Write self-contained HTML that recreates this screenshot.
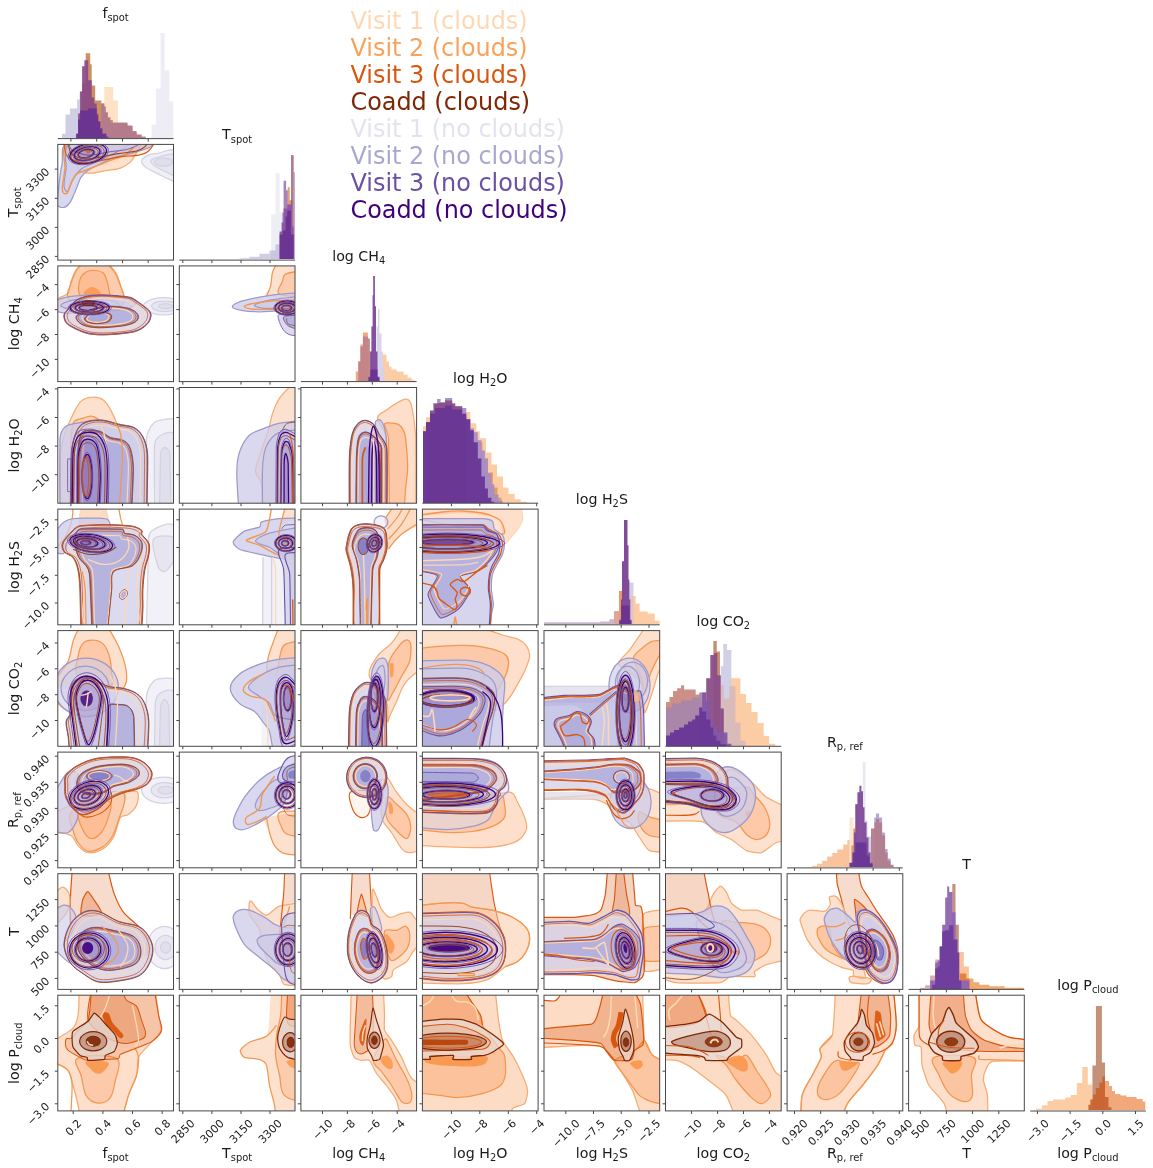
<!DOCTYPE html>
<html lang="en"><head><meta charset="utf-8"><title>Corner plot</title>
<style>
html,body{margin:0;padding:0;background:#fff}
svg{display:block}
text{font-family:"DejaVu Sans","Liberation Sans",sans-serif}
.ax{fill:none;stroke:#484848;stroke-width:1}
.tk{fill:none;stroke:#484848;stroke-width:1}
.tl{font-size:11px;fill:#1a1a1a}
</style></head>
<body>
<svg width="1153" height="1168" viewBox="0 0 1153 1168">
<rect width="1153" height="1168" fill="#fff"/>
<clipPath id="c10"><rect x="57.8" y="144.4" width="115.7" height="115.7"/></clipPath><g clip-path="url(#c10)"><path d="M141.5 161.1C142 159.1 145.7 156.4 148.5 155.1C151.4 153.7 154.5 153.6 158.6 153.1C162.7 152.5 172.4 147 175.2 151.5C178 156.1 175.8 177.6 175.2 180.2C174.6 182.8 171.1 180.1 168.7 179.2C166.2 178.4 163.3 176.5 160.6 175.2C157.9 173.8 155.1 172.5 152.6 171.2C150.1 169.8 147.4 168.8 145.5 167.1C143.7 165.5 141 163.1 141.5 161.1Z" fill="#dcdbe9" fill-opacity="0.45" stroke="#d3d2e4" stroke-width="1.25"/>
<path d="M150.6 161.1C150.9 159.4 155.1 157.9 158.6 157.1C162.1 156.2 172.4 152.2 175.2 155.1C178 157.9 176.6 171.3 175.2 174.2C173.8 177 169.8 173.3 166.7 172.2C163.6 171 159.3 169 156.6 167.1C153.9 165.3 150.2 162.8 150.6 161.1Z" fill="#dcdbe9" fill-opacity="0.45" stroke="#d3d2e4" stroke-width="1.25"/>
<path d="M172.7 162.1C172.7 162.8 172.2 163.5 171.5 164.1C170.7 164.7 169.5 165.3 168.2 165.6C166.9 165.9 165.1 166.1 163.6 166.1C162.1 166.1 160.4 165.9 159.1 165.6C157.8 165.3 156.5 164.7 155.8 164.1C155.1 163.5 154.6 162.8 154.6 162.1C154.6 161.4 155.1 160.7 155.8 160.1C156.5 159.5 157.8 159 159.1 158.6C160.4 158.3 162.1 158.1 163.6 158.1C165.1 158.1 166.9 158.3 168.2 158.6C169.5 159 170.7 159.5 171.5 160.1C172.2 160.7 172.7 161.4 172.7 162.1Z" fill="#dcdbe9" fill-opacity="0.68" stroke="#d3d2e4" stroke-width="1.25"/>
<path d="M78.1 142.8C70.1 145.6 76.9 161.1 77.1 164.1C77.3 167.2 77.8 169.7 80.1 171.2C82.5 172.7 87 173.3 91.2 173.2C95.4 173.1 100.4 171.5 105.3 170.7C110.1 169.8 116.2 169.6 120.4 168.1C124.6 166.7 128.2 164 130.4 162.1C132.6 160.2 133.3 158.8 134.5 156.1C135.6 153.4 143.9 144.1 138.5 142.8C133.1 141.5 86.2 140 78.1 142.8Z" fill="#fbc4a0" fill-opacity="0.5" stroke="#f6ab72" stroke-width="1.25"/>
<path d="M88.2 142.8C82.5 145.5 86.5 155.5 88.2 159.1C89.9 162.6 94.6 163.5 98.2 164.1C101.9 164.8 106.6 164.3 110.3 163.1C114 161.9 118.4 160.5 120.4 157.1C122.4 153.7 127.7 145.1 122.4 142.8C117.1 140.5 93.9 140.1 88.2 142.8Z" fill="none" stroke="#fdd8b3" stroke-width="1.25"/>
<path d="M68.1 142.8C59.4 144.8 63.5 157.2 62 164.1C60.5 171 59.8 177.5 59 184.2C58.3 190.9 56.9 201.5 57.5 204.4C58.1 207.2 61.9 207.7 64 207.4C66.1 207 68.3 205 70.1 202.4C71.8 199.7 74.3 193.5 76.1 189.3C78 185.1 79.1 180.4 81.1 177.2C83.2 174 85.3 172.2 88.2 170.2C91 168.1 94.6 167 98.2 165.1C101.9 163.3 105.3 160.9 110.3 159.1C115.3 157.2 122.1 155.9 128.4 154.1C134.8 152.2 146.2 149.1 148.5 148C150.9 146.9 155.2 143 152.6 142.8C149.9 142.6 76.7 140.8 68.1 142.8Z" fill="#cdcbe8" fill-opacity="0.75" stroke="#9d9aca" stroke-width="1.25"/>
<path d="M71.1 142.8C61.2 147 67.2 162.4 66 169.2C64.9 176 63.9 183.8 64 186.3C64.2 188.7 66 192.5 67.6 191.3C69.1 190.1 70.8 182.9 73.1 179.2C75.4 175.5 77.8 171.8 81.1 169.2C84.5 166.5 88.7 165.3 93.2 163.1C97.7 160.9 103.8 158.3 108.3 156.1C112.8 153.9 117 152.2 120.4 150C123.7 147.8 132.7 143.4 128.4 142.8C124.1 142.2 81 138.6 71.1 142.8Z" fill="#cdcbe8" fill-opacity="0.62" stroke="#9d9aca" stroke-width="1.25"/>
<path d="M69.1 142.8C59.1 146.6 66.1 162.3 65 169.2C64 176 62.7 183.8 62.5 186.3C62.3 188.7 62.3 191.1 63 192.3C63.8 193.5 66 194.5 67.1 193.3C68.2 192.1 69.6 186.4 71.1 183.2C72.6 180.1 74.1 176.2 76.1 174.2C78.1 172.2 80.3 172.3 83.2 171.2C86 170 93 167.1 98.2 165.1C103.4 163.1 109.6 160.9 114.3 159.1C119 157.2 123.2 156.8 126.4 154.1C129.6 151.3 138.7 143.8 133.5 142.8C128.2 141.8 79 139 69.1 142.8Z" fill="none" stroke="#f3974f" stroke-width="1.5"/>
<path d="M65 150C65.4 152.4 65.6 155.3 68.1 157.1C70.5 158.9 78.1 162.4 83.2 163.1C88.2 163.8 92.4 162.1 98.2 161.1C104.1 160.1 111.7 158.1 118.4 157.1C125.1 156.1 134.2 155.9 138.5 155.1C142.7 154.2 146.3 153.1 148.5 151C150.8 149 155.6 143.1 152.1 142.8C148.5 142.4 69 142.6 66 142.8C63.1 143 64.7 147.7 65 150Z" fill="#d9560f" fill-opacity="0.1" stroke="#d9560f" stroke-width="1.1"/>
<path d="M69.1 148C69.6 150.1 70.4 153.3 73.1 155.1C75.8 156.8 81.6 158.8 86.2 159.1C90.7 159.4 94.9 158 100.3 157.1C105.6 156.2 112.3 154.6 118.4 153.6C124.4 152.6 133 151.9 136.5 151C140 150.2 143.1 148.2 144.5 147C146 145.8 148.4 142.9 146.5 142.8C144.7 142.7 72.2 142.6 70.1 142.8C67.9 142.9 68.6 146 69.1 148Z" fill="none" stroke="#96482a" stroke-width="1.08"/>
<path d="M71.1 142.8C68.2 143.1 69.7 148.3 72.1 150C74.5 151.7 82.1 154.7 88.2 155.1C94.2 155.4 101.6 153.1 108.3 152C115 151 123.9 150.4 128.4 149C133 147.6 143.2 143.3 138.5 142.8C133.8 142.3 74 142.5 71.1 142.8Z" fill="#cfcdea" fill-opacity="0.75" stroke="#6a51a3" stroke-width="0.85"/>
<path d="M106.4 149.7C106.7 151.2 106.2 153.2 104.9 154.9C103.7 156.6 101.5 158.4 99 159.7C96.5 161.1 93.2 162.3 90.2 162.9C87.1 163.6 83.6 163.8 80.8 163.6C78 163.4 75.2 162.6 73.4 161.6C71.6 160.6 70.3 159 70 157.4C69.6 155.9 70.2 153.9 71.4 152.2C72.7 150.6 74.9 148.7 77.4 147.4C79.8 146.1 83.2 144.9 86.2 144.2C89.2 143.6 92.8 143.3 95.6 143.5C98.4 143.7 101.2 144.5 103 145.5C104.8 146.6 106.1 148.1 106.4 149.7Z" fill="#3f007d" fill-opacity="0.07" stroke="#3f007d" stroke-width="1.27"/>
<path d="M104 150.5C104.3 151.9 103.8 153.6 102.7 155.2C101.6 156.7 99.5 158.3 97.3 159.5C95.1 160.7 92.1 161.8 89.4 162.4C86.6 163 83.4 163.2 80.9 163C78.4 162.8 75.9 162.1 74.3 161.2C72.7 160.3 71.5 158.8 71.2 157.4C70.9 156 71.4 154.3 72.5 152.8C73.6 151.3 75.6 149.6 77.8 148.4C80.1 147.2 83.1 146.1 85.8 145.5C88.5 145 91.7 144.7 94.2 144.9C96.7 145.1 99.3 145.8 100.9 146.7C102.5 147.7 103.7 149.1 104 150.5Z" fill="none" stroke="#96482a" stroke-width="0.9"/>
<path d="M108.2 149.3C108.6 151 108 153.2 106.6 155C105.3 156.9 102.8 158.9 100.1 160.3C97.4 161.8 93.7 163.1 90.4 163.8C87 164.6 83.1 164.8 80.1 164.6C77 164.3 73.9 163.5 71.9 162.4C69.9 161.3 68.5 159.5 68.2 157.8C67.8 156.1 68.4 153.9 69.7 152.1C71.1 150.3 73.6 148.3 76.3 146.8C79 145.3 82.7 144 86 143.3C89.3 142.6 93.2 142.3 96.3 142.5C99.4 142.8 102.4 143.6 104.4 144.7C106.4 145.9 107.8 147.6 108.2 149.3Z" fill="none" stroke="#6a51a3" stroke-width="0.9"/>
<path d="M100 150.8C100.2 151.9 99.8 153.3 98.9 154.4C98.1 155.6 96.5 156.8 94.8 157.7C93 158.7 90.7 159.5 88.5 160C86.4 160.4 83.9 160.6 82 160.5C80 160.3 78 159.8 76.8 159.1C75.5 158.4 74.6 157.3 74.4 156.3C74.2 155.2 74.5 153.9 75.4 152.7C76.3 151.6 77.9 150.3 79.6 149.4C81.3 148.5 83.7 147.6 85.8 147.2C87.9 146.7 90.4 146.5 92.4 146.7C94.4 146.8 96.3 147.3 97.6 148C98.8 148.7 99.7 149.8 100 150.8Z" fill="#3f007d" fill-opacity="0.07" stroke="#3f007d" stroke-width="1.27"/>
<path d="M98.1 151.5C98.3 152.5 97.9 153.7 97.2 154.7C96.4 155.8 94.9 156.9 93.4 157.7C91.8 158.6 89.7 159.3 87.8 159.7C85.9 160.1 83.6 160.3 81.9 160.2C80.1 160 78.3 159.6 77.2 159C76.1 158.3 75.3 157.4 75.1 156.4C74.9 155.4 75.2 154.2 76 153.2C76.8 152.2 78.2 151 79.8 150.2C81.3 149.4 83.4 148.6 85.3 148.2C87.3 147.8 89.5 147.6 91.3 147.8C93 147.9 94.8 148.3 95.9 149C97.1 149.6 97.9 150.6 98.1 151.5Z" fill="none" stroke="#96482a" stroke-width="0.9"/>
<path d="M101.2 150.6C101.5 151.7 101.1 153.2 100.1 154.5C99.2 155.8 97.4 157.1 95.5 158.2C93.6 159.2 91 160.1 88.7 160.6C86.3 161.1 83.6 161.3 81.4 161.1C79.3 161 77.1 160.4 75.7 159.7C74.3 158.9 73.4 157.7 73.1 156.5C72.9 155.4 73.3 153.9 74.2 152.6C75.2 151.4 76.9 150 78.8 149C80.8 147.9 83.3 147 85.7 146.5C88 146 90.8 145.8 92.9 146C95.1 146.1 97.2 146.7 98.6 147.4C100 148.2 101 149.4 101.2 150.6Z" fill="none" stroke="#6a51a3" stroke-width="0.9"/>
<path d="M94 151.9C94.2 152.5 93.9 153.4 93.4 154.1C92.9 154.8 91.9 155.6 90.8 156.1C89.8 156.7 88.3 157.2 87 157.5C85.7 157.8 84.2 157.9 83 157.8C81.8 157.7 80.5 157.4 79.8 157C79 156.5 78.4 155.9 78.3 155.2C78.2 154.6 78.4 153.7 78.9 153C79.5 152.3 80.4 151.6 81.5 151C82.6 150.4 84 149.9 85.3 149.6C86.6 149.3 88.2 149.2 89.4 149.3C90.6 149.4 91.8 149.7 92.6 150.1C93.3 150.6 93.9 151.2 94 151.9Z" fill="#3f007d" fill-opacity="0.1" stroke="#3f007d" stroke-width="1.27"/>
<path d="M92.7 152.5C92.8 153 92.6 153.8 92.1 154.4C91.6 155.1 90.7 155.8 89.8 156.3C88.8 156.8 87.5 157.3 86.3 157.5C85.1 157.8 83.8 157.9 82.7 157.8C81.6 157.7 80.5 157.4 79.8 157C79.1 156.6 78.6 156.1 78.5 155.5C78.4 154.9 78.6 154.1 79.1 153.5C79.5 152.9 80.4 152.2 81.4 151.6C82.3 151.1 83.6 150.7 84.8 150.4C86 150.2 87.4 150.1 88.5 150.1C89.5 150.2 90.6 150.5 91.3 150.9C92 151.3 92.5 151.9 92.7 152.5Z" fill="none" stroke="#96482a" stroke-width="0.9"/>
<path d="M94.8 151.7C95 152.4 94.7 153.4 94.1 154.1C93.5 154.9 92.5 155.8 91.3 156.4C90.1 157 88.5 157.6 87.1 157.9C85.6 158.2 84 158.3 82.6 158.2C81.3 158.1 80 157.8 79.1 157.3C78.3 156.8 77.7 156.1 77.5 155.4C77.4 154.7 77.6 153.8 78.2 153C78.8 152.2 79.9 151.4 81 150.7C82.2 150.1 83.8 149.5 85.2 149.2C86.7 148.9 88.4 148.8 89.7 148.9C91 149 92.4 149.3 93.2 149.8C94.1 150.3 94.7 151 94.8 151.7Z" fill="none" stroke="#6a51a3" stroke-width="0.9"/>
<path d="M90.7 151.5C90.7 151.8 90.6 152.2 90.4 152.5C90.2 152.7 89.8 153 89.4 153.1C89.1 153.3 88.6 153.4 88.2 153.4C87.8 153.4 87.3 153.3 86.9 153.1C86.6 153 86.2 152.7 86 152.5C85.8 152.2 85.7 151.8 85.7 151.5C85.7 151.2 85.8 150.9 86 150.6C86.2 150.4 86.6 150.1 86.9 150C87.3 149.8 87.8 149.7 88.2 149.7C88.6 149.7 89.1 149.8 89.4 150C89.8 150.1 90.2 150.4 90.4 150.6C90.6 150.9 90.7 151.2 90.7 151.5Z" fill="#d9560f" fill-opacity="0.7"/></g>
<clipPath id="c20"><rect x="57.8" y="265.9" width="115.7" height="115.7"/></clipPath><g clip-path="url(#c20)"><path d="M57 299.2C58.8 297 65.7 296.2 68.1 293.2C70.4 290.1 69.7 284.9 71.1 281.1C72.4 277.2 74.1 272.9 76.1 270C78.1 267.2 83.2 264 83.2 264L106.3 264C106.3 264 112 268.3 114.3 272C116.7 275.7 118.7 281.6 120.4 286.1C122.1 290.6 124.7 295.5 124.4 299.2C124.1 302.9 122.6 307.1 118.4 308.3C114.2 309.4 98.4 309.6 88.2 309.3C78 308.9 59.7 307.1 57 306.2C54.3 305.4 55.2 301.4 57 299.2Z" fill="#fbc4a0" fill-opacity="0.5" stroke="#f6ab72" stroke-width="1.25"/>
<path d="M67.6 296.2C66.4 292.7 69.7 287.3 71.1 283.1C72.5 278.9 74.5 274.1 76.1 271C77.7 268 81.1 264 81.1 264L108.3 264C108.3 264 114.2 270 116.4 274C118.5 278.1 120.3 284.9 121.4 288.1C122.5 291.3 123.7 293.5 123.9 296.2C124.1 298.9 125 302.6 122.4 304.2C119.8 305.9 114 306.2 108.3 306.2C102.6 306.2 83.3 305.5 78.1 304.2C73 303 68.7 299.7 67.6 296.2Z" fill="#fb9d62" fill-opacity="0.3" stroke="#f3974f" stroke-width="1.25"/>
<path d="M79.1 293.2C77.8 289 79 282.6 80.1 279.1C81.3 275.6 83.8 273.5 86.2 272C88.5 270.6 91.4 270.4 94.2 270.5C97.1 270.7 101.1 271.1 103.3 273C105.5 275 106.3 278.9 107.3 282.1C108.3 285.3 108.8 288.6 109.3 292.2C109.8 295.7 113.8 301.2 110.3 303.2C106.8 305.2 93.4 305.9 88.2 304.2C83 302.6 80.5 297.4 79.1 293.2Z" fill="#fb9d62" fill-opacity="0.3" stroke="#f3974f" stroke-width="1.25"/>
<path d="M83.7 293.7C82.8 292.5 85.8 290.2 87.2 289.1C88.6 288 90.5 287.1 92.2 287.1C93.9 287.1 95.8 288 97.2 289.1C98.7 290.2 101.6 292.5 100.8 293.7C99.9 294.8 95.1 296.2 92.2 296.2C89.4 296.2 84.5 294.8 83.7 293.7Z" fill="#f9964a" fill-opacity="0.8"/>
<path d="M183.8 306.2L181.1 310.5C181.1 310.5 176.6 312.9 173.7 313.6C170.8 314.4 167 314.8 163.6 314.8C160.3 314.8 156.5 314.4 153.6 313.6C150.7 312.9 147.8 311.7 146.2 310.5C144.6 309.3 143.5 307.7 143.5 306.2C143.5 304.8 144.6 303.2 146.2 302C147.8 300.8 150.7 299.5 153.6 298.8C156.5 298.1 160.3 297.7 163.6 297.7C167 297.7 170.8 298.1 173.7 298.8C176.6 299.5 181.1 302 181.1 302L183.8 306.2Z" fill="#dcdbe9" fill-opacity="0.45" stroke="#d3d2e4" stroke-width="1.25"/>
<path d="M177.7 306.2L176 308.9C176 308.9 173.1 310.3 171.2 310.8C169.3 311.2 166.8 311.5 164.6 311.5C162.5 311.5 160 311.2 158.1 310.8C156.2 310.3 154.4 309.6 153.3 308.9C152.3 308.1 151.6 307.1 151.6 306.2C151.6 305.4 152.3 304.3 153.3 303.6C154.4 302.9 156.2 302.1 158.1 301.7C160 301.3 162.5 301 164.6 301C166.8 301 169.3 301.3 171.2 301.7C173.1 302.1 176 303.6 176 303.6L177.7 306.2Z" fill="#dcdbe9" fill-opacity="0.45" stroke="#d3d2e4" stroke-width="1.25"/>
<path d="M172.7 306.2C172.7 306.7 172.3 307.2 171.7 307.5C171.2 307.8 170.2 308.2 169.2 308.4C168.2 308.6 166.8 308.8 165.6 308.8C164.5 308.8 163.1 308.6 162.1 308.4C161.1 308.2 160.1 307.8 159.6 307.5C159 307.2 158.6 306.7 158.6 306.2C158.6 305.8 159 305.3 159.6 305C160.1 304.7 161.1 304.3 162.1 304.1C163.1 303.9 164.5 303.7 165.6 303.7C166.8 303.7 168.2 303.9 169.2 304.1C170.2 304.3 171.2 304.7 171.7 305C172.3 305.3 172.7 305.8 172.7 306.2Z" fill="#dcdbe9" fill-opacity="0.68" stroke="#d3d2e4" stroke-width="1.25"/>
<path d="M56 300.2C56 300.2 66.1 297 73.1 296.2C80.1 295.4 89.9 295 98.2 295.2C106.6 295.3 118 296.3 123.4 297.2C128.8 298 135.6 299.4 136.5 301.2C137.3 303.1 132.5 307.1 128.4 308.3C124.3 309.4 108.3 311.4 98.2 312.3C88.2 313.1 73 313.4 68.1 313.3C63.2 313.2 56 311.3 56 311.3L56 300.2Z" fill="#cdcbe8" fill-opacity="0.75" stroke="#9d9aca" stroke-width="1.25"/>
<path d="M61 305.2C61 303.6 67.9 301.2 73.1 300.2C78.2 299.2 86.5 299 93.2 299.2C99.9 299.4 110.6 300.4 113.3 301.2C116.1 302 120.9 304.9 118.4 306.2C115.9 307.6 105.8 308.6 98.2 309.3C90.7 309.9 78.3 310.8 73.1 310.3C67.9 309.7 61 306.9 61 305.2Z" fill="#cdcbe8" fill-opacity="0.75" stroke="#9d9aca" stroke-width="1.25"/>
<path d="M64 315.3C64.2 313.3 65.5 312 67.1 310.3C68.6 308.5 72.9 301.7 78.1 299.2C83.3 296.7 90 295.5 98.2 295.2C106.4 294.8 124.9 296.6 128.4 297.2C132 297.7 133.5 299.3 136.5 301.2C139.5 303.2 146.8 308.4 148.5 310.3C150.3 312.1 150.9 314 150.6 316.3C150.2 318.7 149.2 321.9 146.5 324.4C143.9 326.8 139.9 330 134.5 331.4C129.1 332.8 116 334.1 108.3 334.4C100.6 334.7 94.1 334.6 88.2 333.4C82.3 332.2 76.2 328.9 73.1 327.4C70 325.8 67.6 324.4 66 322.3C64.5 320.3 63.9 317.3 64 315.3Z" fill="#cfcdea" fill-opacity="0.75"/>
<path d="M64.3 315.6C64.5 313.6 65.8 312.3 67.4 310.6C68.9 308.8 73.2 302 78.4 299.5C83.6 297 90.3 295.8 98.5 295.5C106.7 295.1 125.2 296.9 128.7 297.5C132.3 298.1 133.8 299.6 136.8 301.5C139.8 303.5 147.1 308.7 148.8 310.6C150.6 312.4 151.2 314.3 150.9 316.6C150.5 319 149.5 322.2 146.8 324.7C144.2 327.1 140.2 330.3 134.8 331.7C129.4 333.1 116.3 334.4 108.6 334.7C100.9 335.1 94.4 334.9 88.5 333.7C82.6 332.5 76.5 329.2 73.4 327.7C70.3 326.1 67.9 324.7 66.4 322.6C64.8 320.6 64.2 317.6 64.3 315.6Z" fill="none" stroke="#96482a" stroke-width="0.94"/>
<path d="M63.8 315.5C64 313.5 65.3 312.2 66.9 310.5C68.4 308.7 72.7 301.9 77.9 299.4C83.1 296.9 89.8 295.7 98 295.4C106.2 295 124.7 296.8 128.2 297.4C131.8 298 133.3 299.5 136.3 301.4C139.3 303.4 146.6 308.6 148.3 310.5C150.1 312.3 150.7 314.2 150.4 316.5C150 318.9 149 322.1 146.3 324.6C143.7 327 139.7 330.2 134.3 331.6C128.9 333 115.8 334.3 108.1 334.6C100.4 334.9 93.8 334.8 88 333.6C82.1 332.4 76 329.1 72.9 327.6C69.8 326 67.4 324.6 65.8 322.5C64.3 320.5 63.7 317.5 63.8 315.5Z" fill="none" stroke="#d9560f" stroke-width="0.85"/>
<path d="M64.2 315C64.4 313 65.7 311.7 67.3 310C68.8 308.2 73.1 301.4 78.3 298.9C83.5 296.4 90.2 295.2 98.4 294.9C106.6 294.5 125.1 296.3 128.6 296.9C132.2 297.4 133.7 298.9 136.7 300.9C139.7 302.9 147 308.1 148.7 310C150.5 311.8 151.1 313.7 150.8 316C150.4 318.3 149.4 321.6 146.7 324.1C144.1 326.5 140.1 329.7 134.7 331.1C129.3 332.5 116.2 333.8 108.5 334.1C100.8 334.4 94.3 334.3 88.4 333.1C82.5 331.9 76.4 328.6 73.3 327.1C70.2 325.5 67.8 324.1 66.2 322C64.7 320 64.1 317 64.2 315Z" fill="none" stroke="#6a51a3" stroke-width="0.94"/>
<path d="M67.2 315C67.4 313.1 68.6 312 70 310.3C71.4 308.7 75.5 302.4 80.3 300C85.1 297.7 91.4 296.6 99 296.3C106.6 296 123.8 297.7 127.1 298.2C130.4 298.7 131.8 300.1 134.6 301.9C137.4 303.7 144.2 308.6 145.8 310.3C147.4 312.1 148 313.8 147.7 316C147.3 318.1 146.4 321.1 143.9 323.4C141.5 325.7 137.7 328.7 132.7 330C127.7 331.3 115.5 332.5 108.4 332.8C101.2 333.1 95.1 332.9 89.7 331.9C84.2 330.8 78.5 327.7 75.6 326.2C72.7 324.8 70.5 323.4 69.1 321.6C67.7 319.7 67 316.9 67.2 315Z" fill="none" stroke="#d9560f" stroke-width="0.8"/>
<path d="M71.8 315C72 313.4 73.1 312.4 74.3 310.9C75.6 309.5 79.1 303.9 83.4 301.8C87.7 299.8 93.2 298.8 99.9 298.5C106.6 298.3 121.7 299.7 124.6 300.2C127.6 300.7 128.8 301.9 131.2 303.5C133.7 305.1 139.7 309.4 141.1 310.9C142.6 312.4 143.1 313.9 142.8 315.9C142.5 317.8 141.6 320.5 139.5 322.5C137.3 324.5 134 327.1 129.6 328.2C125.2 329.4 114.5 330.4 108.1 330.7C101.8 331 96.5 330.9 91.6 329.9C86.8 328.9 81.8 326.2 79.3 324.9C76.7 323.7 74.7 322.5 73.5 320.8C72.3 319.2 71.7 316.7 71.8 315Z" fill="none" stroke="#fdd8b3" stroke-width="1.1"/>
<path d="M76.1 316.3C77.1 314 83 311.9 88.2 310.3C93.3 308.7 101.6 306.6 108.3 306.2C115 305.9 124.2 307.1 128.4 308.3C132.6 309.4 136.3 312.1 137.5 314.3C138.7 316.5 137.8 319.5 135.5 321.3C133.2 323.1 128.4 324.5 123.4 325.4C118.4 326.2 104.8 327.5 98.2 327.4C91.7 327.2 85.7 326.2 82.1 324.4C78.5 322.6 75.1 318.7 76.1 316.3Z" fill="#aaa6d9" fill-opacity="0.75" stroke="#6a51a3" stroke-width="0.85"/>
<path d="M78.4 316.4C79.3 314.2 84.8 312.2 89.6 310.7C94.4 309.2 102.1 307.3 108.3 307C114.6 306.7 123.1 307.8 127 308.9C130.9 309.9 134.4 312.5 135.5 314.5C136.6 316.5 135.7 319.4 133.6 321C131.4 322.7 127 324 122.4 324.8C117.7 325.5 105.1 326.8 99 326.7C92.9 326.5 87.3 325.5 84 323.8C80.7 322.2 77.5 318.5 78.4 316.4Z" fill="none" stroke="#d9560f" stroke-width="0.8"/>
<path d="M82 316.4C82.8 314.5 87.6 312.8 91.9 311.5C96.1 310.2 102.9 308.5 108.4 308.2C113.9 307.9 121.4 308.9 124.9 309.8C128.3 310.8 131.3 313 132.3 314.8C133.3 316.6 132.5 319.1 130.6 320.6C128.7 322.1 124.9 323.2 120.7 323.9C116.6 324.5 105.5 325.7 100.1 325.5C94.7 325.4 89.9 324.5 86.9 323C84 321.6 81.1 318.4 82 316.4Z" fill="none" stroke="#fdd8b3" stroke-width="1.1"/>
<path d="M76.5 316.7C77.5 314.4 83.4 312.3 88.6 310.7C93.7 309.1 102 307 108.7 306.6C115.4 306.3 124.6 307.5 128.8 308.7C133 309.8 136.7 312.5 137.9 314.7C139.1 316.9 138.2 319.9 135.9 321.7C133.6 323.5 128.8 324.9 123.8 325.8C118.8 326.6 105.2 327.9 98.6 327.8C92.1 327.6 86.1 326.6 82.5 324.8C78.9 323 75.5 319.1 76.5 316.7Z" fill="none" stroke="#96482a" stroke-width="0.94"/>
<path d="M84.7 318.3C85.3 316.9 88 314.3 91.2 313.3C94.4 312.3 101.2 312 104.3 312.3C107.3 312.6 110.7 313.8 111.3 315.3C112 316.8 110.7 320.1 108.3 321.3C105.9 322.6 99.8 323.3 96.2 323.3C92.7 323.4 88.8 322.5 87.2 321.8C85.6 321.1 84 319.7 84.7 318.3Z" fill="#aaa6d9" fill-opacity="0.75" stroke="#6a51a3" stroke-width="0.85"/>
<path d="M85.6 318.3C86.2 317 88.7 314.5 91.6 313.6C94.6 312.7 101 312.4 103.8 312.7C106.6 313 109.7 314.1 110.4 315.5C111 316.9 109.8 319.9 107.6 321.1C105.3 322.3 99.6 322.9 96.3 323C93.1 323 89.4 322.2 87.9 321.6C86.4 320.9 84.9 319.6 85.6 318.3Z" fill="none" stroke="#d9560f" stroke-width="0.8"/>
<path d="M87 318.3C87.5 317.1 89.8 314.9 92.4 314.1C94.9 313.3 100.6 313.1 103.1 313.3C105.6 313.6 108.3 314.5 108.9 315.8C109.4 317 108.3 319.7 106.4 320.7C104.4 321.8 99.4 322.3 96.5 322.4C93.6 322.4 90.4 321.7 89.1 321.1C87.8 320.6 86.4 319.4 87 318.3Z" fill="none" stroke="#fdd8b3" stroke-width="1.1"/>
<path d="M85 318.6C85.6 317.2 88.3 314.6 91.5 313.6C94.7 312.6 101.5 312.3 104.6 312.6C107.6 312.9 111 314.1 111.6 315.6C112.3 317.1 111 320.4 108.6 321.6C106.2 322.9 100.1 323.6 96.5 323.6C93 323.7 89.1 322.8 87.5 322.1C85.9 321.4 84.3 320 85 318.6Z" fill="none" stroke="#96482a" stroke-width="0.94"/>
<path d="M109.3 307.8C109.3 308.8 108.1 310.2 106.7 311C105.2 311.9 102.3 312.9 99.5 313.4C96.7 314 93 314.3 89.7 314.3C86.4 314.3 82.7 314 79.9 313.4C77.1 312.9 74.2 311.9 72.7 311C71.2 310.2 70.1 308.8 70.1 307.8C70.1 306.7 71.2 305.3 72.7 304.5C74.2 303.6 77.1 302.6 79.9 302.1C82.7 301.5 86.4 301.2 89.7 301.2C93 301.2 96.7 301.5 99.5 302.1C102.3 302.6 105.2 303.6 106.7 304.5C108.1 305.3 109.3 306.7 109.3 307.8Z" fill="#3f007d" fill-opacity="0.07" stroke="#3f007d" stroke-width="1.27"/>
<path d="M106.7 308.2C106.7 309.1 105.7 310.3 104.4 311.1C103.1 311.9 100.5 312.8 97.9 313.3C95.4 313.7 92 314 89.1 314C86.1 314 82.8 313.7 80.3 313.3C77.7 312.8 75.1 311.9 73.8 311.1C72.5 310.3 71.4 309.1 71.4 308.2C71.4 307.2 72.5 306 73.8 305.2C75.1 304.5 77.7 303.5 80.3 303.1C82.8 302.6 86.1 302.3 89.1 302.3C92 302.3 95.4 302.6 97.9 303.1C100.5 303.5 103.1 304.5 104.4 305.2C105.7 306 106.7 307.2 106.7 308.2Z" fill="none" stroke="#96482a" stroke-width="0.9"/>
<path d="M111.3 307.8C111.3 309 110 310.4 108.4 311.3C106.8 312.3 103.6 313.4 100.5 314C97.4 314.6 93.3 314.9 89.7 314.9C86.1 314.9 82 314.6 78.9 314C75.8 313.4 72.6 312.3 71 311.3C69.4 310.4 68.1 309 68.1 307.8C68.1 306.6 69.4 305.1 71 304.2C72.6 303.2 75.8 302.1 78.9 301.5C82 300.9 86.1 300.6 89.7 300.6C93.3 300.6 97.4 300.9 100.5 301.5C103.6 302.1 106.8 303.2 108.4 304.2C110 305.1 111.3 306.6 111.3 307.8Z" fill="none" stroke="#6a51a3" stroke-width="0.9"/>
<path d="M103.3 307.8C103.3 308.5 102.4 309.4 101.4 310C100.4 310.6 98.3 311.3 96.2 311.7C94.2 312.1 91.5 312.3 89.2 312.3C86.8 312.3 84.2 312.1 82.1 311.7C80.1 311.3 78 310.6 77 310C76 309.4 75.1 308.5 75.1 307.8C75.1 307 76 306.1 77 305.5C78 304.9 80.1 304.2 82.1 303.8C84.2 303.5 86.8 303.2 89.2 303.2C91.5 303.2 94.2 303.5 96.2 303.8C98.3 304.2 100.4 304.9 101.4 305.5C102.4 306.1 103.3 307 103.3 307.8Z" fill="#3f007d" fill-opacity="0.07" stroke="#3f007d" stroke-width="1.27"/>
<path d="M101.3 308.2C101.3 308.8 100.5 309.7 99.6 310.2C98.6 310.7 96.8 311.3 94.9 311.7C93.1 312 90.7 312.2 88.6 312.2C86.5 312.2 84.1 312 82.2 311.7C80.4 311.3 78.5 310.7 77.6 310.2C76.7 309.7 75.9 308.8 75.9 308.2C75.9 307.5 76.7 306.6 77.6 306.1C78.5 305.6 80.4 305 82.2 304.6C84.1 304.3 86.5 304.1 88.6 304.1C90.7 304.1 93.1 304.3 94.9 304.6C96.8 305 98.6 305.6 99.6 306.1C100.5 306.6 101.3 307.5 101.3 308.2Z" fill="none" stroke="#96482a" stroke-width="0.9"/>
<path d="M104.7 307.8C104.7 308.6 103.7 309.6 102.6 310.2C101.5 310.9 99.2 311.6 96.9 312.1C94.7 312.5 91.8 312.7 89.2 312.7C86.6 312.7 83.7 312.5 81.4 312.1C79.2 311.6 76.9 310.9 75.8 310.2C74.6 309.6 73.7 308.6 73.7 307.8C73.7 306.9 74.6 305.9 75.8 305.3C76.9 304.6 79.2 303.9 81.4 303.4C83.7 303 86.6 302.8 89.2 302.8C91.8 302.8 94.7 303 96.9 303.4C99.2 303.9 101.5 304.6 102.6 305.3C103.7 305.9 104.7 306.9 104.7 307.8Z" fill="none" stroke="#6a51a3" stroke-width="0.9"/>
<path d="M97.2 307.8C97.2 308.2 96.7 308.8 96 309.2C95.4 309.5 94 310 92.7 310.2C91.4 310.4 89.7 310.6 88.2 310.6C86.7 310.6 85 310.4 83.7 310.2C82.3 310 81 309.5 80.3 309.2C79.7 308.8 79.1 308.2 79.1 307.8C79.1 307.3 79.7 306.7 80.3 306.3C81 306 82.3 305.5 83.7 305.3C85 305.1 86.7 304.9 88.2 304.9C89.7 304.9 91.4 305.1 92.7 305.3C94 305.5 95.4 306 96 306.3C96.7 306.7 97.2 307.3 97.2 307.8Z" fill="#3f007d" fill-opacity="0.1" stroke="#3f007d" stroke-width="1.27"/>
<path d="M95.7 308.2C95.7 308.6 95.2 309.1 94.6 309.4C94 309.7 92.8 310.1 91.7 310.4C90.5 310.6 88.9 310.7 87.6 310.7C86.2 310.7 84.7 310.6 83.5 310.4C82.3 310.1 81.1 309.7 80.5 309.4C79.9 309.1 79.4 308.6 79.4 308.2C79.4 307.7 79.9 307.2 80.5 306.9C81.1 306.6 82.3 306.2 83.5 306C84.7 305.7 86.2 305.6 87.6 305.6C88.9 305.6 90.5 305.7 91.7 306C92.8 306.2 94 306.6 94.6 306.9C95.2 307.2 95.7 307.7 95.7 308.2Z" fill="none" stroke="#96482a" stroke-width="0.9"/>
<path d="M98.1 307.8C98.1 308.3 97.5 308.9 96.8 309.3C96.1 309.7 94.6 310.2 93.2 310.4C91.7 310.7 89.8 310.9 88.2 310.9C86.5 310.9 84.6 310.7 83.2 310.4C81.8 310.2 80.3 309.7 79.6 309.3C78.8 308.9 78.2 308.3 78.2 307.8C78.2 307.2 78.8 306.6 79.6 306.2C80.3 305.8 81.8 305.3 83.2 305.1C84.6 304.8 86.5 304.7 88.2 304.7C89.8 304.7 91.7 304.8 93.2 305.1C94.6 305.3 96.1 305.8 96.8 306.2C97.5 306.6 98.1 307.2 98.1 307.8Z" fill="none" stroke="#6a51a3" stroke-width="0.9"/>
<path d="M94.2 303.2C94.2 303.6 93.9 304.1 93.4 304.5C92.9 304.8 92.1 305.2 91.2 305.4C90.3 305.6 89.2 305.7 88.2 305.7C87.2 305.7 86 305.6 85.2 305.4C84.3 305.2 83.4 304.8 83 304.5C82.5 304.1 82.1 303.6 82.1 303.2C82.1 302.8 82.5 302.3 83 302C83.4 301.6 84.3 301.3 85.2 301C86 300.8 87.2 300.7 88.2 300.7C89.2 300.7 90.3 300.8 91.2 301C92.1 301.3 92.9 301.6 93.4 302C93.9 302.3 94.2 302.8 94.2 303.2Z" fill="#7f2704" fill-opacity="0.3" stroke="#7f2704" stroke-width="1.02"/></g>
<clipPath id="c21"><rect x="179.3" y="265.9" width="115.7" height="115.7"/></clipPath><g clip-path="url(#c21)"><path d="M309.8 263L277.6 263C277.6 263 273.7 268.2 272.6 272C271.4 275.9 271.6 282.1 270.6 286.1C269.5 290.1 262.4 294.9 266.5 296.2C270.7 297.5 309.8 298.2 309.8 298.2L309.8 263Z" fill="#fbc4a0" fill-opacity="0.5"/>
<path d="M277.6 263C277.6 263 273.7 268.2 272.6 272C271.4 275.9 271.6 282.1 270.6 286.1C269.5 290.1 266.5 296.2 266.5 296.2" fill="none" stroke="#f3974f" stroke-width="1.25"/>
<path d="M309.8 269C309.8 269 288.4 272.8 285.6 274C282.8 275.3 283.5 278.2 282.6 281.1C281.7 284 275.1 291.7 279.6 294.2C284.1 296.7 309.8 296.2 309.8 296.2L309.8 269Z" fill="#fb9d62" fill-opacity="0.3" stroke="#f3974f" stroke-width="1.25"/>
<path d="M232.3 306.7C232.3 305.2 237.4 302.6 241.4 301.2C245.4 299.8 253.1 298.4 259.5 297.2C265.9 296 271.5 295 279.6 294.2C287.7 293.4 309.8 292.2 309.8 292.2L309.8 311.3C309.8 311.3 287.7 310.7 279.6 310.8C271.5 310.9 265.9 311.9 259.5 311.8C253.1 311.7 245.2 311 241.4 310.3C237.6 309.6 232.3 308.3 232.3 306.7Z" fill="#cdcbe8" fill-opacity="0.75" stroke="#9d9aca" stroke-width="1.25"/>
<path d="M254.5 305.2C255.3 303.9 263.3 301.3 269.5 300.2C275.8 299.1 309.8 295.2 309.8 295.2L309.8 309.3C309.8 309.3 285.6 308.4 279.6 308.3C273.6 308.1 268.7 308.8 264.5 308.3C260.3 307.8 253.6 306.6 254.5 305.2Z" fill="#cdcbe8" fill-opacity="0.75" stroke="#9d9aca" stroke-width="1.25"/>
<path d="M309.8 299.2C309.8 299.2 276.8 300.6 269.5 301.2C262.3 301.8 254.4 303.1 251.4 303.7C248.4 304.4 243.9 305.8 244.4 306.7C244.9 307.7 250.3 308.9 254.5 309.3C258.6 309.6 266.5 309.1 274.6 309.3C282.6 309.4 309.8 310.3 309.8 310.3" fill="none" stroke="#f3974f" stroke-width="1.4"/>
<path d="M279.6 314.3C276.5 315.2 278.8 319.5 279.6 322.3C280.4 325.2 282.5 329.2 284.6 331.4C286.8 333.6 289.1 334.9 292.7 335.4C296.2 336 309.8 335.4 309.8 335.4L309.8 313.3C309.8 313.3 282.7 313.4 279.6 314.3Z" fill="#cfcdea" fill-opacity="0.75" stroke="#6a51a3" stroke-width="0.85"/>
<path d="M284.6 316.3C281.5 317.5 284.9 322.3 286.6 324.4C288.4 326.4 291.3 327.7 295 328.4C298.7 329 309.8 328.4 309.8 328.4L309.8 315.3C309.8 315.3 287.7 315.1 284.6 316.3Z" fill="#aaa6d9" fill-opacity="0.75" stroke="#6a51a3" stroke-width="0.85"/>
<path d="M286.6 318.3C286.6 318.3 286.3 323.4 288.7 324.4C291 325.3 309.8 327.4 309.8 327.4" fill="none" stroke="#96482a" stroke-width="0.72"/>
<path d="M299.2 307.8L297.6 311.2C297.6 311.2 294.9 313.1 293.2 313.7C291.4 314.2 289.2 314.6 287.2 314.6C285.1 314.6 282.9 314.2 281.1 313.7C279.4 313.1 277.7 312.2 276.7 311.2C275.7 310.2 275.1 308.9 275.1 307.8C275.1 306.6 275.7 305.3 276.7 304.3C277.7 303.3 279.4 302.4 281.1 301.8C282.9 301.3 285.1 300.9 287.2 300.9C289.2 300.9 291.4 301.3 293.2 301.8C294.9 302.4 297.6 304.3 297.6 304.3L299.2 307.8Z" fill="#3f007d" fill-opacity="0.07" stroke="#3f007d" stroke-width="1.27"/>
<path d="M297.4 308.2C297.4 308.2 296.9 310.3 296 311.2C295.1 312.1 293.6 313 292 313.5C290.4 314 288.4 314.3 286.5 314.3C284.7 314.3 282.7 314 281.1 313.5C279.5 313 278 312.1 277.1 311.2C276.2 310.3 275.7 309.2 275.7 308.2C275.7 307.1 276.2 306 277.1 305.1C278 304.2 279.5 303.3 281.1 302.8C282.7 302.3 284.7 302 286.5 302C288.4 302 290.4 302.3 292 302.8C293.6 303.3 295.1 304.2 296 305.1C296.9 306 297.4 308.2 297.4 308.2Z" fill="none" stroke="#96482a" stroke-width="0.9"/>
<path d="M300.4 307.8L298.7 311.5C298.7 311.5 295.7 313.6 293.8 314.3C291.9 314.9 289.4 315.3 287.2 315.3C284.9 315.3 282.4 314.9 280.5 314.3C278.6 313.6 276.8 312.6 275.7 311.5C274.5 310.4 273.9 309 273.9 307.8C273.9 306.5 274.5 305.1 275.7 304C276.8 302.9 278.6 301.9 280.5 301.2C282.4 300.6 284.9 300.2 287.2 300.2C289.4 300.2 291.9 300.6 293.8 301.2C295.7 301.9 298.7 304 298.7 304L300.4 307.8Z" fill="none" stroke="#6a51a3" stroke-width="0.9"/>
<path d="M295.7 307.8C295.7 308.5 295.3 309.4 294.6 310.1C293.8 310.8 292.7 311.5 291.4 311.8C290.2 312.2 288.6 312.5 287.2 312.5C285.7 312.5 284.1 312.2 282.9 311.8C281.6 311.5 280.5 310.8 279.7 310.1C279 309.4 278.6 308.5 278.6 307.8C278.6 307 279 306.1 279.7 305.4C280.5 304.7 281.6 304.1 282.9 303.7C284.1 303.3 285.7 303 287.2 303C288.6 303 290.2 303.3 291.4 303.7C292.7 304.1 293.8 304.7 294.6 305.4C295.3 306.1 295.7 307 295.7 307.8Z" fill="#3f007d" fill-opacity="0.07" stroke="#3f007d" stroke-width="1.27"/>
<path d="M294.2 308.2C294.2 308.9 293.9 309.7 293.2 310.3C292.6 310.9 291.5 311.5 290.4 311.8C289.3 312.2 287.8 312.4 286.5 312.4C285.3 312.4 283.8 312.2 282.7 311.8C281.6 311.5 280.5 310.9 279.9 310.3C279.2 309.7 278.9 308.9 278.9 308.2C278.9 307.4 279.2 306.6 279.9 306C280.5 305.4 281.6 304.8 282.7 304.5C283.8 304.1 285.3 303.9 286.5 303.9C287.8 303.9 289.3 304.1 290.4 304.5C291.5 304.8 292.6 305.4 293.2 306C293.9 306.6 294.2 307.4 294.2 308.2Z" fill="none" stroke="#96482a" stroke-width="0.9"/>
<path d="M296.6 307.8C296.6 307.8 296.1 309.6 295.3 310.4C294.5 311.1 293.2 311.8 291.9 312.3C290.5 312.7 288.7 313 287.2 313C285.6 313 283.8 312.7 282.4 312.3C281.1 311.8 279.8 311.1 279 310.4C278.2 309.6 277.7 308.6 277.7 307.8C277.7 306.9 278.2 305.9 279 305.2C279.8 304.4 281.1 303.7 282.4 303.2C283.8 302.8 285.6 302.6 287.2 302.6C288.7 302.6 290.5 302.8 291.9 303.2C293.2 303.7 294.5 304.4 295.3 305.2C296.1 305.9 296.6 307.8 296.6 307.8Z" fill="none" stroke="#6a51a3" stroke-width="0.9"/>
<path d="M291.7 308.1C291.7 308.5 291.4 309 291 309.4C290.6 309.8 289.9 310.2 289.2 310.4C288.4 310.6 287.5 310.8 286.6 310.8C285.8 310.8 284.9 310.6 284.1 310.4C283.4 310.2 282.7 309.8 282.3 309.4C281.9 309 281.6 308.5 281.6 308.1C281.6 307.6 281.9 307.1 282.3 306.7C282.7 306.3 283.4 305.9 284.1 305.7C284.9 305.5 285.8 305.3 286.6 305.3C287.5 305.3 288.4 305.5 289.2 305.7C289.9 305.9 290.6 306.3 291 306.7C291.4 307.1 291.7 307.6 291.7 308.1Z" fill="#3f007d" fill-opacity="0.1" stroke="#3f007d" stroke-width="1.27"/>
<path d="M290.6 308.5C290.6 308.9 290.3 309.3 290 309.7C289.6 310 289 310.4 288.3 310.6C287.7 310.8 286.8 310.9 286 310.9C285.3 310.9 284.4 310.8 283.8 310.6C283.1 310.4 282.5 310 282.1 309.7C281.7 309.3 281.5 308.9 281.5 308.5C281.5 308 281.7 307.6 282.1 307.2C282.5 306.9 283.1 306.5 283.8 306.3C284.4 306.1 285.3 306 286 306C286.8 306 287.7 306.1 288.3 306.3C289 306.5 289.6 306.9 290 307.2C290.3 307.6 290.6 308 290.6 308.5Z" fill="none" stroke="#96482a" stroke-width="0.9"/>
<path d="M292.2 308.1C292.2 308.6 291.9 309.1 291.4 309.5C291 310 290.2 310.4 289.4 310.6C288.6 310.9 287.6 311 286.6 311C285.7 311 284.7 310.9 283.9 310.6C283.1 310.4 282.3 310 281.9 309.5C281.4 309.1 281.1 308.6 281.1 308.1C281.1 307.6 281.4 307 281.9 306.6C282.3 306.1 283.1 305.7 283.9 305.5C284.7 305.2 285.7 305.1 286.6 305.1C287.6 305.1 288.6 305.2 289.4 305.5C290.2 305.7 291 306.1 291.4 306.6C291.9 307 292.2 307.6 292.2 308.1Z" fill="none" stroke="#6a51a3" stroke-width="0.9"/></g>
<clipPath id="c30"><rect x="57.8" y="387.5" width="115.7" height="115.7"/></clipPath><g clip-path="url(#c30)"><path d="M146.5 518.8C146.5 518.8 146.5 510.3 146.5 504.7C146.5 499.1 146 444.9 146.5 438.3C147.1 431.7 150.7 426.3 153.6 423.2C156.4 420.1 160 420 163.6 419.7C167.2 419.4 174.7 416.6 175.2 421.2C175.7 425.8 175.2 518.8 175.2 518.8L146.5 518.8Z" fill="#dcdbe9" fill-opacity="0.38" stroke="#d3d2e4" stroke-width="1.25"/>
<path d="M154.6 518.8C154.6 518.8 154.6 510.3 154.6 504.7C154.6 499.1 154 449.5 154.6 444.3C155.2 439.2 159.2 435.8 162.6 434.3C166.1 432.8 174.5 430.3 175.2 435.3C176 440.3 175.2 518.8 175.2 518.8L154.6 518.8Z" fill="#dcdbe9" fill-opacity="0.45" stroke="#d3d2e4" stroke-width="1.25"/>
<path d="M159.6 518.8C159.6 518.8 159.5 510.3 159.6 504.7C159.7 499.1 160.4 456.3 160.6 453.4C160.9 450.5 163.1 447.4 164.6 447.4C166.2 447.4 169.3 450.3 169.7 453.4C170 456.5 170.6 499.1 170.7 504.7C170.8 510.3 170.7 518.8 170.7 518.8L159.6 518.8Z" fill="#dcdbe9" fill-opacity="0.68" stroke="#d3d2e4" stroke-width="1.25"/>
<path d="M60 518.8C60 518.8 59.6 467.4 60 458.4C60.5 449.4 62 443.3 64 436.3C66 429.2 69.2 422 72.1 416.2C74.9 410.3 77.6 404.3 81.1 401.1C84.7 397.9 89.5 397.2 93.2 397.1C96.9 396.9 100.3 397.7 103.3 400.1C106.3 402.4 108.8 406.4 111.3 411.1C113.8 415.8 116.5 422 118.4 428.2C120.2 434.4 121.8 440.2 122.4 448.4C122.9 456.6 124.4 518.8 124.4 518.8L60 518.8Z" fill="#fbc4a0" fill-opacity="0.5" stroke="#f6ab72" stroke-width="1.25"/>
<path d="M70.1 518.8C70.1 518.8 70.3 458.5 70.6 448.4C70.9 438.3 71.4 427.4 73.1 423.2C74.8 419.1 80 419.4 83.2 418.2C86.3 417 89.2 415.3 92.2 416.2C95.2 417 98.9 419.5 101.3 423.2C103.6 426.9 105.8 432 106.3 438.3C106.8 444.6 108.3 518.8 108.3 518.8L70.1 518.8Z" fill="#fb9d62" fill-opacity="0.3" stroke="#f3974f" stroke-width="1.25"/>
<path d="M60 518.8C60 518.8 59.7 443.7 60 438.3C60.4 432.9 62.2 428.9 66 426.2C69.9 423.5 77.5 423.2 83.2 422.2C88.9 421.2 94.4 419.9 100.3 420.2C106.1 420.5 112.7 422.9 118.4 424.2C124.1 425.6 130.3 425.9 134.5 428.2C138.7 430.6 141.3 434.1 143.5 438.3C145.7 442.5 146.9 447.2 147.5 453.4C148.2 459.6 147.8 468.5 147.5 478.5C147.2 488.6 145.5 518.8 145.5 518.8L60 518.8Z" fill="#cdcbe8" fill-opacity="0.8" stroke="#9d9aca" stroke-width="1.25"/>
<path d="M71.1 518.8C71.1 518.8 71.4 456.7 72.1 448.4C72.7 440 75.6 432.5 78.1 428.2C80.6 424 84 422.5 88.2 421.2C92.4 419.9 98.2 419.7 103.3 420.2C108.3 420.7 113.3 423 118.4 424.2C123.4 425.4 129.4 425.2 133.5 427.2C137.5 429.2 140.2 431.9 142.5 436.3C144.8 440.7 146.7 446.3 147 453.4C147.4 460.5 146.5 518.8 146.5 518.8L71.1 518.8Z" fill="#cfcdea" fill-opacity="0.75" stroke="#6a51a3" stroke-width="0.85"/>
<path d="M73.8 514C73.8 514 74.1 456.2 74.7 448.5C75.3 440.7 78 433.7 80.4 429.7C82.7 425.8 85.8 424.4 89.7 423.2C93.6 421.9 99.1 421.8 103.7 422.3C108.4 422.7 113.1 424.9 117.8 426C122.5 427.1 128.1 426.9 131.8 428.8C135.6 430.7 138.1 433.2 140.2 437.2C142.3 441.3 144.1 446.6 144.4 453.1C144.8 459.7 144 514 144 514L73.8 514Z" fill="none" stroke="#d9560f" stroke-width="0.8"/>
<path d="M78.1 506.3C78.1 506.3 78.4 455.5 78.9 448.6C79.5 441.7 81.8 435.6 83.9 432.1C85.9 428.6 88.7 427.4 92.1 426.3C95.6 425.2 100.4 425.1 104.5 425.5C108.6 425.9 112.7 427.8 116.9 428.8C121 429.8 125.9 429.6 129.2 431.3C132.5 432.9 134.8 435.1 136.7 438.7C138.5 442.3 140.1 446.9 140.4 452.7C140.7 458.5 140 506.3 140 506.3L78.1 506.3Z" fill="none" stroke="#fdd8b3" stroke-width="1.1"/>
<path d="M71.4 518.8C71.4 518.8 71.7 456.6 72.4 448.4C73 440.1 76 432.6 78.4 428.5C80.9 424.4 84 423 88.2 421.7C92.3 420.4 98.2 420.2 103.3 420.7C108.3 421.2 113.3 423.5 118.4 424.7C123.4 425.9 129.4 425.7 133.5 427.7C137.5 429.8 140.5 432.5 142.8 436.8C145.1 441.1 147 446.5 147.3 453.4C147.7 460.3 146.9 518.8 146.9 518.8L71.4 518.8Z" fill="none" stroke="#96482a" stroke-width="0.94"/>
<path d="M77.1 518.8C77.1 518.8 77.8 454.5 78.1 448.4C78.4 442.2 79.7 436 81.1 433.3C82.6 430.6 85.1 430.6 88.2 430.3C91.2 429.9 96.6 430.1 100.3 431.3C103.9 432.4 106.5 435.8 110.3 437.3C114.2 438.8 120 438.5 123.4 440.3C126.7 442.2 129 444.3 130.4 448.4C131.9 452.4 133.3 460.3 133.5 468.5C133.6 476.6 131.4 518.8 131.4 518.8L77.1 518.8Z" fill="#aaa6d9" fill-opacity="0.75" stroke="#6a51a3" stroke-width="0.85"/>
<path d="M79.1 514.5C79.1 514.5 79.8 454.7 80 449C80.3 443.3 81.5 437.5 82.8 435C84.2 432.5 86.6 432.5 89.4 432.2C92.2 431.9 97.2 432 100.6 433.1C104 434.2 106.4 437.3 110 438.7C113.6 440.1 119 439.8 122.1 441.5C125.3 443.2 127.3 445.3 128.7 449C130 452.8 131.4 460.1 131.5 467.7C131.6 475.3 129.6 514.5 129.6 514.5L79.1 514.5Z" fill="none" stroke="#d9560f" stroke-width="0.8"/>
<path d="M82.2 507.8C82.2 507.8 82.8 455.1 83 450C83.3 445 84.3 439.8 85.5 437.6C86.7 435.4 88.8 435.4 91.3 435.2C93.8 434.9 98.2 435 101.2 436C104.2 437 106.3 439.7 109.4 440.9C112.6 442.2 117.4 441.9 120.2 443.4C122.9 444.9 124.7 446.7 125.9 450C127.1 453.3 128.3 459.8 128.4 466.5C128.5 473.2 126.8 507.8 126.8 507.8L82.2 507.8Z" fill="none" stroke="#fdd8b3" stroke-width="1.1"/>
<path d="M77.6 518.8C77.6 518.8 78.3 454.3 78.6 448.4C78.9 442.4 80.3 436.3 81.6 433.8C83 431.3 85.3 431.2 88.2 430.9C91 430.6 96.6 430.7 100.3 431.9C103.9 433 106.5 436.4 110.3 437.9C114.2 439.4 120.1 439.2 123.4 440.9C126.7 442.7 128.6 444.6 129.9 448.4C131.2 452.1 132.8 460.3 133 468.5C133.1 476.6 130.9 518.8 130.9 518.8L77.6 518.8Z" fill="none" stroke="#96482a" stroke-width="0.94"/>
<path d="M118.4 518.8C118.4 518.8 122.2 468.5 122.4 458.4C122.6 448.3 121.5 438.2 120.4 433.3C119.3 428.4 114.3 422.2 114.3 422.2" fill="none" stroke="#f3974f" stroke-width="1.25"/>
<path d="M106.3 518.8C106.3 518.8 107.4 466.5 107.3 458.4C107.2 450.3 106.2 443.3 105.3 438.3C104.3 433.3 101.3 426.2 101.3 426.2" fill="none" stroke="#fdd8b3" stroke-width="1.25"/>
<path d="M72.1 518.8C72.1 518.8 72.6 460.5 73.1 453.4C73.6 446.3 75.6 439.8 78.1 436.3C80.6 432.8 84.8 432.4 88.2 432.3C91.5 432.1 95.4 432.6 98.2 435.3C101.1 438 103.8 442.8 105.3 448.4C106.8 453.9 107.2 460.4 107.3 468.5C107.4 476.6 106.3 518.8 106.3 518.8L72.1 518.8Z" fill="#3f007d" fill-opacity="0.07" stroke="#3f007d" stroke-width="1.27"/>
<path d="M73.4 513.7C73.4 513.7 73.8 461.3 74.3 454.9C74.8 448.5 76.5 442.6 78.8 439.5C81.1 436.3 84.8 436 87.9 435.8C90.9 435.7 94.4 436.1 96.9 438.6C99.5 441 101.9 445.3 103.3 450.3C104.6 455.3 105 461.2 105.1 468.4C105.2 475.7 104.2 513.7 104.2 513.7L73.4 513.7Z" fill="none" stroke="#96482a" stroke-width="0.9"/>
<path d="M70.2 524.3C70.2 524.3 70.7 460.2 71.3 452.3C71.9 444.5 74.1 437.4 76.8 433.5C79.6 429.7 84.2 429.3 87.9 429.1C91.6 428.9 95.8 429.5 99 432.4C102.1 435.4 105 440.7 106.7 446.8C108.4 452.9 108.8 460 108.9 468.9C109 477.8 107.8 524.3 107.8 524.3L70.2 524.3Z" fill="none" stroke="#6a51a3" stroke-width="0.9"/>
<path d="M78.1 518.8C78.1 518.8 77.8 465.1 78.1 458.4C78.5 451.8 80.6 445 82.1 442.3C83.7 439.7 86.8 439 89.2 439.3C91.5 439.6 94.6 441.3 96.2 444.3C97.8 447.4 98.6 452.7 99.2 458.4C99.9 464.1 100.4 470.5 100.3 478.5C100.1 486.6 98.2 518.8 98.2 518.8L78.1 518.8Z" fill="#3f007d" fill-opacity="0.1" stroke="#3f007d" stroke-width="1.27"/>
<path d="M78.7 514.3C78.7 514.3 78.4 465.9 78.7 460C79 454 81 447.9 82.3 445.5C83.7 443.1 86.6 442.5 88.7 442.8C90.8 443.1 93.6 444.5 95 447.3C96.5 450.1 97.1 454.8 97.7 460C98.3 465.1 98.8 470.8 98.6 478.1C98.5 485.3 96.8 514.3 96.8 514.3L78.7 514.3Z" fill="none" stroke="#96482a" stroke-width="0.9"/>
<path d="M76.9 523.7C76.9 523.7 76.5 464.6 76.9 457.3C77.3 450 79.7 442.5 81.3 439.6C83 436.7 86.5 435.9 89.1 436.3C91.7 436.6 95.1 438.4 96.8 441.8C98.6 445.2 99.4 451 100.2 457.3C100.9 463.6 101.4 470.6 101.3 479.4C101.1 488.3 99 523.7 99 523.7L76.9 523.7Z" fill="none" stroke="#6a51a3" stroke-width="0.9"/>
<path d="M92.2 476.5C92.2 480.2 92 484.4 91.5 487.6C91.1 490.8 90.3 494.3 89.7 495.7C89.1 497.1 88 498.7 87.2 498.7C86.3 498.7 85.2 497.1 84.7 495.7C84.1 494.3 83.2 490.8 82.8 487.6C82.4 484.4 82.1 480.2 82.1 476.5C82.1 472.8 82.4 468.7 82.8 465.5C83.2 462.3 84.1 458.8 84.7 457.4C85.2 455.9 86.3 454.4 87.2 454.4C88 454.4 89.1 455.9 89.7 457.4C90.3 458.8 91.1 462.3 91.5 465.5C92 468.7 92.2 472.8 92.2 476.5Z" fill="#3f007d" fill-opacity="0.15" stroke="#3f007d" stroke-width="1.27"/>
<path d="M91.1 476.9C91.1 480.3 90.9 484 90.5 486.9C90.1 489.8 89.3 492.9 88.8 494.2C88.3 495.5 87.3 496.9 86.6 496.9C85.8 496.9 84.8 495.5 84.3 494.2C83.8 492.9 83 489.8 82.7 486.9C82.3 484 82 480.3 82 476.9C82 473.6 82.3 469.9 82.7 467C83 464.1 83.8 461 84.3 459.7C84.8 458.4 85.8 457 86.6 457C87.3 457 88.3 458.4 88.8 459.7C89.3 461 90.1 464.1 90.5 467C90.9 469.9 91.1 473.6 91.1 476.9Z" fill="none" stroke="#96482a" stroke-width="0.9"/>
<path d="M92.7 476.5C92.7 480.6 92.4 485.2 92 488.7C91.5 492.2 90.6 496 89.9 497.6C89.3 499.2 88.1 500.9 87.2 500.9C86.3 500.9 85 499.2 84.4 497.6C83.8 496 82.8 492.2 82.4 488.7C81.9 485.2 81.6 480.6 81.6 476.5C81.6 472.5 81.9 467.9 82.4 464.4C82.8 460.8 83.8 457 84.4 455.4C85 453.9 86.3 452.2 87.2 452.2C88.1 452.2 89.3 453.9 89.9 455.4C90.6 457 91.5 460.8 92 464.4C92.4 467.9 92.7 472.5 92.7 476.5Z" fill="none" stroke="#6a51a3" stroke-width="0.9"/>
<path d="M88.7 476.5C88.7 479.7 88.5 483.3 88.3 486.1C88 488.9 87.5 491.9 87.2 493.1C86.9 494.2 86.2 495.6 85.7 495.6C85.2 495.6 84.5 494.2 84.2 493.1C83.8 491.9 83.3 488.9 83.1 486.1C82.8 483.3 82.6 479.7 82.6 476.5C82.6 473.3 82.8 469.7 83.1 467C83.3 464.2 83.8 461.1 84.2 460C84.5 458.8 85.2 457.4 85.7 457.4C86.2 457.4 86.9 458.8 87.2 460C87.5 461.1 88 464.2 88.3 467C88.5 469.7 88.7 473.3 88.7 476.5Z" fill="none" stroke="#d9560f" stroke-width="1.02"/>
<path d="M67.6 458.9C67.6 458.9 71.1 458.9 71.1 458.9C71.1 458.9 71.1 491.6 71.1 491.6C71.1 491.6 67.6 491.6 67.6 491.6C67.6 491.6 67.6 458.9 67.6 458.9Z" fill="none" stroke="#6a51a3" stroke-width="0.85"/></g>
<clipPath id="c31"><rect x="179.3" y="387.5" width="115.7" height="115.7"/></clipPath><g clip-path="url(#c31)"><path d="M291.7 385C291.7 385 282.8 393.4 279.6 398.1C276.4 402.8 274.2 408.5 272.6 413.2C270.9 417.8 270.7 422 269.5 426.2C268.4 430.4 267 433.8 265.5 438.3C264 442.8 262.2 447.9 260.5 453.4C258.8 458.9 255.3 466.5 255.5 471.5C255.6 476.5 260.5 478.3 261.5 483.6C262.5 488.9 264.5 518.8 264.5 518.8L309.8 518.8L309.8 385L291.7 385Z" fill="#fbc4a0" fill-opacity="0.5" stroke="#f6ab72" stroke-width="1.25"/>
<path d="M239.4 518.8C239.4 518.8 236.8 482 236.8 473.5C236.8 465 237.3 458.8 239.4 452.4C241.5 446 245.2 439.3 249.4 435.3C253.6 431.3 259.5 430.3 264.5 428.2C269.5 426.2 273.4 424.5 279.6 423.2C285.8 422 309.8 419.2 309.8 419.2L309.8 518.8L239.4 518.8Z" fill="#cdcbe8" fill-opacity="0.75" stroke="#9d9aca" stroke-width="1.25"/>
<path d="M262.5 518.8C262.5 518.8 262.2 476.6 262.5 468.5C262.9 460.4 263.5 453.9 265.5 448.4C267.5 442.8 271.4 438.1 274.6 435.3C277.8 432.4 280.4 432 284.6 431.3C288.9 430.5 309.8 429.2 309.8 429.2L309.8 518.8L262.5 518.8Z" fill="#cdcbe8" fill-opacity="0.75" stroke="#9d9aca" stroke-width="1.25"/>
<path d="M282.6 430.3C282.6 430.3 284.4 424.4 287.7 423.2C290.9 422.1 309.8 420.7 309.8 420.7" fill="none" stroke="#96482a" stroke-width="0.94"/>
<path d="M277.1 518.8C277.1 518.8 277.4 453.7 277.6 448.4C277.8 443 279.6 437.4 280.6 435.3C281.7 433.2 284 432.4 285.6 432.3C287.3 432.1 288.7 433.3 290.7 434.3C292.6 435.2 309.8 444.3 309.8 444.3L309.8 518.8L277.1 518.8Z" fill="#3f007d" fill-opacity="0.07" stroke="#3f007d" stroke-width="1.27"/>
<path d="M277.8 513.5C277.8 513.5 278 454.9 278.2 450.1C278.5 445.3 280 440.2 281 438.3C281.9 436.4 284 435.8 285.5 435.6C287 435.5 288.3 436.6 290 437.4C291.8 438.3 307.2 446.5 307.2 446.5L307.2 513.5L277.8 513.5Z" fill="none" stroke="#96482a" stroke-width="0.9"/>
<path d="M275.8 524.5C275.8 524.5 276.1 452.9 276.3 447C276.6 441.1 278.5 434.9 279.7 432.6C280.8 430.3 283.3 429.5 285.2 429.3C287 429.1 288.6 430.5 290.7 431.5C292.9 432.6 311.8 442.6 311.8 442.6L311.8 524.5L275.8 524.5Z" fill="none" stroke="#6a51a3" stroke-width="0.9"/>
<path d="M280.6 518.8C280.6 518.8 281.4 458 281.6 453.4C281.9 448.8 283.7 443.7 284.6 442.3C285.5 441 287.9 441.4 288.7 442.8C289.4 444.3 292.3 452 292.7 458.4C293.1 464.9 293.7 518.8 293.7 518.8L280.6 518.8Z" fill="#3f007d" fill-opacity="0.1" stroke="#3f007d" stroke-width="1.27"/>
<path d="M280.6 514.6C280.6 514.6 281.3 459.8 281.6 455.7C281.8 451.6 283.5 447 284.3 445.7C285.1 444.5 287.2 444.9 287.9 446.2C288.5 447.5 291.1 454.4 291.5 460.2C291.9 466 292.4 514.6 292.4 514.6L280.6 514.6Z" fill="none" stroke="#96482a" stroke-width="0.9"/>
<path d="M280 523.4C280 523.4 280.8 456.5 281.1 451.5C281.3 446.5 283.4 440.8 284.4 439.3C285.4 437.8 288 438.3 288.8 439.9C289.6 441.5 292.8 450 293.3 457C293.7 464.1 294.4 523.4 294.4 523.4L280 523.4Z" fill="none" stroke="#6a51a3" stroke-width="0.9"/>
<path d="M284.1 518.8C284.1 518.8 284 467.5 284.1 463.5C284.2 459.4 285 453.4 285.6 453.4C286.3 453.4 288 459.3 288.2 463.5C288.3 467.6 288.7 518.8 288.7 518.8L284.1 518.8Z" fill="#3f007d" fill-opacity="0.12" stroke="#3f007d" stroke-width="1.27"/>
<path d="M289.7 433.3C289.7 433.3 292.1 442.2 292.7 448.4C293.2 454.5 293.7 466.8 293.7 478.5C293.7 490.3 292.7 518.8 292.7 518.8" fill="none" stroke="#d9560f" stroke-width="1.02"/></g>
<clipPath id="c32"><rect x="300.9" y="387.5" width="115.7" height="115.7"/></clipPath><g clip-path="url(#c32)"><path d="M377.5 418.2C377.5 413.5 383.3 412.6 386.5 410.1C389.7 407.6 393.4 404.9 396.6 403.1C399.8 401.2 403.3 399.1 405.6 399.1C408 399.1 409.7 400.7 410.7 403.1C411.7 405.5 412.8 412.3 413.7 418.2C414.5 424.1 415.5 430.2 415.7 438.3C415.9 446.4 415.7 518.8 415.7 518.8L386.5 518.8C386.5 518.8 387.3 447.1 386.5 438.3C385.7 429.5 377.5 422.9 377.5 418.2Z" fill="#fbc4a0" fill-opacity="0.55" stroke="#f6ab72" stroke-width="1.25"/>
<path d="M384.5 424.2C385 421.7 389 423 391.5 423.2C394.1 423.4 397.4 423.5 399.6 425.2C401.8 426.9 403.5 429.6 404.6 433.3C405.7 436.9 406.1 442.5 406.6 448.4C407.1 454.2 407.8 461.8 407.6 468.5C407.5 475.2 406.3 480.5 405.6 488.6C405 496.7 403.6 518.8 403.6 518.8L389.5 518.8C389.5 518.8 388.8 444.2 388.5 438.3C388.2 432.5 384 426.7 384.5 424.2Z" fill="#fb9d62" fill-opacity="0.35" stroke="#f3974f" stroke-width="1.25"/>
<path d="M375.4 422.2C375.6 420 379 419.2 380.5 420.2C382 421.2 383.6 424.8 384.5 428.2C385.4 431.7 386.4 437.9 386.5 444.3C386.7 450.8 386.5 518.8 386.5 518.8L375.4 518.8C375.4 518.8 375.3 424.4 375.4 422.2Z" fill="#cdcbe8" fill-opacity="0.75" stroke="#9d9aca" stroke-width="1.25"/>
<path d="M349.3 518.8C349.3 518.8 348.9 468.6 349.3 458.4C349.6 448.3 351.1 437.8 352.3 433.3C353.5 428.7 356.2 425.4 358.3 423.2C360.5 421 362.9 420 365.4 420.2C367.9 420.4 371.3 422 373.4 424.2C375.6 426.4 376.5 429.6 378.5 433.3C380.4 436.9 385.9 441.6 386.5 448.4C387.2 455.2 386.5 518.8 386.5 518.8L349.3 518.8Z" fill="#cfcdea" fill-opacity="0.75" stroke="#6a51a3" stroke-width="1.02"/>
<path d="M350.5 514.2C350.5 514.2 350.2 467.5 350.5 458.1C350.8 448.6 352.2 438.9 353.3 434.7C354.4 430.4 356.9 427.3 358.9 425.3C360.9 423.3 363.1 422.3 365.5 422.5C367.8 422.7 370.9 424.2 373 426.2C375 428.3 375.8 431.3 377.6 434.7C379.5 438.1 384.5 442.4 385.1 448.7C385.7 455 385.1 514.2 385.1 514.2L350.5 514.2Z" fill="none" stroke="#d9560f" stroke-width="0.8"/>
<path d="M352.4 507C352.4 507 352.1 465.8 352.4 457.5C352.7 449.2 353.9 440.6 354.9 436.9C355.8 433.1 358.1 430.4 359.8 428.6C361.6 426.8 363.5 426 365.6 426.1C367.7 426.3 370.4 427.6 372.2 429.4C374 431.2 374.7 433.9 376.3 436.9C378 439.8 382.4 443.6 382.9 449.2C383.5 454.8 382.9 507 382.9 507L352.4 507Z" fill="none" stroke="#fdd8b3" stroke-width="1.1"/>
<path d="M349.7 519.2C349.7 519.2 349.3 469 349.7 458.8C350.1 448.7 351.5 438.2 352.7 433.7C353.9 429.1 356.6 425.8 358.7 423.6C360.9 421.4 363.3 420.4 365.8 420.6C368.3 420.8 371.7 422.4 373.8 424.6C376 426.8 376.9 430 378.9 433.7C380.8 437.3 386.3 442 386.9 448.8C387.6 455.6 386.9 519.2 386.9 519.2L349.7 519.2Z" fill="none" stroke="#96482a" stroke-width="0.87"/>
<path d="M355.8 518.8C355.8 518.8 356.1 466.5 356.3 458.4C356.6 450.3 357.5 441.3 358.3 438.3C359.2 435.3 361.5 433.1 363.4 432.3C365.2 431.4 367.3 432.1 369.4 433.3C371.5 434.5 375.4 437.8 377.5 440.3C379.5 442.8 381.3 444.8 381.5 448.4C381.7 452 381.5 518.8 381.5 518.8L355.8 518.8Z" fill="#aaa6d9" fill-opacity="0.75" stroke="#6a51a3" stroke-width="1.02"/>
<path d="M356.7 514.7C356.7 514.7 356.9 466.1 357.1 458.6C357.4 451.1 358.3 442.7 359 439.9C359.8 437.1 362 435.1 363.7 434.3C365.4 433.5 367.3 434.1 369.3 435.2C371.3 436.3 374.9 439.4 376.8 441.8C378.7 444.1 380.4 445.9 380.5 449.3C380.7 452.6 380.5 514.7 380.5 514.7L356.7 514.7Z" fill="none" stroke="#d9560f" stroke-width="0.8"/>
<path d="M358 508.4C358 508.4 358.2 465.5 358.4 458.9C358.6 452.3 359.4 444.9 360.1 442.4C360.7 439.9 362.7 438.1 364.2 437.5C365.7 436.8 367.4 437.3 369.2 438.3C370.9 439.3 374.1 442 375.8 444.1C377.4 446.1 378.9 447.7 379.1 450.7C379.2 453.6 379.1 508.4 379.1 508.4L358 508.4Z" fill="none" stroke="#fdd8b3" stroke-width="1.1"/>
<path d="M356.2 519.2C356.2 519.2 356.5 466.9 356.7 458.8C357 450.7 357.9 441.7 358.7 438.7C359.6 435.7 361.9 433.5 363.8 432.7C365.6 431.8 367.7 432.5 369.8 433.7C371.9 434.9 375.9 438.2 377.9 440.7C379.9 443.2 381.7 445.2 381.9 448.8C382.1 452.4 381.9 519.2 381.9 519.2L356.2 519.2Z" fill="none" stroke="#96482a" stroke-width="0.87"/>
<path d="M361.4 518.8C361.4 518.8 362.2 456.5 362.4 453.4C362.5 450.3 363.9 447.2 365.4 446.4C366.9 445.5 369.6 446.6 371.4 448.4C373.3 450.1 377.9 453.5 378.5 458.4C379 463.3 379.5 518.8 379.5 518.8L361.4 518.8Z" fill="#aaa6d9" fill-opacity="0.75"/>
<path d="M362.4 518.8C362.4 518.8 362.2 463 362.4 458.4C362.6 453.8 365.4 447.4 365.4 447.4" fill="none" stroke="#d9560f" stroke-width="1.7"/>
<path d="M380.5 518.8C380.5 518.8 380.2 475.8 380 468.5C379.8 461.2 378.5 450.4 378.5 450.4" fill="none" stroke="#96482a" stroke-width="1.81"/>
<path d="M368.4 518.8C368.4 518.8 368.9 457.3 369.4 448.4C369.9 439.4 371.9 426.2 373.4 426.2C374.9 426.2 377.9 439.3 378.5 448.4C379.1 457.4 379.5 518.8 379.5 518.8L368.4 518.8Z" fill="#3f007d" fill-opacity="0.07" stroke="#3f007d" stroke-width="1.36"/>
<path d="M371.4 518.8C371.4 518.8 371.7 465.3 371.9 458.4C372.2 451.5 373.2 441.3 373.9 441.3C374.7 441.3 376.2 451.5 376.5 458.4C376.7 465.3 377 518.8 377 518.8L371.4 518.8Z" fill="#3f007d" fill-opacity="0.1" stroke="#3f007d" stroke-width="1.36"/>
<path d="M373.9 518.8C373.9 518.8 374 466.5 373.9 458.4C373.9 450.4 373.4 438.3 373.4 438.3" fill="none" stroke="#fdd8b3" stroke-width="1.5"/></g>
<clipPath id="c40"><rect x="57.8" y="509.1" width="115.7" height="115.7"/></clipPath><g clip-path="url(#c40)"><path d="M146.5 639.8C146.5 639.8 146.4 631.3 146.5 625.7C146.7 620.1 148.2 556.6 148.5 549.2C148.9 541.9 147.1 534.7 151.6 531.1C156 527.6 173.2 518.8 175.2 528.1C177.2 537.4 175.2 639.8 175.2 639.8L146.5 639.8Z" fill="#dcdbe9" fill-opacity="0.38" stroke="#d3d2e4" stroke-width="1.25"/>
<path d="M153.6 539.2C156.5 534.7 171.6 535.2 175.2 538.2C178.8 541.2 176.5 552.1 175.2 557.3C173.9 562.5 169.1 567.7 167.7 569.4C166.2 571 164.3 572 162.6 571.4C161 570.7 158.5 568.4 157.6 565.3C156.8 562.3 150.6 543.7 153.6 539.2Z" fill="#dcdbe9" fill-opacity="0.52" stroke="#d3d2e4" stroke-width="1.25"/>
<path d="M81.1 506C81.1 506 77.1 520.7 79.1 524.1C81.1 527.4 88.3 526.4 93.2 526.1C98.1 525.8 106.3 525.4 108.3 522.1C110.3 518.7 105.3 506 105.3 506L81.1 506Z" fill="#fbc4a0" fill-opacity="0.6"/>
<path d="M73.1 506C73.1 506 72.8 515.2 72.1 519.1C71.4 522.9 70.4 525.8 69.1 529.1C67.7 532.5 66 536.2 64 539.2C62 542.2 57 547.2 57 547.2" fill="none" stroke="#f3974f" stroke-width="1.25"/>
<path d="M118.4 506C118.4 506 119.7 513.9 120.4 517C121 520.2 122.4 525.1 122.4 525.1" fill="none" stroke="#f3974f" stroke-width="1.25"/>
<path d="M81.1 506C81.1 506 80.1 515.2 79.6 519.1C79.1 522.9 78.1 529.1 78.1 529.1" fill="none" stroke="#fdd8b3" stroke-width="1.25"/>
<path d="M105.3 506C105.3 506 106.5 513.2 107.3 517C108.1 520.9 110.3 529.1 110.3 529.1" fill="none" stroke="#fdd8b3" stroke-width="1.25"/>
<path d="M56 531.1C56 531.1 61.2 524.2 64 522.1C66.9 520 69.2 519 73.1 518.6C77 518.1 94.1 517.9 98.2 518.1C102.3 518.2 106.6 518.2 108.3 520.1C110 521.9 111.7 527.9 108.3 529.1C104.9 530.4 83.8 529.3 78.1 531.1C72.4 533 70.4 538.5 68.1 542.2C65.7 545.9 66 551.6 64 553.3C62 554.9 56 552.3 56 552.3L56 531.1Z" fill="#cdcbe8" fill-opacity="0.75" stroke="#9d9aca" stroke-width="1.25"/>
<path d="M63 542.2C64.5 538.9 71.8 531.2 74.1 529.1C76.4 527 78 526 81.1 525.6C84.3 525.2 99.8 524.5 108.3 524.6C116.9 524.7 128.5 525.5 132.4 526.1C136.4 526.8 140.3 529.1 141.5 530.1C142.7 531.2 140.7 532.7 141.5 534.2C142.3 535.6 147.4 539.9 148.5 543.2C149.7 546.6 149.2 549.9 148.5 554.3C147.9 558.6 145.5 563.5 144.5 569.4C143.5 575.2 142.8 582.8 142.5 589.5C142.2 596.2 142.8 601.6 142.5 609.6C142.2 617.6 140.5 639.8 140.5 639.8L81.1 639.8C81.1 639.8 80.5 597.6 80.1 589.5C79.8 581.4 79.2 574.5 78.1 569.4C77 564.3 75.4 560.3 73.1 557.3C70.7 554.3 65.7 553.8 64 551.3C62.4 548.7 61.5 545.5 63 542.2Z" fill="#cfcdea" fill-opacity="0.75" stroke="#6a51a3" stroke-width="0.85"/>
<path d="M66.3 543.6C67.7 540.5 74.5 533.4 76.6 531.5C78.8 529.5 80.3 528.6 83.2 528.2C86.1 527.8 100.5 527.2 108.4 527.2C116.4 527.3 127.3 528 130.9 528.7C134.5 529.3 138.2 531.4 139.3 532.4C140.4 533.4 138.6 534.8 139.3 536.1C140 537.5 144.8 541.4 145.9 544.6C147 547.7 146.5 550.8 145.9 554.8C145.2 558.9 143.1 563.4 142.1 568.9C141.2 574.3 140.6 581.4 140.3 587.6C139.9 593.8 140.6 598.8 140.3 606.3C140 613.8 138.4 634.4 138.4 634.4L83.2 634.4C83.2 634.4 82.6 595.1 82.2 587.6C81.9 580.1 81.4 573.6 80.4 568.9C79.3 564.1 77.9 560.5 75.7 557.7C73.5 554.8 68.8 554.4 67.3 552C65.7 549.7 64.9 546.7 66.3 543.6Z" fill="none" stroke="#d9560f" stroke-width="0.8"/>
<path d="M71.5 545.9C72.8 543.1 78.7 536.9 80.6 535.1C82.5 533.4 83.8 532.6 86.4 532.2C89 531.9 101.7 531.3 108.7 531.4C115.7 531.5 125.3 532.1 128.5 532.7C131.7 533.2 134.9 535.1 135.9 536C136.9 536.8 135.3 538.1 135.9 539.3C136.5 540.4 140.7 543.9 141.7 546.7C142.6 549.4 142.2 552.2 141.7 555.8C141.1 559.3 139.2 563.3 138.4 568.1C137.5 572.9 137 579.1 136.7 584.6C136.4 590.1 137 594.5 136.7 601.1C136.5 607.7 143.5 621.8 135.1 625.9C126.7 630 94.6 632.8 86.4 625.9C78.1 619 85.9 591.3 85.6 584.6C85.3 578 84.8 572.3 83.9 568.1C83 563.9 81.7 560.7 79.8 558.2C77.9 555.8 73.7 555.3 72.4 553.3C71 551.2 70.3 548.6 71.5 545.9Z" fill="none" stroke="#fdd8b3" stroke-width="1.1"/>
<path d="M63.4 542.6C64.9 539.3 72.2 531.7 74.5 529.5C76.8 527.4 78.4 526.4 81.5 526C84.7 525.6 100.2 524.9 108.7 525C117.3 525.1 128.9 525.9 132.9 526.5C136.8 527.2 140.7 529.5 141.9 530.5C143.1 531.6 141.1 533.1 141.9 534.6C142.7 536 147.8 540.3 148.9 543.6C150.1 547 149.6 550.3 148.9 554.7C148.3 559 145.9 563.9 144.9 569.8C143.9 575.6 143.2 583.2 142.9 589.9C142.6 596.6 143.2 602 142.9 610C142.6 618.1 140.9 640.2 140.9 640.2L81.5 640.2C81.5 640.2 80.9 598 80.5 589.9C80.2 581.8 79.6 574.9 78.5 569.8C77.4 564.7 75.8 560.7 73.5 557.7C71.1 554.7 66.1 554.2 64.4 551.7C62.8 549.1 61.9 545.9 63.4 542.6Z" fill="none" stroke="#96482a" stroke-width="0.94"/>
<path d="M62.7 542.5C64.2 539.2 71.5 531.6 73.8 529.4C76.1 527.3 77.7 526.3 80.8 525.9C84 525.5 99.5 524.8 108 524.9C116.6 525 128.2 525.8 132.1 526.4C136.1 527.1 140 529.4 141.2 530.4C142.4 531.5 140.4 533 141.2 534.5C142 535.9 147.1 540.2 148.2 543.5C149.4 546.9 148.9 550.2 148.2 554.6C147.6 558.9 145.2 563.8 144.2 569.7C143.2 575.5 142.5 583.1 142.2 589.8C141.9 596.5 142.5 601.9 142.2 609.9C141.9 618 140.2 640.1 140.2 640.1L80.8 640.1C80.8 640.1 80.2 597.9 79.8 589.8C79.5 581.7 78.9 574.8 77.8 569.7C76.7 564.6 75.1 560.6 72.8 557.6C70.4 554.6 65.4 554.1 63.7 551.6C62.1 549 61.2 545.8 62.7 542.5Z" fill="none" stroke="#d9560f" stroke-width="0.85"/>
<path d="M75.1 539.2C75.4 534.7 75.7 530.1 80.1 529.1C84.5 528.2 120.6 529 122.4 529.1C124.2 529.3 122.8 532.3 124.4 533.1C126 534 131.6 533.6 134.5 535.2C137.3 536.7 140.5 539.2 141.5 542.2C142.5 545.2 142 549.4 140.5 553.3C139 557.1 137 562.3 132.4 565.3C127.9 568.4 116.9 567.4 113.3 571.4C109.8 575.4 112.1 582.2 111.3 589.5C110.6 596.7 106.3 639.8 106.3 639.8L92.2 639.8C92.2 639.8 90.7 597.6 90.2 589.5C89.7 581.4 90.2 574.9 88.2 569.4C86.2 563.8 80.3 561.3 78.1 556.3C75.9 551.3 74.8 543.7 75.1 539.2Z" fill="#aaa6d9" fill-opacity="0.75" stroke="#6a51a3" stroke-width="0.85"/>
<path d="M77.5 541C77.8 536.8 78 532.5 82.1 531.7C86.2 530.8 119.8 531.5 121.4 531.7C123.1 531.8 121.8 534.7 123.3 535.4C124.8 536.2 130 535.9 132.7 537.3C135.3 538.7 138.3 541 139.2 543.8C140.1 546.6 139.7 550.5 138.3 554.1C136.9 557.7 135 562.5 130.8 565.3C126.6 568.2 116.3 567.2 113 571C109.7 574.7 111.8 581.1 111.1 587.8C110.4 594.5 106.5 634.6 106.5 634.6L93.4 634.6C93.4 634.6 91.9 595.3 91.5 587.8C91.1 580.3 91.5 574.2 89.6 569.1C87.7 563.9 82.3 561.6 80.3 556.9C78.2 552.3 77.1 545.2 77.5 541Z" fill="none" stroke="#d9560f" stroke-width="0.8"/>
<path d="M81.2 543.9C81.4 540.2 81.7 536.4 85.3 535.7C88.9 534.9 118.5 535.5 119.9 535.7C121.4 535.8 120.3 538.3 121.6 539C122.9 539.6 127.5 539.4 129.8 540.6C132.2 541.9 134.8 543.9 135.6 546.4C136.4 548.9 136 552.3 134.8 555.5C133.5 558.6 131.9 562.9 128.2 565.4C124.5 567.8 115.4 567 112.5 570.3C109.6 573.6 111.5 579.2 110.9 585.2C110.2 591.1 108.4 622.1 106.7 626.4C105.1 630.7 96.6 630.8 95.2 626.4C93.8 622 93.9 591.8 93.5 585.2C93.1 578.5 93.5 573.2 91.9 568.7C90.2 564.1 85.4 562.1 83.6 557.9C81.8 553.8 80.9 547.6 81.2 543.9Z" fill="none" stroke="#fdd8b3" stroke-width="1.1"/>
<path d="M75.5 539.5C75.8 535 76.1 530.4 80.5 529.4C84.9 528.5 121 529.3 122.8 529.4C124.6 529.6 123.2 532.6 124.8 533.4C126.4 534.3 132 534 134.9 535.5C137.7 537 140.9 539.5 141.9 542.5C142.9 545.5 142.4 549.7 140.9 553.6C139.4 557.4 137.4 562.6 132.9 565.6C128.3 568.7 117.3 567.7 113.7 571.7C110.2 575.7 112.5 582.5 111.7 589.8C111 597 106.7 640.1 106.7 640.1L92.6 640.1C92.6 640.1 91.1 597.9 90.6 589.8C90.1 581.7 90.6 575.2 88.6 569.7C86.6 564.1 80.7 561.6 78.5 556.6C76.3 551.6 75.2 544 75.5 539.5Z" fill="none" stroke="#96482a" stroke-width="0.94"/>
<path d="M88.2 559.3C88.2 559.3 98.2 564 103.3 564.3C108.3 564.7 114.2 563.8 118.4 561.3C122.6 558.8 126.9 553.3 128.4 549.2C129.9 545.2 127.4 537.2 127.4 537.2" fill="none" stroke="#fdd8b3" stroke-width="1.3"/>
<path d="M122.4 639.8C122.4 639.8 126.7 597.5 127.4 589.5C128.1 581.5 128.4 569.4 128.4 569.4" fill="none" stroke="#fdd8b3" stroke-width="1.25"/>
<path d="M86.2 639.8C86.2 639.8 85.6 596.8 85.2 589.5C84.7 582.2 82.1 571.4 82.1 571.4" fill="none" stroke="#f3974f" stroke-width="1.25"/>
<path d="M126.4 596.3C126 597 125.4 597.7 124.8 598.2C124.2 598.7 123.4 599.1 122.7 599.2C122.1 599.3 121.4 599.2 120.9 598.9C120.4 598.6 119.9 598 119.7 597.4C119.5 596.8 119.4 595.9 119.5 595.2C119.6 594.4 119.9 593.5 120.3 592.8C120.8 592 121.4 591.3 122 590.8C122.6 590.3 123.4 590 124 589.9C124.7 589.8 125.4 589.9 125.9 590.2C126.4 590.5 126.9 591 127.1 591.6C127.3 592.2 127.4 593.1 127.3 593.9C127.2 594.6 126.9 595.6 126.4 596.3Z" fill="#aaa6d9" fill-opacity="0.75" stroke="#6a51a3" stroke-width="0.85"/>
<path d="M126.2 596.2C125.8 596.8 125.3 597.5 124.7 598C124.1 598.4 123.4 598.7 122.8 598.8C122.2 598.9 121.5 598.8 121.1 598.6C120.6 598.3 120.2 597.8 120 597.2C119.7 596.6 119.7 595.8 119.8 595.1C119.9 594.4 120.2 593.6 120.6 592.9C120.9 592.2 121.5 591.5 122.1 591.1C122.7 590.6 123.4 590.3 124 590.2C124.6 590.1 125.3 590.2 125.7 590.5C126.2 590.7 126.6 591.3 126.8 591.8C127.1 592.4 127.1 593.2 127 593.9C126.9 594.6 126.6 595.5 126.2 596.2Z" fill="none" stroke="#d9560f" stroke-width="0.8"/>
<path d="M125.9 596C125.6 596.6 125 597.2 124.5 597.6C124 597.9 123.4 598.2 122.9 598.3C122.3 598.4 121.7 598.3 121.3 598.1C120.9 597.8 120.5 597.4 120.4 596.9C120.2 596.4 120.1 595.7 120.2 595.1C120.3 594.4 120.6 593.7 120.9 593.1C121.2 592.5 121.8 591.9 122.3 591.5C122.8 591.1 123.4 590.8 123.9 590.7C124.5 590.6 125 590.7 125.5 590.9C125.9 591.2 126.2 591.6 126.4 592.1C126.6 592.7 126.7 593.3 126.6 594C126.5 594.6 126.2 595.4 125.9 596Z" fill="none" stroke="#fdd8b3" stroke-width="1.1"/>
<path d="M112.6 546.2C112.4 547.6 111 549.1 109.2 550C107.3 551 104.1 551.8 100.9 552C97.7 552.3 93.6 552.2 90 551.7C86.4 551.2 82.5 550.2 79.5 549C76.5 547.9 73.6 546.2 72.1 544.8C70.5 543.4 69.6 541.6 69.8 540.2C70 538.8 71.4 537.3 73.2 536.4C75.1 535.4 78.3 534.6 81.5 534.4C84.7 534.1 88.8 534.2 92.4 534.7C96 535.2 99.9 536.2 102.9 537.4C105.9 538.5 108.8 540.2 110.3 541.6C111.9 543 112.8 544.8 112.6 546.2Z" fill="#3f007d" fill-opacity="0.07" stroke="#3f007d" stroke-width="1.27"/>
<path d="M109.9 546.3C109.7 547.6 108.4 548.9 106.8 549.8C105.1 550.6 102.2 551.3 99.3 551.6C96.4 551.8 92.7 551.7 89.5 551.2C86.3 550.8 82.7 549.9 80 548.9C77.3 547.8 74.7 546.3 73.4 545.1C72 543.8 71.1 542.2 71.3 540.9C71.5 539.6 72.8 538.3 74.4 537.5C76.1 536.6 79 535.9 81.9 535.7C84.8 535.4 88.5 535.5 91.7 536C94.9 536.4 98.5 537.3 101.2 538.4C103.9 539.4 106.5 540.9 107.8 542.1C109.2 543.4 110.1 545 109.9 546.3Z" fill="none" stroke="#96482a" stroke-width="0.9"/>
<path d="M114.8 546.5C114.5 548.1 113 549.7 111 550.7C108.9 551.7 105.4 552.6 101.8 552.9C98.3 553.2 93.8 553.1 89.9 552.5C86 552 81.6 550.9 78.3 549.6C75 548.4 71.8 546.5 70.1 545C68.5 543.5 67.4 541.4 67.6 539.9C67.9 538.3 69.4 536.7 71.4 535.7C73.5 534.7 77 533.8 80.6 533.5C84.1 533.2 88.6 533.3 92.5 533.9C96.4 534.4 100.8 535.5 104.1 536.8C107.4 538 110.6 539.9 112.3 541.4C113.9 542.9 115 545 114.8 546.5Z" fill="none" stroke="#6a51a3" stroke-width="0.9"/>
<path d="M105.1 544.9C105 546 103.9 547.1 102.6 547.7C101.2 548.4 98.8 549 96.4 549.2C94 549.4 91 549.3 88.3 548.9C85.7 548.5 82.7 547.8 80.5 546.9C78.2 546.1 76.1 544.9 74.9 543.9C73.8 542.8 73.1 541.5 73.2 540.5C73.4 539.4 74.5 538.3 75.8 537.7C77.2 537 79.6 536.4 82 536.2C84.3 536 87.4 536.2 90.1 536.5C92.7 536.9 95.7 537.6 97.9 538.5C100.1 539.3 102.3 540.5 103.4 541.6C104.6 542.6 105.3 543.9 105.1 544.9Z" fill="#3f007d" fill-opacity="0.07" stroke="#3f007d" stroke-width="1.27"/>
<path d="M102.9 545.1C102.8 546 101.8 547 100.6 547.6C99.4 548.2 97.2 548.8 95.1 548.9C92.9 549.1 90.2 549 87.8 548.7C85.4 548.3 82.7 547.7 80.7 546.9C78.7 546.2 76.8 545.1 75.8 544.1C74.8 543.2 74.1 542 74.2 541.1C74.4 540.2 75.3 539.2 76.6 538.6C77.8 538 80 537.5 82.1 537.3C84.2 537.1 87 537.2 89.4 537.5C91.8 537.9 94.4 538.5 96.4 539.3C98.4 540.1 100.4 541.2 101.4 542.1C102.4 543 103.1 544.2 102.9 545.1Z" fill="none" stroke="#96482a" stroke-width="0.9"/>
<path d="M106.7 545.2C106.6 546.3 105.4 547.5 103.9 548.2C102.4 549 99.7 549.6 97.1 549.8C94.5 550 91.2 549.9 88.2 549.5C85.3 549.1 82 548.3 79.6 547.4C77.1 546.4 74.8 545.1 73.5 544C72.3 542.9 71.5 541.4 71.7 540.2C71.8 539.1 73 537.9 74.5 537.2C76 536.4 78.6 535.8 81.2 535.6C83.9 535.4 87.2 535.5 90.1 535.9C93.1 536.3 96.3 537.1 98.8 538.1C101.2 539 103.6 540.3 104.9 541.4C106.1 542.6 106.9 544 106.7 545.2Z" fill="none" stroke="#6a51a3" stroke-width="0.9"/>
<path d="M97.7 543.6C97.6 544.3 97 545.1 96.1 545.6C95.2 546.1 93.7 546.6 92.1 546.8C90.6 547 88.6 547.1 86.8 546.9C85.1 546.8 83.1 546.4 81.6 545.9C80.1 545.4 78.7 544.7 77.9 544C77.1 543.4 76.6 542.5 76.7 541.8C76.7 541.1 77.4 540.3 78.2 539.8C79.1 539.3 80.7 538.8 82.2 538.6C83.8 538.4 85.8 538.3 87.5 538.5C89.3 538.6 91.3 539 92.8 539.5C94.2 540 95.7 540.7 96.5 541.4C97.3 542 97.8 542.9 97.7 543.6Z" fill="#3f007d" fill-opacity="0.1" stroke="#3f007d" stroke-width="1.27"/>
<path d="M96 543.9C96 544.6 95.4 545.3 94.6 545.7C93.8 546.2 92.4 546.6 91 546.8C89.6 547 87.8 547 86.2 546.9C84.7 546.8 82.9 546.4 81.5 546C80.2 545.5 78.9 544.9 78.2 544.3C77.5 543.7 77 542.9 77.1 542.3C77.2 541.6 77.7 540.9 78.5 540.5C79.3 540 80.7 539.6 82.1 539.4C83.5 539.2 85.3 539.2 86.9 539.3C88.5 539.5 90.3 539.8 91.6 540.2C92.9 540.7 94.2 541.3 94.9 541.9C95.6 542.5 96.1 543.3 96 543.9Z" fill="none" stroke="#96482a" stroke-width="0.9"/>
<path d="M98.8 543.7C98.7 544.5 98 545.3 97 545.9C96 546.5 94.3 547 92.6 547.2C90.9 547.5 88.7 547.5 86.8 547.3C84.8 547.2 82.7 546.7 81 546.2C79.4 545.7 77.8 544.9 76.9 544.1C76.1 543.4 75.5 542.5 75.6 541.7C75.7 540.9 76.4 540.1 77.4 539.5C78.3 539 80 538.4 81.7 538.2C83.4 537.9 85.7 537.9 87.6 538.1C89.5 538.2 91.7 538.7 93.3 539.2C95 539.7 96.5 540.6 97.4 541.3C98.3 542 98.8 542.9 98.8 543.7Z" fill="none" stroke="#6a51a3" stroke-width="0.9"/>
<path d="M90.7 542.7C90.7 543 90.4 543.4 90 543.7C89.6 544 88.9 544.3 88.2 544.4C87.5 544.6 86.5 544.7 85.7 544.7C84.8 544.7 83.9 544.6 83.2 544.4C82.4 544.3 81.7 544 81.3 543.7C80.9 543.4 80.6 543 80.6 542.7C80.6 542.4 80.9 542 81.3 541.7C81.7 541.4 82.4 541.1 83.2 541C83.9 540.8 84.8 540.7 85.7 540.7C86.5 540.7 87.5 540.8 88.2 541C88.9 541.1 89.6 541.4 90 541.7C90.4 542 90.7 542.4 90.7 542.7Z" fill="#3f007d" fill-opacity="0.15" stroke="#3f007d" stroke-width="1.27"/>
<path d="M89.6 543.1C89.6 543.4 89.3 543.8 89 544C88.6 544.3 88 544.5 87.3 544.7C86.7 544.8 85.8 544.9 85.1 544.9C84.3 544.9 83.5 544.8 82.8 544.7C82.1 544.5 81.5 544.3 81.1 544C80.8 543.8 80.5 543.4 80.5 543.1C80.5 542.8 80.8 542.4 81.1 542.2C81.5 542 82.1 541.7 82.8 541.5C83.5 541.4 84.3 541.3 85.1 541.3C85.8 541.3 86.7 541.4 87.3 541.5C88 541.7 88.6 542 89 542.2C89.3 542.4 89.6 542.8 89.6 543.1Z" fill="none" stroke="#96482a" stroke-width="0.9"/>
<path d="M91.2 542.7C91.2 543.1 90.9 543.5 90.5 543.8C90 544.1 89.2 544.4 88.4 544.6C87.6 544.8 86.6 544.9 85.7 544.9C84.7 544.9 83.7 544.8 82.9 544.6C82.1 544.4 81.3 544.1 80.9 543.8C80.4 543.5 80.1 543.1 80.1 542.7C80.1 542.3 80.4 541.9 80.9 541.6C81.3 541.3 82.1 541 82.9 540.8C83.7 540.6 84.7 540.5 85.7 540.5C86.6 540.5 87.6 540.6 88.4 540.8C89.2 541 90 541.3 90.5 541.6C90.9 541.9 91.2 542.3 91.2 542.7Z" fill="none" stroke="#6a51a3" stroke-width="0.9"/>
<path d="M73.1 549.2C73.1 549.2 83.2 553.6 88.2 554.3C93.2 554.9 98.6 554.4 103.3 553.3C108 552.1 116.4 547.2 116.4 547.2" fill="none" stroke="#96482a" stroke-width="1.08"/></g>
<clipPath id="c41"><rect x="179.3" y="509.1" width="115.7" height="115.7"/></clipPath><g clip-path="url(#c41)"><path d="M285.6 506C285.6 506 279.9 521.6 280.6 524.1C281.3 526.6 285.9 521.7 289.7 521.1C293.4 520.4 309.8 519.1 309.8 519.1L309.8 506L285.6 506Z" fill="#fbc4a0" fill-opacity="0.5"/>
<path d="M262.5 639.8C262.5 639.8 262.5 557.3 262.5 557.3C262.5 557.3 309.8 557.3 309.8 557.3L309.8 639.8L262.5 639.8Z" fill="#dcdbe9" fill-opacity="0.38"/>
<path d="M262.5 639.8L263 557.3" fill="none" stroke="#d3d2e4" stroke-width="1.25"/>
<path d="M271.6 639.8L271.6 557.3" fill="none" stroke="#d3d2e4" stroke-width="1.25"/>
<path d="M233.3 541.7C233.9 539.6 241.3 532.8 244.4 531.1C247.4 529.4 257.6 528.1 259.5 527.1C261.4 526.1 259.5 522.9 261.5 522.1C263.5 521.2 274 519 279.6 518.6C285.2 518.1 309.8 518.1 309.8 518.1L309.8 559.3C309.8 559.3 285.5 558.9 279.6 558.3C273.7 557.7 264.2 555.3 259.5 554.3C254.8 553.2 242.4 550.7 239.4 549.2C236.3 547.8 232.7 543.8 233.3 541.7Z" fill="#cdcbe8" fill-opacity="0.75" stroke="#9d9aca" stroke-width="1.25"/>
<path d="M255.5 541.2C255.5 538.8 263.3 535 269.5 533.1C275.8 531.3 309.8 525.1 309.8 525.1L309.8 555.3C309.8 555.3 284.2 554.2 279.6 553.3C275 552.3 273.6 549.2 269.5 547.2C265.5 545.2 255.5 543.5 255.5 541.2Z" fill="#cdcbe8" fill-opacity="0.75" stroke="#9d9aca" stroke-width="1.25"/>
<path d="M271.6 506C271.6 506 270.2 516.4 269.5 519.1C268.9 521.7 267.8 530 265.5 532.1C263.2 534.3 247 538.9 246.4 540.2C245.8 541.5 256.2 543.7 259.5 545.2C262.8 546.7 274.6 554.1 279.6 555.3C284.6 556.5 309.8 557.3 309.8 557.3" fill="none" stroke="#f3974f" stroke-width="1.4"/>
<path d="M285.6 506C285.6 506 281.7 519.7 280.6 524.1C279.6 528.5 278.6 535.2 278.6 535.2" fill="none" stroke="#f3974f" stroke-width="1.25"/>
<path d="M275.6 639.8C275.6 639.8 275.8 574.3 275.6 569.4C275.4 564.4 272.6 557.3 272.6 557.3" fill="none" stroke="#fdd8b3" stroke-width="1.25"/>
<path d="M281.6 529.1C281.6 529.1 283.4 525.5 285.6 525.1C287.9 524.7 309.8 524.1 309.8 524.1" fill="none" stroke="#6a51a3" stroke-width="0.85"/>
<path d="M279.6 549.2C275.2 552.6 282.8 561.2 283.6 569.4C284.4 577.5 284.3 587.8 284.6 599.5C285 611.3 285.6 639.8 285.6 639.8L309.8 639.8L309.8 549.2C309.8 549.2 284 545.9 279.6 549.2Z" fill="#cfcdea" fill-opacity="0.75" stroke="#6a51a3" stroke-width="1.1"/>
<path d="M285.6 554.3C282.3 557.6 289.2 566.2 289.7 574.4C290.1 582.6 290.7 639.8 290.7 639.8L309.8 639.8L309.8 554.3C309.8 554.3 289 550.9 285.6 554.3Z" fill="#cfcdea" fill-opacity="0.75" stroke="#6a51a3" stroke-width="1.1"/>
<path d="M292.7 599.5L293.2 639.8" fill="none" stroke="#d9560f" stroke-width="1.27"/>
<path d="M296.7 543.2C296.7 543.2 296.2 546 295.3 547.1C294.4 548.3 293 549.3 291.4 550C289.9 550.7 287.9 551.1 286.1 551.1C284.4 551.1 282.4 550.7 280.9 550C279.3 549.3 277.9 548.3 277 547.1C276.1 546 275.6 544.5 275.6 543.2C275.6 541.9 276.1 540.4 277 539.3C277.9 538.2 279.3 537.1 280.9 536.4C282.4 535.8 284.4 535.4 286.1 535.4C287.9 535.4 289.9 535.8 291.4 536.4C293 537.1 294.4 538.2 295.3 539.3C296.2 540.4 296.7 543.2 296.7 543.2Z" fill="#3f007d" fill-opacity="0.07" stroke="#3f007d" stroke-width="1.27"/>
<path d="M295.1 543.6C295.1 544.8 294.6 546.1 293.8 547.1C293 548.2 291.7 549.1 290.3 549.7C288.9 550.3 287.1 550.7 285.5 550.7C284 550.7 282.2 550.3 280.8 549.7C279.4 549.1 278.1 548.2 277.3 547.1C276.5 546.1 276 544.8 276 543.6C276 542.4 276.5 541.1 277.3 540.1C278.1 539.1 279.4 538.1 280.8 537.5C282.2 536.9 284 536.5 285.5 536.5C287.1 536.5 288.9 536.9 290.3 537.5C291.7 538.1 293 539.1 293.8 540.1C294.6 541.1 295.1 542.4 295.1 543.6Z" fill="none" stroke="#96482a" stroke-width="0.9"/>
<path d="M297.8 543.2C297.8 543.2 297.2 546.3 296.2 547.5C295.2 548.8 293.6 550 292 550.7C290.3 551.4 288.1 551.8 286.1 551.8C284.2 551.8 282 551.4 280.3 550.7C278.7 550 277.1 548.8 276.1 547.5C275.1 546.3 274.5 544.6 274.5 543.2C274.5 541.8 275.1 540.1 276.1 538.9C277.1 537.6 278.7 536.5 280.3 535.7C282 535 284.2 534.6 286.1 534.6C288.1 534.6 290.3 535 292 535.7C293.6 536.5 295.2 537.6 296.2 538.9C297.2 540.1 297.8 543.2 297.8 543.2Z" fill="none" stroke="#6a51a3" stroke-width="0.9"/>
<path d="M292.7 543.2C292.7 544.1 292.3 545.1 291.7 545.8C291.2 546.6 290.2 547.3 289.2 547.7C288.1 548.2 286.8 548.4 285.6 548.4C284.5 548.4 283.1 548.2 282.1 547.7C281.1 547.3 280.1 546.6 279.5 545.8C279 545.1 278.6 544.1 278.6 543.2C278.6 542.3 279 541.3 279.5 540.6C280.1 539.8 281.1 539.1 282.1 538.7C283.1 538.2 284.5 538 285.6 538C286.8 538 288.1 538.2 289.2 538.7C290.2 539.1 291.2 539.8 291.7 540.6C292.3 541.3 292.7 542.3 292.7 543.2Z" fill="#3f007d" fill-opacity="0.07" stroke="#3f007d" stroke-width="1.27"/>
<path d="M291.4 543.6C291.4 544.4 291.1 545.3 290.5 546C290 546.6 289.1 547.3 288.2 547.7C287.3 548.1 286.1 548.3 285 548.3C284 548.3 282.8 548.1 281.9 547.7C281 547.3 280.1 546.6 279.6 546C279 545.3 278.7 544.4 278.7 543.6C278.7 542.8 279 541.9 279.6 541.3C280.1 540.6 281 539.9 281.9 539.5C282.8 539.1 284 538.9 285 538.9C286.1 538.9 287.3 539.1 288.2 539.5C289.1 539.9 290 540.6 290.5 541.3C291.1 541.9 291.4 542.8 291.4 543.6Z" fill="none" stroke="#96482a" stroke-width="0.9"/>
<path d="M293.4 543.2C293.4 544.2 293 545.3 292.4 546.1C291.7 546.9 290.6 547.7 289.5 548.2C288.4 548.7 286.9 549 285.6 549C284.4 549 282.9 548.7 281.8 548.2C280.7 547.7 279.6 546.9 278.9 546.1C278.3 545.3 277.9 544.2 277.9 543.2C277.9 542.2 278.3 541.2 278.9 540.3C279.6 539.5 280.7 538.7 281.8 538.2C282.9 537.7 284.4 537.5 285.6 537.5C286.9 537.5 288.4 537.7 289.5 538.2C290.6 538.7 291.7 539.5 292.4 540.3C293 541.2 293.4 542.2 293.4 543.2Z" fill="none" stroke="#6a51a3" stroke-width="0.9"/>
<path d="M288.7 543.2C288.7 543.6 288.5 544.1 288.2 544.5C287.9 544.9 287.4 545.3 286.9 545.5C286.4 545.7 285.7 545.8 285.1 545.8C284.6 545.8 283.9 545.7 283.4 545.5C282.9 545.3 282.4 544.9 282.1 544.5C281.8 544.1 281.6 543.6 281.6 543.2C281.6 542.8 281.8 542.3 282.1 541.9C282.4 541.5 282.9 541.2 283.4 540.9C283.9 540.7 284.6 540.6 285.1 540.6C285.7 540.6 286.4 540.7 286.9 540.9C287.4 541.2 287.9 541.5 288.2 541.9C288.5 542.3 288.7 542.8 288.7 543.2Z" fill="#3f007d" fill-opacity="0.1" stroke="#3f007d" stroke-width="1.27"/>
<path d="M287.7 543.6C287.7 544 287.5 544.4 287.3 544.8C287 545.1 286.6 545.5 286.1 545.6C285.7 545.8 285.1 546 284.5 546C284 546 283.4 545.8 283 545.6C282.5 545.5 282.1 545.1 281.8 544.8C281.5 544.4 281.4 544 281.4 543.6C281.4 543.2 281.5 542.8 281.8 542.4C282.1 542.1 282.5 541.8 283 541.6C283.4 541.4 284 541.3 284.5 541.3C285.1 541.3 285.7 541.4 286.1 541.6C286.6 541.8 287 542.1 287.3 542.4C287.5 542.8 287.7 543.2 287.7 543.6Z" fill="none" stroke="#96482a" stroke-width="0.9"/>
<path d="M289 543.2C289 543.7 288.8 544.2 288.5 544.6C288.2 545.1 287.6 545.5 287.1 545.7C286.5 545.9 285.8 546.1 285.1 546.1C284.5 546.1 283.8 545.9 283.2 545.7C282.6 545.5 282.1 545.1 281.8 544.6C281.5 544.2 281.3 543.7 281.3 543.2C281.3 542.7 281.5 542.2 281.8 541.8C282.1 541.4 282.6 541 283.2 540.7C283.8 540.5 284.5 540.3 285.1 540.3C285.8 540.3 286.5 540.5 287.1 540.7C287.6 541 288.2 541.4 288.5 541.8C288.8 542.2 289 542.7 289 543.2Z" fill="none" stroke="#6a51a3" stroke-width="0.9"/></g>
<clipPath id="c42"><rect x="300.9" y="509.1" width="115.7" height="115.7"/></clipPath><g clip-path="url(#c42)"><path d="M384.5 519.1C385.2 516.7 393.6 506 393.6 506L431.8 506L431.8 519.1C431.8 519.1 406 531.1 401.6 534.2C397.2 537.2 389 549.7 387.5 549.2C386 548.7 386.8 532.1 386.5 529.1C386.2 526.1 383.8 521.4 384.5 519.1Z" fill="#fbc4a0" fill-opacity="0.6"/>
<path d="M385.5 518.1L393.6 506" fill="none" stroke="#f3974f" stroke-width="1.25"/>
<path d="M388.5 549.2C388.5 549.2 395.3 539.1 401.6 534.2C407.9 529.2 431.8 515 431.8 515" fill="none" stroke="#f3974f" stroke-width="1.25"/>
<path d="M388.5 539.2C388.5 539.2 397.8 529.6 401.6 524.1C405.5 518.6 411.7 506 411.7 506" fill="none" stroke="#f3974f" stroke-width="1.25"/>
<path d="M387.5 529.1C387.5 529.1 394.9 520.9 397.6 517C400.3 513.2 403.6 506 403.6 506" fill="none" stroke="#f3974f" stroke-width="1.25"/>
<path d="M387.8 522.1C387.8 523.1 387.5 524.3 386.9 525.2C386.3 526.1 385.4 527 384.4 527.5C383.4 528 382.1 528.3 381 528.3C379.8 528.3 378.5 528 377.6 527.5C376.6 527 375.6 526.1 375.1 525.2C374.5 524.3 374.1 523.1 374.1 522.1C374.1 521 374.5 519.9 375.1 519C375.6 518.1 376.6 517.2 377.6 516.7C378.5 516.2 379.8 515.8 381 515.8C382.1 515.8 383.4 516.2 384.4 516.7C385.4 517.2 386.3 518.1 386.9 519C387.5 519.9 387.8 521 387.8 522.1Z" fill="#cdcbe8" fill-opacity="0.25" stroke="#9d9aca" stroke-width="1.25"/>
<path d="M346.3 547.2C346.7 544.4 348.8 532.9 351.3 529.1C353.8 525.4 357.2 524.8 361.4 524.1C365.6 523.4 372.9 524.3 376.5 525.1C380 525.9 382.8 526.8 384.5 529.1C386.2 531.5 386.2 535.8 386.5 539.2C386.9 542.5 387 545.9 386.5 549.2C386 552.6 384.7 555.9 383.5 559.3C382.3 562.7 379.7 565 379.5 569.4C379.3 573.7 379.5 639.8 379.5 639.8L353.3 639.8C353.3 639.8 353.5 597.6 353.3 589.5C353.1 581.4 352.3 575.2 351.3 569.4C350.3 563.5 347.9 557 347.3 554.3C346.6 551.5 345.8 550 346.3 547.2Z" fill="#cfcdea" fill-opacity="0.75" stroke="#6a51a3" stroke-width="1.02"/>
<path d="M347.7 548.2C348.2 545.6 350.1 534.9 352.4 531.4C354.7 527.9 357.9 527.4 361.8 526.7C365.7 526.1 372.5 527 375.8 527.7C379.1 528.4 381.7 529.2 383.3 531.4C384.9 533.6 384.9 537.6 385.2 540.8C385.5 543.9 385.6 547 385.2 550.1C384.7 553.2 383.4 556.4 382.4 559.5C381.3 562.6 378.8 564.8 378.6 568.8C378.4 572.9 378.6 634.3 378.6 634.3L354.3 634.3C354.3 634.3 354.5 595.1 354.3 587.5C354.1 580 353.4 574.3 352.4 568.8C351.5 563.4 349.3 557.4 348.7 554.8C348.1 552.2 347.3 550.9 347.7 548.2Z" fill="none" stroke="#d9560f" stroke-width="0.8"/>
<path d="M350 549.8C350.4 547.5 352.1 538.1 354.2 535C356.2 531.9 359 531.4 362.4 530.9C365.8 530.3 371.9 531.1 374.8 531.7C377.7 532.3 380 533.1 381.4 535C382.8 536.9 382.8 540.5 383 543.2C383.3 546 383.4 548.7 383 551.5C382.6 554.2 381.5 557 380.6 559.7C379.6 562.5 377.4 564.4 377.3 568C377.1 571.5 380.2 617.7 377.3 625.7C374.3 633.8 359.4 632.6 355.8 625.7C352.2 618.9 356 591.1 355.8 584.5C355.6 577.9 355 572.8 354.2 568C353.3 563.2 351.4 557.9 350.9 555.6C350.3 553.3 349.7 552.1 350 549.8Z" fill="none" stroke="#fdd8b3" stroke-width="1.1"/>
<path d="M346.7 547.6C347.1 544.8 349.2 533.3 351.7 529.5C354.2 525.8 357.6 525.2 361.8 524.5C366 523.8 373.3 524.7 376.9 525.5C380.4 526.3 383.2 527.2 384.9 529.5C386.6 531.9 386.6 536.2 386.9 539.6C387.3 542.9 387.4 546.3 386.9 549.6C386.4 553 385.1 556.4 383.9 559.7C382.7 563.1 380.1 565.4 379.9 569.8C379.7 574.1 379.9 640.2 379.9 640.2L353.7 640.2C353.7 640.2 353.9 598 353.7 589.9C353.5 581.8 352.7 575.6 351.7 569.8C350.7 563.9 348.3 557.5 347.7 554.7C347.1 551.9 346.2 550.4 346.7 547.6Z" fill="none" stroke="#96482a" stroke-width="0.87"/>
<path d="M346 547.5C346.4 544.7 348.5 533.2 351 529.4C353.5 525.7 356.9 525.1 361.1 524.4C365.3 523.7 372.6 524.6 376.2 525.4C379.7 526.2 382.5 527.1 384.2 529.4C385.9 531.8 385.9 536.1 386.2 539.5C386.5 542.8 386.7 546.2 386.2 549.5C385.7 552.9 384.4 556.3 383.2 559.6C382 563 379.4 565.3 379.2 569.7C379 574 379.2 640.1 379.2 640.1L353 640.1C353 640.1 353.2 597.9 353 589.8C352.8 581.7 352 575.5 351 569.7C350 563.8 347.6 557.3 347 554.6C346.3 551.8 345.5 550.3 346 547.5Z" fill="none" stroke="#d9560f" stroke-width="0.85"/>
<path d="M353.3 539.2C354.5 536.2 356.3 531 359.4 529.1C362.4 527.3 368.4 527.3 371.4 528.1C374.4 529 376.7 530.8 377.5 534.2C378.2 537.5 378.3 548.4 377.5 554.3C376.6 560.1 373 563 372.4 569.4C371.9 575.7 370.4 639.8 370.4 639.8L360.4 639.8C360.4 639.8 359.8 587.6 359.4 579.4C358.9 571.3 357.4 564.3 356.3 559.3C355.2 554.3 352.8 550.4 352.3 547.2C351.8 544 352.1 542.2 353.3 539.2Z" fill="#aaa6d9" fill-opacity="0.75" stroke="#6a51a3" stroke-width="1.02"/>
<path d="M354.1 541C355.2 538.2 356.9 533.4 359.7 531.7C362.5 529.9 368.1 529.9 370.9 530.7C373.8 531.5 375.8 533.2 376.6 536.3C377.3 539.4 377.3 549.6 376.6 555.1C375.8 560.5 372.4 563.2 371.9 569.1C371.4 575 370 634.6 370 634.6L360.7 634.6C360.7 634.6 360.1 586 359.7 578.4C359.3 570.9 357.9 564.4 356.9 559.7C355.9 555.1 353.6 551.5 353.2 548.5C352.7 545.5 353 543.8 354.1 541Z" fill="none" stroke="#d9560f" stroke-width="0.8"/>
<path d="M355.3 543.9C356.3 541.4 357.8 537.2 360.3 535.7C362.8 534.1 367.7 534.1 370.2 534.8C372.7 535.5 374.5 537.1 375.1 539.8C375.8 542.5 375.8 551.5 375.1 556.3C374.5 561.1 371.4 563.5 371 568.7C370.6 573.9 369.9 623.2 369.4 626.4C368.8 629.7 361.7 629.7 361.1 626.4C360.5 623.2 360.6 583.6 360.3 576.9C360 570.2 358.7 564.5 357.8 560.4C356.9 556.3 354.9 553.1 354.5 550.5C354.1 547.9 354.4 546.4 355.3 543.9Z" fill="none" stroke="#fdd8b3" stroke-width="1.1"/>
<path d="M353.7 539.6C354.9 536.6 356.7 531.4 359.8 529.5C362.8 527.7 368.8 527.7 371.8 528.5C374.8 529.4 377.1 531.2 377.9 534.6C378.6 537.9 378.7 548.8 377.9 554.7C377 560.5 373.4 563.4 372.8 569.8C372.3 576.1 370.8 640.2 370.8 640.2L360.8 640.2C360.8 640.2 360.2 588 359.8 579.8C359.3 571.7 357.8 564.7 356.7 559.7C355.6 554.7 353.2 550.8 352.7 547.6C352.2 544.4 352.5 542.6 353.7 539.6Z" fill="none" stroke="#96482a" stroke-width="0.87"/>
<path d="M365.4 639.8C365.4 639.8 364.6 589.5 364.4 579.4C364.1 569.4 363.4 554.3 363.4 554.3" fill="none" stroke="#fdd8b3" stroke-width="1.4"/>
<path d="M366.4 639.8C366.4 639.8 367.4 603.6 367.4 599.5C367.4 595.5 366.4 609.6 366.4 609.6" fill="none" stroke="#f3974f" stroke-width="2.0"/>
<path d="M368.4 546.2C368.4 547.6 368.2 549.1 367.7 550.2C367.3 551.4 366.6 552.5 365.9 553.2C365.2 553.9 364.2 554.3 363.4 554.3C362.5 554.3 361.6 553.9 360.9 553.2C360.1 552.5 359.4 551.4 359 550.2C358.6 549.1 358.3 547.6 358.3 546.2C358.3 544.9 358.6 543.4 359 542.2C359.4 541 360.1 539.9 360.9 539.3C361.6 538.6 362.5 538.2 363.4 538.2C364.2 538.2 365.2 538.6 365.9 539.3C366.6 539.9 367.3 541 367.7 542.2C368.2 543.4 368.4 544.9 368.4 546.2Z" fill="#7f78c4" fill-opacity="0.85"/>
<path d="M368.6 546.2C368.6 547.6 368.3 549.2 367.9 550.3C367.5 551.5 366.7 552.7 366 553.4C365.2 554.1 364.2 554.5 363.4 554.5C362.5 554.5 361.5 554.1 360.8 553.4C360 552.7 359.3 551.5 358.8 550.3C358.4 549.2 358.1 547.6 358.1 546.2C358.1 544.8 358.4 543.3 358.8 542.1C359.3 540.9 360 539.8 360.8 539.1C361.5 538.4 362.5 538 363.4 538C364.2 538 365.2 538.4 366 539.1C366.7 539.8 367.5 540.9 367.9 542.1C368.3 543.3 368.6 544.8 368.6 546.2Z" fill="none" stroke="#96482a" stroke-width="1.01"/>
<path d="M381.3 545.7C380.7 547.1 379.8 548.5 378.8 549.5C377.8 550.5 376.5 551.3 375.2 551.7C374 552 372.5 551.9 371.4 551.5C370.3 551.1 369.1 550.2 368.4 549.2C367.7 548.1 367.2 546.6 367 545.2C366.9 543.8 367.1 542.1 367.6 540.7C368.1 539.3 369.1 537.9 370.1 536.9C371.1 535.9 372.4 535.1 373.7 534.8C374.9 534.4 376.3 534.5 377.5 534.9C378.6 535.3 379.7 536.2 380.5 537.2C381.2 538.3 381.7 539.8 381.9 541.2C382 542.6 381.8 544.3 381.3 545.7Z" fill="#3f007d" fill-opacity="0.07" stroke="#3f007d" stroke-width="1.27"/>
<path d="M380 545.8C379.5 547.1 378.7 548.4 377.8 549.3C376.9 550.2 375.7 550.9 374.5 551.2C373.4 551.5 372.1 551.5 371.1 551.1C370.1 550.7 369.1 549.9 368.4 549C367.8 548 367.3 546.7 367.2 545.4C367.1 544.2 367.3 542.6 367.7 541.4C368.2 540.1 369 538.8 369.9 537.9C370.8 537 372 536.3 373.1 536C374.2 535.7 375.5 535.7 376.6 536.1C377.6 536.5 378.6 537.3 379.3 538.2C379.9 539.2 380.4 540.5 380.5 541.8C380.6 543.1 380.4 544.6 380 545.8Z" fill="none" stroke="#96482a" stroke-width="0.9"/>
<path d="M381.9 545.9C381.4 547.5 380.4 549 379.3 550.1C378.2 551.2 376.7 552.1 375.3 552.5C373.9 552.9 372.4 552.8 371.1 552.4C369.9 551.9 368.6 550.9 367.8 549.8C367 548.6 366.4 547 366.3 545.4C366.2 543.9 366.4 542 367 540.5C367.5 539 368.5 537.4 369.6 536.3C370.7 535.2 372.2 534.3 373.6 533.9C374.9 533.5 376.5 533.6 377.8 534.1C379 534.5 380.3 535.5 381.1 536.6C381.9 537.8 382.4 539.4 382.6 541C382.7 542.5 382.5 544.4 381.9 545.9Z" fill="none" stroke="#6a51a3" stroke-width="0.9"/>
<path d="M379 544.9C378.6 545.8 378 546.8 377.3 547.5C376.7 548.2 375.8 548.7 374.9 548.9C374.1 549.2 373.1 549.2 372.4 548.9C371.6 548.6 370.9 548 370.4 547.3C369.9 546.6 369.6 545.6 369.5 544.6C369.4 543.7 369.6 542.5 369.9 541.6C370.2 540.6 370.9 539.6 371.5 538.9C372.2 538.3 373.1 537.7 374 537.5C374.8 537.2 375.8 537.3 376.5 537.5C377.3 537.8 378 538.4 378.5 539.1C379 539.8 379.3 540.8 379.4 541.8C379.5 542.8 379.3 543.9 379 544.9Z" fill="#3f007d" fill-opacity="0.07" stroke="#3f007d" stroke-width="1.27"/>
<path d="M377.9 545.1C377.6 545.9 377.1 546.8 376.4 547.4C375.8 548.1 375 548.6 374.3 548.8C373.5 549 372.7 549 372 548.7C371.3 548.5 370.6 547.9 370.2 547.3C369.8 546.6 369.4 545.7 369.4 544.9C369.3 544 369.4 543 369.8 542.1C370.1 541.3 370.6 540.4 371.2 539.8C371.8 539.2 372.7 538.7 373.4 538.4C374.2 538.2 375 538.3 375.7 538.5C376.4 538.8 377.1 539.3 377.5 539.9C377.9 540.6 378.2 541.5 378.3 542.3C378.4 543.2 378.2 544.2 377.9 545.1Z" fill="none" stroke="#96482a" stroke-width="0.9"/>
<path d="M379.4 545C379.1 546.1 378.4 547.2 377.6 547.9C376.9 548.6 375.9 549.3 375 549.5C374.1 549.8 373 549.7 372.2 549.4C371.3 549.1 370.5 548.5 370 547.7C369.4 546.9 369.1 545.8 369 544.8C368.9 543.7 369.1 542.4 369.5 541.4C369.8 540.3 370.5 539.3 371.3 538.5C372 537.8 373 537.2 373.9 536.9C374.8 536.6 375.9 536.7 376.7 537C377.5 537.3 378.4 537.9 378.9 538.7C379.4 539.5 379.8 540.6 379.9 541.7C380 542.7 379.8 544 379.4 545Z" fill="none" stroke="#6a51a3" stroke-width="0.9"/>
<path d="M376.5 544C376.3 544.5 376 545.1 375.7 545.4C375.3 545.8 374.8 546.1 374.4 546.2C374 546.4 373.5 546.4 373.1 546.2C372.8 546.1 372.4 545.8 372.2 545.4C371.9 545 371.8 544.5 371.7 544C371.7 543.5 371.8 542.9 372 542.4C372.2 541.9 372.5 541.3 372.8 541C373.2 540.6 373.6 540.3 374.1 540.2C374.5 540 375 540 375.3 540.2C375.7 540.3 376.1 540.6 376.3 541C376.6 541.4 376.7 541.9 376.8 542.4C376.8 542.9 376.7 543.5 376.5 544Z" fill="#3f007d" fill-opacity="0.1" stroke="#3f007d" stroke-width="1.27"/>
<path d="M375.7 544.4C375.5 544.8 375.2 545.3 374.9 545.6C374.6 545.9 374.2 546.2 373.8 546.3C373.4 546.5 373 546.5 372.6 546.3C372.3 546.2 372 545.9 371.8 545.6C371.5 545.3 371.4 544.8 371.4 544.3C371.3 543.9 371.4 543.3 371.6 542.9C371.8 542.4 372.1 541.9 372.4 541.6C372.7 541.3 373.1 541 373.5 540.9C373.9 540.8 374.3 540.8 374.6 540.9C375 541 375.3 541.3 375.5 541.6C375.7 542 375.9 542.4 375.9 542.9C375.9 543.3 375.8 543.9 375.7 544.4Z" fill="none" stroke="#96482a" stroke-width="0.9"/>
<path d="M376.7 544.1C376.5 544.7 376.2 545.3 375.8 545.7C375.4 546.1 374.9 546.4 374.4 546.5C374 546.7 373.4 546.7 373 546.5C372.6 546.4 372.2 546 371.9 545.6C371.7 545.2 371.5 544.6 371.5 544.1C371.4 543.5 371.5 542.9 371.7 542.3C371.9 541.7 372.3 541.2 372.7 540.8C373.1 540.4 373.6 540 374 539.9C374.5 539.7 375 539.7 375.5 539.9C375.9 540 376.3 540.4 376.5 540.8C376.8 541.2 377 541.8 377 542.3C377 542.9 376.9 543.6 376.7 544.1Z" fill="none" stroke="#6a51a3" stroke-width="0.9"/></g>
<clipPath id="c43"><rect x="422.4" y="509.1" width="115.7" height="115.7"/></clipPath><g clip-path="url(#c43)"><path d="M406.9 506L520.6 506C520.6 506 522.9 516.7 522.6 519.1C522.3 521.4 518.8 527.2 517.6 529.1C516.4 531 511.8 536.8 510.5 538.2C509.2 539.6 505.3 543.6 504.5 543.2C503.7 542.8 502.9 536.3 502.5 534.2C502.1 532 501.5 523.8 500.5 522.1C499.5 520.4 496.1 517.9 492.4 517C488.7 516.2 470.8 513 462.2 513C453.7 513 406.9 517 406.9 517L406.9 506Z" fill="#fbc4a0" fill-opacity="0.55"/>
<path d="M520.6 506C520.6 506 523.1 515.2 522.6 519.1C522.1 522.9 519.8 525.8 517.6 529.1C515.4 532.5 511.1 537.2 509.5 539.2C507.9 541.2 505.5 544.2 505.5 544.2" fill="none" stroke="#fdd8b3" stroke-width="1.25"/>
<path d="M406.9 517C406.9 517 434.1 512.9 442.1 512C450.1 511.1 455.5 510.8 462.2 511C468.9 511.2 477.4 512.1 482.4 513C487.4 514 491.3 515.6 494.4 517C497.6 518.5 500.1 519.2 501.5 522.1C502.8 524.9 507.3 534.4 502.5 534.2C497.6 533.9 406.9 517 406.9 517Z" fill="#fb9d62" fill-opacity="0.3" stroke="#f3974f" stroke-width="1.3"/>
<path d="M406.9 518.6C406.9 518.6 478.2 518.4 482.4 518.6C486.5 518.7 491.2 520 492.4 521.1C493.6 522.1 493.4 527.7 494.4 529.1C495.4 530.5 501.5 533.7 502.5 535.2C503.5 536.6 504.5 541.3 504.5 543.2C504.5 545.1 503.3 552.1 502.5 554.3C501.7 556.5 497.5 563.3 496.4 565.3C495.4 567.4 492.9 572 492.4 574.4C491.9 576.8 491.3 586.5 491.4 589.5C491.5 592.5 493.4 602.1 493.4 604.6C493.4 607.1 491.8 611.1 491.4 614.6C491 618.2 489.4 639.8 489.4 639.8L406.9 639.8L406.9 518.6Z" fill="#cdcbe8" fill-opacity="0.8" stroke="#9d9aca" stroke-width="1.25"/>
<path d="M406.9 524.6C406.9 524.6 479.4 524.4 482.4 524.6C485.4 524.8 486.8 528.2 488.4 529.1C490 530.1 497.1 532.7 498.5 534.2C499.9 535.6 502.3 541.2 502.5 543.2C502.7 545.2 501.3 552.1 500.5 554.3C499.7 556.5 495.4 563.3 494.4 565.3C493.4 567.4 490.9 572 490.4 574.4C489.9 576.8 489.3 586.5 489.4 589.5C489.5 592.5 491.4 599.5 491.4 604.6C491.4 609.6 489.4 639.8 489.4 639.8" fill="none" stroke="#d9560f" stroke-width="1.19"/>
<path d="M406.9 525.1C406.9 525.1 479.5 524.9 482.4 525.1C485.2 525.3 486 529.2 487.4 530.1C488.8 531 495.2 532.8 496.4 534.2C497.7 535.5 499.8 541.2 500 543.2C500.2 545.2 499.2 552.1 498.5 554.3C497.7 556.5 493.3 563.3 492.4 565.3C491.5 567.4 489.8 572 489.4 574.4C489 576.8 488.3 586.5 488.4 589.5C488.5 592.5 490.4 599.5 490.4 604.6C490.4 609.6 488.4 639.8 488.4 639.8" fill="none" stroke="#6a51a3" stroke-width="1.19"/>
<path d="M406.9 527.1C406.9 527.1 479.8 527 482.4 527.1C484.9 527.2 486 530.4 487.4 531.1C488.8 531.8 495.2 533 496.4 534.2C497.7 535.3 499.5 540.4 499.5 542.2C499.5 544 497.7 550.1 496.4 552.3C495.2 554.4 489.3 561.4 487.4 563.3C485.5 565.2 480.1 570.1 477.3 571.4C474.6 572.7 460.9 574.6 460.2 576.4C459.5 578.2 470.1 586.7 470.3 589.5C470.5 592.3 463.8 602.4 462.2 604.6C460.7 606.8 457.4 610.3 455.2 611.6C453 612.9 442.8 619.4 440.1 617.7C437.4 615.9 428.3 598.7 428 594.5C427.7 590.3 439.2 577.9 437.1 575.4C435 572.9 406.9 569.4 406.9 569.4L406.9 527.1Z" fill="#aaa6d9" fill-opacity="0.75" stroke="#6a51a3" stroke-width="1.02"/>
<path d="M410.8 530C410.8 530 478.6 529.9 480.9 530C483.3 530.1 484.3 533.1 485.6 533.7C486.9 534.4 492.9 535.5 494 536.5C495.2 537.5 496.9 542.3 496.9 544C496.9 545.7 495.2 551.4 494 553.4C492.9 555.3 487.4 561.9 485.6 563.7C483.8 565.4 478.8 569.9 476.3 571.1C473.7 572.4 461 574.1 460.4 575.8C459.7 577.5 469.5 585.4 469.7 588C469.9 590.6 463.6 600 462.2 602C460.8 604.1 457.7 607.3 455.7 608.6C453.6 609.8 444.2 615.8 441.6 614.2C439.1 612.6 430.7 596.6 430.4 592.7C430.1 588.7 440.8 577.2 438.8 574.9C436.9 572.5 410.8 569.3 410.8 569.3L410.8 530Z" fill="none" stroke="#d9560f" stroke-width="0.8"/>
<path d="M416.8 534.5C416.8 534.5 476.6 534.4 478.7 534.5C480.8 534.6 481.7 537.2 482.8 537.8C484 538.3 489.3 539.3 490.3 540.2C491.3 541.1 492.7 545.4 492.7 546.8C492.7 548.3 491.3 553.4 490.3 555.1C489.3 556.8 484.4 562.6 482.8 564.2C481.3 565.7 476.8 569.7 474.6 570.8C472.4 571.8 461.1 573.4 460.6 574.9C460 576.4 468.7 583.3 468.8 585.6C469 587.9 463.5 596.2 462.2 598C461 599.8 458.3 602.7 456.4 603.8C454.6 604.8 446.3 610.1 444.1 608.7C441.8 607.3 434.4 593.2 434.2 589.7C433.9 586.3 443.3 576.1 441.6 574.1C439.9 572 416.8 569.1 416.8 569.1L416.8 534.5Z" fill="none" stroke="#fdd8b3" stroke-width="1.1"/>
<path d="M406.9 561.3C406.9 561.3 454.1 559.8 462.2 559.3C470.4 558.8 476.7 558.3 482.4 556.3C488.1 554.3 496.4 547.2 496.4 547.2" fill="none" stroke="#fdd8b3" stroke-width="1.5"/>
<path d="M406.9 565.3C406.9 565.3 455.7 565.1 462.2 564.8C468.8 564.6 478.3 562.3 478.3 562.3" fill="none" stroke="#fdd8b3" stroke-width="1.5" stroke-opacity="0.8"/>
<path d="M406.9 579.4C406.9 579.4 429.1 584.3 432.1 585.5C435 586.6 436.4 590.2 437.1 591.5C437.8 592.8 437.4 596.7 439.1 598.5C440.8 600.4 452.4 608.9 454.2 609.6C456 610.3 457.1 606.6 457.2 605.6C457.3 604.6 455.2 600.9 455.2 599.5C455.2 598.2 457.7 594 457.2 592.5C456.7 591 450.2 585.8 450.2 584.5C450.2 583.1 455.8 579.7 457.2 579.4C458.6 579.1 462.2 582.2 464.3 581.4C466.3 580.6 475 573 477.3 571.4C479.6 569.8 487.4 565.3 487.4 565.3" fill="none" stroke="#d9560f" stroke-width="1.36"/>
<path d="M470.3 591.5C470.3 592.2 470 593 469.6 593.6C469.2 594.2 468.5 594.8 467.8 595.2C467.1 595.5 466.1 595.7 465.3 595.7C464.4 595.7 463.5 595.5 462.7 595.2C462 594.8 461.3 594.2 460.9 593.6C460.5 593 460.2 592.2 460.2 591.5C460.2 590.8 460.5 590 460.9 589.4C461.3 588.8 462 588.2 462.7 587.8C463.5 587.5 464.4 587.3 465.3 587.3C466.1 587.3 467.1 587.5 467.8 587.8C468.5 588.2 469.2 588.8 469.6 589.4C470 590 470.3 590.8 470.3 591.5Z" fill="none" stroke="#d9560f" stroke-width="1.36"/>
<path d="M451.2 639.8C451.2 639.8 455.2 616.6 455.2 616.6C455.2 616.6 459.2 639.8 459.2 639.8" fill="none" stroke="#f3974f" stroke-width="1.5"/>
<path d="M499.5 543.2C499.5 544.7 495.7 546.9 492.5 547.8C489.2 548.8 480.9 550.5 473.3 551.2C465.8 552 455.9 552.5 447.2 552.5C438.4 552.5 428.5 552 421 551.2C413.4 550.5 401.8 547.8 401.8 547.8L394.8 543.2L401.8 538.6C401.8 538.6 413.4 536 421 535.2C428.5 534.4 438.4 534 447.2 534C455.9 534 465.8 534.4 473.3 535.2C480.9 536 489.2 537.6 492.5 538.6C495.7 539.6 499.5 541.7 499.5 543.2Z" fill="#3f007d" fill-opacity="0.07" stroke="#3f007d" stroke-width="1.36"/>
<path d="M493.6 543.6C493.6 545 490.2 546.9 487.3 547.8C484.4 548.7 476.9 550.1 470.1 550.8C463.3 551.5 454.4 551.9 446.5 551.9C438.7 551.9 429.8 551.5 423 550.8C416.2 550.1 405.8 547.8 405.8 547.8L399.5 543.6L405.8 539.4C405.8 539.4 416.2 537.1 423 536.4C429.8 535.7 438.7 535.3 446.5 535.3C454.4 535.3 463.3 535.7 470.1 536.4C476.9 537.1 484.4 538.6 487.3 539.4C490.2 540.3 493.6 542.2 493.6 543.6Z" fill="none" stroke="#96482a" stroke-width="0.9"/>
<path d="M504.7 543.2C504.7 544.9 500.5 547.2 497 548.3C493.5 549.4 484.2 551.2 475.9 552C467.6 552.9 456.7 553.4 447.2 553.4C437.6 553.4 418.4 552 418.4 552L397.3 548.3L389.6 543.2L397.3 538.1L418.4 534.4C418.4 534.4 437.6 533 447.2 533C456.7 533 467.6 533.5 475.9 534.4C484.2 535.2 493.5 537 497 538.1C500.5 539.2 504.7 541.5 504.7 543.2Z" fill="none" stroke="#6a51a3" stroke-width="0.9"/>
<path d="M487.4 542.7C487.4 543.7 484.4 545.2 482 545.8C479.6 546.5 473.1 547.6 467.3 548.1C461.5 548.6 453.9 548.9 447.2 548.9C440.4 548.9 432.8 548.6 427 548.1C421.2 547.6 412.3 545.8 412.3 545.8L406.9 542.7L412.3 539.6C412.3 539.6 421.2 537.8 427 537.3C432.8 536.8 440.4 536.5 447.2 536.5C453.9 536.5 461.5 536.8 467.3 537.3C473.1 537.8 479.6 538.9 482 539.6C484.4 540.2 487.4 541.7 487.4 542.7Z" fill="#3f007d" fill-opacity="0.07" stroke="#3f007d" stroke-width="1.36"/>
<path d="M482.8 543.1C482.8 544 480.1 545.3 477.9 545.9C475.7 546.5 469.9 547.5 464.7 548C459.4 548.4 452.6 548.7 446.5 548.7C440.5 548.7 433.7 548.4 428.4 548C423.2 547.5 415.2 545.9 415.2 545.9L410.3 543.1L415.2 540.3C415.2 540.3 423.2 538.7 428.4 538.2C433.7 537.8 440.5 537.5 446.5 537.5C452.6 537.5 459.4 537.8 464.7 538.2C469.9 538.7 475.7 539.7 477.9 540.3C480.1 540.9 482.8 542.2 482.8 543.1Z" fill="none" stroke="#96482a" stroke-width="0.9"/>
<path d="M491.4 542.7C491.4 543.8 488.1 545.4 485.5 546.1C482.8 546.8 475.7 548.1 469.3 548.6C462.9 549.2 454.5 549.6 447.2 549.6C439.8 549.6 431.4 549.2 425 548.6C418.6 548.1 408.8 546.1 408.8 546.1L402.9 542.7L408.8 539.3C408.8 539.3 418.6 537.3 425 536.8C431.4 536.2 439.8 535.8 447.2 535.8C454.5 535.8 462.9 536.2 469.3 536.8C475.7 537.3 482.8 538.6 485.5 539.3C488.1 540 491.4 541.6 491.4 542.7Z" fill="none" stroke="#6a51a3" stroke-width="0.9"/>
<path d="M493.4 543.7C493.4 545 490 546.8 487.2 547.6C484.4 548.5 477 549.9 470.3 550.5C463.6 551.2 454.9 551.6 447.2 551.6C439.4 551.6 430.7 551.2 424 550.5C417.3 549.9 407.1 547.6 407.1 547.6L400.9 543.7L407.1 539.8C407.1 539.8 417.3 537.6 424 536.9C430.7 536.3 439.4 535.9 447.2 535.9C454.9 535.9 463.6 536.3 470.3 536.9C477 537.6 484.4 539 487.2 539.8C490 540.6 493.4 542.4 493.4 543.7Z" fill="none" stroke="#96482a" stroke-width="1.08"/>
<path d="M473.3 542.2C473.3 542.7 471.3 543.3 469.8 543.6C468.3 543.9 464 544.4 460.2 544.6C456.5 544.9 451.5 545 447.2 545C442.8 545 437.8 544.9 434.1 544.6C430.3 544.4 426 543.9 424.5 543.6C423 543.3 421 542.7 421 542.2C421 541.7 423 541.1 424.5 540.8C426 540.5 430.3 540 434.1 539.8C437.8 539.5 442.8 539.4 447.2 539.4C451.5 539.4 456.5 539.5 460.2 539.8C464 540 468.3 540.5 469.8 540.8C471.3 541.1 473.3 541.7 473.3 542.2Z" fill="#3f007d" fill-opacity="0.5" stroke="#3f007d" stroke-width="1.36"/>
<path d="M470.1 542.6C470.1 543 468.3 543.6 466.9 543.9C465.6 544.1 461.7 544.6 458.3 544.8C454.9 545 450.5 545.1 446.5 545.1C442.6 545.1 438.2 545 434.8 544.8C431.4 544.6 427.5 544.1 426.2 543.9C424.8 543.6 423 543 423 542.6C423 542.2 424.8 541.6 426.2 541.3C427.5 541.1 431.4 540.6 434.8 540.4C438.2 540.2 442.6 540.1 446.5 540.1C450.5 540.1 454.9 540.2 458.3 540.4C461.7 540.6 465.6 541.1 466.9 541.3C468.3 541.6 470.1 542.2 470.1 542.6Z" fill="none" stroke="#96482a" stroke-width="0.9"/>
<path d="M475.9 542.2C475.9 542.7 473.7 543.4 472.1 543.7C470.4 544.1 465.7 544.6 461.5 544.9C457.4 545.1 451.9 545.3 447.2 545.3C442.4 545.3 436.9 545.1 432.8 544.9C428.6 544.6 423.9 544.1 422.2 543.7C420.6 543.4 418.4 542.2 418.4 542.2C418.4 542.2 420.6 541 422.2 540.7C423.9 540.3 428.6 539.8 432.8 539.5C436.9 539.3 442.4 539.1 447.2 539.1C451.9 539.1 457.4 539.3 461.5 539.5C465.7 539.8 470.4 540.3 472.1 540.7C473.7 541 475.9 541.7 475.9 542.2Z" fill="none" stroke="#6a51a3" stroke-width="0.9"/>
<path d="M489.4 549.2C489.4 549.9 486.1 550.9 483.7 551.3C481.4 551.6 474.4 552.4 468.3 552.7C462.2 553.1 454.2 553.3 447.2 553.3C440.1 553.3 432.1 553.1 426 552.7C419.9 552.4 410.6 551.3 410.6 551.3L404.9 549.2L410.6 547.2C410.6 547.2 419.9 546.1 426 545.8C432.1 545.4 440.1 545.2 447.2 545.2C454.2 545.2 462.2 545.4 468.3 545.8C474.4 546.1 481.4 546.8 483.7 547.2C486.1 547.6 489.4 548.6 489.4 549.2Z" fill="none" stroke="#d9560f" stroke-width="1.19"/></g>
<clipPath id="c50"><rect x="57.8" y="630.6" width="115.7" height="115.7"/></clipPath><g clip-path="url(#c50)"><path d="M145.5 761.8C145.5 761.8 145.4 753.3 145.5 747.7C145.6 742.1 145.7 703 146.5 696.4C147.3 689.8 150.7 684.3 153.6 681.3C156.4 678.3 160 678.3 163.6 678.3C167.2 678.3 174.6 676.6 175.2 681.3C175.9 686 175.2 761.8 175.2 761.8L145.5 761.8Z" fill="#dcdbe9" fill-opacity="0.38" stroke="#d3d2e4" stroke-width="1.25"/>
<path d="M154.6 761.8C154.6 761.8 154.5 753.3 154.6 747.7C154.7 742.1 154.8 706.5 155.6 701.4C156.4 696.3 160.4 692.7 163.6 691.4C166.9 690 174.4 688.7 175.2 693.4C176 698 175.2 761.8 175.2 761.8L154.6 761.8Z" fill="#dcdbe9" fill-opacity="0.45" stroke="#d3d2e4" stroke-width="1.25"/>
<path d="M159.6 761.8C159.6 761.8 159.5 753.3 159.6 747.7C159.7 742.1 160.3 709.7 160.6 706.5C161 703.2 163.3 699.4 164.6 699.4C166 699.4 168.3 703.2 168.7 706.5C169 709.7 169.6 742.1 169.7 747.7C169.8 753.3 169.7 761.8 169.7 761.8L159.6 761.8Z" fill="#dcdbe9" fill-opacity="0.6" stroke="#d3d2e4" stroke-width="1.25"/>
<path d="M56 678.3C56 678.3 65.2 667.4 68.1 661.2C70.9 655 71.3 646.5 73.1 641.1C74.9 635.6 79.1 628 79.1 628L108.3 628C108.3 628 115.5 639.7 118.4 646.1C121.2 652.5 124.1 660.3 125.4 666.2C126.7 672.1 126.9 677.7 126.4 681.3C125.9 684.9 125.9 688.4 122.4 689.4C118.9 690.3 99.2 691.7 88.2 691.4C77.1 691 56 687.3 56 687.3L56 678.3Z" fill="#fbc4a0" fill-opacity="0.5"/>
<path d="M56 678.3C56 678.3 65.2 667.4 68.1 661.2C70.9 655 71.3 646.5 73.1 641.1C74.9 635.6 79.1 628 79.1 628L108.3 628C108.3 628 115.5 639.7 118.4 646.1C121.2 652.5 124.1 660.3 125.4 666.2C126.7 672.1 126.9 677.7 126.4 681.3C125.9 684.9 122.4 689.4 122.4 689.4" fill="none" stroke="#f3974f" stroke-width="1.25"/>
<path d="M78.1 676.3C72.8 671.4 77.3 661.7 78.1 656.2C79 650.6 80.6 645.8 83.2 643.1C85.7 640.4 89.9 639.9 93.2 640.1C96.6 640.2 100.6 641.4 103.3 644.1C106 646.8 108 651.6 109.3 656.2C110.7 660.7 111.2 666.4 111.3 671.2C111.5 676.1 115.8 684.5 110.3 685.3C104.8 686.2 83.5 681.1 78.1 676.3Z" fill="#fb9d62" fill-opacity="0.35" stroke="#f3974f" stroke-width="1.25"/>
<path d="M56 701.4C56 701.4 61.8 706.9 64 708.5C66.2 710 70.1 711.5 70.1 711.5" fill="none" stroke="#f3974f" stroke-width="1.25"/>
<path d="M118.4 687.3C118.4 692.2 116.7 697.7 114.1 701.9C111.4 706.1 106.9 710.2 102.3 712.6C97.6 715 91.5 716.5 86.2 716.5C80.8 716.5 74.7 715 70.1 712.6C65.4 710.2 61 706.1 58.3 701.9C55.6 697.7 54 687.3 54 687.3C54 687.3 55.6 677 58.3 672.8C61 668.5 65.4 664.5 70.1 662.1C74.7 659.6 80.8 658.2 86.2 658.2C91.5 658.2 97.6 659.6 102.3 662.1C106.9 664.5 111.4 668.5 114.1 672.8C116.7 677 118.4 682.5 118.4 687.3Z" fill="#cdcbe8" fill-opacity="0.55" stroke="#9d9aca" stroke-width="1.25"/>
<path d="M109.3 688.3C109.3 692 108.1 696.2 106.1 699.4C104.1 702.6 100.7 705.7 97.2 707.5C93.8 709.4 89.2 710.5 85.2 710.5C81.1 710.5 76.6 709.4 73.1 707.5C69.6 705.7 66.3 702.6 64.3 699.4C62.2 696.2 61 692 61 688.3C61 684.7 62.2 680.5 64.3 677.3C66.3 674.1 69.6 671 73.1 669.2C76.6 667.3 81.1 666.2 85.2 666.2C89.2 666.2 93.8 667.3 97.2 669.2C100.7 671 104.1 674.1 106.1 677.3C108.1 680.5 109.3 684.7 109.3 688.3Z" fill="#cdcbe8" fill-opacity="0.55" stroke="#9d9aca" stroke-width="1.25"/>
<path d="M71.1 711.5C71.7 707 70.2 690.5 71.1 686.3C72 682.1 75.3 680 78.1 678.3C81 676.6 84.8 675.8 88.2 676.3C91.5 676.8 94.9 679.6 98.2 681.3C101.6 683 104.1 685.2 108.3 686.3C112.5 687.5 118.7 687.2 123.4 688.3C128.1 689.5 133 690.9 136.5 693.4C140 695.9 142.5 698.7 144.5 703.4C146.5 708.1 148.3 714.1 148.5 721.5C148.8 729 146.5 761.8 146.5 761.8L70.1 761.8C70.1 761.8 68.7 742.7 68.1 736.6C67.5 730.6 65.5 725.7 66 721.5C66.6 717.4 70.4 715.9 71.1 711.5Z" fill="#cfcdea" fill-opacity="0.75" stroke="#6a51a3" stroke-width="0.85"/>
<path d="M73.2 711.2C73.8 707.1 72.4 691.7 73.2 687.8C74 683.9 77.1 681.9 79.7 680.3C82.4 678.8 86 678 89.1 678.5C92.2 678.9 95.3 681.6 98.5 683.2C101.6 684.7 103.9 686.7 107.8 687.8C111.7 688.9 117.5 688.6 121.9 689.7C126.2 690.8 130.7 692 134 694.4C137.3 696.7 139.6 699.4 141.5 703.7C143.4 708.1 145 713.7 145.2 720.6C145.5 727.5 143.4 758 143.4 758L72.3 758C72.3 758 71 740.3 70.4 734.6C69.8 729 68.1 724.5 68.5 720.6C69 716.7 72.6 715.4 73.2 711.2Z" fill="none" stroke="#d9560f" stroke-width="0.8"/>
<path d="M76.5 710.8C77 707.2 75.8 693.6 76.5 690.2C77.3 686.8 80 685 82.3 683.6C84.6 682.2 87.8 681.5 90.5 681.9C93.3 682.4 96 684.7 98.8 686.1C101.5 687.4 103.6 689.2 107 690.2C110.5 691.2 115.6 690.9 119.4 691.8C123.3 692.8 127.3 693.9 130.1 696C133 698 135.1 700.4 136.7 704.2C138.4 708.1 139.8 713 140 719.1C140.3 725.1 138.4 752.1 138.4 752.1L75.7 752.1C75.7 752.1 74.5 736.4 74 731.4C73.6 726.5 72 722.5 72.4 719.1C72.8 715.6 76 714.5 76.5 710.8Z" fill="none" stroke="#fdd8b3" stroke-width="1.1"/>
<path d="M71.5 711.9C72.1 707.4 70.6 690.9 71.5 686.7C72.4 682.6 75.7 680.4 78.5 678.7C81.4 677 85.2 676.2 88.6 676.7C91.9 677.2 95.3 680 98.6 681.7C102 683.4 104.5 685.6 108.7 686.7C112.9 687.9 119.1 687.6 123.8 688.7C128.5 689.9 133.4 691.3 136.9 693.8C140.4 696.3 142.9 699.1 144.9 703.8C146.9 708.5 148.7 714.5 148.9 721.9C149.2 729.4 146.9 762.2 146.9 762.2L70.5 762.2C70.5 762.2 69.1 743.1 68.5 737C67.9 731 65.9 726.1 66.5 721.9C67 717.8 70.8 716.3 71.5 711.9Z" fill="none" stroke="#96482a" stroke-width="0.94"/>
<path d="M106.3 761.8C106.3 761.8 107.5 710.5 108.3 706.5C109.1 702.4 115 704.4 118.4 704.4C121.7 704.4 125.9 704.4 128.4 706.5C130.9 708.5 133 712 133.5 716.5C133.9 721 134.5 761.8 134.5 761.8L106.3 761.8Z" fill="#aaa6d9" fill-opacity="0.75" stroke="#6a51a3" stroke-width="0.85"/>
<path d="M106.7 762.2C106.7 762.2 107.9 710.9 108.7 706.9C109.6 702.8 115.4 704.8 118.8 704.8C122.1 704.8 126.3 704.8 128.8 706.9C131.3 708.9 133.4 712.4 133.9 716.9C134.3 721.4 134.9 762.2 134.9 762.2L106.7 762.2Z" fill="none" stroke="#96482a" stroke-width="0.94"/>
<path d="M114.3 761.8C114.3 761.8 117.1 719.5 117.4 711.5C117.6 703.4 117.5 697.2 116.4 691.4C115.2 685.5 110.3 676.3 110.3 676.3" fill="none" stroke="#fdd8b3" stroke-width="1.25"/>
<path d="M70.1 696.4C70.7 690.5 73.1 684.7 76.1 681.3C79.1 677.9 84.2 675.9 88.2 676.3C92.2 676.6 97.1 679.5 100.3 683.3C103.4 687.2 106 693 107.3 699.4C108.6 705.8 108.6 712.7 108.3 721.5C108 730.4 105.3 761.8 105.3 761.8L78.1 761.8C78.1 761.8 73.1 724.5 72.1 716.5C71.1 708.5 69.4 702.3 70.1 696.4Z" fill="#3f007d" fill-opacity="0.07" stroke="#3f007d" stroke-width="1.36"/>
<path d="M71.4 698.3C72 693 74.1 687.7 76.8 684.7C79.6 681.7 84.1 679.8 87.7 680.1C91.3 680.4 95.7 683 98.6 686.5C101.4 690 103.7 695.2 104.9 701C106.1 706.7 106.1 712.9 105.8 720.9C105.6 728.9 103.1 757.1 103.1 757.1L78.7 757.1C78.7 757.1 74.1 723.6 73.2 716.4C72.3 709.1 70.8 703.5 71.4 698.3Z" fill="none" stroke="#96482a" stroke-width="0.9"/>
<path d="M68.1 694.9C68.9 688.5 71.4 682 74.8 678.3C78.1 674.7 83.6 672.4 88 672.8C92.5 673.2 97.8 676.3 101.3 680.6C104.8 684.8 107.6 691.3 109.1 698.3C110.6 705.3 110.5 712.9 110.2 722.6C109.9 732.4 106.9 766.9 106.9 766.9L77 766.9C77 766.9 71.4 725.9 70.3 717.1C69.3 708.2 67.4 701.4 68.1 694.9Z" fill="none" stroke="#6a51a3" stroke-width="0.9"/>
<path d="M76.1 695.4C76.6 690.7 79.2 685.7 81.1 683.3C83.1 680.9 85.7 680 88.2 680.3C90.7 680.6 94.1 682.6 96.2 685.3C98.4 688 100.9 691.5 101.3 696.4C101.6 701.2 99.6 709.8 98.2 716.5C96.9 723.2 94.5 733.1 93.2 736.6C91.9 740.2 89.9 745.5 88.2 744.7C86.5 743.8 84.8 737 83.2 731.6C81.5 726.2 79.3 717.5 78.1 711.5C76.9 705.4 75.6 700.1 76.1 695.4Z" fill="#3f007d" fill-opacity="0.1" stroke="#3f007d" stroke-width="1.36"/>
<path d="M76.7 697.1C77.2 692.8 79.5 688.4 81.3 686.2C83 684 85.3 683.2 87.6 683.5C89.9 683.8 92.9 685.6 94.8 688C96.8 690.4 99.1 693.6 99.4 698C99.7 702.3 97.9 710 96.7 716.1C95.4 722.1 93.3 731 92.1 734.2C91 737.4 89.1 742.2 87.6 741.4C86.1 740.7 84.5 734.5 83.1 729.7C81.6 724.8 79.6 717 78.5 711.6C77.5 706.1 76.3 701.3 76.7 697.1Z" fill="none" stroke="#96482a" stroke-width="0.9"/>
<path d="M74.9 694.1C75.4 688.9 78.3 683.5 80.4 680.8C82.5 678.2 85.4 677.1 88.2 677.5C90.9 677.9 94.6 680.1 97 683C99.4 686 102.2 689.9 102.5 695.2C102.9 700.6 100.7 710 99.2 717.4C97.8 724.7 95.1 735.6 93.7 739.5C92.3 743.4 90 749.3 88.2 748.3C86.3 747.4 84.4 739.9 82.6 734C80.8 728.1 78.4 718.5 77.1 711.8C75.8 705.2 74.3 699.3 74.9 694.1Z" fill="none" stroke="#6a51a3" stroke-width="0.9"/>
<path d="M74.1 697.4C74.9 691.7 77.7 685.4 80.1 682.3C82.6 679.2 86.2 677.8 89.2 678.3C92.2 678.8 95.9 681.8 98.2 685.3C100.6 688.8 102.8 693.5 103.3 699.4C103.8 705.4 102.3 712.7 101.3 721.5C100.3 730.4 96.2 761.8 96.2 761.8L82.1 761.8C82.1 761.8 76.1 724.1 75.1 716.5C74.2 708.9 73.3 703.1 74.1 697.4Z" fill="none" stroke="#96482a" stroke-width="0.94"/>
<path d="M92.9 698.4C92.9 699.7 92.6 701.3 92.1 702.4C91.6 703.6 90.7 704.7 89.8 705.4C88.9 706 87.7 706.5 86.7 706.5C85.6 706.5 84.5 706 83.6 705.4C82.7 704.7 81.8 703.6 81.3 702.4C80.8 701.3 80.4 699.7 80.4 698.4C80.4 697.1 80.8 695.5 81.3 694.4C81.8 693.2 82.7 692.1 83.6 691.4C84.5 690.8 85.6 690.4 86.7 690.4C87.7 690.4 88.9 690.8 89.8 691.4C90.7 692.1 91.6 693.2 92.1 694.4C92.6 695.5 92.9 697.1 92.9 698.4Z" fill="#3f007d" fill-opacity="0.8"/>
<path d="M81.1 695.4C81.1 695.4 85.5 694.6 87.2 693.9C88.9 693.2 91.2 691.4 91.2 691.4" fill="none" stroke="#fdd8b3" stroke-width="1.4"/>
<path d="M88.2 692.4C88.2 692.4 87.5 699 87.2 701.4C86.9 703.9 86.2 707.5 86.2 707.5" fill="none" stroke="#fdd8b3" stroke-width="1.4"/></g>
<clipPath id="c51"><rect x="179.3" y="630.6" width="115.7" height="115.7"/></clipPath><g clip-path="url(#c51)"><path d="M278.6 628C278.6 628 275.2 636.4 273.6 641.1C271.9 645.8 269.7 651.1 268.5 656.2C267.4 661.2 266.4 667.8 266.5 671.2C266.7 674.7 266.2 678.7 269.5 679.3C272.9 679.9 309.8 679.3 309.8 679.3L309.8 628L278.6 628Z" fill="#fbc4a0" fill-opacity="0.5"/>
<path d="M278.6 628C278.6 628 275.2 636.4 273.6 641.1C271.9 645.8 269.7 651.1 268.5 656.2C267.4 661.2 266.5 671.2 266.5 671.2" fill="none" stroke="#f3974f" stroke-width="1.25"/>
<path d="M309.8 639C309.8 639 289.4 642.3 285.6 644.1C281.9 645.9 281.8 649.2 280.6 653.1C279.4 657.1 278.2 667.2 277.6 671.2C277 675.2 272.7 680.1 276.6 681.3C280.4 682.5 309.8 681.3 309.8 681.3L309.8 639Z" fill="#fb9d62" fill-opacity="0.35" stroke="#f3974f" stroke-width="1.25"/>
<path d="M261.5 761.8C261.5 761.8 261.5 703.4 261.5 703.4C261.5 703.4 309.8 703.4 309.8 703.4L309.8 761.8L261.5 761.8Z" fill="#dcdbe9" fill-opacity="0.33"/>
<path d="M230.3 688.3C230.3 683.5 234.5 678.3 239.4 674.3C244.2 670.2 252.8 666.7 259.5 664.2C266.2 661.7 271.4 660.3 279.6 659.2C287.8 658 309.8 657.2 309.8 657.2L309.8 761.8L274.6 761.8C274.6 761.8 271 736.3 269.5 731.6C268.1 726.9 265 724.9 262.5 721.5C260 718.2 258.3 714.5 254.5 711.5C250.6 708.5 243.4 707.3 239.4 703.4C235.3 699.6 230.3 693.2 230.3 688.3Z" fill="#cdcbe8" fill-opacity="0.75" stroke="#9d9aca" stroke-width="1.25"/>
<path d="M248.4 687.3C248.4 684 254.3 679.6 259.5 676.3C264.7 672.9 271.2 669.2 279.6 667.2C288 665.2 309.8 664.2 309.8 664.2L309.8 721.5C309.8 721.5 282 719 276.6 716.5C271.2 714.1 272.4 706.8 269.5 703.4C266.7 700.1 263 699.1 259.5 696.4C256 693.7 248.4 690.7 248.4 687.3Z" fill="#cdcbe8" fill-opacity="0.75" stroke="#9d9aca" stroke-width="1.25"/>
<path d="M264.5 673.3C264.5 673.3 252.8 678.6 249.4 681.3C246 684 243.1 687.8 243.4 690.4C243.7 692.9 247.9 694.9 251.4 696.4C255 697.9 261.2 696.9 264.5 699.4C267.9 701.9 269.7 707.8 271.6 711.5C273.4 715.2 275.6 721.5 275.6 721.5" fill="none" stroke="#f3974f" stroke-width="1.4"/>
<path d="M268.5 761.8C268.5 761.8 267.9 729.6 267.5 721.5C267.1 713.5 265.5 701.4 265.5 701.4" fill="none" stroke="#fdd8b3" stroke-width="1.25"/>
<path d="M276.6 691.4C277.1 687.2 277.9 683.7 279.6 681.3C281.3 679 284.3 676.9 286.6 677.3C289 677.6 291.1 680.6 293.7 683.3C296.3 686 309.8 701.4 309.8 701.4L309.8 731.6C309.8 731.6 290.7 744.5 285.6 743.7C280.6 742.8 281.1 732.8 279.6 726.6C278.1 720.4 277.1 712.3 276.6 706.5C276.1 700.6 276.1 695.5 276.6 691.4Z" fill="#3f007d" fill-opacity="0.07" stroke="#3f007d" stroke-width="1.36"/>
<path d="M277.2 693.1C277.6 689.4 278.4 686.2 279.9 684.1C281.4 681.9 284.1 680.1 286.2 680.4C288.4 680.7 290.3 683.5 292.6 685.9C294.9 688.3 307.1 702.2 307.1 702.2L307.1 729.3C307.1 729.3 289.9 740.9 285.3 740.2C280.8 739.4 281.3 730.4 279.9 724.8C278.6 719.2 277.6 712 277.2 706.7C276.7 701.4 276.7 696.9 277.2 693.1Z" fill="none" stroke="#96482a" stroke-width="0.9"/>
<path d="M275.4 690C275.9 685.4 276.9 681.5 278.7 679C280.5 676.4 283.9 674.2 286.4 674.5C289 674.9 291.4 678.2 294.2 681.2C297 684.1 311.9 701.1 311.9 701.1L311.9 734.3C311.9 734.3 290.9 748.5 285.3 747.6C279.8 746.6 280.4 735.6 278.7 728.8C277 721.9 275.9 713.1 275.4 706.6C274.8 700.2 274.8 694.6 275.4 690Z" fill="none" stroke="#6a51a3" stroke-width="0.9"/>
<path d="M280.6 693.4C280.9 689.6 282.3 685.9 283.6 684.3C284.9 682.7 287.2 682.1 288.7 683.3C290.2 684.5 292.3 687.8 292.7 691.4C293.1 694.9 293.7 709 292.7 716.5C291.7 724.1 288.5 736.6 286.6 736.6C284.8 736.6 282.6 723.7 281.6 716.5C280.6 709.3 280.4 697.2 280.6 693.4Z" fill="#3f007d" fill-opacity="0.1" stroke="#3f007d" stroke-width="1.36"/>
<path d="M280.6 694.8C280.8 691.3 282.2 688 283.3 686.6C284.5 685.2 286.5 684.6 287.9 685.7C289.2 686.8 291.1 689.7 291.5 692.9C291.9 696.2 292.4 708.8 291.5 715.6C290.6 722.4 287.7 733.7 286 733.7C284.4 733.7 282.4 722.1 281.5 715.6C280.6 709.1 280.4 698.2 280.6 694.8Z" fill="none" stroke="#96482a" stroke-width="0.9"/>
<path d="M280 692.4C280.3 688.2 281.9 684.2 283.3 682.4C284.7 680.7 287.2 680 288.9 681.3C290.5 682.6 292.8 686.3 293.3 690.2C293.8 694.1 294.4 709.6 293.3 717.9C292.2 726.2 288.7 740 286.6 740C284.6 740 282.2 725.8 281.1 717.9C280 709.9 279.7 696.6 280 692.4Z" fill="none" stroke="#6a51a3" stroke-width="0.9"/>
<path d="M291.7 698.4C291.7 700.4 291.5 702.7 291.1 704.4C290.8 706.2 290.2 708 289.7 708.9C289.2 709.8 288.3 710.5 287.7 710.5C287 710.5 286.2 709.8 285.6 708.9C285.1 708 284.5 706.2 284.2 704.4C283.8 702.7 283.6 700.4 283.6 698.4C283.6 696.4 283.8 694.1 284.2 692.4C284.5 690.6 285.1 688.8 285.6 688C286.2 687.1 287 686.3 287.7 686.3C288.3 686.3 289.2 687.1 289.7 688C290.2 688.8 290.8 690.6 291.1 692.4C291.5 694.1 291.7 696.4 291.7 698.4Z" fill="#3f007d" fill-opacity="0.17" stroke="#3f007d" stroke-width="1.27"/>
<path d="M290.7 698.8C290.7 700.6 290.5 702.7 290.2 704.2C289.9 705.8 289.3 707.4 288.9 708.2C288.4 709 287.7 709.7 287.1 709.7C286.4 709.7 285.7 709 285.2 708.2C284.8 707.4 284.2 705.8 283.9 704.2C283.6 702.7 283.4 700.6 283.4 698.8C283.4 697 283.6 694.9 283.9 693.4C284.2 691.8 284.8 690.2 285.2 689.4C285.7 688.6 286.4 687.9 287.1 687.9C287.7 687.9 288.4 688.6 288.9 689.4C289.3 690.2 289.9 691.8 290.2 693.4C290.5 694.9 290.7 697 290.7 698.8Z" fill="none" stroke="#96482a" stroke-width="0.9"/>
<path d="M292.1 698.4C292.1 700.6 291.9 703.1 291.5 705C291.1 707 290.4 708.9 289.9 709.9C289.3 710.9 288.4 711.7 287.7 711.7C286.9 711.7 286 710.9 285.4 709.9C284.9 708.9 284.2 707 283.8 705C283.5 703.1 283.2 700.6 283.2 698.4C283.2 696.2 283.5 693.7 283.8 691.8C284.2 689.8 284.9 687.9 285.4 686.9C286 685.9 286.9 685.1 287.7 685.1C288.4 685.1 289.3 685.9 289.9 686.9C290.4 687.9 291.1 689.8 291.5 691.8C291.9 693.7 292.1 696.2 292.1 698.4Z" fill="none" stroke="#6a51a3" stroke-width="0.9"/>
<path d="M283.6 685.3C283.6 685.3 288.3 685.2 289.7 687.3C291 689.5 293.7 701.4 293.7 701.4" fill="none" stroke="#d9560f" stroke-width="1.1"/></g>
<clipPath id="c52"><rect x="300.9" y="630.6" width="115.7" height="115.7"/></clipPath><g clip-path="url(#c52)"><path d="M369.4 676.3C367.9 668.7 373.8 661.7 377.5 656.2C381.2 650.6 387.5 647.8 391.5 643.1C395.6 638.4 401.6 628 401.6 628L431.8 628L431.8 661.2C431.8 661.2 412.5 674.6 406.6 681.3C400.8 688 399.4 695.6 396.6 701.4C393.7 707.3 390.4 714.5 389.5 716.5C388.6 718.5 387.9 723.7 387.5 721.5C387.1 719.4 389.5 708.9 386.5 701.4C383.5 693.9 370.9 683.8 369.4 676.3Z" fill="#fbc4a0" fill-opacity="0.5" stroke="#f6ab72" stroke-width="1.25"/>
<path d="M388.5 664.2C389.7 657.5 393.7 653.1 396.6 649.1C399.4 645.1 403.3 640.9 405.6 640.1C408 639.2 410.2 641.5 410.7 644.1C411.1 646.6 411.2 655.8 409.7 661.2C408.1 666.5 404.3 671.2 401.6 676.3C398.9 681.3 395.7 687.9 393.6 691.4C391.5 694.8 388.3 703.4 387.5 699.4C386.8 695.5 387.3 670.9 388.5 664.2Z" fill="#fb9d62" fill-opacity="0.35" stroke="#f3974f" stroke-width="1.25"/>
<path d="M389.5 664.2C389.9 662.6 393.1 662.7 393.6 664.2C394 665.7 393.3 674 393.1 675.3C392.8 676.5 390.9 678.5 390.5 677.3C390.1 676.1 389.2 665.8 389.5 664.2Z" fill="#f9964a" fill-opacity="0.85"/>
<path d="M371.4 677.3C371.3 670.6 374.8 663.8 376.5 661.2C378.1 658.6 381.7 657.7 383.5 658.2C385.3 658.7 386.9 661.4 387.5 664.2C388.1 667 388.7 675.1 388.5 681.3C388.4 687.5 388.3 698.3 386.5 701.4C384.8 704.6 379.4 704.5 377.5 701.4C375.5 698.4 371.6 684 371.4 677.3Z" fill="#cdcbe8" fill-opacity="0.75" stroke="#9d9aca" stroke-width="1.25"/>
<path d="M375.4 678.3C375 674.1 377.3 670 378.5 668.2C379.7 666.4 382.5 664.3 383.5 666.2C384.5 668.2 385.3 676.3 385 681.3C384.7 686.3 383.1 696.9 381.5 696.4C379.9 695.9 375.9 682.5 375.4 678.3Z" fill="#cdcbe8" fill-opacity="0.62" stroke="#9d9aca" stroke-width="1.25"/>
<path d="M348.3 761.8C348.3 761.8 348.7 718.9 349.3 711.5C349.8 704.1 351.3 697.8 353.3 693.4C355.3 688.9 359 686.1 361.4 684.3C363.7 682.6 365.7 681.8 368.4 682.3C371.1 682.8 374.7 684.3 377.5 687.3C380.2 690.4 384.7 695 385.5 701.4C386.3 707.9 386.5 761.8 386.5 761.8L348.3 761.8Z" fill="#cfcdea" fill-opacity="0.75" stroke="#6a51a3" stroke-width="1.02"/>
<path d="M349.5 758.2C349.5 758.2 350 718.3 350.5 711.4C351 704.5 352.4 698.7 354.2 694.6C356.1 690.5 359.5 687.8 361.7 686.2C363.9 684.5 365.8 683.8 368.3 684.3C370.8 684.7 374.1 686.1 376.7 689C379.2 691.8 383.4 696.1 384.2 702.1C384.9 708 385.1 758.2 385.1 758.2L349.5 758.2Z" fill="none" stroke="#d9560f" stroke-width="0.8"/>
<path d="M351.5 752.6C351.5 752.6 351.9 717.4 352.3 711.3C352.8 705.2 354 700.1 355.6 696.5C357.3 692.8 360.3 690.5 362.2 689C364.2 687.6 365.8 687 368 687.4C370.2 687.8 373.2 689 375.4 691.5C377.7 694 381.4 697.8 382 703.1C382.7 708.3 382.9 752.6 382.9 752.6L351.5 752.6Z" fill="none" stroke="#fdd8b3" stroke-width="1.1"/>
<path d="M348.7 762.2C348.7 762.2 349.1 719.3 349.7 711.9C350.2 704.5 351.8 698.2 353.7 693.8C355.7 689.4 359.4 686.5 361.8 684.7C364.1 683 366.1 682.2 368.8 682.7C371.5 683.2 375.1 684.7 377.9 687.7C380.6 690.8 385.1 695.4 385.9 701.8C386.7 708.3 386.9 762.2 386.9 762.2L348.7 762.2Z" fill="none" stroke="#96482a" stroke-width="0.87"/>
<path d="M355.3 761.8C355.3 761.8 355.9 716.6 356.3 711.5C356.7 706.4 358.9 701.7 360.4 699.4C361.9 697.2 363.9 696.1 366.4 696.4C368.9 696.7 373 698.1 375.4 701.4C377.9 704.7 380.7 710.1 381.5 716.5C382.2 723 382.5 761.8 382.5 761.8L355.3 761.8Z" fill="#aaa6d9" fill-opacity="0.75" stroke="#6a51a3" stroke-width="1.02"/>
<path d="M356.2 759C356.2 759 356.8 716.9 357.2 712.2C357.5 707.5 359.5 703 360.9 700.9C362.3 698.9 364.2 697.8 366.5 698.1C368.9 698.4 372.6 699.7 374.9 702.8C377.3 705.9 379.9 710.8 380.6 716.8C381.3 722.9 381.5 759 381.5 759L356.2 759Z" fill="none" stroke="#d9560f" stroke-width="0.8"/>
<path d="M357.7 754.5C357.7 754.5 358.1 717.4 358.5 713.2C358.8 709.1 360.6 705.2 361.8 703.3C363 701.5 364.7 700.6 366.7 700.9C368.8 701.1 372.1 702.3 374.2 705C376.2 707.7 378.5 712.1 379.1 717.4C379.7 722.7 379.9 754.5 379.9 754.5L357.7 754.5Z" fill="none" stroke="#fdd8b3" stroke-width="1.1"/>
<path d="M355.7 762.2C355.7 762.2 356.3 717 356.7 711.9C357.1 706.8 359.3 702.1 360.8 699.8C362.3 697.6 364.3 696.5 366.8 696.8C369.3 697.1 373.4 698.5 375.9 701.8C378.3 705.1 381.1 710.5 381.9 716.9C382.6 723.4 382.9 762.2 382.9 762.2L355.7 762.2Z" fill="none" stroke="#96482a" stroke-width="0.87"/>
<path d="M361.4 761.8C361.4 761.8 362.1 719.6 362.4 716.5C362.6 713.5 364.4 709.5 365.4 709.5C366.4 709.5 368.2 713.5 368.4 716.5C368.6 719.6 369.4 761.8 369.4 761.8L361.4 761.8Z" fill="#7f78c4" fill-opacity="0.85" stroke="#6a51a3" stroke-width="0.85"/>
<path d="M383.3 711.8C383.1 717.6 382.5 724.3 381.6 729.3C380.8 734.4 379.3 739.8 378.3 742.1C377.3 744.4 375.5 746.7 374.2 746.7C372.9 746.6 371.3 744.1 370.5 741.8C369.7 739.5 368.5 733.9 368 728.8C367.6 723.7 367.4 717.1 367.6 711.2C367.8 705.3 368.4 698.7 369.3 693.7C370.1 688.6 371.6 683.1 372.6 680.9C373.6 678.6 375.4 676.2 376.7 676.3C378 676.3 379.6 678.8 380.4 681.1C381.2 683.5 382.4 689 382.9 694.1C383.3 699.2 383.5 705.9 383.3 711.8Z" fill="#3f007d" fill-opacity="0.07" stroke="#3f007d" stroke-width="1.36"/>
<path d="M381.9 712.1C381.7 717.4 381.2 723.4 380.4 727.9C379.7 732.5 378.3 737.4 377.4 739.4C376.6 741.5 374.9 743.6 373.7 743.6C372.6 743.5 371.1 741.3 370.4 739.2C369.6 737.1 368.6 732.1 368.2 727.5C367.8 722.9 367.6 716.9 367.8 711.6C368 706.4 368.5 700.4 369.3 695.8C370 691.3 371.4 686.4 372.3 684.3C373.1 682.3 374.8 680.2 376 680.2C377.1 680.3 378.6 682.5 379.3 684.6C380.1 686.7 381.1 691.7 381.5 696.3C381.9 700.9 382.1 706.9 381.9 712.1Z" fill="none" stroke="#96482a" stroke-width="0.9"/>
<path d="M384.1 711.8C383.9 718.2 383.2 725.5 382.2 731.1C381.3 736.7 379.7 742.7 378.6 745.2C377.5 747.6 374.1 750.2 374.1 750.2C374.1 750.2 370.8 747.4 370 744.9C369.1 742.3 367.8 736.2 367.3 730.6C366.8 725 366.6 717.6 366.8 711.2C367 704.7 367.7 697.4 368.7 691.9C369.6 686.3 371.2 680.3 372.3 677.8C373.4 675.3 375.4 672.7 376.8 672.8C378.2 672.8 380 675.6 380.9 678.1C381.8 680.7 383.1 686.8 383.6 692.4C384.1 698 384.3 705.3 384.1 711.8Z" fill="none" stroke="#6a51a3" stroke-width="0.9"/>
<path d="M380.5 703.6C380.3 707.7 379.9 712.2 379.3 715.7C378.7 719.1 377.7 722.9 377 724.4C376.3 726 375 727.6 374.1 727.6C373.2 727.5 372 725.8 371.5 724.2C370.9 722.6 370.1 718.8 369.7 715.3C369.4 711.8 369.3 707.3 369.4 703.2C369.6 699.2 370 694.7 370.6 691.2C371.2 687.7 372.2 684 372.9 682.4C373.6 680.9 374.9 679.3 375.8 679.3C376.7 679.3 377.9 681 378.4 682.6C379 684.2 379.8 688 380.2 691.5C380.5 695 380.6 699.6 380.5 703.6Z" fill="#3f007d" fill-opacity="0.07" stroke="#3f007d" stroke-width="1.36"/>
<path d="M379.3 704C379.2 707.6 378.8 711.7 378.3 714.8C377.7 718 376.8 721.3 376.2 722.7C375.6 724.1 374.4 725.6 373.6 725.6C372.8 725.5 371.7 724 371.2 722.6C370.7 721.1 370 717.7 369.7 714.5C369.3 711.4 369.2 707.3 369.4 703.7C369.5 700 369.9 696 370.4 692.8C370.9 689.7 371.9 686.3 372.5 684.9C373.1 683.5 374.3 682.1 375.1 682.1C375.9 682.2 377 683.7 377.5 685.1C378 686.6 378.7 690 379 693.1C379.3 696.3 379.4 700.4 379.3 704Z" fill="none" stroke="#96482a" stroke-width="0.9"/>
<path d="M381 703.6C380.9 708.1 380.4 713.1 379.8 716.9C379.1 720.7 377.9 724.8 377.2 726.5C376.4 728.2 375 730 374 730C373 729.9 371.7 728.1 371.1 726.3C370.5 724.6 369.6 720.4 369.2 716.5C368.8 712.7 368.7 707.6 368.9 703.2C369 698.8 369.5 693.8 370.1 690C370.8 686.2 372 682.1 372.7 680.3C373.5 678.6 374.9 676.9 375.9 676.9C376.9 676.9 378.2 678.8 378.8 680.6C379.4 682.3 380.3 686.5 380.7 690.3C381.1 694.2 381.2 699.2 381 703.6Z" fill="none" stroke="#6a51a3" stroke-width="0.9"/>
<path d="M378 697.4C378 699.7 377.8 702.4 377.5 704.4C377.2 706.5 376.6 708.7 376.2 709.6C375.8 710.5 375 711.5 374.4 711.5C373.9 711.5 373.1 710.5 372.7 709.6C372.3 708.7 371.7 706.5 371.4 704.4C371.1 702.4 370.9 699.7 370.9 697.4C370.9 695.1 371.1 692.4 371.4 690.4C371.7 688.3 372.3 686.2 372.7 685.2C373.1 684.3 373.9 683.3 374.4 683.3C375 683.3 375.8 684.3 376.2 685.2C376.6 686.2 377.2 688.3 377.5 690.4C377.8 692.4 378 695.1 378 697.4Z" fill="#3f007d" fill-opacity="0.1" stroke="#3f007d" stroke-width="1.36"/>
<path d="M377 697.8C377 699.9 376.8 702.3 376.6 704.1C376.3 706 375.8 707.9 375.4 708.8C375.1 709.6 374.4 710.5 373.8 710.5C373.3 710.5 372.6 709.6 372.3 708.8C371.9 707.9 371.4 706 371.1 704.1C370.8 702.3 370.7 699.9 370.7 697.8C370.7 695.7 370.8 693.3 371.1 691.5C371.4 689.6 371.9 687.7 372.3 686.8C372.6 686 373.3 685.1 373.8 685.1C374.4 685.1 375.1 686 375.4 686.8C375.8 687.7 376.3 689.6 376.6 691.5C376.8 693.3 377 695.7 377 697.8Z" fill="none" stroke="#96482a" stroke-width="0.9"/>
<path d="M378.3 697.4C378.3 700 378.1 702.9 377.8 705.1C377.5 707.4 376.8 709.8 376.4 710.8C375.9 711.9 375.1 712.9 374.4 712.9C373.8 712.9 373 711.9 372.5 710.8C372.1 709.8 371.4 707.4 371.1 705.1C370.8 702.9 370.6 700 370.6 697.4C370.6 694.8 370.8 691.9 371.1 689.7C371.4 687.4 372.1 685 372.5 684C373 682.9 373.8 681.9 374.4 681.9C375.1 681.9 375.9 682.9 376.4 684C376.8 685 377.5 687.4 377.8 689.7C378.1 691.9 378.3 694.8 378.3 697.4Z" fill="none" stroke="#6a51a3" stroke-width="0.9"/></g>
<clipPath id="c53"><rect x="422.4" y="630.6" width="115.7" height="115.7"/></clipPath><g clip-path="url(#c53)"><path d="M406.9 628L482.4 628C482.4 628 497.8 633.5 502.5 635C507.2 636.5 514.4 637.6 517.6 639C520.8 640.5 525 643.8 526.6 646.1C528.2 648.4 529.9 652.8 529.6 656.2C529.4 659.5 526.2 667.5 524.6 671.2C523 675 519.5 681 517.6 684.3C515.7 687.7 512.5 693.6 510.5 696.4C508.5 699.2 504.9 703.4 502.5 705.4C500.1 707.5 497.1 711.2 492.4 711.5C487.7 711.8 406.9 711.5 406.9 711.5L406.9 628Z" fill="#fbc4a0" fill-opacity="0.55" stroke="#f6ab72" stroke-width="1.25"/>
<path d="M406.9 650.1C406.9 650.1 431.2 646.8 442.1 646.1C453 645.3 464.1 645.1 472.3 645.6C480.5 646.1 487.4 647.8 492.4 649.1C497.5 650.5 501.9 652.2 504.5 654.1C507.1 656.1 508.2 658 508.5 661.2C508.9 664.4 507.7 669.6 506.5 673.3C505.3 676.9 503.5 680.3 501.5 683.3C499.5 686.3 498.7 691 494.4 691.4C490.2 691.7 406.9 691.4 406.9 691.4L406.9 650.1Z" fill="#fb9d62" fill-opacity="0.3" stroke="#f3974f" stroke-width="1.25"/>
<path d="M406.9 661.2C406.9 661.2 454.1 660 462.2 660.2C470.4 660.4 476.5 661.3 482.4 663.2C488.2 665 493.8 668.2 497.5 671.2C501.1 674.3 503.5 676.5 504.5 681.3C505.5 686.1 503.8 694.7 503.5 701.4C503.2 708.1 502.6 713.5 502.5 721.5C502.4 729.6 502.5 761.8 502.5 761.8L406.9 761.8L406.9 661.2Z" fill="#cdcbe8" fill-opacity="0.8" stroke="#9d9aca" stroke-width="1.25"/>
<path d="M406.9 671.2C406.9 671.2 432.1 666.2 442.1 665.2C452.1 664.2 460.8 664.2 467.3 665.2C473.7 666.2 479.9 669.1 482.4 671.2C484.8 673.4 483.4 679.3 483.4 679.3" fill="none" stroke="#f3974f" stroke-width="1.25"/>
<path d="M406.9 669.2C406.9 669.2 454 667.8 462.2 668.2C470.5 668.7 477 670.7 482.4 673.3C487.7 675.8 492.1 678.6 494.4 683.3C496.8 688 496.8 695.1 496.4 701.4C496.1 707.8 493.6 713.4 492.4 721.5C491.2 729.7 487.4 761.8 487.4 761.8L406.9 761.8L406.9 669.2Z" fill="#cdcbe8" fill-opacity="0.75" stroke="#9d9aca" stroke-width="1.25"/>
<path d="M406.9 679.3C406.9 679.3 444.1 678.2 452.2 678.3C460.3 678.4 466.4 678.8 472.3 680.3C478.2 681.8 483.7 684.7 487.4 687.3C491.1 690 493.6 692.4 494.4 696.4C495.3 700.4 493.6 706.5 492.4 711.5C491.3 716.5 489.1 720.4 487.4 726.6C485.7 732.7 478.3 761.8 478.3 761.8L406.9 761.8L406.9 679.3Z" fill="#aaa6d9" fill-opacity="0.75" stroke="#6a51a3" stroke-width="1.1"/>
<path d="M410.9 681.4C410.9 681.4 445.5 680.3 453 680.5C460.5 680.6 466.3 680.9 471.7 682.3C477.2 683.7 482.3 686.4 485.8 688.9C489.2 691.4 491.5 693.6 492.3 697.3C493.1 701 491.5 706.7 490.5 711.3C489.4 716 487.4 719.7 485.8 725.4C484.2 731.1 477.4 758.1 477.4 758.1L410.9 758.1L410.9 681.4Z" fill="none" stroke="#d9560f" stroke-width="0.8"/>
<path d="M417.2 684.7C417.2 684.7 447.7 683.8 454.4 683.9C461 684 466 684.3 470.9 685.5C475.7 686.7 480.2 689.1 483.2 691.3C486.3 693.5 488.3 695.4 489 698.7C489.7 702 488.3 707 487.4 711.1C486.4 715.2 484.6 718.4 483.2 723.5C481.8 728.5 475.8 752.3 475.8 752.3L417.2 752.3L417.2 684.7Z" fill="none" stroke="#fdd8b3" stroke-width="1.1"/>
<path d="M407.2 678.7C407.2 678.7 444.4 677.6 452.5 677.7C460.6 677.8 466.7 678.2 472.6 679.7C478.5 681.2 484 684.1 487.7 686.7C491.4 689.4 493.9 691.8 494.7 695.8C495.6 699.8 493.9 705.9 492.7 710.9C491.6 715.9 489.4 719.8 487.7 726C486 732.1 478.6 761.2 478.6 761.2L407.2 761.2L407.2 678.7Z" fill="none" stroke="#96482a" stroke-width="0.94"/>
<path d="M406.9 687.3C406.9 687.3 444.1 686.2 452.2 686.3C460.3 686.5 466.9 686.7 472.3 688.3C477.7 690 482.7 692.9 484.4 696.4C486.1 699.9 484.4 705.3 482.4 709.5C480.4 713.7 476.5 717.9 472.3 721.5C468.1 725.2 463.1 729.3 457.2 731.6C451.3 734 445.2 736.9 437.1 735.6C429 734.3 406.9 723.6 406.9 723.6L406.9 687.3Z" fill="#aaa6d9" fill-opacity="0.75" stroke="#6a51a3" stroke-width="1.1"/>
<path d="M410.1 688.9C410.1 688.9 444.7 687.8 452.2 687.9C459.7 688 465.9 688.2 470.9 689.8C475.9 691.3 480.6 694 482.1 697.3C483.7 700.5 482.1 705.5 480.3 709.4C478.4 713.3 474.8 717.2 470.9 720.7C467 724.1 462.3 727.8 456.9 730C451.4 732.2 445.7 735 438.2 733.8C430.6 732.6 410.1 722.5 410.1 722.5L410.1 688.9Z" fill="none" stroke="#d9560f" stroke-width="0.8"/>
<path d="M415.1 691.2C415.1 691.2 445.6 690.3 452.2 690.4C458.9 690.5 464.3 690.7 468.7 692C473.1 693.4 477.2 695.8 478.6 698.6C480 701.5 478.6 705.9 477 709.4C475.3 712.8 472.2 716.2 468.7 719.3C465.3 722.3 461.2 725.6 456.3 727.5C451.5 729.4 446.5 731.9 439.8 730.8C433.2 729.8 415.1 720.9 415.1 720.9L415.1 691.2Z" fill="none" stroke="#fdd8b3" stroke-width="1.1"/>
<path d="M406.9 719.5C406.9 719.5 431.1 728.5 437.1 729.6C443.1 730.7 447.2 729.3 452.2 727.6C457.2 725.9 463.2 720 467.3 719.5C471.3 719 475.5 722.6 476.3 724.6C477.2 726.6 472.3 731.6 472.3 731.6" fill="none" stroke="#d9560f" stroke-width="1.1"/>
<path d="M486.4 687.3C486.4 687.3 492.1 692.4 494.4 696.4C496.8 700.4 499.1 705.6 500.5 711.5C501.8 717.4 502.2 723.5 502.5 731.6C502.8 739.7 502.5 761.8 502.5 761.8" fill="none" stroke="#3f007d" stroke-width="1.27"/>
<path d="M482.4 691.4C482.4 691.4 489.6 696.4 490.4 701.4C491.3 706.5 489 713.6 487.4 721.5C485.8 729.5 478.3 761.8 478.3 761.8" fill="none" stroke="#3f007d" stroke-width="1.27"/>
<path d="M406.9 711.5C406.9 711.5 424.8 716.8 428 716.5C431.3 716.3 431.1 708.6 432.1 709.5C433.1 710.3 433.6 717.9 434.1 721.5C434.6 725.2 435.1 731.6 435.1 731.6" fill="none" stroke="#fdd8b3" stroke-width="1.6"/>
<path d="M469.3 717.5C469.3 717.5 473.7 710.4 474.3 709.5C475 708.5 476.3 707.5 476.3 707.5" fill="none" stroke="#fdd8b3" stroke-width="1.6"/>
<path d="M473.8 698.4C473.8 699.7 472.1 701.4 470.1 702.4C468.2 703.4 464 704.7 460 705.4C456 706 450.8 706.5 446.1 706.5C441.5 706.5 436.3 706 432.3 705.4C428.3 704.7 424.1 703.4 422.2 702.4C420.2 701.4 418.5 698.4 418.5 698.4C418.5 698.4 420.2 695.4 422.2 694.4C424.1 693.4 428.3 692.1 432.3 691.4C436.3 690.8 441.5 690.4 446.1 690.4C450.8 690.4 456 690.8 460 691.4C464 692.1 468.2 693.4 470.1 694.4C472.1 695.4 473.8 697.1 473.8 698.4Z" fill="#3f007d" fill-opacity="0.12" stroke="#3f007d" stroke-width="2.72"/>
<path d="M470.4 698.8C470.4 700 468.9 701.5 467.1 702.4C465.3 703.3 461.6 704.5 458 705.1C454.4 705.7 449.7 706.1 445.5 706.1C441.4 706.1 436.7 705.7 433.1 705.1C429.5 704.5 425.7 703.3 424 702.4C422.2 701.5 420.6 700 420.6 698.8C420.6 697.6 422.2 696.1 424 695.2C425.7 694.3 429.5 693.1 433.1 692.5C436.7 691.9 441.4 691.6 445.5 691.6C449.7 691.6 454.4 691.9 458 692.5C461.6 693.1 465.3 694.3 467.1 695.2C468.9 696.1 470.4 697.6 470.4 698.8Z" fill="none" stroke="#96482a" stroke-width="0.9"/>
<path d="M476.6 698.4C476.6 699.9 474.7 701.8 472.5 702.8C470.4 703.9 465.8 705.3 461.4 706.1C457 706.8 451.2 707.3 446.1 707.3C441.1 707.3 435.3 706.8 430.9 706.1C426.5 705.3 419.8 702.8 419.8 702.8L415.7 698.4L419.8 694C419.8 694 426.5 691.5 430.9 690.7C435.3 690 441.1 689.6 446.1 689.6C451.2 689.6 457 690 461.4 690.7C465.8 691.5 470.4 692.9 472.5 694C474.7 695.1 476.6 696.9 476.6 698.4Z" fill="none" stroke="#6a51a3" stroke-width="0.9"/>
<path d="M472.3 700.4C472.3 701.4 470.6 702.7 468.9 703.4C467.3 704.1 463.4 705.1 459.7 705.6C456.1 706.1 451.3 706.5 447.2 706.5C443 706.5 438.2 706.1 434.6 705.6C430.9 705.1 427 704.1 425.4 703.4C423.7 702.7 422 701.4 422 700.4C422 699.4 423.7 698.1 425.4 697.4C427 696.7 430.9 695.7 434.6 695.2C438.2 694.7 443 694.4 447.2 694.4C451.3 694.4 456.1 694.7 459.7 695.2C463.4 695.7 467.3 696.7 468.9 697.4C470.6 698.1 472.3 699.4 472.3 700.4Z" fill="none" stroke="#96482a" stroke-width="1.44"/>
<path d="M470.3 697.9C470.3 698.4 468.8 699.1 467.6 699.4C466.4 699.7 463.1 700.3 460.2 700.5C457.3 700.8 453.5 700.9 450.2 700.9C446.8 700.9 443 700.8 440.1 700.5C437.2 700.3 433.9 699.7 432.7 699.4C431.5 699.1 430 698.4 430 697.9C430 697.4 431.5 696.7 432.7 696.4C433.9 696.1 437.2 695.5 440.1 695.3C443 695 446.8 694.9 450.2 694.9C453.5 694.9 457.3 695 460.2 695.3C463.1 695.5 466.4 696.1 467.6 696.4C468.8 696.7 470.3 697.4 470.3 697.9Z" fill="none" stroke="#fdd8b3" stroke-width="1.6"/></g>
<clipPath id="c54"><rect x="544" y="630.6" width="115.7" height="115.7"/></clipPath><g clip-path="url(#c54)"><path d="M618.4 664.2C617.3 661.1 626.9 653.7 629.5 650.1C632.1 646.5 644.6 628 644.6 628L674.8 628L674.8 668.2C674.8 668.2 662.2 666.9 660 669.2C657.8 671.5 654.2 687 652.7 691.4C651.1 695.7 645.8 713.5 644.6 712.5C643.4 711.5 643.2 686.1 640.6 681.3C638 676.5 619.6 667.3 618.4 664.2Z" fill="#fbc4a0" fill-opacity="0.5" stroke="#f6ab72" stroke-width="1.25"/>
<path d="M633.5 657.2C633.9 654.1 642.7 647.7 644.6 646.1C646.5 644.5 649.6 641.7 652.7 641.1C655.7 640.4 674.8 639.6 674.8 639.6L674.8 654.1C674.8 654.1 662.4 653.2 660 655.1C657.6 657.1 652.2 669.6 650.6 673.3C649.1 676.9 645.6 691.1 644.6 691.4C643.6 691.7 641.7 679.7 640.6 676.3C639.5 672.9 633.1 660.2 633.5 657.2Z" fill="#fb9d62" fill-opacity="0.35" stroke="#f3974f" stroke-width="1.25"/>
<path d="M528.9 686.3C528.9 686.3 600.3 686.3 604.4 686.3C608.4 686.4 613.8 686.3 614.4 687.3C615.1 688.3 620 700.5 614.4 701.4C608.9 702.3 528.9 701.4 528.9 701.4L528.9 686.3Z" fill="#dcdbe9" fill-opacity="0.75" stroke="#d3d2e4" stroke-width="1.25"/>
<path d="M650.1 685.3C650.1 689.9 649.1 695 647.4 698.9C645.7 702.8 642.8 706.6 639.8 708.9C636.9 711.1 633 712.5 629.5 712.5C626.1 712.5 622.2 711.1 619.2 708.9C616.2 706.6 613.4 702.8 611.7 698.9C609.9 695 608.9 689.9 608.9 685.3C608.9 680.8 609.9 675.7 611.7 671.7C613.4 667.8 616.2 664.1 619.2 661.8C622.2 659.5 626.1 658.2 629.5 658.2C633 658.2 636.9 659.5 639.8 661.8C642.8 664.1 645.7 667.8 647.4 671.7C649.1 675.7 650.1 680.8 650.1 685.3Z" fill="#cdcbe8" fill-opacity="0.62" stroke="#9d9aca" stroke-width="1.25"/>
<path d="M647.6 681.3C647.6 684.5 646.9 688.1 645.6 690.9C644.3 693.6 642.3 696.3 640.1 697.9C637.9 699.5 635 700.4 632.5 700.4C630 700.4 627.2 699.5 625 697.9C622.8 696.3 620.7 693.6 619.5 690.9C618.2 688.1 617.4 684.5 617.4 681.3C617.4 678.1 618.2 674.5 619.5 671.7C620.7 669 622.8 666.3 625 664.7C627.2 663.2 630 662.2 632.5 662.2C635 662.2 637.9 663.2 640.1 664.7C642.3 666.3 644.3 669 645.6 671.7C646.9 674.5 647.6 678.1 647.6 681.3Z" fill="#cdcbe8" fill-opacity="0.38" stroke="#9d9aca" stroke-width="1.25"/>
<path d="M639.6 683.3C639.6 686.2 639 689.4 638 691.9C637 694.3 635.3 696.7 633.5 698.1C631.8 699.6 629.5 700.4 627.5 700.4C625.5 700.4 623.2 699.6 621.5 698.1C619.7 696.7 618.1 694.3 617 691.9C616 689.4 615.4 686.2 615.4 683.3C615.4 680.5 616 677.2 617 674.8C618.1 672.3 619.7 669.9 621.5 668.5C623.2 667.1 625.5 666.2 627.5 666.2C629.5 666.2 631.8 667.1 633.5 668.5C635.3 669.9 637 672.3 638 674.8C639 677.2 639.6 680.5 639.6 683.3Z" fill="#cdcbe8" fill-opacity="0.38" stroke="#9d9aca" stroke-width="1.25"/>
<path d="M528.9 699.4C528.9 699.4 558.6 695.8 564.1 695.4C569.7 695 580.7 695.5 584.2 695.4C587.8 695.3 596.8 695 599.3 694.4C601.8 693.8 607.5 690.3 609.4 689.4C611.3 688.4 615.9 685.1 618.4 685.3C621 685.5 632.3 690.8 634.5 691.4C636.8 692 639.7 689.4 640.6 691.4C641.5 693.4 643.2 704.4 643.6 711.5C644 718.5 644.6 761.8 644.6 761.8L528.9 761.8L528.9 699.4Z" fill="#aaa6d9" fill-opacity="0.75" stroke="#6a51a3" stroke-width="1.1"/>
<path d="M533.9 699.9C533.9 699.9 561.5 696.6 566.6 696.2C571.8 695.8 582.1 696.3 585.3 696.2C588.6 696.1 597 695.8 599.4 695.3C601.7 694.7 606.9 691.4 608.7 690.6C610.5 689.7 614.8 686.7 617.1 686.8C619.5 687 630 691.9 632.1 692.5C634.2 693 636.9 690.6 637.7 692.5C638.6 694.3 640.2 704.6 640.5 711.2C640.9 717.7 641.5 758 641.5 758L533.9 758L533.9 699.9Z" fill="none" stroke="#d9560f" stroke-width="0.8"/>
<path d="M541.7 700.8C541.7 700.8 566 697.8 570.5 697.5C575.1 697.1 584.1 697.6 587 697.5C589.9 697.4 597.3 697.1 599.4 696.7C601.5 696.2 606.1 693.3 607.6 692.5C609.2 691.8 613 689.1 615.1 689.2C617.1 689.4 626.5 693.7 628.3 694.2C630.1 694.7 632.5 692.5 633.2 694.2C634 695.8 635.4 704.9 635.7 710.7C636 716.5 636.5 751.9 636.5 751.9L541.7 751.9L541.7 700.8Z" fill="none" stroke="#fdd8b3" stroke-width="1.1"/>
<path d="M528.9 700.4C528.9 700.4 556.1 697.4 564.1 696.9C572.2 696.4 578.4 697.1 584.2 696.9C590.1 696.6 595.1 696.5 599.3 695.4C603.5 694.3 606.2 691.9 609.4 690.4C612.6 688.8 618.4 686.3 618.4 686.3" fill="none" stroke="#d9560f" stroke-width="1.1"/>
<path d="M528.9 707.5C528.9 707.5 568.1 704.7 574.2 705.4C580.2 706.2 586.3 714.9 589.3 714.5C592.3 714.1 601.6 703.7 604.4 701.4C607.1 699.1 615.2 685.3 616.4 691.4C617.6 697.4 616.4 761.8 616.4 761.8L528.9 761.8L528.9 707.5Z" fill="#cfcdea" fill-opacity="0.75"/>
<path d="M589.3 714.5C589.3 714.5 599.8 705.3 604.4 701.4C608.9 697.6 616.4 691.4 616.4 691.4" fill="none" stroke="#6a51a3" stroke-width="1.1"/>
<path d="M590.3 715.5C590.3 715.5 600.8 706.3 605.4 702.4C609.9 698.6 617.4 692.4 617.4 692.4" fill="none" stroke="#d9560f" stroke-width="1.1"/>
<path d="M554.1 724.6C554.1 722.4 554.8 719.9 557.1 718.5C559.4 717.1 565.8 716.7 569.2 715.5C572.5 714.3 574.3 711.7 577.2 711.5C580.1 711.3 583.9 712.8 586.3 714.5C588.6 716.2 590.9 718.7 591.3 721.5C591.6 724.4 587.8 728.6 588.3 731.6C588.8 734.6 593.3 735.8 594.3 739.7C595.3 743.5 596.3 761.8 596.3 761.8L569.2 761.8C569.2 761.8 563.8 745.8 562.1 741.7C560.4 737.5 558.4 734.4 557.1 731.6C555.8 728.8 554.1 726.7 554.1 724.6Z" fill="#aaa6d9" fill-opacity="0.75" stroke="#6a51a3" stroke-width="1.19"/>
<path d="M555.5 725C555.5 723 556.2 720.7 558.3 719.4C560.5 718.1 566.5 717.7 569.6 716.6C572.7 715.5 574.4 713 577.1 712.9C579.7 712.7 583.3 714.1 585.5 715.7C587.7 717.2 589.8 719.6 590.2 722.2C590.5 724.9 586.9 728.8 587.4 731.6C587.8 734.4 592 735.4 593 739.1C593.9 742.7 594.8 759.6 594.8 759.6L569.6 759.6C569.6 759.6 564.6 744.8 563 740.9C561.5 737 559.6 734.2 558.3 731.6C557.1 729 555.5 727.1 555.5 725Z" fill="none" stroke="#d9560f" stroke-width="0.8"/>
<path d="M557.9 725.8C557.9 724 558.4 721.9 560.3 720.8C562.2 719.7 567.5 719.3 570.2 718.3C573 717.4 574.5 715.2 576.8 715C579.2 714.9 582.3 716.1 584.3 717.5C586.2 718.9 588.1 720.9 588.4 723.3C588.7 725.6 585.5 729.1 585.9 731.5C586.3 734 590 734.9 590.9 738.1C591.7 741.3 592.5 756.3 592.5 756.3L570.2 756.3C570.2 756.3 565.8 743.2 564.5 739.8C563.1 736.4 561.4 733.8 560.3 731.5C559.3 729.3 557.9 727.5 557.9 725.8Z" fill="none" stroke="#fdd8b3" stroke-width="1.1"/>
<path d="M560.1 726.6C560.1 726.6 566.8 721.7 569.2 719.5C571.5 717.4 572.3 714.3 574.2 713.5C576 712.7 578.9 713.2 580.2 714.5C581.6 715.8 581.1 720 582.2 721.5C583.4 723.1 586.1 724.2 587.3 723.6C588.4 722.9 589.3 717.5 589.3 717.5" fill="none" stroke="#d9560f" stroke-width="1.36"/>
<path d="M560.6 727.1C560.6 727.1 562.4 734.4 565.1 735.6C567.9 736.9 574 734 577.2 734.6C580.4 735.3 583.3 736.3 584.2 739.7C585.2 743 585.2 761.8 585.2 761.8" fill="none" stroke="#d9560f" stroke-width="1.36"/>
<path d="M600.3 761.8C600.3 761.8 604.2 727.2 604.4 721.5C604.6 715.9 602.4 707.5 602.4 707.5" fill="none" stroke="#fdd8b3" stroke-width="1.5"/>
<path d="M608.4 761.8C608.4 761.8 608.6 721.8 608.4 716.5C608.2 711.2 606.4 703.4 606.4 703.4" fill="none" stroke="#fdd8b3" stroke-width="1.5"/>
<path d="M634.3 713.5C634.3 719.9 633.9 727.1 633.2 732.6C632.4 738.1 630.9 744.1 629.9 746.6C628.9 749.1 625.5 751.7 625.5 751.7C625.5 751.7 622.1 749.1 621.1 746.6C620.1 744.1 618.6 738.1 617.8 732.6C617.1 727.1 616.6 719.9 616.6 713.5C616.6 707.1 617.1 699.9 617.8 694.4C618.6 688.9 620.1 682.9 621.1 680.4C622.1 677.9 624 675.3 625.5 675.3C627 675.3 628.9 677.9 629.9 680.4C630.9 682.9 632.4 688.9 633.2 694.4C633.9 699.9 634.3 707.1 634.3 713.5Z" fill="#3f007d" fill-opacity="0.07" stroke="#3f007d" stroke-width="1.44"/>
<path d="M632.9 713.9C632.9 719.6 632.5 726.1 631.8 731.1C631.1 736.1 629.8 741.4 628.9 743.7C628 746 626.2 748.3 624.9 748.3C623.6 748.3 621.8 746 620.9 743.7C620 741.4 618.7 736.1 618 731.1C617.3 726.1 616.9 719.6 616.9 713.9C616.9 708.2 617.3 701.7 618 696.7C618.7 691.7 620 686.4 620.9 684.1C621.8 681.8 623.6 679.5 624.9 679.5C626.2 679.5 628 681.8 628.9 684.1C629.8 686.4 631.1 691.7 631.8 696.7C632.5 701.7 632.9 708.2 632.9 713.9Z" fill="none" stroke="#96482a" stroke-width="0.9"/>
<path d="M635.2 713.5C635.2 720.5 634.7 728.5 633.9 734.5C633.1 740.6 630.4 749.9 630.4 749.9L625.5 755.6L620.6 749.9C620.6 749.9 617.9 740.6 617.1 734.5C616.2 728.5 615.8 720.5 615.8 713.5C615.8 706.5 616.2 698.5 617.1 692.5C617.9 686.4 619.5 679.8 620.6 677.1C621.7 674.3 623.9 671.4 625.5 671.4C627.1 671.4 629.3 674.3 630.4 677.1C631.5 679.8 633.1 686.4 633.9 692.5C634.7 698.5 635.2 706.5 635.2 713.5Z" fill="none" stroke="#6a51a3" stroke-width="0.9"/>
<path d="M631.7 711.5C631.7 716.5 631.4 722.2 630.9 726.6C630.4 730.9 629.3 735.7 628.6 737.6C627.9 739.5 626.5 741.7 625.5 741.7C624.5 741.7 623.1 739.5 622.4 737.6C621.7 735.7 620.6 730.9 620.1 726.6C619.6 722.2 619.3 716.5 619.3 711.5C619.3 706.5 619.6 700.8 620.1 696.4C620.6 692 621.7 687.3 622.4 685.3C623.1 683.4 624.5 681.3 625.5 681.3C626.5 681.3 627.9 683.4 628.6 685.3C629.3 687.3 630.4 692 630.9 696.4C631.4 700.8 631.7 706.5 631.7 711.5Z" fill="#3f007d" fill-opacity="0.07" stroke="#3f007d" stroke-width="1.44"/>
<path d="M630.5 711.9C630.5 716.4 630.2 721.5 629.7 725.5C629.3 729.4 628.3 733.7 627.7 735.4C627.1 737.1 625.8 739.1 624.9 739.1C624 739.1 622.7 737.1 622.1 735.4C621.5 733.7 620.5 729.4 620 725.5C619.6 721.5 619.3 716.4 619.3 711.9C619.3 707.4 619.6 702.2 620 698.3C620.5 694.4 621.5 690.1 622.1 688.4C622.7 686.6 624 684.7 624.9 684.7C625.8 684.7 627.1 686.6 627.7 688.4C628.3 690.1 629.3 694.4 629.7 698.3C630.2 702.2 630.5 707.4 630.5 711.9Z" fill="none" stroke="#96482a" stroke-width="0.9"/>
<path d="M632.4 711.5C632.4 717 632 723.3 631.4 728.1C630.9 732.9 629.7 738.1 628.9 740.2C628.2 742.4 626.6 744.7 625.5 744.7C624.3 744.7 622.8 742.4 622.1 740.2C621.3 738.1 620.1 732.9 619.5 728.1C619 723.3 618.6 717 618.6 711.5C618.6 706 619 699.7 619.5 694.9C620.1 690.1 621.3 684.8 622.1 682.7C622.8 680.6 624.3 678.3 625.5 678.3C626.6 678.3 628.2 680.6 628.9 682.7C629.7 684.8 630.9 690.1 631.4 694.9C632 699.7 632.4 706 632.4 711.5Z" fill="none" stroke="#6a51a3" stroke-width="0.9"/>
<path d="M632 714.5C632 720.2 631.6 726.7 631 731.6C630.4 736.5 629.1 741.9 628.3 744.1C627.4 746.3 624.5 748.7 624.5 748.7C624.5 748.7 621.6 746.3 620.7 744.1C619.9 741.9 618.6 736.5 618 731.6C617.3 726.7 616.9 720.2 616.9 714.5C616.9 708.8 617.3 702.3 618 697.4C618.6 692.5 619.9 687.1 620.7 684.9C621.6 682.7 623.2 680.3 624.5 680.3C625.7 680.3 627.4 682.7 628.3 684.9C629.1 687.1 630.4 692.5 631 697.4C631.6 702.3 632 708.8 632 714.5Z" fill="none" stroke="#96482a" stroke-width="1.01"/>
<path d="M629 699.4C629 701.4 628.8 703.7 628.5 705.4C628.2 707.2 627.7 709 627.3 709.9C626.8 710.7 626.1 711.5 625.5 711.5C624.9 711.5 624.2 710.7 623.7 709.9C623.3 709 622.7 707.2 622.4 705.4C622.1 703.7 622 701.4 622 699.4C622 697.4 622.1 695.1 622.4 693.4C622.7 691.6 623.3 689.8 623.7 689C624.2 688.1 624.9 687.3 625.5 687.3C626.1 687.3 626.8 688.1 627.3 689C627.7 689.8 628.2 691.6 628.5 693.4C628.8 695.1 629 697.4 629 699.4Z" fill="#3f007d" fill-opacity="0.1" stroke="#3f007d" stroke-width="1.44"/>
<path d="M628.1 699.8C628.1 701.6 627.9 703.7 627.6 705.2C627.4 706.8 626.9 708.5 626.5 709.2C626.1 710 625.4 710.7 624.9 710.7C624.4 710.7 623.7 710 623.3 709.2C622.9 708.5 622.4 706.8 622.1 705.2C621.9 703.7 621.7 701.6 621.7 699.8C621.7 698 621.9 696 622.1 694.4C622.4 692.8 622.9 691.2 623.3 690.4C623.7 689.6 624.4 688.9 624.9 688.9C625.4 688.9 626.1 689.6 626.5 690.4C626.9 691.2 627.4 692.8 627.6 694.4C627.9 696 628.1 698 628.1 699.8Z" fill="none" stroke="#96482a" stroke-width="0.9"/>
<path d="M629.4 699.4C629.4 701.6 629.2 704.1 628.8 706.1C628.5 708 627.9 710 627.4 710.9C627 711.9 626.1 712.7 625.5 712.7C624.8 712.7 624 711.9 623.6 710.9C623.1 710 622.5 708 622.1 706.1C621.8 704.1 621.6 701.6 621.6 699.4C621.6 697.2 621.8 694.7 622.1 692.8C622.5 690.9 623.1 688.9 623.6 687.9C624 687 624.8 686.1 625.5 686.1C626.1 686.1 627 687 627.4 687.9C627.9 688.9 628.5 690.9 628.8 692.8C629.2 694.7 629.4 697.2 629.4 699.4Z" fill="none" stroke="#6a51a3" stroke-width="0.9"/>
<path d="M634.5 691.4C634.8 690.8 638.3 692.8 638.6 693.4C638.9 694 639.3 699.9 639.1 700.4C638.8 701 635.4 702 635 701.4C634.7 700.8 634.3 691.9 634.5 691.4Z" fill="#fbc4a0" fill-opacity="0.6" stroke="#f6ab72" stroke-width="1.25"/></g>
<clipPath id="c60"><rect x="57.8" y="752.1" width="115.7" height="115.7"/></clipPath><g clip-path="url(#c60)"><path d="M185.8 790.2L182.8 796.8C182.8 796.8 177.9 800.5 174.7 801.6C171.5 802.6 167.3 803.3 163.6 803.3C159.9 803.3 155.8 802.6 152.6 801.6C149.4 800.5 146.3 798.7 144.5 796.8C142.6 794.9 141.5 792.4 141.5 790.2C141.5 788.1 142.6 785.6 144.5 783.7C146.3 781.8 149.4 780 152.6 778.9C155.8 777.8 159.9 777.2 163.6 777.2C167.3 777.2 171.5 777.8 174.7 778.9C177.9 780 182.8 783.7 182.8 783.7L185.8 790.2Z" fill="#dcdbe9" fill-opacity="0.38" stroke="#d3d2e4" stroke-width="1.25"/>
<path d="M178.2 790.2L176.4 794C176.4 794 173.4 796.1 171.4 796.8C169.5 797.4 166.9 797.8 164.6 797.8C162.4 797.8 159.8 797.4 157.9 796.8C155.9 796.1 154 795.1 152.9 794C151.7 792.9 151.1 791.5 151.1 790.2C151.1 789 151.7 787.5 152.9 786.5C154 785.4 155.9 784.3 157.9 783.7C159.8 783.1 162.4 782.7 164.6 782.7C166.9 782.7 169.5 783.1 171.4 783.7C173.4 784.3 176.4 786.5 176.4 786.5L178.2 790.2Z" fill="#dcdbe9" fill-opacity="0.45" stroke="#d3d2e4" stroke-width="1.25"/>
<path d="M173.2 790.2C173.2 790.9 172.8 791.6 172.2 792.1C171.6 792.7 170.5 793.2 169.4 793.5C168.3 793.9 166.9 794.1 165.6 794.1C164.4 794.1 163 793.9 161.9 793.5C160.8 793.2 159.7 792.7 159.1 792.1C158.5 791.6 158.1 790.9 158.1 790.2C158.1 789.6 158.5 788.9 159.1 788.3C159.7 787.8 160.8 787.2 161.9 786.9C163 786.6 164.4 786.4 165.6 786.4C166.9 786.4 168.3 786.6 169.4 786.9C170.5 787.2 171.6 787.8 172.2 788.3C172.8 788.9 173.2 789.6 173.2 790.2Z" fill="#dcdbe9" fill-opacity="0.6" stroke="#d3d2e4" stroke-width="1.25"/>
<path d="M56 812.4L56 832.5C56 832.5 67.4 833.3 71.1 835.5C74.8 837.7 75.3 842.7 78.1 845.6C81 848.4 84 852.1 88.2 852.6C92.4 853.1 99.1 851.1 103.3 848.6C107.5 846.1 110.5 842.7 113.3 837.5C116.2 832.3 118.5 820.3 120.4 817.4C122.3 814.5 125.7 816.4 128.4 814.4C131.1 812.4 135 809 136.5 805.3C138 801.6 139.3 794.4 137.5 792.2C135.6 790.1 130.2 791.4 125.4 792.2C120.6 793.1 115.3 795.8 108.3 797.3C101.3 798.8 86.8 799.8 78.1 802.3C69.4 804.8 56 812.4 56 812.4Z" fill="#fbc4a0" fill-opacity="0.5" stroke="#f6ab72" stroke-width="1.25"/>
<path d="M71.1 812.4C66.9 818.4 71.9 825.4 73.1 830.5C74.3 835.5 75.6 839.1 78.1 842.5C80.6 846 84.2 850.3 88.2 851.1C92.2 851.9 98.2 849.5 102.3 847.1C106.3 844.6 109.5 841.5 112.3 836.5C115.2 831.6 117.4 823.1 119.4 817.4C121.4 811.7 123.9 806.4 124.4 802.3C124.9 798.2 126.3 793.4 122.4 792.2C118.5 791 106.8 790.9 98.2 794.3C89.7 797.6 75.2 806.4 71.1 812.4Z" fill="#fb9d62" fill-opacity="0.3" stroke="#f3974f" stroke-width="1.25"/>
<path d="M78.1 812.4C76.4 817.4 81.1 826.4 83.2 830.5C85.2 834.5 88.2 838.2 91.2 838.5C94.2 838.9 98.4 836 101.3 832.5C104.1 829 106.8 822.4 108.3 817.4C109.8 812.4 112.8 805.2 110.3 802.3C107.8 799.5 98.6 798.6 93.2 800.3C87.8 802 79.8 807.3 78.1 812.4Z" fill="#fb9d62" fill-opacity="0.3" stroke="#f3974f" stroke-width="1.25"/>
<path d="M56 790.2C56 790.2 64.6 774.5 68.1 772.1C71.5 769.8 77.1 771.1 78.1 775.1C79.1 779.2 78.3 808.3 78.1 812.4C77.9 816.5 77.8 819.1 76.1 822.4C74.4 825.8 71.4 831 68.1 832.5C64.7 834 56 831.5 56 831.5L56 790.2Z" fill="#cdcbe8" fill-opacity="0.75" stroke="#9d9aca" stroke-width="1.25"/>
<path d="M66 775.1C68.2 771.8 72.8 767.9 78.1 765.1C83.5 762.2 89.9 759.4 98.2 758C106.6 756.7 122.1 756.5 128.4 757C134.8 757.6 139.7 759.5 143.5 762.1C147.4 764.6 150.7 768.8 151.6 772.1C152.4 775.5 150.7 779.5 148.5 782.2C146.4 784.9 142.7 786.5 138.5 788.2C134.3 789.9 128.4 790.4 123.4 792.2C118.4 794.1 112.5 796.6 108.3 799.3C104.1 802 102.4 805.8 98.2 808.3C94.1 810.9 87.3 814.4 83.2 814.4C79 814.4 75.9 811.2 73.1 808.3C70.2 805.5 67.4 801.1 66 797.3C64.7 793.4 65 788.9 65 785.2C65 781.5 63.9 778.5 66 775.1Z" fill="#cfcdea" fill-opacity="0.75" stroke="#6a51a3" stroke-width="0.85"/>
<path d="M68.8 775.8C70.8 772.7 75 769.1 80 766.4C85 763.8 90.9 761.1 98.7 759.9C106.5 758.6 120.9 758.4 126.8 758.9C132.7 759.5 137.2 761.3 140.8 763.6C144.4 766 147.5 769.9 148.3 773C149.1 776.1 147.5 779.8 145.5 782.3C143.4 784.8 140 786.4 136.1 787.9C132.2 789.5 126.8 790 122.1 791.7C117.4 793.4 111.9 795.7 108.1 798.2C104.2 800.7 102.6 804.3 98.7 806.7C94.8 809 88.6 812.3 84.7 812.3C80.8 812.3 78 809.3 75.3 806.7C72.7 804 70 800 68.8 796.4C67.5 792.8 67.8 788.6 67.8 785.1C67.8 781.7 66.7 778.9 68.8 775.8Z" fill="none" stroke="#d9560f" stroke-width="0.8"/>
<path d="M73 776.8C74.8 774 78.5 770.9 82.9 768.5C87.3 766.2 92.5 763.9 99.4 762.8C106.3 761.7 119 761.5 124.2 761.9C129.3 762.4 133.4 764 136.5 766.1C139.7 768.1 142.4 771.6 143.1 774.3C143.8 777.1 142.4 780.4 140.7 782.6C138.9 784.8 135.8 786.1 132.4 787.5C129 788.9 124.2 789.3 120 790.8C115.9 792.3 111.1 794.4 107.7 796.6C104.2 798.8 102.8 802 99.4 804C96 806.1 90.5 809 87 809C83.6 809 81.1 806.4 78.8 804C76.4 801.7 74.1 798.1 73 794.9C71.9 791.8 72.2 788.1 72.2 785C72.2 782 71.2 779.5 73 776.8Z" fill="none" stroke="#fdd8b3" stroke-width="1.1"/>
<path d="M66.5 775.5C68.6 772.2 73.2 768.3 78.5 765.5C83.9 762.6 90.3 759.8 98.6 758.4C107 757.1 122.5 756.9 128.8 757.4C135.2 758 140.1 759.9 143.9 762.5C147.8 765 151.1 769.2 152 772.5C152.8 775.9 151.1 779.9 148.9 782.6C146.8 785.3 143.1 786.9 138.9 788.6C134.7 790.3 128.8 790.8 123.8 792.6C118.8 794.5 112.9 797 108.7 799.7C104.5 802.4 102.8 806.2 98.6 808.7C94.5 811.3 87.7 814.8 83.6 814.8C79.4 814.8 76.3 811.6 73.5 808.7C70.6 805.9 67.8 801.5 66.5 797.7C65.1 793.8 65.4 789.3 65.4 785.6C65.4 781.9 64.3 778.9 66.5 775.5Z" fill="none" stroke="#96482a" stroke-width="0.94"/>
<path d="M65.7 775.5C67.9 772.2 72.5 768.3 77.8 765.5C83.2 762.6 89.6 759.8 97.9 758.4C106.3 757.1 121.8 756.9 128.1 757.4C134.5 758 139.4 759.9 143.2 762.5C147.1 765 150.4 769.2 151.3 772.5C152.1 775.9 150.4 779.9 148.2 782.6C146.1 785.3 142.4 786.9 138.2 788.6C134 790.3 128.1 790.8 123.1 792.6C118.1 794.5 112.2 797 108 799.7C103.8 802.4 102.1 806.2 97.9 808.7C93.7 811.3 87 814.8 82.8 814.8C78.7 814.8 75.6 811.6 72.8 808.7C69.9 805.9 67.1 801.5 65.7 797.7C64.4 793.8 64.7 789.3 64.7 785.6C64.7 781.9 63.6 778.9 65.7 775.5Z" fill="none" stroke="#d9560f" stroke-width="0.85"/>
<path d="M77.1 780.2C78 777.3 79.8 774.4 83.2 772.1C86.5 769.9 91.9 767.4 98.2 766.1C104.6 764.8 117.9 763.8 123.4 764.1C128.9 764.4 134.1 766.4 136.5 768.1C138.8 769.8 139.8 772.8 138.5 775.1C137.1 777.5 132.6 780.3 128.4 782.2C124.2 784 117.5 784.5 113.3 786.2C109.1 787.9 107.5 790.9 103.3 792.2C99.1 793.6 92.4 794.8 88.2 794.3C84 793.8 80 791.6 78.1 789.2C76.3 786.9 76.3 783 77.1 780.2Z" fill="#aaa6d9" fill-opacity="0.75" stroke="#6a51a3" stroke-width="0.85"/>
<path d="M79.2 780.1C79.9 777.4 81.7 774.7 84.8 772.6C87.9 770.5 92.9 768.2 98.8 767C104.7 765.8 117.1 764.9 122.2 765.1C127.3 765.4 132.2 767.3 134.4 768.9C136.6 770.5 137.5 773.2 136.2 775.4C135 777.6 130.8 780.2 126.9 782C123 783.7 116.7 784.1 112.8 785.7C108.9 787.3 107.4 790.1 103.5 791.3C99.6 792.6 93.3 793.7 89.4 793.2C85.5 792.7 81.8 790.7 80.1 788.5C78.4 786.3 78.4 782.7 79.2 780.1Z" fill="none" stroke="#d9560f" stroke-width="0.8"/>
<path d="M82.4 780C83 777.6 84.6 775.2 87.3 773.4C90 771.5 94.4 769.5 99.7 768.4C104.9 767.4 115.8 766.5 120.3 766.8C124.8 767 129.1 768.7 131 770.1C133 771.5 133.8 773.9 132.7 775.8C131.6 777.8 127.9 780.1 124.4 781.6C121 783.1 115.5 783.5 112 784.9C108.6 786.3 107.2 788.8 103.8 789.9C100.4 791 94.9 791.9 91.4 791.5C88 791.1 84.7 789.3 83.2 787.4C81.7 785.5 81.7 782.3 82.4 780Z" fill="none" stroke="#fdd8b3" stroke-width="1.1"/>
<path d="M77.5 780.6C78.4 777.7 80.2 774.8 83.6 772.5C86.9 770.3 92.3 767.8 98.6 766.5C105 765.2 118.3 764.2 123.8 764.5C129.3 764.8 134.5 766.8 136.9 768.5C139.2 770.2 140.2 773.2 138.9 775.5C137.5 777.9 133 780.7 128.8 782.6C124.6 784.4 117.9 784.9 113.7 786.6C109.5 788.3 107.9 791.3 103.7 792.6C99.5 794 92.8 795.2 88.6 794.7C84.4 794.2 80.4 792 78.5 789.6C76.7 787.3 76.7 783.4 77.5 780.6Z" fill="none" stroke="#96482a" stroke-width="0.94"/>
<path d="M112.3 776.1C112.3 777.1 111.6 778.1 110.6 778.9C109.5 779.7 107.7 780.5 105.8 780.9C103.9 781.4 101.4 781.7 99.2 781.7C97.1 781.7 94.6 781.4 92.7 780.9C90.8 780.5 89 779.7 87.9 778.9C86.9 778.1 86.2 777.1 86.2 776.1C86.2 775.2 86.9 774.2 87.9 773.4C89 772.6 90.8 771.8 92.7 771.4C94.6 770.9 97.1 770.6 99.2 770.6C101.4 770.6 103.9 770.9 105.8 771.4C107.7 771.8 109.5 772.6 110.6 773.4C111.6 774.2 112.3 775.2 112.3 776.1Z" fill="#7f78c4" fill-opacity="0.85" stroke="#6a51a3" stroke-width="0.85"/>
<path d="M111.4 776.1C111.4 777 110.8 778 109.8 778.7C108.8 779.4 107.1 780.2 105.3 780.6C103.6 781 101.3 781.3 99.2 781.3C97.2 781.3 94.9 781 93.2 780.6C91.4 780.2 89.7 779.4 88.7 778.7C87.7 778 87.1 777 87.1 776.1C87.1 775.3 87.7 774.3 88.7 773.6C89.7 772.9 91.4 772.1 93.2 771.7C94.9 771.3 97.2 771 99.2 771C101.3 771 103.6 771.3 105.3 771.7C107.1 772.1 108.8 772.9 109.8 773.6C110.8 774.3 111.4 775.3 111.4 776.1Z" fill="none" stroke="#d9560f" stroke-width="0.8"/>
<path d="M110 776.1C110 776.9 109.4 777.8 108.5 778.4C107.7 779 106.2 779.7 104.6 780.1C103.1 780.5 101 780.7 99.2 780.7C97.5 780.7 95.4 780.5 93.9 780.1C92.3 779.7 90.8 779 90 778.4C89.1 777.8 88.5 776.9 88.5 776.1C88.5 775.4 89.1 774.5 90 773.9C90.8 773.2 92.3 772.6 93.9 772.2C95.4 771.8 97.5 771.6 99.2 771.6C101 771.6 103.1 771.8 104.6 772.2C106.2 772.6 107.7 773.2 108.5 773.9C109.4 774.5 110 775.4 110 776.1Z" fill="none" stroke="#fdd8b3" stroke-width="1.1"/>
<path d="M114.3 775.1C114.3 775.1 118.9 776.3 120.4 777.2C121.9 778 122.1 779.5 123.4 780.2C124.7 780.8 128.4 781.2 128.4 781.2" fill="none" stroke="#fdd8b3" stroke-width="1.3"/>
<path d="M108.1 788.4C108.8 790.4 108.7 793.1 107.8 795.4C106.9 797.8 104.9 800.4 102.5 802.5C100.2 804.5 96.8 806.4 93.7 807.6C90.5 808.7 86.7 809.4 83.6 809.3C80.5 809.3 77.3 808.6 75.1 807.4C72.8 806.2 71 804.2 70.3 802.1C69.5 800.1 69.6 797.4 70.6 795.1C71.5 792.7 73.5 790.1 75.9 788.1C78.2 786 81.6 784.1 84.7 783C87.9 781.8 91.7 781.1 94.8 781.2C97.9 781.2 101.1 782 103.3 783.2C105.5 784.4 107.4 786.3 108.1 788.4Z" fill="#3f007d" fill-opacity="0.06" stroke="#3f007d" stroke-width="1.27"/>
<path d="M105.6 789.5C106.3 791.3 106.2 793.7 105.3 795.8C104.5 797.9 102.7 800.3 100.6 802.1C98.5 804 95.4 805.7 92.6 806.7C89.8 807.8 86.4 808.4 83.6 808.3C80.8 808.3 77.9 807.6 75.9 806.6C73.9 805.5 72.2 803.7 71.6 801.9C70.9 800 71 797.6 71.8 795.5C72.7 793.4 74.5 791 76.6 789.2C78.7 787.4 81.7 785.6 84.6 784.6C87.4 783.6 90.8 783 93.6 783C96.4 783 99.3 783.7 101.3 784.8C103.3 785.8 104.9 787.6 105.6 789.5Z" fill="none" stroke="#96482a" stroke-width="0.9"/>
<path d="M110 787.7C110.8 789.9 110.7 792.9 109.7 795.5C108.6 798 106.4 801 103.8 803.2C101.3 805.4 97.6 807.5 94.1 808.8C90.6 810 86.5 810.8 83.1 810.8C79.6 810.7 76.1 809.9 73.6 808.6C71.2 807.3 69.2 805.1 68.4 802.8C67.6 800.6 67.7 797.6 68.7 795.1C69.7 792.5 71.9 789.6 74.5 787.3C77.1 785.1 80.8 783 84.3 781.7C87.7 780.5 91.9 779.7 95.3 779.8C98.7 779.8 102.3 780.6 104.7 781.9C107.2 783.3 109.2 785.4 110 787.7Z" fill="none" stroke="#6a51a3" stroke-width="0.9"/>
<path d="M100.9 790.4C101.4 791.9 101.3 793.7 100.7 795.3C100 797 98.6 798.8 97 800.2C95.3 801.6 93 803 90.8 803.8C88.6 804.6 85.9 805.1 83.7 805C81.6 805 79.3 804.5 77.8 803.7C76.2 802.9 75 801.5 74.4 800.1C73.9 798.7 74 796.8 74.7 795.2C75.3 793.5 76.7 791.7 78.4 790.3C80 788.9 82.4 787.6 84.6 786.8C86.8 785.9 89.4 785.5 91.6 785.5C93.8 785.5 96 786 97.6 786.8C99.1 787.7 100.4 789 100.9 790.4Z" fill="#3f007d" fill-opacity="0.06" stroke="#3f007d" stroke-width="1.27"/>
<path d="M99 791.3C99.5 792.6 99.4 794.3 98.8 795.7C98.2 797.2 96.9 798.9 95.4 800.1C94 801.4 91.8 802.6 89.9 803.3C87.9 804 85.5 804.5 83.5 804.5C81.6 804.5 79.5 804 78.2 803.2C76.8 802.5 75.6 801.3 75.2 800C74.7 798.7 74.8 797.1 75.4 795.6C76 794.1 77.2 792.5 78.7 791.2C80.2 789.9 82.3 788.7 84.3 788C86.3 787.3 88.7 786.9 90.6 786.9C92.6 786.9 94.6 787.3 96 788.1C97.4 788.8 98.5 790.1 99 791.3Z" fill="none" stroke="#96482a" stroke-width="0.9"/>
<path d="M102.2 790C102.8 791.5 102.7 793.6 102 795.4C101.3 797.1 99.7 799.2 97.9 800.7C96.1 802.3 93.5 803.7 91.1 804.6C88.7 805.5 85.7 806 83.3 806C81 806 78.5 805.4 76.8 804.5C75.1 803.6 73.7 802.1 73.1 800.6C72.6 799 72.6 797 73.4 795.2C74.1 793.4 75.6 791.3 77.4 789.8C79.3 788.3 81.8 786.8 84.3 785.9C86.7 785 89.6 784.5 92 784.5C94.4 784.5 96.9 785.1 98.6 786C100.3 786.9 101.7 788.4 102.2 790Z" fill="none" stroke="#6a51a3" stroke-width="0.9"/>
<path d="M95.2 792.2C95.5 793 95.4 794.2 95 795.2C94.6 796.2 93.6 797.3 92.6 798.2C91.5 799.1 90 799.9 88.6 800.5C87.1 801 85.4 801.3 84.1 801.3C82.7 801.3 81.2 801 80.3 800.5C79.3 800.1 78.5 799.2 78.2 798.4C77.8 797.5 77.9 796.4 78.4 795.3C78.8 794.3 79.7 793.2 80.8 792.3C81.9 791.4 83.4 790.6 84.8 790.1C86.2 789.5 87.9 789.2 89.3 789.2C90.7 789.2 92.1 789.5 93.1 790C94.1 790.5 94.9 791.3 95.2 792.2Z" fill="#3f007d" fill-opacity="0.07" stroke="#3f007d" stroke-width="1.27"/>
<path d="M93.7 792.9C94 793.7 93.9 794.7 93.6 795.6C93.2 796.5 92.3 797.5 91.4 798.3C90.4 799.1 89 799.9 87.8 800.3C86.5 800.8 85 801.1 83.7 801.1C82.5 801.1 81.2 800.9 80.3 800.4C79.4 800 78.7 799.2 78.4 798.5C78.1 797.7 78.2 796.6 78.6 795.7C79 794.8 79.8 793.8 80.8 793C81.7 792.2 83.1 791.4 84.4 791C85.6 790.5 87.2 790.2 88.4 790.2C89.7 790.2 91 790.5 91.8 790.9C92.7 791.4 93.4 792.1 93.7 792.9Z" fill="none" stroke="#96482a" stroke-width="0.9"/>
<path d="M96 791.9C96.4 792.8 96.3 794.1 95.8 795.2C95.3 796.3 94.3 797.5 93.2 798.5C92 799.5 90.3 800.4 88.8 801C87.2 801.5 85.3 801.9 83.8 801.9C82.3 801.9 80.7 801.6 79.6 801.1C78.5 800.5 77.7 799.6 77.3 798.7C77 797.7 77 796.5 77.5 795.4C78 794.2 79 793 80.2 792C81.4 791 83 790.1 84.6 789.5C86.2 789 88 788.6 89.5 788.6C91.1 788.6 92.7 788.9 93.7 789.5C94.8 790 95.7 790.9 96 791.9Z" fill="none" stroke="#6a51a3" stroke-width="0.9"/>
<path d="M90.4 793.9C90.6 794.3 90.5 794.8 90.3 795.3C90.1 795.8 89.6 796.3 89 796.7C88.5 797.2 87.7 797.6 87 797.8C86.3 798.1 85.5 798.3 84.8 798.3C84.1 798.3 83.4 798.2 82.9 798C82.4 797.8 82.1 797.4 81.9 797C81.8 796.6 81.8 796.1 82.1 795.6C82.3 795.2 82.8 794.6 83.3 794.2C83.8 793.8 84.6 793.4 85.3 793.1C86 792.8 86.9 792.7 87.6 792.6C88.2 792.6 88.9 792.7 89.4 792.9C89.9 793.2 90.3 793.5 90.4 793.9Z" fill="#3f007d" fill-opacity="0.1" stroke="#3f007d" stroke-width="1.27"/>
<path d="M89.4 794.5C89.5 794.8 89.5 795.3 89.3 795.7C89.1 796.1 88.6 796.6 88.2 797C87.7 797.4 87 797.8 86.3 798C85.7 798.2 84.9 798.4 84.3 798.4C83.7 798.4 83.1 798.3 82.6 798.1C82.2 797.9 81.9 797.6 81.7 797.3C81.6 796.9 81.7 796.4 81.9 796C82.1 795.6 82.5 795.1 83 794.7C83.5 794.3 84.2 794 84.8 793.7C85.4 793.5 86.2 793.3 86.8 793.3C87.4 793.3 88.1 793.4 88.5 793.6C88.9 793.8 89.3 794.1 89.4 794.5Z" fill="none" stroke="#96482a" stroke-width="0.9"/>
<path d="M90.8 793.8C91 794.2 90.9 794.8 90.7 795.3C90.4 795.8 89.9 796.4 89.3 796.9C88.7 797.3 87.9 797.8 87.1 798.1C86.3 798.3 85.4 798.5 84.6 798.6C83.9 798.6 83.1 798.5 82.6 798.2C82.1 798 81.6 797.6 81.5 797.2C81.3 796.7 81.4 796.2 81.6 795.6C81.9 795.1 82.4 794.5 83 794.1C83.6 793.6 84.4 793.1 85.2 792.9C86 792.6 86.9 792.4 87.7 792.4C88.4 792.3 89.2 792.5 89.7 792.7C90.3 792.9 90.7 793.3 90.8 793.8Z" fill="none" stroke="#6a51a3" stroke-width="0.9"/>
<path d="M71.1 804.3C71.1 804.3 78.6 814.7 83.2 816.4C87.7 818.1 93.7 816.4 98.2 814.4C102.8 812.4 108.1 808 110.3 804.3C112.5 800.6 111.3 792.2 111.3 792.2" fill="none" stroke="#d9560f" stroke-width="1.02"/></g>
<clipPath id="c61"><rect x="179.3" y="752.1" width="115.7" height="115.7"/></clipPath><g clip-path="url(#c61)"><path d="M266.5 817.4C261 820.1 268.2 827.8 269.5 832.5C270.9 837.2 272.1 842 274.6 845.6C277.1 849.1 279.7 852.3 284.6 853.6C289.6 855 309.8 855.1 309.8 855.1L309.8 812.4C309.8 812.4 272 814.6 266.5 817.4Z" fill="#fbc4a0" fill-opacity="0.5"/>
<path d="M266.5 817.4C266.5 817.4 268.2 827.8 269.5 832.5C270.9 837.2 272.1 842 274.6 845.6C277.1 849.1 279.7 852.3 284.6 853.6C289.6 855 309.8 855.1 309.8 855.1" fill="none" stroke="#f3974f" stroke-width="1.25"/>
<path d="M279.6 812.4C274.9 814.9 280.4 824 281.6 827.5C282.9 830.9 284.2 833.2 287.7 834.5C291.1 835.8 309.8 838 309.8 838L309.8 812.4C309.8 812.4 284.3 809.8 279.6 812.4Z" fill="#fb9d62" fill-opacity="0.3" stroke="#f3974f" stroke-width="1.25"/>
<path d="M233.3 822.4C233.2 820.1 234 817.4 235.3 814.4C236.7 811.3 240.4 803 244.4 797.3C248.4 791.6 254.5 784.7 259.5 780.2C264.5 775.6 270.8 772 274.6 770.1C278.3 768.2 282.5 765.1 284.6 767.1C286.8 769.1 287.7 776.3 287.7 782.2C287.7 788.1 286.8 797.3 284.6 802.3C282.5 807.3 278.8 809 274.6 812.4C270.4 815.7 264.5 819.6 259.5 822.4C254.5 825.3 247.5 828.6 244.4 829.5C241.3 830.3 238.2 829.6 236.3 828.5C234.5 827.3 233.5 824.8 233.3 822.4Z" fill="#cdcbe8" fill-opacity="0.75" stroke="#9d9aca" stroke-width="1.25"/>
<path d="M255.5 804.3C256 801.7 259.3 796.3 262.5 792.2C265.7 788.2 272 781.5 274.6 780.2C277.2 778.8 280.8 779.4 281.6 782.2C282.4 785 282.6 797.9 280.6 802.3C278.6 806.7 273.2 807 269.5 808.3C265.9 809.7 260.8 811 258.5 810.4C256.1 809.7 254.9 807 255.5 804.3Z" fill="#cdcbe8" fill-opacity="0.75" stroke="#9d9aca" stroke-width="1.25"/>
<path d="M274.6 776.1C274.6 776.1 264.9 789 262.5 794.3C260.1 799.5 262.2 804.5 259.5 808.3C256.8 812.2 248.1 815.1 246.4 817.4C244.7 819.7 245.2 823.9 247.4 824.4C249.6 824.9 256.5 821.7 259.5 820.4C262.5 819.2 266.5 816.4 266.5 816.4" fill="none" stroke="#f3974f" stroke-width="1.4"/>
<path d="M279.6 782.2C274.9 779.2 279.9 771.3 281.6 767.1C283.3 762.9 285 759 289.7 757C294.4 755 309.8 755 309.8 755L309.8 785.2C309.8 785.2 284.3 785.2 279.6 782.2Z" fill="#cfcdea" fill-opacity="0.75" stroke="#6a51a3" stroke-width="1.1"/>
<path d="M284.6 780.2C280.8 777.7 282.5 770.3 286.6 767.1C290.8 763.9 309.8 761.1 309.8 761.1L309.8 782.2C309.8 782.2 288.5 782.7 284.6 780.2Z" fill="#aaa6d9" fill-opacity="0.75" stroke="#6a51a3" stroke-width="1.02"/>
<path d="M287.7 780.2C287.7 780.2 285.1 771.7 288.7 769.1C292.3 766.5 309.8 764.1 309.8 764.1" fill="none" stroke="#96482a" stroke-width="0.72"/>
<path d="M289.7 778.2C287 777.1 288.1 772.3 290.7 771.1C293.3 769.9 309.8 769.1 309.8 769.1L309.8 779.2C309.8 779.2 292.3 779.3 289.7 778.2Z" fill="#7f78c4" fill-opacity="0.85"/>
<path d="M298.7 795.3L297.2 801.5C297.2 801.5 294.6 805.1 292.9 806.2C291.3 807.2 289.1 807.8 287.2 807.8C285.2 807.8 283 807.2 281.4 806.2C279.7 805.1 278.1 803.4 277.1 801.5C276.2 799.7 275.6 797.4 275.6 795.3C275.6 793.2 276.2 790.8 277.1 789C278.1 787.2 279.7 785.4 281.4 784.4C283 783.3 285.2 782.7 287.2 782.7C289.1 782.7 291.3 783.3 292.9 784.4C294.6 785.4 297.2 789 297.2 789L298.7 795.3Z" fill="#3f007d" fill-opacity="0.07" stroke="#3f007d" stroke-width="1.27"/>
<path d="M297 795.7C297 795.7 296.4 799.7 295.6 801.3C294.7 803 293.3 804.5 291.8 805.5C290.3 806.4 288.3 807 286.5 807C284.8 807 282.8 806.4 281.3 805.5C279.8 804.5 278.4 803 277.5 801.3C276.7 799.7 276.1 797.5 276.1 795.7C276.1 793.8 276.7 791.6 277.5 790C278.4 788.4 279.8 786.8 281.3 785.9C282.8 784.9 284.8 784.3 286.5 784.3C288.3 784.3 290.3 784.9 291.8 785.9C293.3 786.8 294.7 788.4 295.6 790C296.4 791.6 297 795.7 297 795.7Z" fill="none" stroke="#96482a" stroke-width="0.9"/>
<path d="M299.9 795.3L298.2 802.2C298.2 802.2 295.4 806.1 293.5 807.2C291.7 808.4 289.3 809.1 287.2 809.1C285 809.1 282.6 808.4 280.8 807.2C279 806.1 277.2 804.2 276.1 802.2C275.1 800.2 274.4 797.6 274.4 795.3C274.4 793 275.1 790.3 276.1 788.3C277.2 786.3 279 784.4 280.8 783.3C282.6 782.1 285 781.4 287.2 781.4C289.3 781.4 291.7 782.1 293.5 783.3C295.4 784.4 298.2 788.3 298.2 788.3L299.9 795.3Z" fill="none" stroke="#6a51a3" stroke-width="0.9"/>
<path d="M295.2 794.8C295.2 796.2 294.8 797.8 294.1 799C293.5 800.3 292.3 801.5 291.2 802.2C290 802.9 288.5 803.3 287.2 803.3C285.8 803.3 284.3 802.9 283.1 802.2C282 801.5 280.9 800.3 280.2 799C279.5 797.8 279.1 796.2 279.1 794.8C279.1 793.3 279.5 791.7 280.2 790.5C280.9 789.2 282 788.1 283.1 787.4C284.3 786.6 285.8 786.2 287.2 786.2C288.5 786.2 290 786.6 291.2 787.4C292.3 788.1 293.5 789.2 294.1 790.5C294.8 791.7 295.2 793.3 295.2 794.8Z" fill="#3f007d" fill-opacity="0.07" stroke="#3f007d" stroke-width="1.27"/>
<path d="M293.8 795.2C293.8 796.4 293.4 797.9 292.8 799C292.2 800.1 291.2 801.2 290.2 801.8C289.1 802.5 287.8 802.9 286.5 802.9C285.3 802.9 284 802.5 282.9 801.8C281.9 801.2 280.9 800.1 280.3 799C279.7 797.9 279.3 796.4 279.3 795.2C279.3 793.9 279.7 792.4 280.3 791.3C280.9 790.2 281.9 789.1 282.9 788.5C284 787.9 285.3 787.5 286.5 787.5C287.8 787.5 289.1 787.9 290.2 788.5C291.2 789.1 292.2 790.2 292.8 791.3C293.4 792.4 293.8 793.9 293.8 795.2Z" fill="none" stroke="#96482a" stroke-width="0.9"/>
<path d="M296 794.8C296 796.3 295.6 798.1 294.8 799.5C294.1 800.8 292.9 802.1 291.6 802.9C290.3 803.7 288.6 804.2 287.2 804.2C285.7 804.2 284 803.7 282.7 802.9C281.4 802.1 280.2 800.8 279.5 799.5C278.7 798.1 278.3 796.3 278.3 794.8C278.3 793.2 278.7 791.4 279.5 790.1C280.2 788.7 281.4 787.4 282.7 786.6C284 785.8 285.7 785.4 287.2 785.4C288.6 785.4 290.3 785.8 291.6 786.6C292.9 787.4 294.1 788.7 294.8 790.1C295.6 791.4 296 793.2 296 794.8Z" fill="none" stroke="#6a51a3" stroke-width="0.9"/>
<path d="M290.7 794.3C290.7 795 290.5 795.9 290.1 796.5C289.8 797.2 289.2 797.8 288.7 798.2C288.1 798.6 287.3 798.8 286.6 798.8C286 798.8 285.2 798.6 284.6 798.2C284.1 797.8 283.5 797.2 283.2 796.5C282.8 795.9 282.6 795 282.6 794.3C282.6 793.5 282.8 792.6 283.2 792C283.5 791.3 284.1 790.7 284.6 790.3C285.2 790 286 789.7 286.6 789.7C287.3 789.7 288.1 790 288.7 790.3C289.2 790.7 289.8 791.3 290.1 792C290.5 792.6 290.7 793.5 290.7 794.3Z" fill="#3f007d" fill-opacity="0.1" stroke="#3f007d" stroke-width="1.27"/>
<path d="M289.7 794.7C289.7 795.3 289.5 796.1 289.2 796.7C288.9 797.3 288.4 797.8 287.9 798.2C287.3 798.5 286.6 798.7 286 798.7C285.4 798.7 284.8 798.5 284.2 798.2C283.7 797.8 283.2 797.3 282.9 796.7C282.6 796.1 282.4 795.3 282.4 794.7C282.4 794 282.6 793.2 282.9 792.6C283.2 792 283.7 791.5 284.2 791.1C284.8 790.8 285.4 790.6 286 790.6C286.6 790.6 287.3 790.8 287.9 791.1C288.4 791.5 288.9 792 289.2 792.6C289.5 793.2 289.7 794 289.7 794.7Z" fill="none" stroke="#96482a" stroke-width="0.9"/>
<path d="M291.1 794.3C291.1 795.1 290.9 796 290.5 796.7C290.1 797.5 289.5 798.2 288.9 798.6C288.2 799 287.4 799.2 286.6 799.2C285.9 799.2 285.1 799 284.4 798.6C283.8 798.2 283.2 797.5 282.8 796.7C282.4 796 282.2 795.1 282.2 794.3C282.2 793.4 282.4 792.5 282.8 791.8C283.2 791 283.8 790.4 284.4 789.9C285.1 789.5 285.9 789.3 286.6 789.3C287.4 789.3 288.2 789.5 288.9 789.9C289.5 790.4 290.1 791 290.5 791.8C290.9 792.5 291.1 793.4 291.1 794.3Z" fill="none" stroke="#6a51a3" stroke-width="0.9"/>
<path d="M283.6 808.3C283.6 808.3 285.4 814.4 288.7 815.4C292 816.4 309.8 816.4 309.8 816.4" fill="none" stroke="#d9560f" stroke-width="0.85"/></g>
<clipPath id="c62"><rect x="300.9" y="752.1" width="115.7" height="115.7"/></clipPath><g clip-path="url(#c62)"><path d="M386.5 777.2C388.7 777.2 392.7 787.2 396.6 792.2C400.4 797.3 403.8 802.3 409.7 807.3C415.5 812.4 431.8 822.4 431.8 822.4L431.8 847.6C431.8 847.6 413.3 852.5 409.7 852.6C406.1 852.7 404 851.3 401.6 848.6C399.2 845.9 394.9 837.7 391.5 832.5C388.2 827.3 382.8 824.1 381.5 817.4C380.1 810.7 382.7 798.4 383.5 792.2C384.3 786.1 384.3 777.2 386.5 777.2Z" fill="#fbc4a0" fill-opacity="0.5" stroke="#f6ab72" stroke-width="1.25"/>
<path d="M387.5 797.3C389.2 795.1 393.4 801.5 396.6 804.3C399.8 807.2 404.3 810.5 406.6 814.4C409 818.2 410.7 823.4 410.7 827.5C410.7 831.5 409 838 406.6 838.5C404.3 839 399.9 834 396.6 830.5C393.2 827 388 822.9 386.5 817.4C385 811.9 385.8 799.5 387.5 797.3Z" fill="#fb9d62" fill-opacity="0.35" stroke="#f3974f" stroke-width="1.25"/>
<path d="M388.5 802.3C388.9 800.8 391.4 802.8 392 804.3C392.7 805.8 393.4 811 393.1 812.4C392.7 813.8 390.1 814.7 389.5 813.4C388.9 812 388.1 803.8 388.5 802.3Z" fill="#f9964a" fill-opacity="0.85"/>
<path d="M350.3 792.2C347.1 794.9 351 804.5 352.3 808.3C353.6 812.2 356 815 358.3 816.4C360.7 817.7 364.4 817.7 366.4 816.4C368.4 815 369.7 811.9 370.4 808.3C371.2 804.8 374.8 794.9 371.4 792.2C368.1 789.6 353.5 789.6 350.3 792.2Z" fill="#fdd8b3" fill-opacity="0.25" stroke="#d9560f" stroke-width="1.1"/>
<path d="M371.4 808.3C370.9 816.2 373 827.9 373.4 829.5C373.9 831.1 376.3 831.6 377.5 830.5C378.6 829.3 381 824.7 382.5 820.4C384 816.2 386.9 808.7 387.5 802.3C388.2 795.9 388.4 785.5 386.5 782.2C384.7 778.8 378.5 778.7 376.5 782.2C374.4 785.7 371.9 800.5 371.4 808.3Z" fill="#cdcbe8" fill-opacity="0.75" stroke="#9d9aca" stroke-width="1.25"/>
<path d="M387 777.2C387 780.5 386 784.3 384.3 787.2C382.6 790.1 379.9 792.9 377 794.6C374.1 796.3 370.3 797.3 366.9 797.3C363.5 797.3 359.7 796.3 356.8 794.6C353.9 792.9 351.1 790.1 349.5 787.2C347.8 784.3 346.8 780.5 346.8 777.2C346.8 773.8 347.8 770 349.5 767.1C351.1 764.2 353.9 761.4 356.8 759.7C359.7 758 363.5 757 366.9 757C370.3 757 374.1 758 377 759.7C379.9 761.4 382.6 764.2 384.3 767.1C386 770 387 773.8 387 777.2Z" fill="#cfcdea" fill-opacity="0.75" stroke="#6a51a3" stroke-width="1.02"/>
<path d="M385.6 777.2C385.6 780.3 384.7 783.8 383.1 786.5C381.5 789.2 379 791.8 376.3 793.4C373.6 794.9 370 795.9 366.9 795.9C363.8 795.9 360.2 794.9 357.5 793.4C354.8 791.8 352.3 789.2 350.7 786.5C349.1 783.8 348.2 780.3 348.2 777.2C348.2 774 349.1 770.5 350.7 767.8C352.3 765.1 354.8 762.5 357.5 760.9C360.2 759.4 363.8 758.4 366.9 758.4C370 758.4 373.6 759.4 376.3 760.9C379 762.5 381.5 765.1 383.1 767.8C384.7 770.5 385.6 774 385.6 777.2Z" fill="none" stroke="#d9560f" stroke-width="0.8"/>
<path d="M383.4 777.2C383.4 779.9 382.6 783 381.2 785.4C379.8 787.8 377.5 790.1 375.1 791.4C372.8 792.8 369.6 793.7 366.9 793.7C364.1 793.7 361 792.8 358.6 791.4C356.3 790.1 354 787.8 352.6 785.4C351.2 783 350.4 779.9 350.4 777.2C350.4 774.4 351.2 771.3 352.6 768.9C354 766.5 356.3 764.2 358.6 762.9C361 761.5 364.1 760.7 366.9 760.7C369.6 760.7 372.8 761.5 375.1 762.9C377.5 764.2 379.8 766.5 381.2 768.9C382.6 771.3 383.4 774.4 383.4 777.2Z" fill="none" stroke="#fdd8b3" stroke-width="1.1"/>
<path d="M386.3 777.7C386.3 781 385.3 784.7 383.6 787.6C382 790.5 379.2 793.2 376.4 794.9C373.5 796.6 369.7 797.6 366.4 797.6C363.1 797.6 359.3 796.6 356.4 794.9C353.6 793.2 350.8 790.5 349.1 787.6C347.5 784.7 346.5 781 346.5 777.7C346.5 774.3 347.5 770.6 349.1 767.7C350.8 764.8 353.6 762.1 356.4 760.4C359.3 758.7 363.1 757.7 366.4 757.7C369.7 757.7 373.5 758.7 376.4 760.4C379.2 762.1 382 764.8 383.6 767.7C385.3 770.6 386.3 774.3 386.3 777.7Z" fill="none" stroke="#96482a" stroke-width="0.87"/>
<path d="M377.5 776.1C377.5 778.2 376.9 780.6 375.8 782.4C374.8 784.2 373.2 786 371.4 787C369.7 788.1 367.4 788.7 365.4 788.7C363.4 788.7 361.1 788.1 359.4 787C357.6 786 355.9 784.2 354.9 782.4C353.9 780.6 353.3 778.2 353.3 776.1C353.3 774 353.9 771.7 354.9 769.9C355.9 768 357.6 766.3 359.4 765.3C361.1 764.2 363.4 763.6 365.4 763.6C367.4 763.6 369.7 764.2 371.4 765.3C373.2 766.3 374.8 768 375.8 769.9C376.9 771.7 377.5 774 377.5 776.1Z" fill="#aaa6d9" fill-opacity="0.75" stroke="#6a51a3" stroke-width="1.02"/>
<path d="M376.6 776.1C376.6 778.1 376 780.3 375.1 782C374.2 783.7 372.6 785.3 371 786.3C369.4 787.2 367.3 787.8 365.4 787.8C363.5 787.8 361.4 787.2 359.8 786.3C358.2 785.3 356.6 783.7 355.7 782C354.7 780.3 354.2 778.1 354.2 776.1C354.2 774.2 354.7 772 355.7 770.3C356.6 768.6 358.2 767 359.8 766C361.4 765 363.5 764.5 365.4 764.5C367.3 764.5 369.4 765 371 766C372.6 767 374.2 768.6 375.1 770.3C376 772 376.6 774.2 376.6 776.1Z" fill="none" stroke="#d9560f" stroke-width="0.8"/>
<path d="M375.3 776.1C375.3 777.9 374.8 779.8 374 781.3C373.1 782.8 371.8 784.2 370.3 785.1C368.9 785.9 367 786.5 365.4 786.5C363.7 786.5 361.9 785.9 360.4 785.1C359 784.2 357.6 782.8 356.8 781.3C356 779.8 355.5 777.9 355.5 776.1C355.5 774.4 356 772.5 356.8 771C357.6 769.5 359 768.1 360.4 767.2C361.9 766.4 363.7 765.8 365.4 765.8C367 765.8 368.9 766.4 370.3 767.2C371.8 768.1 373.1 769.5 374 771C374.8 772.5 375.3 774.4 375.3 776.1Z" fill="none" stroke="#fdd8b3" stroke-width="1.1"/>
<path d="M376.9 776.5C376.9 778.6 376.3 780.9 375.3 782.7C374.3 784.5 372.6 786.2 370.9 787.2C369.2 788.2 367 788.8 365 788.8C363 788.8 360.8 788.2 359.1 787.2C357.3 786.2 355.7 784.5 354.7 782.7C353.7 780.9 353.1 778.6 353.1 776.5C353.1 774.5 353.7 772.2 354.7 770.4C355.7 768.6 357.3 766.9 359.1 765.9C360.8 764.9 363 764.3 365 764.3C367 764.3 369.2 764.9 370.9 765.9C372.6 766.9 374.3 768.6 375.3 770.4C376.3 772.2 376.9 774.5 376.9 776.5Z" fill="none" stroke="#96482a" stroke-width="0.87"/>
<path d="M370.6 776.1C370.6 777.2 370.4 778.3 369.9 779.2C369.5 780 368.8 780.9 368 781.4C367.2 781.9 366.3 782.2 365.4 782.2C364.5 782.2 363.5 781.9 362.8 781.4C362 780.9 361.3 780 360.9 779.2C360.4 778.3 360.2 777.2 360.2 776.1C360.2 775.1 360.4 774 360.9 773.1C361.3 772.3 362 771.4 362.8 770.9C363.5 770.4 364.5 770.1 365.4 770.1C366.3 770.1 367.2 770.4 368 770.9C368.8 771.4 369.5 772.3 369.9 773.1C370.4 774 370.6 775.1 370.6 776.1Z" fill="#7f78c4" fill-opacity="0.85"/>
<path d="M381.3 794.3C381.3 796.7 380.9 799.4 380.4 801.5C379.8 803.7 378.9 805.7 377.9 806.9C376.9 808.1 375.6 808.8 374.4 808.8C373.3 808.8 372 808.1 371 806.9C370 805.7 369.1 803.7 368.5 801.5C367.9 799.4 367.6 796.7 367.6 794.3C367.6 791.8 367.9 789.1 368.5 787C369.1 784.9 370 782.8 371 781.6C372 780.4 373.3 779.7 374.4 779.7C375.6 779.7 376.9 780.4 377.9 781.6C378.9 782.8 379.8 784.9 380.4 787C380.9 789.1 381.3 791.8 381.3 794.3Z" fill="#3f007d" fill-opacity="0.07" stroke="#3f007d" stroke-width="1.27"/>
<path d="M380 794.7C380 796.8 379.7 799.3 379.2 801.2C378.7 803.1 377.8 804.9 376.9 806C376 807.1 374.9 807.8 373.8 807.8C372.8 807.8 371.6 807.1 370.8 806C369.9 804.9 369 803.1 368.5 801.2C368 799.3 367.7 796.8 367.7 794.7C367.7 792.5 368 790 368.5 788.1C369 786.2 369.9 784.4 370.8 783.3C371.6 782.2 372.8 781.5 373.8 781.5C374.9 781.5 376 782.2 376.9 783.3C377.8 784.4 378.7 786.2 379.2 788.1C379.7 790 380 792.5 380 794.7Z" fill="none" stroke="#96482a" stroke-width="0.9"/>
<path d="M382 794.3C382 796.9 381.6 800 381 802.3C380.3 804.6 379.3 806.8 378.2 808.2C377.1 809.5 375.7 810.3 374.4 810.3C373.2 810.3 371.8 809.5 370.7 808.2C369.6 806.8 368.6 804.6 367.9 802.3C367.3 800 366.9 796.9 366.9 794.3C366.9 791.6 367.3 788.5 367.9 786.2C368.6 783.9 369.6 781.7 370.7 780.4C371.8 779 373.2 778.2 374.4 778.2C375.7 778.2 377.1 779 378.2 780.4C379.3 781.7 380.3 783.9 381 786.2C381.6 788.5 382 791.6 382 794.3Z" fill="none" stroke="#6a51a3" stroke-width="0.9"/>
<path d="M379.1 794.3C379.1 795.9 378.8 797.8 378.5 799.3C378.1 800.7 377.4 802.1 376.8 803C376.1 803.8 375.2 804.3 374.4 804.3C373.7 804.3 372.8 803.8 372.1 803C371.5 802.1 370.8 800.7 370.4 799.3C370 797.8 369.8 795.9 369.8 794.3C369.8 792.6 370 790.7 370.4 789.2C370.8 787.8 371.5 786.4 372.1 785.5C372.8 784.7 373.7 784.2 374.4 784.2C375.2 784.2 376.1 784.7 376.8 785.5C377.4 786.4 378.1 787.8 378.5 789.2C378.8 790.7 379.1 792.6 379.1 794.3Z" fill="#3f007d" fill-opacity="0.07" stroke="#3f007d" stroke-width="1.27"/>
<path d="M378 794.7C378 796.2 377.8 797.9 377.4 799.2C377.1 800.5 376.5 801.7 375.9 802.5C375.3 803.3 374.5 803.7 373.8 803.7C373.1 803.7 372.4 803.3 371.8 802.5C371.2 801.7 370.6 800.5 370.2 799.2C369.9 797.9 369.7 796.2 369.7 794.7C369.7 793.1 369.9 791.4 370.2 790.1C370.6 788.8 371.2 787.6 371.8 786.8C372.4 786.1 373.1 785.6 373.8 785.6C374.5 785.6 375.3 786.1 375.9 786.8C376.5 787.6 377.1 788.8 377.4 790.1C377.8 791.4 378 793.1 378 794.7Z" fill="none" stroke="#96482a" stroke-width="0.9"/>
<path d="M379.5 794.3C379.5 796.1 379.3 798.2 378.9 799.8C378.4 801.4 377.7 802.9 377 803.8C376.3 804.8 375.3 805.3 374.4 805.3C373.6 805.3 372.6 804.8 371.9 803.8C371.2 802.9 370.5 801.4 370 799.8C369.6 798.2 369.4 796.1 369.4 794.3C369.4 792.4 369.6 790.3 370 788.7C370.5 787.1 371.2 785.6 371.9 784.7C372.6 783.7 373.6 783.2 374.4 783.2C375.3 783.2 376.3 783.7 377 784.7C377.7 785.6 378.4 787.1 378.9 788.7C379.3 790.3 379.5 792.4 379.5 794.3Z" fill="none" stroke="#6a51a3" stroke-width="0.9"/>
<path d="M376.9 794.3C376.9 795.2 376.7 796.2 376.5 797C376.3 797.8 376 798.6 375.7 799C375.3 799.5 374.8 799.8 374.4 799.8C374 799.8 373.6 799.5 373.2 799C372.9 798.6 372.6 797.8 372.4 797C372.2 796.2 372 795.2 372 794.3C372 793.3 372.2 792.3 372.4 791.5C372.6 790.7 372.9 789.9 373.2 789.5C373.6 789 374 788.7 374.4 788.7C374.8 788.7 375.3 789 375.7 789.5C376 789.9 376.3 790.7 376.5 791.5C376.7 792.3 376.9 793.3 376.9 794.3Z" fill="#3f007d" fill-opacity="0.1" stroke="#3f007d" stroke-width="1.27"/>
<path d="M376 794.7C376 795.5 375.9 796.4 375.7 797.1C375.5 797.9 375.2 798.6 374.9 799C374.6 799.4 374.2 799.6 373.8 799.6C373.5 799.6 373.1 799.4 372.8 799C372.4 798.6 372.1 797.9 372 797.1C371.8 796.4 371.7 795.5 371.7 794.7C371.7 793.8 371.8 792.9 372 792.2C372.1 791.4 372.4 790.8 372.8 790.3C373.1 789.9 373.5 789.7 373.8 789.7C374.2 789.7 374.6 789.9 374.9 790.3C375.2 790.8 375.5 791.4 375.7 792.2C375.9 792.9 376 793.8 376 794.7Z" fill="none" stroke="#96482a" stroke-width="0.9"/>
<path d="M377.1 794.3C377.1 795.3 377 796.4 376.7 797.3C376.5 798.2 376.1 799 375.8 799.5C375.4 800 374.9 800.3 374.4 800.3C374 800.3 373.5 800 373.1 799.5C372.7 799 372.4 798.2 372.1 797.3C371.9 796.4 371.8 795.3 371.8 794.3C371.8 793.2 371.9 792.1 372.1 791.2C372.4 790.3 372.7 789.5 373.1 789C373.5 788.5 374 788.2 374.4 788.2C374.9 788.2 375.4 788.5 375.8 789C376.1 789.5 376.5 790.3 376.7 791.2C377 792.1 377.1 793.2 377.1 794.3Z" fill="none" stroke="#6a51a3" stroke-width="0.9"/></g>
<clipPath id="c63"><rect x="422.4" y="752.1" width="115.7" height="115.7"/></clipPath><g clip-path="url(#c63)"><path d="M406.9 807.3C406.9 807.3 504.4 792.5 509.5 792.2C514.7 792 515.6 798.9 517.6 802.3C519.6 805.7 523.4 813.9 524.6 817.4C525.8 820.9 527.2 825.6 526.6 828.5C526.1 831.3 523.1 836.4 520.6 838.5C518 840.7 512.6 843.4 507.5 844.6C502.4 845.8 491.1 847.3 482.4 847.6C473.6 847.8 452.2 847 442.1 846.6C432.1 846.2 406.9 844.6 406.9 844.6L406.9 807.3Z" fill="#fbc4a0" fill-opacity="0.55" stroke="#f6ab72" stroke-width="1.25"/>
<path d="M406.9 812.4C406.9 812.4 496.5 795.6 500.5 795.3C504.4 794.9 503.8 800.6 504.5 804.3C505.2 808 506.5 813.7 504.5 817.4C502.5 821.1 497.8 824.1 492.4 826.4C487.1 828.8 479.8 830.5 472.3 831.5C464.8 832.5 457.2 832.9 447.2 832.5C437.1 832 406.9 828.5 406.9 828.5L406.9 812.4Z" fill="#fb9d62" fill-opacity="0.3" stroke="#f3974f" stroke-width="1.25"/>
<path d="M406.9 758C406.9 758 476 758.6 482.4 759C488.7 759.5 493.4 761.1 497.5 764.1C501.5 767.1 504.7 772.8 506.5 777.2C508.4 781.5 508.8 788 508.5 790.2C508.3 792.5 506 792.6 504.5 794.3C503 795.9 499.5 799.3 497.5 802.3C495.4 805.3 494.1 809.3 492.4 812.4C490.7 815.4 490.5 818.2 487.4 820.4C484.3 822.6 478.6 825 472.3 826.4C466 827.9 457.3 829.5 447.2 829.5C437 829.5 406.9 826.4 406.9 826.4L406.9 758Z" fill="#dcdaf0" fill-opacity="0.5" stroke="#9d9aca" stroke-width="1.25"/>
<path d="M406.9 758.5C406.9 758.5 464.1 758.2 472.3 758.5C480.5 758.9 487.8 760.4 492.4 762.1C497.1 763.7 500.1 766.4 502.5 769.1C504.8 771.8 506.2 775.3 506.5 778.2C506.8 781 505.8 783.9 504.5 786.2C503.2 788.6 499.8 789.2 498.5 792.2C497.1 795.3 498.3 801 496.4 804.3C494.6 807.7 492.1 811.1 487.4 812.4C482.7 813.6 472.3 813.5 462.2 813.4C452.2 813.2 406.9 811.4 406.9 811.4L406.9 758.5Z" fill="#cfcdea" fill-opacity="0.75" stroke="#6a51a3" stroke-width="1.1"/>
<path d="M411.7 760.5C411.7 760.5 465 760.2 472.6 760.5C480.2 760.8 487 762.2 491.3 763.7C495.6 765.2 498.5 767.8 500.6 770.3C502.8 772.8 504.1 776.1 504.4 778.7C504.7 781.4 503.8 784 502.5 786.2C501.3 788.4 498.1 789 496.9 791.8C495.6 794.6 496.7 799.9 495 803C493.3 806.2 491 809.4 486.6 810.5C482.2 811.7 472.6 811.6 463.2 811.5C453.8 811.3 411.7 809.6 411.7 809.6L411.7 760.5Z" fill="none" stroke="#d9560f" stroke-width="0.8"/>
<path d="M419.4 763.5C419.4 763.5 466.3 763.2 473 763.5C479.7 763.8 485.7 765 489.5 766.4C493.3 767.7 495.8 769.9 497.7 772.1C499.7 774.3 500.8 777.2 501 779.6C501.3 781.9 500.5 784.2 499.4 786.2C498.3 788.1 495.5 788.6 494.4 791.1C493.3 793.6 494.3 798.3 492.8 801C491.3 803.8 489.2 806.6 485.4 807.6C481.5 808.6 473 808.6 464.7 808.4C456.5 808.3 419.4 806.8 419.4 806.8L419.4 763.5Z" fill="none" stroke="#fdd8b3" stroke-width="1.1"/>
<path d="M407.2 759C407.2 759 464.4 758.7 472.6 759C480.8 759.4 488.1 760.9 492.7 762.6C497.4 764.2 500.4 766.9 502.8 769.6C505.1 772.3 506.5 775.8 506.8 778.7C507.1 781.5 506.1 784.4 504.8 786.7C503.5 789.1 500.1 789.7 498.8 792.7C497.4 795.8 498.6 801.5 496.8 804.8C494.9 808.2 492.4 811.6 487.7 812.9C483 814.1 472.6 814 462.5 813.9C452.5 813.7 407.2 811.9 407.2 811.9L407.2 759Z" fill="none" stroke="#96482a" stroke-width="0.87"/>
<path d="M406.9 765.1C406.9 765.1 464.8 764.6 472.3 765.1C479.8 765.5 486.9 768.2 490.4 770.1C494 772 496.1 775.6 496.4 778.2C496.8 780.7 494.7 782.9 492.4 785.2C490.1 787.5 487.2 791.3 482.4 792.2C477.5 793.2 406.9 802.3 406.9 802.3L406.9 765.1Z" fill="#aaa6d9" fill-opacity="0.75" stroke="#6a51a3" stroke-width="1.1"/>
<path d="M410.9 766.1C410.9 766.1 464.7 765.7 471.7 766.1C478.7 766.5 485.3 769 488.6 770.8C491.9 772.6 493.9 775.9 494.2 778.3C494.5 780.6 492.6 782.7 490.4 784.8C488.3 787 485.6 790.5 481.1 791.4C476.6 792.3 410.9 800.7 410.9 800.7L410.9 766.1Z" fill="none" stroke="#d9560f" stroke-width="0.8"/>
<path d="M417.2 767.7C417.2 767.7 464.6 767.3 470.8 767.7C477 768.1 482.8 770.3 485.7 771.8C488.6 773.4 490.3 776.4 490.6 778.4C490.9 780.5 489.2 782.3 487.3 784.2C485.4 786.1 483 789.2 479.1 790C475.1 790.8 417.2 798.2 417.2 798.2L417.2 767.7Z" fill="none" stroke="#fdd8b3" stroke-width="1.1"/>
<path d="M407.2 764.5C407.2 764.5 465.1 764 472.6 764.5C480.1 764.9 487.2 767.6 490.7 769.5C494.3 771.4 496.4 775 496.8 777.6C497.1 780.1 495 782.3 492.7 784.6C490.4 786.9 487.5 790.7 482.7 791.6C477.8 792.6 407.2 801.7 407.2 801.7L407.2 764.5Z" fill="none" stroke="#d9560f" stroke-width="1.02"/>
<path d="M406.9 772.1C406.9 772.1 469.2 772.9 472.3 773.1C475.4 773.4 478.3 776.6 478.3 778.2C478.3 779.7 475.2 782.1 472.3 782.2C469.4 782.3 406.9 781.2 406.9 781.2L406.9 772.1Z" fill="#aaa6d9" fill-opacity="0.75" stroke="#6a51a3" stroke-width="0.85"/>
<path d="M406.9 809.8C406.9 809.8 452.2 811.7 462.2 811.9C472.3 812 483.2 812.3 487.4 811.4C491.6 810.4 495.4 804.3 495.4 804.3" fill="none" stroke="#d9560f" stroke-width="1.19"/>
<path d="M495.4 794.3C495.4 796.1 492 798.6 488.7 799.9C485.4 801.2 477.6 803.1 470.3 804C463 805 453.5 805.5 445.1 805.5C436.8 805.5 420 804 420 804L401.6 799.9L394.8 794.3L401.6 788.6L420 784.5C420 784.5 436.8 783 445.1 783C453.5 783 463 783.6 470.3 784.5C477.6 785.4 485.4 787.4 488.7 788.6C492 789.9 495.4 792.4 495.4 794.3Z" fill="#3f007d" fill-opacity="0.07" stroke="#3f007d" stroke-width="1.36"/>
<path d="M489.8 794.7C489.8 796.3 486.7 798.6 483.7 799.7C480.8 800.9 473.7 802.6 467.2 803.4C460.6 804.3 452.1 804.8 444.5 804.8C437 804.8 428.4 804.3 421.9 803.4C415.4 802.6 405.3 799.7 405.3 799.7L399.3 794.7L405.3 789.6C405.3 789.6 415.4 786.7 421.9 785.9C428.4 785 437 784.5 444.5 784.5C452.1 784.5 460.6 785 467.2 785.9C473.7 786.7 480.8 788.4 483.7 789.6C486.7 790.7 489.8 793 489.8 794.7Z" fill="none" stroke="#96482a" stroke-width="0.9"/>
<path d="M500.5 794.3C500.5 796.3 496.7 799.1 493.1 800.5C489.5 801.9 480.8 804 472.8 805C464.8 806 454.4 806.6 445.1 806.6C435.9 806.6 417.5 805 417.5 805L397.2 800.5L389.8 794.3L397.2 788.1L417.5 783.5C417.5 783.5 435.9 781.9 445.1 781.9C454.4 781.9 464.8 782.5 472.8 783.5C480.8 784.6 489.5 786.7 493.1 788.1C496.7 789.5 500.5 792.2 500.5 794.3Z" fill="none" stroke="#6a51a3" stroke-width="0.9"/>
<path d="M483.4 794.3C483.4 795.6 480.7 797.3 478.2 798.2C475.8 799 469.8 800.4 464.3 801.1C458.7 801.7 451.5 802.1 445.1 802.1C438.8 802.1 431.5 801.7 426 801.1C420.5 800.4 412 798.2 412 798.2L406.9 794.3L412 790.3C412 790.3 420.5 788.1 426 787.5C431.5 786.8 438.8 786.4 445.1 786.4C451.5 786.4 458.7 786.8 464.3 787.5C469.8 788.1 475.8 789.5 478.2 790.3C480.7 791.2 483.4 792.9 483.4 794.3Z" fill="#3f007d" fill-opacity="0.07" stroke="#3f007d" stroke-width="1.36"/>
<path d="M478.9 794.7C478.9 795.8 476.5 797.4 474.3 798.2C472.1 799 466.7 800.2 461.7 800.8C456.8 801.4 450.3 801.7 444.5 801.7C438.8 801.7 432.3 801.4 427.3 800.8C422.4 800.2 414.7 798.2 414.7 798.2L410.1 794.7L414.7 791.1C414.7 791.1 422.4 789.1 427.3 788.5C432.3 788 438.8 787.6 444.5 787.6C450.3 787.6 456.8 788 461.7 788.5C466.7 789.1 472.1 790.3 474.3 791.1C476.5 791.9 478.9 793.5 478.9 794.7Z" fill="none" stroke="#96482a" stroke-width="0.9"/>
<path d="M487.2 794.3C487.2 795.7 484.2 797.6 481.6 798.6C478.9 799.5 472.2 801 466.2 801.7C460.1 802.4 452.1 802.9 445.1 802.9C438.1 802.9 430.2 802.4 424.1 801.7C418 801 408.7 798.6 408.7 798.6L403.1 794.3L408.7 789.9C408.7 789.9 418 787.5 424.1 786.8C430.2 786.1 438.1 785.6 445.1 785.6C452.1 785.6 460.1 786.1 466.2 786.8C472.2 787.5 478.9 789 481.6 789.9C484.2 790.9 487.2 792.8 487.2 794.3Z" fill="none" stroke="#6a51a3" stroke-width="0.9"/>
<path d="M489.4 794.8C489.4 796.4 486.3 798.5 483.5 799.5C480.6 800.6 473.7 802.2 467.3 803C460.9 803.8 452.5 804.3 445.1 804.3C437.8 804.3 429.4 803.8 423 803C416.6 802.2 406.8 799.5 406.8 799.5L400.9 794.8L406.8 790C406.8 790 416.6 787.3 423 786.5C429.4 785.7 437.8 785.2 445.1 785.2C452.5 785.2 460.9 785.7 467.3 786.5C473.7 787.3 480.6 788.9 483.5 790C486.3 791 489.4 793.2 489.4 794.8Z" fill="none" stroke="#96482a" stroke-width="0.94"/>
<path d="M469.8 794.8C469.8 795.5 468.1 796.4 466.6 796.9C465.2 797.3 461.4 798.1 458 798.4C454.6 798.8 450.1 799 446.1 799C442.2 799 437.7 798.8 434.3 798.4C430.9 798.1 427.1 797.3 425.7 796.9C424.2 796.4 422.5 795.5 422.5 794.8C422.5 794.1 424.2 793.1 425.7 792.6C427.1 792.2 430.9 791.5 434.3 791.1C437.7 790.7 442.2 790.5 446.1 790.5C450.1 790.5 454.6 790.7 458 791.1C461.4 791.5 465.2 792.2 466.6 792.6C468.1 793.1 469.8 794.1 469.8 794.8Z" fill="#3f007d" fill-opacity="0.1" stroke="#3f007d" stroke-width="1.36"/>
<path d="M466.8 795.2C466.8 795.8 465.3 796.7 464 797.1C462.7 797.5 459.3 798.1 456.2 798.5C453.1 798.8 449.1 799 445.5 799C442 799 438 798.8 434.9 798.5C431.8 798.1 428.4 797.5 427.1 797.1C425.8 796.7 424.3 795.8 424.3 795.2C424.3 794.5 425.8 793.7 427.1 793.3C428.4 792.9 431.8 792.2 434.9 791.9C438 791.6 442 791.4 445.5 791.4C449.1 791.4 453.1 791.6 456.2 791.9C459.3 792.2 462.7 792.9 464 793.3C465.3 793.7 466.8 794.5 466.8 795.2Z" fill="none" stroke="#96482a" stroke-width="0.9"/>
<path d="M472.2 794.8C472.2 795.5 470.3 796.6 468.7 797.1C467.1 797.6 462.9 798.4 459.1 798.8C455.4 799.2 450.5 799.4 446.1 799.4C441.8 799.4 436.9 799.2 433.1 798.8C429.4 798.4 425.2 797.6 423.6 797.1C422 796.6 420.1 794.8 420.1 794.8C420.1 794.8 422 792.9 423.6 792.4C425.2 791.9 429.4 791.1 433.1 790.7C436.9 790.3 441.8 790.1 446.1 790.1C450.5 790.1 455.4 790.3 459.1 790.7C462.9 791.1 467.1 791.9 468.7 792.4C470.3 792.9 472.2 794 472.2 794.8Z" fill="none" stroke="#6a51a3" stroke-width="0.9"/>
<path d="M468.3 795.1C468.3 795.4 466.7 795.9 465.6 796.2C464.4 796.4 461.1 796.8 458.2 797C455.3 797.2 451.5 797.3 448.2 797.3C444.8 797.3 441 797.2 438.1 797C435.2 796.8 431.9 796.4 430.7 796.2C429.6 795.9 428 795.4 428 795.1C428 794.7 429.6 794.2 430.7 794C431.9 793.7 435.2 793.3 438.1 793.1C441 793 444.8 792.8 448.2 792.8C451.5 792.8 455.3 793 458.2 793.1C461.1 793.3 464.4 793.7 465.6 794C466.7 794.2 468.3 794.7 468.3 795.1Z" fill="#d9560f" fill-opacity="0.6" stroke="#d9560f" stroke-width="0.85"/></g>
<clipPath id="c64"><rect x="544" y="752.1" width="115.7" height="115.7"/></clipPath><g clip-path="url(#c64)"><path d="M528.9 799.3C528.9 799.3 587.7 798.7 594.3 799.3C600.9 799.9 607.2 804.5 609.4 806.3C611.6 808.1 614.4 815.8 616.4 817.4C618.4 819 627.2 820.4 629.5 822.4C631.8 824.4 637.6 834.7 639.6 837.5C641.6 840.3 646.1 849.1 649.6 850.6C653.2 852.1 674.8 852.6 674.8 852.6L674.8 799.3C674.8 799.3 648.6 787.9 644.6 787.2C640.6 786.5 639 791.8 634.5 792.2C630.1 792.7 528.9 799.3 528.9 799.3Z" fill="#fbc4a0" fill-opacity="0.5" stroke="#f6ab72" stroke-width="1.25"/>
<path d="M639.6 812.4C641.4 811.2 646 816.1 650.6 817.4C655.3 818.7 674.8 822.4 674.8 822.4L674.8 838.5C674.8 838.5 655.2 837.7 649.6 835.5C644.1 833.3 641.3 828.3 639.6 824.4C637.9 820.6 637.7 813.5 639.6 812.4Z" fill="#fb9d62" fill-opacity="0.4" stroke="#f3974f" stroke-width="1.25"/>
<path d="M528.9 792.2C528.9 792.2 589.4 791.8 594.3 792.2C599.2 792.7 608.7 798.8 604.4 799.3C600 799.8 528.9 799.3 528.9 799.3L528.9 792.2Z" fill="#dcdbe9" fill-opacity="0.75"/>
<path d="M651.1 802.3C651.1 806.7 650.1 811.6 648.4 815.4C646.7 819.2 643.8 822.8 640.8 825C637.9 827.1 634 828.5 630.5 828.5C627.1 828.5 623.2 827.1 620.2 825C617.2 822.8 614.4 819.2 612.7 815.4C610.9 811.6 609.9 806.7 609.9 802.3C609.9 797.9 610.9 793 612.7 789.2C614.4 785.4 617.2 781.8 620.2 779.7C623.2 777.5 627.1 776.1 630.5 776.1C634 776.1 637.9 777.5 640.8 779.7C643.8 781.8 646.7 785.4 648.4 789.2C650.1 793 651.1 797.9 651.1 802.3Z" fill="#cdcbe8" fill-opacity="0.75" stroke="#9d9aca" stroke-width="1.25"/>
<path d="M528.9 761.1C528.9 761.1 576.7 760.2 584.2 760C591.8 759.8 600.3 759.2 604.4 759C608.4 758.8 621.2 757.6 624.5 758C627.8 758.4 635.7 761.7 637.6 763.1C639.5 764.5 643 769.7 643.6 772.1C644.2 774.5 644 784.7 643.6 787.2C643.2 789.7 641.5 794.8 639.6 797.3C637.7 799.8 627 811.3 624.5 812.4C622 813.5 616.2 809.9 614.4 808.3C612.6 806.7 608.4 798 606.4 796.3C604.4 794.6 597.5 791.9 594.3 791.2C591.1 790.5 580.7 789.3 574.2 789.2C567.6 789.1 528.9 790.2 528.9 790.2L528.9 761.1Z" fill="#cfcdea" fill-opacity="0.75" stroke="#6a51a3" stroke-width="1.1"/>
<path d="M534.1 762.5C534.1 762.5 578.6 761.8 585.6 761.6C592.6 761.4 600.6 760.8 604.3 760.6C608 760.4 619.9 759.3 623 759.7C626.1 760.1 633.4 763.1 635.2 764.4C637 765.7 640.2 770.6 640.8 772.8C641.4 775 641.2 784.5 640.8 786.8C640.4 789.2 638.8 793.9 637.1 796.2C635.3 798.5 625.4 809.2 623 810.2C620.7 811.3 615.3 808 613.7 806.5C612 805 608 796.8 606.2 795.3C604.3 793.7 597.9 791.2 594.9 790.6C592 789.9 582.3 788.8 576.2 788.7C570.2 788.6 534.1 789.6 534.1 789.6L534.1 762.5Z" fill="none" stroke="#d9560f" stroke-width="0.8"/>
<path d="M542.3 764.8C542.3 764.8 581.5 764.1 587.7 764C593.9 763.8 600.9 763.3 604.2 763.1C607.5 763 618 762 620.7 762.3C623.4 762.6 629.9 765.3 631.4 766.4C633 767.6 635.9 771.9 636.4 773.9C636.9 775.8 636.7 784.2 636.4 786.2C636.1 788.3 634.7 792.4 633.1 794.5C631.5 796.6 622.8 806 620.7 806.9C618.6 807.8 613.9 804.9 612.5 803.6C611 802.2 607.5 795.1 605.9 793.7C604.2 792.3 598.6 790.1 596 789.5C593.3 789 584.8 788 579.5 787.9C574.1 787.8 542.3 788.7 542.3 788.7L542.3 764.8Z" fill="none" stroke="#fdd8b3" stroke-width="1.1"/>
<path d="M528.9 761.8C528.9 761.8 576.7 761 584.2 760.8C591.8 760.6 600.3 759.9 604.4 759.7C608.4 759.5 621.2 758.3 624.5 758.7C627.8 759.1 635.7 762.4 637.6 763.8C639.5 765.2 643 770.4 643.6 772.8C644.2 775.2 644 785.4 643.6 787.9C643.2 790.4 641.5 795.5 639.6 798C637.7 800.5 627 812 624.5 813.1C622 814.2 616.2 810.7 614.4 809C612.6 807.4 608.4 798.7 606.4 797C604.4 795.3 597.5 792.6 594.3 791.9C591.1 791.2 580.7 790 574.2 789.9C567.6 789.8 528.9 790.9 528.9 790.9L528.9 761.8Z" fill="none" stroke="#d9560f" stroke-width="1.1"/>
<path d="M528.9 772.1C528.9 772.1 567.6 769.6 574.2 769.1C580.7 768.6 590.3 767.6 594.3 767.1C598.3 766.6 610.9 764.3 614.4 764.1C617.9 763.9 627 764.3 629.5 765.1C632 765.9 638.5 770.4 639.6 772.1C640.7 773.8 641.1 780.5 640.6 782.2C640.1 783.9 637.2 788.2 634.5 789.2C631.9 790.2 617.2 792.6 614.4 792.2C611.6 791.8 608.4 786.3 606.4 785.2C604.4 784.1 597.5 781.7 594.3 781.2C591.1 780.7 580.7 780.5 574.2 780.2C567.6 779.9 528.9 778.2 528.9 778.2L528.9 772.1Z" fill="#aaa6d9" fill-opacity="0.75" stroke="#6a51a3" stroke-width="1.1"/>
<path d="M533.7 772.4C533.7 772.4 569.8 770.1 575.9 769.6C581.9 769.2 590.8 768.2 594.6 767.8C598.3 767.3 610 765.1 613.3 765C616.6 764.8 625 765.1 627.3 765.9C629.7 766.6 635.6 770.9 636.7 772.4C637.7 774 638.1 780.2 637.6 781.8C637.1 783.4 634.4 787.4 632 788.4C629.6 789.3 615.9 791.5 613.3 791.2C610.7 790.8 607.7 785.6 605.8 784.6C603.9 783.6 597.6 781.3 594.6 780.9C591.6 780.4 581.9 780.2 575.9 779.9C569.8 779.7 533.7 778.1 533.7 778.1L533.7 772.4Z" fill="none" stroke="#d9560f" stroke-width="0.8"/>
<path d="M541.3 773C541.3 773 573.1 770.9 578.5 770.5C583.8 770.1 591.7 769.2 595 768.8C598.3 768.4 608.6 766.5 611.5 766.4C614.4 766.2 621.8 766.5 623.8 767.2C625.9 767.8 631.2 771.6 632.1 773C633 774.4 633.3 779.8 632.9 781.2C632.5 782.6 630.1 786.2 628 787C625.8 787.8 613.8 789.8 611.5 789.5C609.2 789.1 606.5 784.6 604.9 783.7C603.2 782.8 597.6 780.8 595 780.4C592.3 780 583.8 779.8 578.5 779.6C573.1 779.3 541.3 777.9 541.3 777.9L541.3 773Z" fill="none" stroke="#fdd8b3" stroke-width="1.1"/>
<path d="M528.9 772.8C528.9 772.8 567.6 770.3 574.2 769.8C580.7 769.3 590.3 768.3 594.3 767.8C598.3 767.3 610.9 765 614.4 764.8C617.9 764.6 627 765 629.5 765.8C632 766.6 638.5 771.1 639.6 772.8C640.7 774.5 641.1 781.2 640.6 782.9C640.1 784.6 637.2 788.9 634.5 789.9C631.9 790.9 617.2 793.3 614.4 792.9C611.6 792.5 608.4 787 606.4 785.9C604.4 784.8 597.5 782.4 594.3 781.9C591.1 781.4 580.7 781.2 574.2 780.9C567.6 780.6 528.9 778.9 528.9 778.9L528.9 772.8Z" fill="none" stroke="#d9560f" stroke-width="1.1"/>
<path d="M606.4 800.3C606.4 800.3 610.1 809.3 612.4 812.4C614.8 815.4 617.6 817.7 620.5 818.4C623.3 819.1 627.2 817.7 629.5 816.4C631.9 815 634.5 810.4 634.5 810.4" fill="none" stroke="#d9560f" stroke-width="1.19"/>
<path d="M614.4 806.3C614.4 806.3 621.6 821.2 624.5 824.4C627.4 827.6 634.5 828.5 634.5 828.5" fill="none" stroke="#f3974f" stroke-width="1.3"/>
<path d="M629.5 777.2C629.5 778.2 629.1 779.5 628.4 780.4C627.8 781.4 626.7 782.3 625.5 782.8C624.3 783.4 622.8 783.7 621.5 783.7C620.1 783.7 618.6 783.4 617.4 782.8C616.3 782.3 615.2 781.4 614.5 780.4C613.8 779.5 613.4 778.2 613.4 777.2C613.4 776.1 613.8 774.8 614.5 773.9C615.2 772.9 616.3 772 617.4 771.5C618.6 770.9 620.1 770.6 621.5 770.6C622.8 770.6 624.3 770.9 625.5 771.5C626.7 772 627.8 772.9 628.4 773.9C629.1 774.8 629.5 776.1 629.5 777.2Z" fill="#cfcdea" fill-opacity="0.35" stroke="#6a51a3" stroke-width="1.1"/>
<path d="M629 777.2C629 778.2 628.6 779.3 627.9 780.2C627.3 781.1 626.3 781.9 625.2 782.4C624.1 782.9 622.7 783.2 621.5 783.2C620.2 783.2 618.8 782.9 617.7 782.4C616.6 781.9 615.6 781.1 615 780.2C614.4 779.3 614 778.2 614 777.2C614 776.1 614.4 775 615 774.1C615.6 773.2 616.6 772.4 617.7 771.9C618.8 771.4 620.2 771.1 621.5 771.1C622.7 771.1 624.1 771.4 625.2 771.9C626.3 772.4 627.3 773.2 627.9 774.1C628.6 775 629 776.1 629 777.2Z" fill="none" stroke="#d9560f" stroke-width="0.8"/>
<path d="M628.1 777.2C628.1 778 627.7 779.1 627.2 779.8C626.6 780.6 625.7 781.3 624.8 781.8C623.8 782.2 622.6 782.5 621.5 782.5C620.4 782.5 619.1 782.2 618.2 781.8C617.2 781.3 616.3 780.6 615.8 779.8C615.2 779.1 614.9 778 614.9 777.2C614.9 776.3 615.2 775.2 615.8 774.5C616.3 773.7 617.2 773 618.2 772.5C619.1 772.1 620.4 771.8 621.5 771.8C622.6 771.8 623.8 772.1 624.8 772.5C625.7 773 626.6 773.7 627.2 774.5C627.7 775.2 628.1 776.3 628.1 777.2Z" fill="none" stroke="#fdd8b3" stroke-width="1.1"/>
<path d="M634.3 795.3C634.3 797.7 633.9 800.4 633.2 802.6C632.4 804.7 631.2 806.7 629.9 807.9C628.6 809.1 627 809.8 625.5 809.8C624 809.8 622.3 809.1 621.1 807.9C619.8 806.7 618.6 804.7 617.8 802.6C617.1 800.4 616.6 797.7 616.6 795.3C616.6 792.8 617.1 790.1 617.8 788C618.6 785.9 619.8 783.8 621.1 782.6C622.3 781.4 624 780.7 625.5 780.7C627 780.7 628.6 781.4 629.9 782.6C631.2 783.8 632.4 785.9 633.2 788C633.9 790.1 634.3 792.8 634.3 795.3Z" fill="#3f007d" fill-opacity="0.07" stroke="#3f007d" stroke-width="1.36"/>
<path d="M632.9 795.7C632.9 797.9 632.5 800.3 631.8 802.2C631.1 804.1 630 805.9 628.9 807C627.7 808.1 626.2 808.8 624.9 808.8C623.6 808.8 622.1 808.1 620.9 807C619.8 805.9 618.7 804.1 618 802.2C617.3 800.3 616.9 797.9 616.9 795.7C616.9 793.5 617.3 791 618 789.1C618.7 787.2 619.8 785.4 620.9 784.3C622.1 783.2 623.6 782.5 624.9 782.5C626.2 782.5 627.7 783.2 628.9 784.3C630 785.4 631.1 787.2 631.8 789.1C632.5 791 632.9 793.5 632.9 795.7Z" fill="none" stroke="#96482a" stroke-width="0.9"/>
<path d="M635.2 795.3C635.2 797.9 634.7 801 633.9 803.3C633.1 805.6 631.8 807.8 630.4 809.2C629 810.5 627.1 811.3 625.5 811.3C623.9 811.3 622 810.5 620.6 809.2C619.2 807.8 617.9 805.6 617.1 803.3C616.2 801 615.8 797.9 615.8 795.3C615.8 792.6 616.2 789.6 617.1 787.2C617.9 784.9 619.2 782.7 620.6 781.4C622 780 623.9 779.2 625.5 779.2C627.1 779.2 629 780 630.4 781.4C631.8 782.7 633.1 784.9 633.9 787.2C634.7 789.6 635.2 792.6 635.2 795.3Z" fill="none" stroke="#6a51a3" stroke-width="0.9"/>
<path d="M631.7 795.3C631.7 797 631.4 799 630.9 800.5C630.4 802.1 629.5 803.5 628.6 804.4C627.7 805.3 626.5 805.8 625.5 805.8C624.5 805.8 623.3 805.3 622.4 804.4C621.5 803.5 620.6 802.1 620.1 800.5C619.6 799 619.3 797 619.3 795.3C619.3 793.5 619.6 791.5 620.1 790C620.6 788.5 621.5 787 622.4 786.1C623.3 785.2 624.5 784.7 625.5 784.7C626.5 784.7 627.7 785.2 628.6 786.1C629.5 787 630.4 788.5 630.9 790C631.4 791.5 631.7 793.5 631.7 795.3Z" fill="#3f007d" fill-opacity="0.07" stroke="#3f007d" stroke-width="1.36"/>
<path d="M630.5 795.7C630.5 797.2 630.2 799 629.7 800.4C629.3 801.8 628.5 803.1 627.7 803.9C626.9 804.7 625.8 805.2 624.9 805.2C624 805.2 622.9 804.7 622.1 803.9C621.3 803.1 620.5 801.8 620 800.4C619.6 799 619.3 797.2 619.3 795.7C619.3 794.1 619.6 792.3 620 790.9C620.5 789.5 621.3 788.2 622.1 787.4C622.9 786.6 624 786.2 624.9 786.2C625.8 786.2 626.9 786.6 627.7 787.4C628.5 788.2 629.3 789.5 629.7 790.9C630.2 792.3 630.5 794.1 630.5 795.7Z" fill="none" stroke="#96482a" stroke-width="0.9"/>
<path d="M632.4 795.3C632.4 797.2 632 799.4 631.4 801.1C630.9 802.7 629.9 804.4 628.9 805.3C627.9 806.3 626.6 806.9 625.5 806.9C624.3 806.9 623.1 806.3 622.1 805.3C621.1 804.4 620.1 802.7 619.5 801.1C619 799.4 618.6 797.2 618.6 795.3C618.6 793.3 619 791.1 619.5 789.5C620.1 787.8 621.1 786.2 622.1 785.2C623.1 784.2 624.3 783.6 625.5 783.6C626.6 783.6 627.9 784.2 628.9 785.2C629.9 786.2 630.9 787.8 631.4 789.5C632 791.1 632.4 793.3 632.4 795.3Z" fill="none" stroke="#6a51a3" stroke-width="0.9"/>
<path d="M629.3 795.3C629.3 796.3 629.1 797.5 628.8 798.4C628.5 799.3 628 800.1 627.4 800.7C626.9 801.2 626.1 801.5 625.5 801.5C624.9 801.5 624.1 801.2 623.6 800.7C623 800.1 622.5 799.3 622.2 798.4C621.9 797.5 621.7 796.3 621.7 795.3C621.7 794.2 621.9 793 622.2 792.1C622.5 791.2 623 790.4 623.6 789.9C624.1 789.3 624.9 789 625.5 789C626.1 789 626.9 789.3 627.4 789.9C628 790.4 628.5 791.2 628.8 792.1C629.1 793 629.3 794.2 629.3 795.3Z" fill="#3f007d" fill-opacity="0.1" stroke="#3f007d" stroke-width="1.36"/>
<path d="M628.3 795.7C628.3 796.6 628.2 797.7 627.9 798.5C627.6 799.3 627.1 800.1 626.6 800.5C626.1 801 625.5 801.3 624.9 801.3C624.3 801.3 623.7 801 623.2 800.5C622.7 800.1 622.2 799.3 621.9 798.5C621.6 797.7 621.4 796.6 621.4 795.7C621.4 794.7 621.6 793.7 621.9 792.9C622.2 792 622.7 791.3 623.2 790.8C623.7 790.3 624.3 790 624.9 790C625.5 790 626.1 790.3 626.6 790.8C627.1 791.3 627.6 792 627.9 792.9C628.2 793.7 628.3 794.7 628.3 795.7Z" fill="none" stroke="#96482a" stroke-width="0.9"/>
<path d="M629.7 795.3C629.7 796.4 629.5 797.7 629.1 798.7C628.8 799.7 628.2 800.6 627.6 801.2C627 801.8 626.2 802.1 625.5 802.1C624.8 802.1 624 801.8 623.4 801.2C622.8 800.6 622.2 799.7 621.8 798.7C621.5 797.7 621.3 796.4 621.3 795.3C621.3 794.1 621.5 792.8 621.8 791.8C622.2 790.8 622.8 789.9 623.4 789.3C624 788.7 624.8 788.4 625.5 788.4C626.2 788.4 627 788.7 627.6 789.3C628.2 789.9 628.8 790.8 629.1 791.8C629.5 792.8 629.7 794.1 629.7 795.3Z" fill="none" stroke="#6a51a3" stroke-width="0.9"/>
<path d="M627.1 795.3C627.1 795.7 627 796.3 626.9 796.7C626.8 797.1 626.5 797.5 626.3 797.7C626.1 797.9 625.8 798.1 625.5 798.1C625.2 798.1 624.9 797.9 624.7 797.7C624.5 797.5 624.2 797.1 624.1 796.7C624 796.3 623.9 795.7 623.9 795.3C623.9 794.8 624 794.3 624.1 793.9C624.2 793.4 624.5 793.1 624.7 792.8C624.9 792.6 625.2 792.4 625.5 792.4C625.8 792.4 626.1 792.6 626.3 792.8C626.5 793.1 626.8 793.4 626.9 793.9C627 794.3 627.1 794.8 627.1 795.3Z" fill="#3f007d" fill-opacity="0.15" stroke="#3f007d" stroke-width="1.19"/>
<path d="M626.3 795.7C626.3 796.1 626.3 796.6 626.1 796.9C626 797.3 625.8 797.6 625.6 797.9C625.4 798.1 625.1 798.2 624.9 798.2C624.6 798.2 624.4 798.1 624.2 797.9C624 797.6 623.8 797.3 623.6 796.9C623.5 796.6 623.4 796.1 623.4 795.7C623.4 795.2 623.5 794.8 623.6 794.4C623.8 794 624 793.7 624.2 793.5C624.4 793.3 624.6 793.1 624.9 793.1C625.1 793.1 625.4 793.3 625.6 793.5C625.8 793.7 626 794 626.1 794.4C626.3 794.8 626.3 795.2 626.3 795.7Z" fill="none" stroke="#96482a" stroke-width="0.9"/>
<path d="M627.3 795.3C627.3 795.8 627.2 796.4 627 796.8C626.9 797.3 626.6 797.7 626.4 797.9C626.1 798.2 625.8 798.4 625.5 798.4C625.2 798.4 624.9 798.2 624.6 797.9C624.4 797.7 624.1 797.3 624 796.8C623.8 796.4 623.7 795.8 623.7 795.3C623.7 794.7 623.8 794.2 624 793.7C624.1 793.3 624.4 792.8 624.6 792.6C624.9 792.3 625.2 792.2 625.5 792.2C625.8 792.2 626.1 792.3 626.4 792.6C626.6 792.8 626.9 793.3 627 793.7C627.2 794.2 627.3 794.7 627.3 795.3Z" fill="none" stroke="#6a51a3" stroke-width="0.9"/></g>
<clipPath id="c65"><rect x="665.5" y="752.1" width="115.7" height="115.7"/></clipPath><g clip-path="url(#c65)"><path d="M650.9 804.3C650.9 804.3 688.4 805.7 696.2 802.3C703.9 798.9 723.3 772.6 728.4 770.1C733.4 767.6 743.7 775.4 746.5 777.2C749.3 778.9 754.5 785.2 756.5 787.2C758.6 789.2 762.6 794.8 766.6 797.3C770.6 799.8 796.8 812.4 796.8 812.4L796.8 839.5C796.8 839.5 780.2 841.2 776.7 842.5C773.1 843.9 764.6 851.8 761.6 852.6C758.6 853.4 749.5 851.9 746.5 850.6C743.5 849.3 734.4 841.3 731.4 839.5C728.4 837.7 719.3 834.3 716.3 832.5C713.3 830.7 707.8 822.5 701.2 821.4C694.7 820.3 650.9 821.4 650.9 821.4L650.9 804.3Z" fill="#fbc4a0" fill-opacity="0.5" stroke="#f6ab72" stroke-width="1.25"/>
<path d="M716.3 812.4C718 817.4 731.4 818.7 736.4 822.4C741.5 826.1 743.1 831.6 746.5 834.5C749.8 837.3 753.2 839.5 756.5 839.5C759.9 839.5 764.4 837.3 766.6 834.5C768.8 831.6 770 827 769.6 822.4C769.3 817.9 767.1 811.9 764.6 807.3C762.1 802.8 757.6 798.6 754.5 795.3C751.5 791.9 751 787.7 746.5 787.2C742 786.7 731.4 788.1 726.4 792.2C721.3 796.4 714.6 807.3 716.3 812.4Z" fill="#fb9d62" fill-opacity="0.35" stroke="#f3974f" stroke-width="1.25"/>
<path d="M750.8 813.4C750.8 813.9 750.7 814.4 750.4 814.9C750.2 815.3 749.8 815.7 749.4 816C749 816.2 748.5 816.4 748 816.4C747.5 816.4 747 816.2 746.6 816C746.2 815.7 745.8 815.3 745.6 814.9C745.3 814.4 745.2 813.9 745.2 813.4C745.2 812.9 745.3 812.3 745.6 811.9C745.8 811.4 746.2 811 746.6 810.8C747 810.5 747.5 810.4 748 810.4C748.5 810.4 749 810.5 749.4 810.8C749.8 811 750.2 811.4 750.4 811.9C750.7 812.3 750.8 812.9 750.8 813.4Z" fill="#f9964a" fill-opacity="0.9"/>
<path d="M650.9 814.9C650.9 814.9 675.8 815.4 681.1 815.4C686.3 815.3 691.9 814.9 694.2 814.4C696.5 813.9 699.2 811.4 699.2 811.4" fill="none" stroke="#d9560f" stroke-width="1.1"/>
<path d="M701.2 812.4C700.4 805.7 702.7 794.6 706.2 787.2C709.8 779.8 717.5 771 722.3 768.1C727.2 765.2 731.6 766.8 736.4 769.1C741.3 771.5 748.3 777.8 751.5 782.2C754.7 786.5 755.5 790.2 755.5 795.3C755.5 800.3 753.9 807.5 751.5 812.4C749.2 817.2 745.6 821.1 741.5 824.4C737.3 827.8 731.4 832 726.4 832.5C721.3 833 715.5 830.8 711.3 827.5C707.1 824.1 702.1 819.1 701.2 812.4Z" fill="#cdcbe8" fill-opacity="0.75" stroke="#9d9aca" stroke-width="1.3"/>
<path d="M716.3 787.2C718.8 782 726.7 777.2 731.4 777.2C736.1 777.2 742 783.9 744.5 787.2C746.9 790.5 747.2 793.4 746.5 797.3C745.8 801.1 743.8 807.2 740.4 810.4C737.1 813.5 730.4 816.7 726.4 816.4C722.3 816.1 718 813.2 716.3 808.3C714.6 803.5 713.8 792.4 716.3 787.2Z" fill="#cdcbe8" fill-opacity="0.62" stroke="#9d9aca" stroke-width="1.3"/>
<path d="M650.9 759C650.9 759 690 757.8 696.2 758C702.3 758.2 706.9 759.4 711.3 761.1C715.6 762.7 719.7 765.4 722.3 768.1C725 770.8 726.4 774 727.4 777.2C728.4 780.3 727.2 783.9 728.4 787.2C729.6 790.6 733.3 794.6 734.4 797.3C735.5 799.9 736.8 802.3 735.4 804.3C734.1 806.3 730.5 808.8 726.4 809.3C722.3 809.9 712.9 809.3 706.2 808.3C699.5 807.3 694.4 804.2 686.1 803.3C677.9 802.4 650.9 802.3 650.9 802.3L650.9 759Z" fill="#cfcdea" fill-opacity="0.75" stroke="#6a51a3" stroke-width="1.1"/>
<path d="M654.8 760.9C654.8 760.9 691.2 759.8 696.9 760C702.6 760.2 706.9 761.3 710.9 762.8C715 764.4 718.7 766.9 721.2 769.4C723.7 771.9 725 774.8 725.9 777.8C726.8 780.8 725.7 784 726.8 787.1C727.9 790.3 731.4 794.1 732.4 796.5C733.5 799 734.6 801.2 733.4 803.1C732.1 804.9 728.8 807.2 725 807.7C721.1 808.3 712.5 807.7 706.2 806.8C700 805.9 695.2 803 687.5 802.1C679.9 801.3 654.8 801.2 654.8 801.2L654.8 760.9Z" fill="none" stroke="#d9560f" stroke-width="0.8"/>
<path d="M660.9 763.9C660.9 763.9 693 763 698 763.1C703.1 763.3 706.8 764.2 710.4 765.6C714 767 717.3 769.2 719.5 771.4C721.7 773.6 722.8 776.2 723.6 778.8C724.4 781.4 723.4 784.3 724.4 787C725.4 789.8 728.5 793.1 729.4 795.3C730.2 797.5 731.3 799.4 730.2 801.1C729.1 802.7 726.1 804.7 722.8 805.2C719.4 805.7 711.8 805.2 706.3 804.4C700.8 803.5 696.5 801 689.8 800.2C683 799.5 660.9 799.4 660.9 799.4L660.9 763.9Z" fill="none" stroke="#fdd8b3" stroke-width="1.1"/>
<path d="M650.9 759.6C650.9 759.6 690 758.4 696.2 758.6C702.3 758.8 706.9 760 711.3 761.7C715.6 763.3 719.7 766 722.3 768.7C725 771.4 726.4 774.6 727.4 777.8C728.4 780.9 727.2 784.5 728.4 787.8C729.6 791.2 733.3 795.2 734.4 797.9C735.5 800.5 736.8 802.9 735.4 804.9C734.1 806.9 730.5 809.4 726.4 809.9C722.3 810.5 712.9 809.9 706.2 808.9C699.5 807.9 694.4 804.8 686.1 803.9C677.9 803 650.9 802.9 650.9 802.9L650.9 759.6Z" fill="none" stroke="#96482a" stroke-width="0.72"/>
<path d="M650.9 765.1C650.9 765.1 690.7 763.8 696.2 764.1C701.6 764.4 705.9 766.3 709.3 768.1C712.6 769.9 715 772.8 716.3 775.1C717.6 777.5 719 780.5 717.3 782.2C715.6 783.9 710.8 785.1 706.2 785.2C701.7 785.3 650.9 784.2 650.9 784.2L650.9 765.1Z" fill="#aaa6d9" fill-opacity="0.75" stroke="#6a51a3" stroke-width="1.02"/>
<path d="M653.8 765.8C653.8 765.8 690.8 764.6 695.9 764.8C701 765.1 705 766.9 708.1 768.6C711.2 770.3 713.4 772.9 714.6 775.1C715.9 777.3 717.1 780.1 715.6 781.7C714 783.2 709.5 784.3 705.3 784.5C701 784.6 653.8 783.5 653.8 783.5L653.8 765.8Z" fill="none" stroke="#d9560f" stroke-width="0.8"/>
<path d="M658.4 766.8C658.4 766.8 691 765.8 695.5 766C700 766.2 703.5 767.8 706.2 769.3C709 770.8 710.9 773.2 712 775.1C713.1 777 714.2 779.5 712.8 780.9C711.5 782.2 707.5 783.2 703.8 783.3C700 783.5 658.4 782.5 658.4 782.5L658.4 766.8Z" fill="none" stroke="#fdd8b3" stroke-width="1.1"/>
<path d="M650.9 764.5C650.9 764.5 690.7 763.2 696.2 763.5C701.6 763.8 705.9 765.6 709.3 767.5C712.6 769.3 715 772.2 716.3 774.5C717.6 776.9 719 779.9 717.3 781.6C715.6 783.3 710.8 784.5 706.2 784.6C701.7 784.7 650.9 783.6 650.9 783.6L650.9 764.5Z" fill="none" stroke="#d9560f" stroke-width="1.1"/>
<path d="M650.9 772.1C650.9 772.1 687.4 771.5 691.2 771.6C694.9 771.8 698.9 773.1 700.2 774.1C701.5 775.2 700.9 778 699.2 778.2C697.5 778.3 650.9 779.2 650.9 779.2L650.9 772.1Z" fill="#7f78c4" fill-opacity="0.85"/>
<path d="M650.9 782.2C650.9 782.2 686 780.7 696.2 781.2C706.4 781.6 715.3 783.1 721.3 785.2C727.4 787.3 732.4 791.8 734.4 794.3C736.5 796.8 736.8 799.8 735.4 802.3C734.1 804.8 730.9 808.4 726.4 809.3C721.9 810.3 712.9 809.3 706.2 808.3C699.5 807.3 694.3 804.5 686.1 803.3C677.9 802.1 650.9 800.3 650.9 800.3L650.9 782.2Z" fill="#3f007d" fill-opacity="0.07" stroke="#3f007d" stroke-width="1.36"/>
<path d="M655.3 784C655.3 784 686.9 782.7 696 783.1C705.2 783.5 713.3 784.9 718.7 786.7C724.1 788.6 728.6 792.6 730.5 794.9C732.3 797.1 732.6 799.8 731.4 802.1C730.2 804.4 727.3 807.6 723.2 808.4C719.2 809.3 711.1 808.4 705.1 807.5C699.1 806.6 694.4 804.1 687 803C679.6 801.9 655.3 800.3 655.3 800.3L655.3 784Z" fill="none" stroke="#96482a" stroke-width="0.9"/>
<path d="M645.9 780.8C645.9 780.8 684.5 779.2 695.7 779.7C706.9 780.1 716.8 781.8 723.4 784.1C730 786.4 735.5 791.3 737.8 794.1C740 796.8 740.3 800.1 738.9 802.9C737.4 805.7 733.9 809.6 728.9 810.7C724 811.7 714.2 810.7 706.8 809.5C699.4 808.4 693.7 805.3 684.6 804C675.6 802.7 645.9 800.7 645.9 800.7L645.9 780.8Z" fill="none" stroke="#6a51a3" stroke-width="0.9"/>
<path d="M671 792.2C671.9 789.9 688.3 786.9 696.2 786.2C704.1 785.5 713.1 786.6 718.3 788.2C723.6 789.8 728 793.6 729.4 796.3C730.7 798.9 729.4 802.6 726.4 804.3C723.4 806 717.1 807 711.3 806.3C705.4 805.7 697.9 802.6 691.2 800.3C684.4 797.9 670.2 794.6 671 792.2Z" fill="#3f007d" fill-opacity="0.07" stroke="#3f007d" stroke-width="1.36"/>
<path d="M673.9 793C674.7 790.9 689.5 788.2 696.6 787.6C703.7 787 711.8 788 716.5 789.4C721.2 790.9 725.3 794.3 726.5 796.7C727.7 799.1 726.5 802.4 723.7 803.9C721 805.4 715.4 806.3 710.2 805.7C704.9 805.1 698.1 802.4 692.1 800.3C686 798.2 673.2 795.2 673.9 793Z" fill="none" stroke="#96482a" stroke-width="0.9"/>
<path d="M667.5 791.8C668.4 789.3 686.5 785.9 695.2 785.2C703.8 784.5 713.8 785.7 719.5 787.4C725.3 789.2 730.2 793.3 731.7 796.3C733.2 799.2 731.7 803.3 728.4 805.1C725.1 807 718.2 808.1 711.8 807.3C705.3 806.6 697 803.3 689.6 800.7C682.3 798.1 666.6 794.4 667.5 791.8Z" fill="none" stroke="#6a51a3" stroke-width="0.9"/>
<path d="M650.9 785.2C650.9 785.2 686.5 783.5 696.2 783.7C705.9 783.9 714.9 784.9 720.3 786.7C725.8 788.5 730.2 792.5 731.9 795.3C733.6 798 732.9 801.3 730.4 803.3C727.8 805.4 722 807.7 716.3 807.8C710.6 808 704.3 805.5 696.2 804.3C688.1 803.1 650.9 798.3 650.9 798.3L650.9 785.2Z" fill="none" stroke="#96482a" stroke-width="0.87"/>
<path d="M723.5 795.3C723.5 796.2 723 797.3 722 798.2C721.1 799 719.5 799.8 717.9 800.3C716.3 800.8 714.2 801.1 712.3 801.1C710.4 801.1 708.3 800.8 706.6 800.3C705 799.8 703.5 799 702.5 798.2C701.6 797.3 701 796.2 701 795.3C701 794.3 701.6 793.2 702.5 792.3C703.5 791.5 705 790.7 706.6 790.2C708.3 789.7 710.4 789.4 712.3 789.4C714.2 789.4 716.3 789.7 717.9 790.2C719.5 790.7 721.1 791.5 722 792.3C723 793.2 723.5 794.3 723.5 795.3Z" fill="#3f007d" fill-opacity="0.1" stroke="#3f007d" stroke-width="1.36"/>
<path d="M721.8 795.7C721.8 796.5 721.3 797.5 720.5 798.3C719.6 799 718.2 799.8 716.7 800.2C715.3 800.6 713.4 800.9 711.7 800.9C710 800.9 708.1 800.6 706.6 800.2C705.1 799.8 703.7 799 702.9 798.3C702 797.5 701.5 796.5 701.5 795.7C701.5 794.8 702 793.8 702.9 793C703.7 792.3 705.1 791.6 706.6 791.1C708.1 790.7 710 790.4 711.7 790.4C713.4 790.4 715.3 790.7 716.7 791.1C718.2 791.6 719.6 792.3 720.5 793C721.3 793.8 721.8 794.8 721.8 795.7Z" fill="none" stroke="#96482a" stroke-width="0.9"/>
<path d="M724.7 795.3C724.7 796.3 724 797.5 723 798.5C722 799.4 720.3 800.3 718.5 800.8C716.7 801.4 714.3 801.7 712.3 801.7C710.2 801.7 707.9 801.4 706.1 800.8C704.3 800.3 702.6 799.4 701.5 798.5C700.5 797.5 699.9 796.3 699.9 795.3C699.9 794.2 700.5 793 701.5 792.1C702.6 791.1 704.3 790.2 706.1 789.7C707.9 789.2 710.2 788.8 712.3 788.8C714.3 788.8 716.7 789.2 718.5 789.7C720.3 790.2 722 791.1 723 792.1C724 793 724.7 794.2 724.7 795.3Z" fill="none" stroke="#6a51a3" stroke-width="0.9"/>
<path d="M674.6 793.2C674.6 793.6 674.5 793.9 674.3 794.2C674.2 794.4 674 794.7 673.8 794.8C673.6 795 673.3 795.1 673 795.1C672.8 795.1 672.5 795 672.3 794.8C672.1 794.7 671.9 794.4 671.7 794.2C671.6 793.9 671.5 793.6 671.5 793.2C671.5 792.9 671.6 792.6 671.7 792.3C671.9 792.1 672.1 791.8 672.3 791.7C672.5 791.5 672.8 791.4 673 791.4C673.3 791.4 673.6 791.5 673.8 791.7C674 791.8 674.2 792.1 674.3 792.3C674.5 792.6 674.6 792.9 674.6 793.2Z" fill="#d9560f" fill-opacity="0.8"/></g>
<clipPath id="c70"><rect x="57.8" y="873.7" width="115.7" height="115.7"/></clipPath><g clip-path="url(#c70)"><path d="M182.2 947.4L179.9 958C179.9 958 176 964 173.4 965.7C170.9 967.5 167.6 968.6 164.6 968.6C161.7 968.6 158.4 967.5 155.8 965.7C153.3 964 150.9 961.1 149.4 958C147.9 955 147 951 147 947.4C147 943.9 147.9 939.9 149.4 936.9C150.9 933.8 153.3 930.9 155.8 929.1C158.4 927.4 161.7 926.3 164.6 926.3C167.6 926.3 170.9 927.4 173.4 929.1C176 930.9 179.9 936.9 179.9 936.9L182.2 947.4Z" fill="#dcdbe9" fill-opacity="0.38" stroke="#d3d2e4" stroke-width="1.25"/>
<path d="M176.2 947.4C176.2 947.4 175.7 951.7 174.8 953.5C173.9 955.2 172.5 956.9 170.9 957.9C169.4 958.9 167.4 959.5 165.6 959.5C163.9 959.5 161.9 958.9 160.4 957.9C158.8 956.9 157.4 955.2 156.5 953.5C155.6 951.7 155.1 949.5 155.1 947.4C155.1 945.4 155.6 943.1 156.5 941.4C157.4 939.7 158.8 938 160.4 937C161.9 936 163.9 935.4 165.6 935.4C167.4 935.4 169.4 936 170.9 937C172.5 938 173.9 939.7 174.8 941.4C175.7 943.1 176.2 947.4 176.2 947.4Z" fill="#dcdbe9" fill-opacity="0.45" stroke="#d3d2e4" stroke-width="1.25"/>
<path d="M170.7 947.4C170.7 948.4 170.4 949.4 170 950.2C169.6 951 168.9 951.8 168.2 952.2C167.4 952.7 166.5 953 165.6 953C164.8 953 163.9 952.7 163.1 952.2C162.4 951.8 161.7 951 161.3 950.2C160.9 949.4 160.6 948.4 160.6 947.4C160.6 946.5 160.9 945.5 161.3 944.7C161.7 943.9 162.4 943.1 163.1 942.7C163.9 942.2 164.8 941.9 165.6 941.9C166.5 941.9 167.4 942.2 168.2 942.7C168.9 943.1 169.6 943.9 170 944.7C170.4 945.5 170.7 946.5 170.7 947.4Z" fill="#dcdbe9" fill-opacity="0.6" stroke="#d3d2e4" stroke-width="1.25"/>
<path d="M72.1 871C72.1 871 70.2 893.6 70.1 904.2C69.9 914.7 68.1 926 71.1 934.4C74.1 942.7 80.3 949.5 88.2 954.5C96.1 959.5 108.3 964.5 118.4 964.5C128.4 964.5 143.9 958.4 148.5 954.5C153.2 950.6 150.2 944.1 148.5 939.4C146.9 934.7 142.7 930.8 138.5 926.3C134.3 921.8 127.4 917.6 123.4 912.2C119.4 906.9 116.9 901 114.3 894.1C111.8 887.2 108.3 871 108.3 871L72.1 871Z" fill="#d9560f" fill-opacity="0.21"/>
<path d="M72.1 871C72.1 871 70.9 888.1 70.6 894.1C70.3 900.2 70 903.2 70.1 909.2C70.1 915.3 71.1 934.4 71.1 934.4" fill="none" stroke="#d9560f" stroke-width="1.19"/>
<path d="M108.3 871C108.3 871 111.8 887.2 114.3 894.1C116.9 901 119.4 906.9 123.4 912.2C127.4 917.6 134.3 921.8 138.5 926.3C142.7 930.8 148.5 939.4 148.5 939.4" fill="none" stroke="#d9560f" stroke-width="1.19"/>
<path d="M81.1 914.2C80.3 912.6 82 902.4 82.6 900.2C83.3 897.9 86.5 891.6 87.7 891.6C88.8 891.6 92.9 898.1 94.2 900.2C95.6 902.2 101.6 910.6 101.3 912.2C101 913.8 93.2 916.1 91.2 916.3C89.2 916.5 82 915.9 81.1 914.2Z" fill="#d9560f" fill-opacity="0.26" stroke="#d9560f" stroke-width="1.19"/>
<path d="M56 892.1C56 892.1 60.9 886.7 63 887.1C65.2 887.4 68.1 890.8 69.1 894.1C70.1 897.5 69.9 903.5 69.1 907.2C68.2 910.9 66.2 913.4 64 916.3C61.9 919.1 56 924.3 56 924.3L56 892.1Z" fill="#fbc4a0" fill-opacity="0.5" stroke="#f6ab72" stroke-width="1.25"/>
<path d="M56 909.2C56 909.2 61.5 905.4 64 905.2C66.6 905 69.1 905.9 71.1 908.2C73.1 910.5 76.1 914.9 76.1 919.3C76.1 923.6 73.1 930.2 71.1 934.4C69.1 938.6 64.2 939.7 64 944.4C63.9 949.1 71.4 961.5 70.1 962.5C68.7 963.5 56 950.5 56 950.5L56 909.2Z" fill="#cdcbe8" fill-opacity="0.62" stroke="#9d9aca" stroke-width="1.25"/>
<path d="M64 944.4C64 938.1 66.9 929.7 70.1 924.3C73.3 918.9 78.5 914.4 83.2 912.2C87.8 910.1 92.4 909.7 98.2 911.2C104.1 912.7 111.7 918.8 118.4 921.3C125.1 923.8 133.5 923.8 138.5 926.3C143.5 928.8 146.2 932.5 148.5 936.4C150.9 940.2 152.6 944.8 152.6 949.5C152.6 954.2 150.9 960.2 148.5 964.5C146.2 968.9 143.5 972.9 138.5 975.6C133.5 978.3 125.1 979.6 118.4 980.6C111.7 981.6 104.1 982.8 98.2 981.6C92.4 980.5 87.8 976.8 83.2 973.6C78.5 970.4 73.3 967.4 70.1 962.5C66.9 957.7 64 950.8 64 944.4Z" fill="#cfcdea" fill-opacity="0.75" stroke="#6a51a3" stroke-width="0.85"/>
<path d="M67.2 944.6C67.2 938.7 69.9 930.9 72.8 925.9C75.8 920.9 80.6 916.7 85 914.7C89.3 912.7 93.6 912.4 99 913.8C104.5 915.2 111.5 920.8 117.7 923.1C124 925.5 131.8 925.5 136.4 927.8C141.1 930.1 143.6 933.6 145.8 937.2C148 940.7 149.5 944.9 149.5 949.3C149.5 953.7 148 959.3 145.8 963.3C143.6 967.4 141.1 971.1 136.4 973.6C131.8 976.1 124 977.4 117.7 978.3C111.5 979.3 104.5 980.3 99 979.3C93.6 978.2 89.3 974.7 85 971.8C80.6 968.8 75.8 966 72.8 961.5C69.9 957 67.2 950.6 67.2 944.6Z" fill="none" stroke="#d9560f" stroke-width="0.8"/>
<path d="M72.2 945C72.2 939.7 74.5 932.9 77.1 928.5C79.7 924.1 84 920.4 87.9 918.6C91.7 916.8 95.4 916.5 100.2 917.7C105 919 111.2 923.9 116.7 926C122.2 928.1 129.1 928.1 133.2 930.1C137.4 932.2 139.6 935.2 141.5 938.4C143.4 941.5 144.8 945.2 144.8 949.1C144.8 952.9 143.4 957.9 141.5 961.5C139.6 965 137.4 968.3 133.2 970.5C129.1 972.7 122.2 973.8 116.7 974.7C111.2 975.5 105 976.5 100.2 975.5C95.4 974.5 91.7 971.5 87.9 968.9C84 966.3 79.7 963.8 77.1 959.8C74.5 955.8 72.2 950.2 72.2 945Z" fill="none" stroke="#fdd8b3" stroke-width="1.1"/>
<path d="M64.4 944.8C64.4 938.5 67.3 930.1 70.5 924.7C73.7 919.3 78.9 914.8 83.6 912.6C88.2 910.5 92.8 910.1 98.6 911.6C104.5 913.1 112.1 919.2 118.8 921.7C125.5 924.2 133.9 924.2 138.9 926.7C143.9 929.2 146.6 932.9 148.9 936.8C151.3 940.6 153 945.2 153 949.9C153 954.6 151.3 960.6 148.9 964.9C146.6 969.3 143.9 973.3 138.9 976C133.9 978.7 125.5 980 118.8 981C112.1 982.1 104.5 983.2 98.6 982.1C92.8 980.9 88.2 977.2 83.6 974C78.9 970.8 73.7 967.8 70.5 962.9C67.3 958.1 64.4 951.2 64.4 944.8Z" fill="none" stroke="#96482a" stroke-width="0.94"/>
<path d="M80.1 934.4C82.6 930.7 87.7 928 93.2 927.3C98.7 926.7 106.6 928.8 113.3 930.3C120 931.8 128.9 933.2 133.5 936.4C138 939.6 140 945.1 140.5 949.5C141 953.8 139.8 959.3 136.5 962.5C133.1 965.7 125.9 967.4 120.4 968.6C114.8 969.7 108.6 970.6 103.3 969.6C97.9 968.6 92.4 965.9 88.2 962.5C84 959.2 79.5 954.2 78.1 949.5C76.8 944.8 77.6 938.1 80.1 934.4Z" fill="#aaa6d9" fill-opacity="0.75" stroke="#6a51a3" stroke-width="0.85"/>
<path d="M82.1 935.4C84.5 932 89.2 929.5 94.3 928.8C99.4 928.2 106.8 930.2 113 931.6C119.2 933.1 127.5 934.3 131.7 937.3C135.9 940.2 137.8 945.4 138.3 949.4C138.7 953.5 137.6 958.6 134.5 961.6C131.4 964.6 124.7 966.1 119.6 967.2C114.4 968.3 108.6 969.1 103.7 968.1C98.7 967.2 93.5 964.7 89.6 961.6C85.7 958.5 81.5 953.8 80.3 949.4C79 945.1 79.8 938.8 82.1 935.4Z" fill="none" stroke="#d9560f" stroke-width="0.8"/>
<path d="M85.3 937C87.3 934 91.5 931.8 96 931.2C100.5 930.7 107 932.5 112.5 933.7C118 934.9 125.3 936 129 938.7C132.7 941.3 134.4 945.8 134.8 949.4C135.2 953 134.2 957.5 131.5 960.1C128.7 962.7 122.8 964.1 118.3 965.1C113.7 966 108.7 966.7 104.3 965.9C99.9 965.1 95.3 962.9 91.9 960.1C88.4 957.4 84.7 953.2 83.6 949.4C82.5 945.5 83.2 940 85.3 937Z" fill="none" stroke="#fdd8b3" stroke-width="1.1"/>
<path d="M80.5 934.8C83.1 931.1 88.1 928.4 93.6 927.7C99.1 927.1 107 929.2 113.7 930.7C120.4 932.3 129.3 933.6 133.9 936.8C138.4 940 140.4 945.5 140.9 949.9C141.4 954.2 140.2 959.8 136.9 962.9C133.5 966.1 126.3 967.8 120.8 969C115.2 970.1 109 971 103.7 970C98.3 969 92.8 966.3 88.6 962.9C84.4 959.6 79.9 954.6 78.5 949.9C77.2 945.2 78 938.5 80.5 934.8Z" fill="none" stroke="#96482a" stroke-width="0.94"/>
<path d="M101.3 926.3C101.3 926.3 111.5 934.4 114.3 938.4C117.2 942.4 118.7 946.8 118.4 950.5C118 954.2 115.2 957.8 112.3 960.5C109.5 963.2 101.3 966.6 101.3 966.6" fill="none" stroke="#f3974f" stroke-width="1.3"/>
<path d="M118.4 930.3C118.4 930.3 126.1 940.1 127.4 944.4C128.8 948.8 127.6 952.8 126.4 956.5C125.2 960.2 120.4 966.6 120.4 966.6" fill="none" stroke="#fdd8b3" stroke-width="1.3"/>
<path d="M108.8 950.5C108.8 953.4 107.8 956.7 106.2 959.3C104.5 961.8 101.8 964.2 99 965.7C96.2 967.2 92.5 968.1 89.2 968.1C85.9 968.1 82.2 967.2 79.4 965.7C76.5 964.2 73.8 961.8 72.2 959.3C70.6 956.7 69.6 953.4 69.6 950.5C69.6 947.5 70.6 944.2 72.2 941.7C73.8 939.1 76.5 936.7 79.4 935.2C82.2 933.7 85.9 932.9 89.2 932.9C92.5 932.9 96.2 933.7 99 935.2C101.8 936.7 104.5 939.1 106.2 941.7C107.8 944.2 108.8 947.5 108.8 950.5Z" fill="#3f007d" fill-opacity="0.06" stroke="#3f007d" stroke-width="1.27"/>
<path d="M106.2 950.9C106.2 953.5 105.3 956.5 103.9 958.8C102.4 961.1 100 963.3 97.4 964.6C94.9 965.9 91.5 966.7 88.6 966.7C85.6 966.7 82.3 965.9 79.8 964.6C77.2 963.3 74.8 961.1 73.3 958.8C71.8 956.5 70.9 953.5 70.9 950.9C70.9 948.2 71.8 945.2 73.3 942.9C74.8 940.7 77.2 938.5 79.8 937.1C82.3 935.8 85.6 935 88.6 935C91.5 935 94.9 935.8 97.4 937.1C100 938.5 102.4 940.7 103.9 942.9C105.3 945.2 106.2 948.2 106.2 950.9Z" fill="none" stroke="#96482a" stroke-width="0.9"/>
<path d="M110.8 950.5C110.8 953.7 109.7 957.3 107.9 960.1C106.1 962.9 103.1 965.6 100 967.2C96.9 968.8 92.8 969.8 89.2 969.8C85.6 969.8 81.5 968.8 78.4 967.2C75.3 965.6 72.3 962.9 70.5 960.1C68.7 957.3 67.6 953.7 67.6 950.5C67.6 947.2 68.7 943.6 70.5 940.8C72.3 938 75.3 935.3 78.4 933.7C81.5 932.1 85.6 931.1 89.2 931.1C92.8 931.1 96.9 932.1 100 933.7C103.1 935.3 106.1 938 107.9 940.8C109.7 943.6 110.8 947.2 110.8 950.5Z" fill="none" stroke="#6a51a3" stroke-width="0.9"/>
<path d="M100.8 949.5C100.8 951.4 100.1 953.6 99.1 955.2C98 956.9 96.3 958.5 94.5 959.5C92.7 960.4 90.3 961 88.2 961C86.1 961 83.7 960.4 81.9 959.5C80.1 958.5 78.3 956.9 77.3 955.2C76.2 953.6 75.6 951.4 75.6 949.5C75.6 947.5 76.2 945.3 77.3 943.7C78.3 942 80.1 940.4 81.9 939.4C83.7 938.5 86.1 937.9 88.2 937.9C90.3 937.9 92.7 938.5 94.5 939.4C96.3 940.4 98 942 99.1 943.7C100.1 945.3 100.8 947.5 100.8 949.5Z" fill="#3f007d" fill-opacity="0.07" stroke="#3f007d" stroke-width="1.27"/>
<path d="M98.9 949.9C98.9 951.6 98.3 953.6 97.4 955.1C96.4 956.6 94.9 958 93.2 958.9C91.6 959.7 89.5 960.3 87.6 960.3C85.7 960.3 83.6 959.7 81.9 958.9C80.3 958 78.7 956.6 77.8 955.1C76.8 953.6 76.3 951.6 76.3 949.9C76.3 948.1 76.8 946.2 77.8 944.7C78.7 943.1 80.3 941.7 81.9 940.8C83.6 940 85.7 939.4 87.6 939.4C89.5 939.4 91.6 940 93.2 940.8C94.9 941.7 96.4 943.1 97.4 944.7C98.3 946.2 98.9 948.1 98.9 949.9Z" fill="none" stroke="#96482a" stroke-width="0.9"/>
<path d="M102 949.5C102 951.6 101.3 954 100.2 955.8C99 957.7 97.1 959.4 95.1 960.5C93.1 961.5 90.5 962.2 88.2 962.2C85.9 962.2 83.3 961.5 81.3 960.5C79.3 959.4 77.4 957.7 76.2 955.8C75 954 74.3 951.6 74.3 949.5C74.3 947.3 75 944.9 76.2 943.1C77.4 941.3 79.3 939.5 81.3 938.4C83.3 937.4 85.9 936.7 88.2 936.7C90.5 936.7 93.1 937.4 95.1 938.4C97.1 939.5 99 941.3 100.2 943.1C101.3 944.9 102 947.3 102 949.5Z" fill="none" stroke="#6a51a3" stroke-width="0.9"/>
<path d="M104.3 948.4C104.3 950.8 103.5 953.5 102.1 955.5C100.8 957.5 98.6 959.5 96.2 960.6C93.9 961.8 90.9 962.5 88.2 962.5C85.5 962.5 82.5 961.8 80.1 960.6C77.8 959.5 75.6 957.5 74.2 955.5C72.9 953.5 72.1 950.8 72.1 948.4C72.1 946.1 72.9 943.4 74.2 941.4C75.6 939.4 77.8 937.4 80.1 936.3C82.5 935.1 85.5 934.4 88.2 934.4C90.9 934.4 93.9 935.1 96.2 936.3C98.6 937.4 100.8 939.4 102.1 941.4C103.5 943.4 104.3 946.1 104.3 948.4Z" fill="none" stroke="#96482a" stroke-width="0.87"/>
<path d="M93.2 947.9C93.2 949 92.9 950.1 92.5 951C92 951.8 91.2 952.7 90.4 953.2C89.6 953.7 88.6 954 87.7 954C86.8 954 85.7 953.7 84.9 953.2C84.1 952.7 83.3 951.8 82.9 951C82.4 950.1 82.1 949 82.1 947.9C82.1 946.9 82.4 945.8 82.9 944.9C83.3 944.1 84.1 943.2 84.9 942.7C85.7 942.2 86.8 941.9 87.7 941.9C88.6 941.9 89.6 942.2 90.4 942.7C91.2 943.2 92 944.1 92.5 944.9C92.9 945.8 93.2 946.9 93.2 947.9Z" fill="#3f007d" fill-opacity="0.9"/></g>
<clipPath id="c71"><rect x="179.3" y="873.7" width="115.7" height="115.7"/></clipPath><g clip-path="url(#c71)"><path d="M284.6 871C284.6 871 284 889.2 283.6 894.1C283.2 899 279.7 904.9 281.6 906.2C283.5 907.5 290.3 902.8 295 902.2C299.7 901.5 309.8 902.2 309.8 902.2L309.8 871L284.6 871Z" fill="#d9560f" fill-opacity="0.21"/>
<path d="M249.4 902.2C249.6 901.3 250.8 900.6 251.4 901.2C252.1 901.8 256 907.8 257.5 909.2C259 910.6 264.3 915.6 266.5 915.2C268.7 914.9 275.3 907.6 279.6 906.2C283.9 904.8 309.8 901.2 309.8 901.2L309.8 985.7C309.8 985.7 287.7 985.8 284.6 984.7C281.6 983.6 281.1 976.6 279.6 974.6C278.1 972.6 271.4 967.6 269.5 964.5C267.7 961.5 262.5 947.9 261.5 944.4C260.5 940.9 260.7 932.4 259.5 929.3C258.3 926.3 250.4 917 249.4 914.2C248.4 911.5 249.3 903.1 249.4 902.2Z" fill="#fbc4a0" fill-opacity="0.5" stroke="#f6ab72" stroke-width="1.25"/>
<path d="M284.6 871C284.6 871 284.3 885.2 283.6 894.1C283 903 281 920.3 280.6 924.3C280.2 928.3 279.6 934.4 279.6 934.4" fill="none" stroke="#d9560f" stroke-width="1.1"/>
<path d="M233.3 916.3C234 913.6 236.7 911.2 239.4 910.2C242 909.2 245.5 909.1 249.4 910.2C253.3 911.3 260.3 914.9 264.5 917.3C268.7 919.6 271.2 922.6 274.6 924.3C277.9 926 280.5 926.8 284.6 927.3C288.8 927.8 309.8 928.3 309.8 928.3L309.8 985.7C309.8 985.7 289.8 982 284.6 979.6C279.5 977.3 278.8 973.3 274.6 969.6C270.4 965.9 264.5 961.7 259.5 957.5C254.5 953.3 248.4 949.6 244.4 944.4C240.4 939.2 236.8 930.1 235.3 926.3C233.8 922.5 232.7 918.9 233.3 916.3Z" fill="#cdcbe8" fill-opacity="0.75" stroke="#9d9aca" stroke-width="1.25"/>
<path d="M257.5 939.4C258.3 937.6 261.4 936.1 264.5 935.4C267.7 934.7 273.6 934.6 279.6 934.4C285.7 934.1 309.8 933.4 309.8 933.4L309.8 969.6C309.8 969.6 284.5 966.1 279.6 964.5C274.7 963 272.9 959.5 269.5 956.5C266.2 953.5 261.2 948.8 259.5 946.4C257.8 944 256.6 941.2 257.5 939.4Z" fill="#cdcbe8" fill-opacity="0.75" stroke="#9d9aca" stroke-width="1.25"/>
<path d="M289.7 906.2C289.7 906.2 287.2 914.6 285.6 919.3C284.1 924 280.6 934.4 280.6 934.4" fill="none" stroke="#f3974f" stroke-width="1.3"/>
<path d="M281.6 924.3C281.9 919.6 283.3 916.1 287.7 914.2C292 912.4 309.8 912.2 309.8 912.2L309.8 985.7C309.8 985.7 293.9 985.3 289.7 982.7C285.5 980 285.4 975.1 284.6 969.6C283.9 964 281.4 929 281.6 924.3Z" fill="#cfcdea" fill-opacity="0.75" stroke="#6a51a3" stroke-width="1.02"/>
<path d="M283.6 927.3C283.6 927.3 286.5 925.3 288.7 925.3C290.8 925.3 309.8 927.3 309.8 927.3" fill="none" stroke="#96482a" stroke-width="0.72"/>
<path d="M300.7 949.5L299 957.3C299 957.3 296.3 961.7 294.4 963C292.6 964.3 290.3 965 288.2 965C286.1 965 283.7 964.3 281.9 963C280.1 961.7 278.3 959.5 277.3 957.3C276.2 955 275.6 952.1 275.6 949.5C275.6 946.9 276.2 943.9 277.3 941.7C278.3 939.4 280.1 937.2 281.9 936C283.7 934.7 286.1 933.9 288.2 933.9C290.3 933.9 292.6 934.7 294.4 936C296.3 937.2 299 941.7 299 941.7L300.7 949.5Z" fill="#3f007d" fill-opacity="0.07" stroke="#3f007d" stroke-width="1.27"/>
<path d="M298.9 949.9L297.4 956.9C297.4 956.9 294.8 960.8 293.2 962C291.6 963.2 289.4 963.9 287.6 963.9C285.7 963.9 283.5 963.2 281.9 962C280.3 960.8 278.7 958.9 277.8 956.9C276.8 954.8 276.2 952.2 276.2 949.9C276.2 947.5 276.8 944.9 277.8 942.8C278.7 940.8 280.3 938.9 281.9 937.7C283.5 936.5 285.7 935.8 287.6 935.8C289.4 935.8 291.6 936.5 293.2 937.7C294.8 938.9 297.4 942.8 297.4 942.8L298.9 949.9Z" fill="none" stroke="#96482a" stroke-width="0.9"/>
<path d="M302 949.5L300.1 958C300.1 958 297.1 962.9 295.1 964.3C293.1 965.7 290.5 966.6 288.2 966.6C285.9 966.6 283.2 965.7 281.2 964.3C279.2 962.9 277.3 960.5 276.2 958C275 955.6 274.3 952.3 274.3 949.5C274.3 946.6 275 943.4 276.2 940.9C277.3 938.4 279.2 936 281.2 934.6C283.2 933.2 285.9 932.3 288.2 932.3C290.5 932.3 293.1 933.2 295.1 934.6C297.1 936 300.1 940.9 300.1 940.9L302 949.5Z" fill="none" stroke="#6a51a3" stroke-width="0.9"/>
<path d="M296.7 949.5C296.7 949.5 296.3 953.4 295.6 955C294.9 956.6 293.7 958.1 292.4 959C291.2 960 289.6 960.5 288.2 960.5C286.7 960.5 285.1 960 283.9 959C282.6 958.1 281.5 956.6 280.8 955C280 953.4 279.6 951.3 279.6 949.5C279.6 947.6 280 945.5 280.8 943.9C281.5 942.3 282.6 940.8 283.9 939.9C285.1 938.9 286.7 938.4 288.2 938.4C289.6 938.4 291.2 938.9 292.4 939.9C293.7 940.8 294.9 942.3 295.6 943.9C296.3 945.5 296.7 949.5 296.7 949.5Z" fill="#3f007d" fill-opacity="0.07" stroke="#3f007d" stroke-width="1.27"/>
<path d="M295.3 949.9C295.3 951.5 294.9 953.4 294.2 954.8C293.6 956.3 292.5 957.7 291.4 958.5C290.3 959.3 288.8 959.8 287.6 959.8C286.3 959.8 284.8 959.3 283.7 958.5C282.6 957.7 281.5 956.3 280.9 954.8C280.2 953.4 279.9 951.5 279.9 949.9C279.9 948.2 280.2 946.3 280.9 944.9C281.5 943.4 282.6 942.1 283.7 941.2C284.8 940.4 286.3 939.9 287.6 939.9C288.8 939.9 290.3 940.4 291.4 941.2C292.5 942.1 293.6 943.4 294.2 944.9C294.9 946.3 295.3 948.2 295.3 949.9Z" fill="none" stroke="#96482a" stroke-width="0.9"/>
<path d="M297.6 949.5C297.6 949.5 297.1 953.8 296.3 955.5C295.5 957.3 294.2 959 292.9 960C291.5 961 289.7 961.6 288.2 961.6C286.6 961.6 284.8 961 283.5 960C282.1 959 280.8 957.3 280 955.5C279.2 953.8 278.8 951.5 278.8 949.5C278.8 947.4 279.2 945.1 280 943.4C280.8 941.6 282.1 939.9 283.5 938.9C284.8 937.9 286.6 937.3 288.2 937.3C289.7 937.3 291.5 937.9 292.9 938.9C294.2 939.9 295.5 941.6 296.3 943.4C297.1 945.1 297.6 949.5 297.6 949.5Z" fill="none" stroke="#6a51a3" stroke-width="0.9"/>
<path d="M292.2 949.5C292.2 950.5 292 951.8 291.6 952.7C291.2 953.7 290.6 954.6 289.9 955.1C289.3 955.7 288.4 956 287.7 956C286.9 956 286 955.7 285.4 955.1C284.7 954.6 284.1 953.7 283.7 952.7C283.4 951.8 283.1 950.5 283.1 949.5C283.1 948.4 283.4 947.1 283.7 946.2C284.1 945.2 284.7 944.3 285.4 943.8C286 943.2 286.9 942.9 287.7 942.9C288.4 942.9 289.3 943.2 289.9 943.8C290.6 944.3 291.2 945.2 291.6 946.2C292 947.1 292.2 948.4 292.2 949.5Z" fill="#3f007d" fill-opacity="0.1" stroke="#3f007d" stroke-width="1.27"/>
<path d="M291.1 949.9C291.1 950.8 290.9 952 290.6 952.8C290.2 953.7 289.7 954.5 289.1 955C288.5 955.4 287.7 955.7 287.1 955.7C286.4 955.7 285.6 955.4 285 955C284.4 954.5 283.9 953.7 283.5 952.8C283.2 952 283 950.8 283 949.9C283 948.9 283.2 947.8 283.5 946.9C283.9 946.1 284.4 945.3 285 944.8C285.6 944.3 286.4 944 287.1 944C287.7 944 288.5 944.3 289.1 944.8C289.7 945.3 290.2 946.1 290.6 946.9C290.9 947.8 291.1 948.9 291.1 949.9Z" fill="none" stroke="#96482a" stroke-width="0.9"/>
<path d="M292.6 949.5C292.6 950.7 292.4 952 292 953.1C291.6 954.1 290.9 955.1 290.1 955.7C289.4 956.3 288.5 956.6 287.7 956.6C286.8 956.6 285.9 956.3 285.2 955.7C284.4 955.1 283.8 954.1 283.3 953.1C282.9 952 282.7 950.7 282.7 949.5C282.7 948.3 282.9 946.9 283.3 945.9C283.8 944.8 284.4 943.8 285.2 943.2C285.9 942.6 286.8 942.3 287.7 942.3C288.5 942.3 289.4 942.6 290.1 943.2C290.9 943.8 291.6 944.8 292 945.9C292.4 946.9 292.6 948.3 292.6 949.5Z" fill="none" stroke="#6a51a3" stroke-width="0.9"/>
<path d="M289.7 959.5C289.7 959.5 289.3 970.1 292.7 972.6C296 975.1 309.8 974.6 309.8 974.6" fill="none" stroke="#d9560f" stroke-width="0.85"/></g>
<clipPath id="c72"><rect x="300.9" y="873.7" width="115.7" height="115.7"/></clipPath><g clip-path="url(#c72)"><path d="M352.3 871C352.3 871 351.4 891.2 351.3 894.1C351.2 897 349 912.9 350.3 914.2C351.6 915.6 370 914.9 371.4 914.2C372.8 913.6 371.5 905.9 371.4 904.2C371.4 902.5 370.6 891.3 370.4 889.1C370.3 886.9 369.4 871 369.4 871L352.3 871Z" fill="#d9560f" fill-opacity="0.21"/>
<path d="M352.3 871C352.3 871 351.6 886.1 351.3 894.1C351 902.2 350.3 919.3 350.3 919.3" fill="none" stroke="#d9560f" stroke-width="1.1"/>
<path d="M369.4 871C369.4 871 370.1 883.2 370.4 889.1C370.8 895 371.4 906.2 371.4 906.2" fill="none" stroke="#d9560f" stroke-width="1.1"/>
<path d="M357.3 912.2C356.9 910.8 360.8 894.5 361.4 894.1C361.9 893.8 365 905.7 365.4 907.2C365.8 908.7 367.9 915.9 367.4 916.3C366.9 916.6 357.7 913.7 357.3 912.2Z" fill="#f9a25b" fill-opacity="0.4" stroke="#d9560f" stroke-width="1.1"/>
<path d="M372.4 890.1C372.9 886 376 896 377.5 899.2C379 902.3 379.5 906.2 381.5 909.2C383.5 912.2 386.5 916.4 389.5 917.3C392.6 918.1 396.2 915.1 399.6 914.2C402.9 913.4 407 911.4 409.7 912.2C412.3 913.1 413.1 916.6 415.7 919.3C418.3 921.9 431.8 934.4 431.8 934.4C431.8 934.4 418.6 945.2 414.7 949.5C410.7 953.7 410.2 958.2 406.6 961.5C403.1 964.9 395.6 967.5 393.6 969.6C391.5 971.6 393.2 975.1 391.5 976.6C389.9 978.1 385.2 979.8 383.5 978.6C381.8 977.5 382.3 973.2 381.5 969.6C380.7 966 374.9 947.6 373.4 934.4C371.9 921.1 372 894.2 372.4 890.1Z" fill="#fbc4a0" fill-opacity="0.5" stroke="#f6ab72" stroke-width="1.25"/>
<path d="M384.5 931.3C386 927.7 393.1 931.2 396.6 930.3C400.1 929.5 403.5 925.6 405.6 926.3C407.8 927 409.3 930.8 409.7 934.4C410 937.9 409.3 943.8 407.6 947.4C406 951.1 402.3 954.3 399.6 956.5C396.9 958.7 393.6 961.2 391.5 960.5C389.5 959.9 388.4 956 387.5 952.5C386.7 949 383 935 384.5 931.3Z" fill="#fb9d62" fill-opacity="0.35" stroke="#f3974f" stroke-width="1.25"/>
<path d="M385.5 934.4C386.2 932.5 390 937.4 391.5 939.4C393.1 941.4 394.6 944.1 394.6 946.4C394.6 948.8 392.7 952.8 391.5 953.5C390.4 954.2 388.1 952.4 387.5 950.5C386.9 948.5 384.8 936.2 385.5 934.4Z" fill="#f9964a" fill-opacity="0.85"/>
<path d="M370.4 909.2C370.5 907.4 373.2 905.9 374.4 907.2C375.6 908.5 378.3 915.4 379.5 919.3C380.6 923.1 382.5 928.5 381.5 930.3C380.5 932.2 374.9 933.2 373.4 930.3C371.9 927.5 370.3 911 370.4 909.2Z" fill="#cdcbe8" fill-opacity="0.5" stroke="#9d9aca" stroke-width="1.25"/>
<path d="M347.3 944.4C347.4 939.7 347.9 934.4 349.3 929.3C350.6 924.3 353.8 916.7 355.3 914.2C356.9 911.8 359.2 910.2 361.4 910.2C363.5 910.2 366.7 911.9 368.4 914.2C370.1 916.6 369.6 921.6 371.4 924.3C373.3 927 377.2 927 379.5 930.3C381.8 933.6 384.2 939.6 385.5 944.4C386.9 949.3 387.4 955.5 387.5 959.5C387.7 963.6 387.5 966.6 386.5 969.6C385.5 972.6 384 975.4 381.5 977.6C379 979.8 374.8 982.5 371.4 982.7C368.1 982.8 364.4 980.8 361.4 978.6C358.3 976.5 355.5 973.1 353.3 969.6C351.1 966.1 349.3 961.7 348.3 957.5C347.3 953.3 347.1 949.1 347.3 944.4Z" fill="#cfcdea" fill-opacity="0.75" stroke="#6a51a3" stroke-width="1.02"/>
<path d="M348.7 944.6C348.8 940.2 349.3 935.3 350.5 930.6C351.8 925.9 354.7 918.8 356.2 916.5C357.6 914.3 359.7 912.8 361.8 912.8C363.8 912.8 366.8 914.4 368.3 916.5C369.9 918.7 369.4 923.4 371.1 925.9C372.8 928.4 376.5 928.4 378.6 931.5C380.8 934.6 383 940.1 384.2 944.6C385.5 949.1 385.9 954.9 386.1 958.6C386.2 962.4 386.1 965.2 385.2 968C384.2 970.8 382.8 973.5 380.5 975.5C378.1 977.5 374.2 980 371.1 980.2C368 980.3 364.6 978.5 361.8 976.4C359 974.4 356.3 971.3 354.3 968C352.3 964.7 350.5 960.7 349.6 956.8C348.7 952.9 348.5 949 348.7 944.6Z" fill="none" stroke="#d9560f" stroke-width="0.8"/>
<path d="M350.9 944.9C351 941.1 351.4 936.7 352.5 932.5C353.6 928.4 356.2 922.2 357.5 920.2C358.7 918.1 360.6 916.9 362.4 916.9C364.2 916.9 366.8 918.2 368.2 920.2C369.6 922.1 369.2 926.2 370.7 928.4C372.2 930.6 375.4 930.7 377.3 933.4C379.2 936.1 381.1 940.9 382.2 944.9C383.3 948.9 383.7 954 383.9 957.3C384 960.6 383.9 963.1 383 965.5C382.2 968 381 970.3 378.9 972.1C376.9 973.9 373.4 976.1 370.7 976.3C367.9 976.4 364.9 974.7 362.4 973C359.9 971.2 357.6 968.4 355.8 965.5C354 962.6 352.5 959.1 351.7 955.6C350.9 952.2 350.7 948.8 350.9 944.9Z" fill="none" stroke="#fdd8b3" stroke-width="1.1"/>
<path d="M347.7 944.8C347.8 940.1 348.4 934.8 349.7 929.7C351 924.7 354.2 917.1 355.7 914.6C357.3 912.2 359.6 910.6 361.8 910.6C363.9 910.6 367.1 912.3 368.8 914.6C370.5 917 370 922 371.8 924.7C373.7 927.4 377.6 927.4 379.9 930.7C382.2 934 384.6 940 385.9 944.8C387.3 949.7 387.8 955.9 387.9 959.9C388.1 964 387.9 967 386.9 970C385.9 973 384.4 975.8 381.9 978C379.4 980.2 375.2 982.9 371.8 983.1C368.5 983.2 364.8 981.2 361.8 979C358.7 976.9 355.9 973.5 353.7 970C351.5 966.5 349.7 962.1 348.7 957.9C347.7 953.7 347.5 949.5 347.7 944.8Z" fill="none" stroke="#96482a" stroke-width="0.87"/>
<path d="M354.3 949.5C354.2 944.4 356 937.5 357.3 934.4C358.7 931.2 361 928.7 363.4 928.3C365.7 928 369.1 929.7 371.4 932.4C373.8 935 376.3 939.9 377.5 944.4C378.6 949 378.8 955.2 378.5 959.5C378.1 963.9 377.5 968.4 375.4 970.6C373.4 972.8 369.2 973.6 366.4 972.6C363.5 971.6 360.4 968.4 358.3 964.5C356.3 960.7 354.5 954.5 354.3 949.5Z" fill="#aaa6d9" fill-opacity="0.75" stroke="#6a51a3" stroke-width="1.02"/>
<path d="M355.2 949.5C355.1 944.9 356.8 938.4 358 935.5C359.3 932.6 361.4 930.2 363.6 929.9C365.8 929.6 368.9 931.1 371.1 933.6C373.3 936.1 375.6 940.7 376.7 944.9C377.8 949.1 378 954.8 377.7 958.9C377.3 963 376.7 967.2 374.9 969.2C373 971.2 369.1 972 366.4 971.1C363.8 970.1 360.8 967.2 358.9 963.6C357.1 960 355.4 954.2 355.2 949.5Z" fill="none" stroke="#d9560f" stroke-width="0.8"/>
<path d="M356.6 949.7C356.5 945.6 358 939.9 359.1 937.3C360.2 934.7 362.1 932.6 364 932.4C365.9 932.1 368.7 933.5 370.6 935.7C372.5 937.9 374.6 941.8 375.6 945.6C376.5 949.3 376.7 954.4 376.4 957.9C376.1 961.5 375.6 965.2 373.9 967C372.3 968.8 368.8 969.5 366.5 968.7C364.2 967.8 361.5 965.2 359.9 962.1C358.2 958.9 356.7 953.8 356.6 949.7Z" fill="none" stroke="#fdd8b3" stroke-width="1.1"/>
<path d="M354.7 949.9C354.6 944.8 356.4 937.9 357.7 934.8C359.1 931.6 361.4 929.1 363.8 928.7C366.1 928.4 369.5 930.1 371.8 932.8C374.2 935.4 376.7 940.3 377.9 944.8C379 949.4 379.2 955.6 378.9 959.9C378.5 964.3 377.9 968.8 375.9 971C373.8 973.2 369.6 974 366.8 973C363.9 972 360.8 968.8 358.7 964.9C356.7 961.1 354.9 954.9 354.7 949.9Z" fill="none" stroke="#d9560f" stroke-width="1.02"/>
<path d="M360.4 946.4C360.4 943.4 362.4 939.7 363.4 939.4C364.4 939.1 366 942.1 366.4 944.4C366.8 946.7 366.7 955.3 366.4 956.5C366.1 957.7 364 958.6 363.4 957.5C362.7 956.4 360.4 949.5 360.4 946.4Z" fill="#7f78c4" fill-opacity="0.85"/>
<path d="M360.4 946.4C360.4 943.1 362.2 938.7 363.4 938.4C364.6 938.1 366.8 941.6 367.4 944.4C368 947.3 367.9 954.8 367.4 956.5C366.9 958.2 364.4 960 363.4 958.5C362.3 957 360.4 949.8 360.4 946.4Z" fill="none" stroke="#d9560f" stroke-width="1.1"/>
<path d="M381.6 949.2C382.1 952.1 382.3 955.4 382.1 958C382 960.6 381.4 963.3 380.7 964.8C379.9 966.4 378.7 967.6 377.5 967.8C376.3 968 374.8 967.3 373.5 966.1C372.3 964.9 370.8 962.6 369.8 960.2C368.8 957.8 367.8 954.6 367.3 951.7C366.8 948.8 366.6 945.5 366.7 942.9C366.9 940.3 367.5 937.6 368.2 936.1C369 934.5 370.2 933.3 371.4 933.1C372.6 932.9 374.1 933.6 375.4 934.8C376.6 936 378.1 938.3 379.1 940.7C380.1 943.1 381.1 946.3 381.6 949.2Z" fill="#3f007d" fill-opacity="0.07" stroke="#3f007d" stroke-width="1.27"/>
<path d="M380.3 949.7C380.7 952.3 380.9 955.3 380.8 957.7C380.6 960 380.1 962.4 379.4 963.8C378.8 965.2 377.7 966.3 376.6 966.5C375.5 966.7 374.1 966 373 964.9C371.9 963.9 370.6 961.8 369.7 959.6C368.7 957.5 367.9 954.6 367.4 952C367 949.4 366.8 946.4 366.9 944C367 941.7 367.6 939.3 368.2 937.9C368.9 936.5 370 935.4 371.1 935.3C372.2 935.1 373.6 935.7 374.7 936.8C375.8 937.9 377.1 939.9 378 942.1C379 944.2 379.8 947.1 380.3 949.7Z" fill="none" stroke="#96482a" stroke-width="0.9"/>
<path d="M382.3 949.1C382.9 952.3 383.1 955.9 382.9 958.8C382.8 961.7 382.1 964.6 381.3 966.3C380.5 968 379.1 969.3 377.8 969.5C376.5 969.8 374.8 969 373.4 967.7C372.1 966.3 370.5 963.8 369.3 961.2C368.2 958.6 367.2 955 366.6 951.8C366 948.7 365.8 945 366 942.1C366.1 939.3 366.8 936.4 367.6 934.6C368.4 932.9 369.8 931.6 371.1 931.4C372.4 931.2 374.1 931.9 375.5 933.3C376.8 934.6 378.4 937.1 379.6 939.7C380.7 942.4 381.7 945.9 382.3 949.1Z" fill="none" stroke="#6a51a3" stroke-width="0.9"/>
<path d="M379.4 949.6C379.8 951.7 379.9 954 379.8 955.9C379.7 957.8 379.3 959.7 378.8 960.8C378.3 961.9 377.5 962.7 376.6 962.8C375.8 963 374.7 962.5 373.9 961.6C373 960.8 372 959.1 371.2 957.4C370.5 955.7 369.9 953.4 369.5 951.3C369.1 949.3 369 946.9 369.1 945C369.2 943.2 369.6 941.3 370.1 940.2C370.6 939.1 371.4 938.2 372.3 938.1C373.1 937.9 374.2 938.4 375 939.3C375.9 940.2 376.9 941.8 377.6 943.5C378.4 945.2 379 947.5 379.4 949.6Z" fill="#3f007d" fill-opacity="0.07" stroke="#3f007d" stroke-width="1.27"/>
<path d="M378.3 950.1C378.6 951.9 378.8 954.1 378.7 955.8C378.6 957.4 378.2 959.1 377.8 960.1C377.3 961.1 376.5 961.9 375.8 962C375.1 962.1 374.1 961.7 373.3 960.9C372.5 960.1 371.6 958.7 371 957.1C370.3 955.6 369.7 953.5 369.4 951.6C369.1 949.8 368.9 947.6 369 946C369.1 944.3 369.5 942.6 369.9 941.6C370.4 940.6 371.1 939.8 371.9 939.7C372.6 939.6 373.6 940 374.4 940.8C375.1 941.6 376.1 943.1 376.7 944.6C377.4 946.2 378 948.2 378.3 950.1Z" fill="none" stroke="#96482a" stroke-width="0.9"/>
<path d="M379.9 949.5C380.3 951.8 380.5 954.4 380.4 956.4C380.3 958.5 379.8 960.6 379.2 961.8C378.7 963 377.8 963.9 376.8 964.1C375.9 964.2 374.7 963.7 373.8 962.7C372.9 961.8 371.7 960 370.9 958.1C370.1 956.2 369.4 953.7 369 951.4C368.6 949.2 368.4 946.5 368.5 944.5C368.6 942.4 369.1 940.4 369.6 939.1C370.2 937.9 371.1 937 372 936.8C372.9 936.7 374.2 937.2 375.1 938.2C376 939.1 377.2 940.9 378 942.8C378.8 944.7 379.5 947.2 379.9 949.5Z" fill="none" stroke="#6a51a3" stroke-width="0.9"/>
<path d="M376.9 949.5C377.1 950.6 377.2 952 377.2 953C377.1 954.1 376.9 955.1 376.6 955.7C376.4 956.3 375.9 956.8 375.5 956.9C375 957 374.4 956.7 374 956.2C373.5 955.7 372.9 954.8 372.5 953.8C372.1 952.9 371.8 951.6 371.6 950.4C371.4 949.3 371.3 947.9 371.3 946.9C371.4 945.9 371.6 944.8 371.8 944.2C372.1 943.6 372.6 943.1 373 943C373.5 942.9 374.1 943.2 374.5 943.7C375 944.2 375.5 945.1 375.9 946.1C376.3 947 376.7 948.3 376.9 949.5Z" fill="#3f007d" fill-opacity="0.1" stroke="#3f007d" stroke-width="1.27"/>
<path d="M376 949.9C376.2 951 376.3 952.2 376.3 953.1C376.2 954.1 376 955 375.8 955.6C375.6 956.1 375.1 956.5 374.7 956.6C374.3 956.7 373.8 956.4 373.4 956C373 955.5 372.5 954.7 372.1 953.8C371.7 953 371.4 951.8 371.2 950.8C371 949.7 371 948.5 371 947.6C371 946.7 371.2 945.7 371.5 945.2C371.7 944.6 372.1 944.2 372.5 944.1C372.9 944 373.5 944.3 373.9 944.7C374.3 945.2 374.8 946 375.2 946.9C375.5 947.7 375.9 948.9 376 949.9Z" fill="none" stroke="#96482a" stroke-width="0.9"/>
<path d="M377.2 949.4C377.4 950.7 377.5 952.2 377.5 953.3C377.4 954.5 377.2 955.6 376.9 956.3C376.6 957 376.1 957.5 375.6 957.6C375.1 957.7 374.4 957.4 373.9 956.8C373.4 956.3 372.8 955.3 372.4 954.2C371.9 953.2 371.5 951.7 371.3 950.5C371.1 949.2 371 947.7 371 946.6C371.1 945.4 371.3 944.3 371.6 943.6C371.9 942.9 372.4 942.4 372.9 942.3C373.4 942.2 374 942.6 374.5 943.1C375.1 943.6 375.7 944.6 376.1 945.7C376.6 946.8 377 948.2 377.2 949.4Z" fill="none" stroke="#6a51a3" stroke-width="0.9"/></g>
<clipPath id="c73"><rect x="422.4" y="873.7" width="115.7" height="115.7"/></clipPath><g clip-path="url(#c73)"><path d="M406.9 871L489.4 871C489.4 871 493.7 900.3 494.4 904.2C495.2 908.1 499.8 927 500.5 929.3C501.1 931.7 508.8 938.9 504.5 939.4C500.2 939.9 406.9 939.4 406.9 939.4L406.9 871Z" fill="#d9560f" fill-opacity="0.24"/>
<path d="M489.4 871C489.4 871 492.6 894.5 494.4 904.2C496.3 913.9 499.3 925.2 500.5 929.3C501.7 933.5 504.5 939.4 504.5 939.4" fill="none" stroke="#d9560f" stroke-width="1.1"/>
<path d="M406.9 907.2C406.9 907.2 434.1 903.8 442.1 903.2C450.1 902.6 457.9 902.6 462.2 903.2C466.5 903.7 468.1 906.2 472.3 907.2C476.5 908.2 485.7 908.5 492.4 910.2C499.1 911.9 506.8 914.2 512.5 917.3C518.2 920.3 523.8 924.7 526.6 928.3C529.4 932 529.8 935.4 529.6 939.4C529.5 943.4 527.6 948.8 525.6 952.5C523.6 956.2 520.9 959.2 517.6 961.5C514.2 963.9 510 963.9 505.5 966.6C501 969.3 494.6 976.8 487.4 979.6C480.2 982.5 472.4 983.3 462.2 983.7C452.1 984 406.9 982.7 406.9 982.7L406.9 907.2Z" fill="#fbc4a0" fill-opacity="0.5" stroke="#f6ab72" stroke-width="1.25"/>
<path d="M406.9 907.2C406.9 907.2 434.1 903.8 442.1 903.2C450.1 902.6 457.9 902.6 462.2 903.2C466.5 903.7 468.1 906.2 472.3 907.2C476.5 908.2 485.7 908.5 492.4 910.2C499.1 911.9 506.8 914.2 512.5 917.3C518.2 920.3 523.8 924.7 526.6 928.3C529.4 932 529.8 935.4 529.6 939.4C529.5 943.4 527.6 948.8 525.6 952.5C523.6 956.2 520.9 959.2 517.6 961.5C514.2 963.9 505.5 966.6 505.5 966.6" fill="none" stroke="#f3974f" stroke-width="1.25"/>
<path d="M406.9 914.2C406.9 914.2 442.1 912.9 452.2 912.7C462.2 912.6 470.6 911.8 477.3 913.2C484 914.7 488.2 917.8 492.4 921.3C496.6 924.8 500.3 929.7 502.5 934.4C504.7 939.1 505.5 944.4 505.5 949.5C505.5 954.5 504.7 960.4 502.5 964.5C500.3 968.7 497.5 972.1 492.4 974.6C487.4 977.1 480.5 978.6 472.3 979.6C464.1 980.6 453 981.1 442.1 980.6C431.2 980.1 406.9 976.6 406.9 976.6L406.9 914.2Z" fill="#d6d4ee" fill-opacity="0.55" stroke="#9d9aca" stroke-width="1.25"/>
<path d="M406.9 914.2C406.9 914.2 442.1 912.9 452.2 912.7C462.2 912.6 470.6 911.8 477.3 913.2C484 914.7 488.2 917.8 492.4 921.3C496.6 924.8 500.3 929.7 502.5 934.4C504.7 939.1 505.5 944.4 505.5 949.5C505.5 954.5 504.7 960.4 502.5 964.5C500.3 968.7 497.5 972.1 492.4 974.6C487.4 977.1 480.5 978.6 472.3 979.6C464.1 980.6 453 981.1 442.1 980.6C431.2 980.1 406.9 976.6 406.9 976.6L406.9 914.2Z" fill="#cfcdea" fill-opacity="0.35" stroke="#6a51a3" stroke-width="1.1"/>
<path d="M411.2 916.6C411.2 916.6 444 915.3 453.3 915.2C462.7 915 470.5 914.3 476.7 915.6C482.9 917 486.8 919.8 490.7 923.1C494.6 926.4 498.1 930.9 500.1 935.3C502.1 939.6 502.9 944.6 502.9 949.3C502.9 954 502.1 959.4 500.1 963.3C498.1 967.2 495.4 970.4 490.7 972.7C486.1 975 479.7 976.5 472 977.4C464.4 978.3 454.1 978.8 444 978.3C433.8 977.8 411.2 974.6 411.2 974.6L411.2 916.6Z" fill="none" stroke="#d9560f" stroke-width="0.8"/>
<path d="M418 920.2C418 920.2 446.9 919.1 455.1 919C463.4 918.9 470.2 918.2 475.7 919.4C481.2 920.6 484.7 923.1 488.1 926C491.5 928.9 494.6 932.9 496.4 936.7C498.1 940.6 498.8 945 498.8 949.1C498.8 953.2 498.1 958 496.4 961.5C494.6 964.9 492.2 967.6 488.1 969.7C484 971.8 478.4 973 471.6 973.8C464.9 974.6 455.8 975.1 446.9 974.7C437.9 974.2 418 971.4 418 971.4L418 920.2Z" fill="none" stroke="#fdd8b3" stroke-width="1.1"/>
<path d="M407.2 913.5C407.2 913.5 442.4 912.2 452.5 912C462.5 911.9 470.9 911.1 477.6 912.5C484.3 914 488.5 917.1 492.7 920.6C496.9 924.1 500.6 929 502.8 933.7C505 938.4 505.8 943.7 505.8 948.8C505.8 953.8 505 959.7 502.8 963.8C500.6 968 497.8 971.4 492.7 973.9C487.7 976.4 480.8 977.9 472.6 978.9C464.4 979.9 453.3 980.4 442.4 979.9C431.5 979.4 407.2 975.9 407.2 975.9L407.2 913.5Z" fill="none" stroke="#d9560f" stroke-width="1.02"/>
<path d="M406.9 926.3C406.9 926.3 442 925.7 452.2 926.3C462.4 926.9 470.6 928.2 477.3 930.3C484 932.5 489.2 936 492.4 939.4C495.6 942.7 496.4 946.6 496.4 950.5C496.4 954.3 495.6 959.2 492.4 962.5C489.2 965.9 483.9 968.8 477.3 970.6C470.7 972.4 462.3 973.5 452.2 973.6C442.1 973.7 406.9 971.6 406.9 971.6L406.9 926.3Z" fill="none" stroke="#96482a" stroke-width="1.01"/>
<path d="M458.2 975.6C458.2 975.6 458.2 973.6 458.2 973.6C458.2 973.6 474.3 973.6 474.3 973.6C474.3 973.6 474.3 975.6 474.3 975.6C474.3 975.6 458.2 975.6 458.2 975.6Z" fill="none" stroke="#f3974f" stroke-width="1.25"/>
<path d="M497.5 949.5C497.5 952.3 494.3 955.9 490.4 958.1C486.6 960.3 478.8 963 471.3 964.4C463.7 965.9 453.9 966.8 445.1 966.8C436.4 966.8 419 964.4 419 964.4L399.8 958.1L392.8 949.5L399.8 940.8L419 934.5C419 934.5 436.4 932.2 445.1 932.2C453.9 932.2 463.7 933 471.3 934.5C478.8 935.9 486.6 938.6 490.4 940.8C494.3 943 497.5 946.6 497.5 949.5Z" fill="#3f007d" fill-opacity="0.06" stroke="#3f007d" stroke-width="1.44"/>
<path d="M491.6 949.9C491.6 952.5 488.8 955.7 485.3 957.6C481.8 959.6 474.9 962 468.1 963.3C461.3 964.6 452.4 965.4 444.5 965.4C436.7 965.4 427.8 964.6 421 963.3C414.2 962 403.8 957.6 403.8 957.6L397.5 949.9L403.8 942.1C403.8 942.1 414.2 937.7 421 936.4C427.8 935.1 436.7 934.3 444.5 934.3C452.4 934.3 461.3 935.1 468.1 936.4C474.9 937.7 481.8 940.1 485.3 942.1C488.8 944.1 491.6 947.3 491.6 949.9Z" fill="none" stroke="#96482a" stroke-width="0.9"/>
<path d="M502.7 949.5C502.7 952.6 499.2 956.5 495 959C490.7 961.4 482.2 964.4 473.9 965.9C465.6 967.5 454.7 968.5 445.1 968.5C435.5 968.5 416.4 965.9 416.4 965.9L395.3 959L387.6 949.5L395.3 939.9L416.4 933C416.4 933 435.5 930.4 445.1 930.4C454.7 930.4 465.6 931.4 473.9 933C482.2 934.6 490.7 937.5 495 939.9C499.2 942.4 502.7 946.3 502.7 949.5Z" fill="none" stroke="#6a51a3" stroke-width="0.9"/>
<path d="M487.4 949.5C487.4 951.5 484.7 954.1 481.7 955.6C478.8 957.1 472.4 959.1 466.3 960.1C460.2 961.1 452.2 961.7 445.1 961.7C438.1 961.7 430.1 961.1 424 960.1C417.9 959.1 408.5 955.6 408.5 955.6L402.9 949.5L408.5 943.3C408.5 943.3 417.9 939.8 424 938.8C430.1 937.8 438.1 937.2 445.1 937.2C452.2 937.2 460.2 937.8 466.3 938.8C472.4 939.8 478.8 941.8 481.7 943.3C484.7 944.8 487.4 947.4 487.4 949.5Z" fill="#3f007d" fill-opacity="0.06" stroke="#3f007d" stroke-width="1.44"/>
<path d="M482.6 949.9C482.6 951.7 480.2 954 477.5 955.4C474.8 956.7 469 958.5 463.6 959.4C458.1 960.3 450.9 960.9 444.5 960.9C438.2 960.9 431 960.3 425.5 959.4C420 958.5 411.6 955.4 411.6 955.4L406.5 949.9L411.6 944.3C411.6 944.3 420 941.2 425.5 940.3C431 939.4 438.2 938.8 444.5 938.8C450.9 938.8 458.1 939.4 463.6 940.3C469 941.2 474.8 943 477.5 944.3C480.2 945.7 482.6 948 482.6 949.9Z" fill="none" stroke="#96482a" stroke-width="0.9"/>
<path d="M491.6 949.5C491.6 951.7 488.7 954.6 485.4 956.2C482.1 957.9 475.1 960 468.4 961.1C461.7 962.3 452.9 963 445.1 963C437.4 963 428.6 962.3 421.9 961.1C415.2 960 404.9 956.2 404.9 956.2L398.7 949.5L404.9 942.7C404.9 942.7 415.2 938.9 421.9 937.8C428.6 936.6 437.4 936 445.1 936C452.9 936 461.7 936.6 468.4 937.8C475.1 938.9 482.1 941.1 485.4 942.7C488.7 944.4 491.6 947.2 491.6 949.5Z" fill="none" stroke="#6a51a3" stroke-width="0.9"/>
<path d="M492.4 950.5C492.4 953 489.5 956.1 486.1 958C482.6 959.9 475.6 962.3 468.8 963.5C462 964.8 453 965.6 445.1 965.6C437.3 965.6 428.3 964.8 421.5 963.5C414.7 962.3 404.2 958 404.2 958L397.9 950.5L404.2 942.9C404.2 942.9 414.7 938.6 421.5 937.4C428.3 936.1 437.3 935.4 445.1 935.4C453 935.4 462 936.1 468.8 937.4C475.6 938.6 482.6 941 486.1 942.9C489.5 944.8 492.4 947.9 492.4 950.5Z" fill="none" stroke="#d9560f" stroke-width="1.1"/>
<path d="M477.3 949C477.3 950.2 475.3 951.7 473.3 952.6C471.3 953.4 466.6 954.6 462.2 955.2C457.9 955.8 452.2 956.2 447.2 956.2C442.1 956.2 436.4 955.8 432.1 955.2C427.7 954.6 423 953.4 421 952.6C419 951.7 417 949 417 949C417 949 419 946.2 421 945.3C423 944.5 427.7 943.3 432.1 942.7C436.4 942.1 442.1 941.7 447.2 941.7C452.2 941.7 457.9 942.1 462.2 942.7C466.6 943.3 471.3 944.5 473.3 945.3C475.3 946.2 477.3 947.7 477.3 949Z" fill="#3f007d" fill-opacity="0.07" stroke="#3f007d" stroke-width="1.44"/>
<path d="M473.7 949.4C473.7 950.4 471.9 951.9 470.1 952.6C468.3 953.4 464.1 954.5 460.1 955C456.2 955.5 451.1 955.9 446.5 955.9C442 955.9 436.9 955.5 433 955C429 954.5 424.8 953.4 423 952.6C421.2 951.9 419.4 949.4 419.4 949.4C419.4 949.4 421.2 946.8 423 946.1C424.8 945.3 429 944.3 433 943.7C436.9 943.2 442 942.8 446.5 942.8C451.1 942.8 456.2 943.2 460.1 943.7C464.1 944.3 468.3 945.3 470.1 946.1C471.9 946.8 473.7 948.3 473.7 949.4Z" fill="none" stroke="#96482a" stroke-width="0.9"/>
<path d="M480.4 949C480.4 950.3 478.1 952 475.9 952.9C473.7 953.9 468.5 955.2 463.8 955.9C459 956.5 452.7 956.9 447.2 956.9C441.6 956.9 435.3 956.5 430.6 955.9C425.8 955.2 418.4 952.9 418.4 952.9L414 949L418.4 945C418.4 945 425.8 942.7 430.6 942.1C435.3 941.4 441.6 941 447.2 941C452.7 941 459 941.4 463.8 942.1C468.5 942.7 473.7 944.1 475.9 945C478.1 945.9 480.4 947.6 480.4 949Z" fill="none" stroke="#6a51a3" stroke-width="0.9"/>
<path d="M482.4 949.5C482.4 951 480.1 953.1 477.6 954.2C475.2 955.4 469.8 956.9 464.8 957.7C459.7 958.5 453 959 447.2 959C441.3 959 434.6 958.5 429.5 957.7C424.5 956.9 416.7 954.2 416.7 954.2L411.9 949.5L416.7 944.7C416.7 944.7 424.5 942 429.5 941.2C434.6 940.4 441.3 939.9 447.2 939.9C453 939.9 459.7 940.4 464.8 941.2C469.8 942 475.2 943.5 477.6 944.7C480.1 945.8 482.4 947.9 482.4 949.5Z" fill="none" stroke="#d9560f" stroke-width="1.1"/>
<path d="M469.8 947.9C469.8 948.6 468.3 949.4 467 949.9C465.7 950.3 462.5 950.9 459.5 951.3C456.5 951.6 452.6 951.8 449.2 951.8C445.7 951.8 441.8 951.6 438.9 951.3C435.9 950.9 432.6 950.3 431.3 949.9C430 949.4 428.5 948.6 428.5 947.9C428.5 947.3 430 946.4 431.3 946C432.6 945.6 435.9 945 438.9 944.6C441.8 944.3 445.7 944.1 449.2 944.1C452.6 944.1 456.5 944.3 459.5 944.6C462.5 945 465.7 945.6 467 946C468.3 946.4 469.8 947.3 469.8 947.9Z" fill="#3f007d" fill-opacity="0.95" stroke="#3f007d" stroke-width="0.85"/>
<path d="M467.1 948.3C467.1 948.9 465.8 949.7 464.6 950.1C463.5 950.4 460.5 951 457.8 951.3C455.2 951.6 451.7 951.8 448.6 951.8C445.5 951.8 442 951.6 439.3 951.3C436.6 951 433.6 950.4 432.5 950.1C431.3 949.7 430 948.9 430 948.3C430 947.8 431.3 947 432.5 946.6C433.6 946.3 436.6 945.7 439.3 945.4C442 945.1 445.5 944.9 448.6 944.9C451.7 944.9 455.2 945.1 457.8 945.4C460.5 945.7 463.5 946.3 464.6 946.6C465.8 947 467.1 947.8 467.1 948.3Z" fill="none" stroke="#96482a" stroke-width="0.9"/>
<path d="M471.9 947.9C471.9 948.6 470.2 949.6 468.8 950C467.4 950.5 463.8 951.2 460.5 951.6C457.2 951.9 452.9 952.2 449.2 952.2C445.4 952.2 441.1 951.9 437.8 951.6C434.5 951.2 430.9 950.5 429.5 950C428.1 949.6 426.5 948.6 426.5 947.9C426.5 947.2 428.1 946.3 429.5 945.8C430.9 945.4 434.5 944.7 437.8 944.3C441.1 944 445.4 943.7 449.2 943.7C452.9 943.7 457.2 944 460.5 944.3C463.8 944.7 467.4 945.4 468.8 945.8C470.2 946.3 471.9 947.2 471.9 947.9Z" fill="none" stroke="#6a51a3" stroke-width="0.9"/></g>
<clipPath id="c74"><rect x="544" y="873.7" width="115.7" height="115.7"/></clipPath><g clip-path="url(#c74)"><path d="M643.6 914.2C645.6 910.2 674.8 909.2 674.8 909.2L674.8 965.6C674.8 965.6 646.7 974 644.6 970.6C642.5 967.2 641.6 918.3 643.6 914.2Z" fill="#fbc4a0" fill-opacity="0.5" stroke="#f6ab72" stroke-width="1.25"/>
<path d="M644.6 928.3C646.6 926 674.8 925.8 674.8 925.8L674.8 960C674.8 960 646.6 962.6 644.6 960.5C642.6 958.4 642.6 930.6 644.6 928.3Z" fill="#fb9d62" fill-opacity="0.35" stroke="#f3974f" stroke-width="1.25"/>
<path d="M607.4 871C607.4 871 605.9 890.9 605.4 894.1C604.9 897.3 602.3 907.5 601.3 909.2C600.4 910.9 596.6 913.6 594.3 914.2C592 914.9 579.6 917 574.2 917.3C568.7 917.5 528.9 917.3 528.9 917.3L528.9 974.6C528.9 974.6 568.7 974.5 574.2 974.6C579.6 974.7 590.9 975.1 594.3 975.6C597.7 976.1 611.1 980.1 614.4 980.6C617.8 981.2 632.2 983 634.5 982.7C636.9 982.3 641.8 978.1 642.6 976.6C643.4 975.1 644.5 968.1 644.6 964.5C644.7 961 643.8 938.6 643.6 934.4C643.4 930.2 642.8 916.6 642.6 914.2C642.3 911.9 641.2 906.9 640.6 906.2C640 905.4 636.1 906.2 635.6 905.2C635 904.2 634.8 897 634.5 894.1C634.3 891.3 632.5 871 632.5 871L607.4 871Z" fill="#d9560f" fill-opacity="0.26" stroke="#d9560f" stroke-width="1.19"/>
<path d="M616.4 871C616.4 871 614.8 895.5 614.4 899.2C614.1 902.8 611.2 913 612.4 914.2C613.7 915.5 628.3 915.9 629.5 914.2C630.7 912.6 627 897.7 626.5 894.1C626 890.5 623.5 871 623.5 871L616.4 871Z" fill="#d9560f" fill-opacity="0.21" stroke="#d9560f" stroke-width="1.1"/>
<path d="M528.9 910.2C528.9 910.2 546.5 909.4 554.1 909.2C561.6 909 567.5 908.7 574.2 909.2C580.9 909.7 594.3 912.2 594.3 912.2" fill="none"/>
<path d="M528.9 923.3C528.9 923.3 563.1 921.3 569.2 921.3C575.2 921.3 585.8 923.8 589.3 923.3C592.8 922.8 601.6 917.6 604.4 916.3C607.1 914.9 614.2 910.5 616.4 910.2C618.7 909.9 624.7 912 626.5 913.2C628.3 914.4 633 920.2 634.5 922.3C636.1 924.4 640.7 931.6 641.6 934.4C642.5 937.1 643.6 946.4 643.6 949.5C643.6 952.5 642.1 961.6 641.6 964.5C641.1 967.5 639.8 977.1 638.6 978.6C637.4 980.1 631.9 980 629.5 979.6C627.1 979.2 617.9 975.3 614.4 974.6C610.9 973.9 598.3 972.7 594.3 972.6C590.3 972.5 580.7 973.5 574.2 973.6C567.6 973.8 528.9 974.1 528.9 974.1L528.9 923.3Z" fill="#d8d6ef" fill-opacity="0.6" stroke="#9d9aca" stroke-width="1.3"/>
<path d="M528.9 923.3C528.9 923.3 563.1 921.3 569.2 921.3C575.2 921.3 585.8 923.8 589.3 923.3C592.8 922.8 601.6 917.6 604.4 916.3C607.1 914.9 614.2 910.5 616.4 910.2C618.7 909.9 624.7 912 626.5 913.2C628.3 914.4 633 920.2 634.5 922.3C636.1 924.4 640.7 931.6 641.6 934.4C642.5 937.1 643.6 946.4 643.6 949.5C643.6 952.5 642.1 961.6 641.6 964.5C641.1 967.5 639.8 977.1 638.6 978.6C637.4 980.1 631.9 980 629.5 979.6C627.1 979.2 617.9 975.3 614.4 974.6C610.9 973.9 598.3 972.7 594.3 972.6C590.3 972.5 580.7 973.5 574.2 973.6C567.6 973.8 528.9 974.1 528.9 974.1L528.9 923.3Z" fill="#cfcdea" fill-opacity="0.35" stroke="#6a51a3" stroke-width="1.1"/>
<path d="M534.2 924.9C534.2 924.9 566 923 571.6 923C577.3 923 587.1 925.3 590.4 924.9C593.6 924.4 601.9 919.5 604.4 918.3C606.9 917.1 613.6 913 615.6 912.7C617.7 912.4 623.3 914.4 625 915.5C626.7 916.6 631.1 922 632.5 923.9C633.9 925.9 638.2 932.6 639 935.2C639.9 937.7 640.9 946.4 640.9 949.2C640.9 952 639.5 960.5 639 963.2C638.5 965.9 637.3 974.9 636.2 976.3C635.1 977.7 630 977.6 627.8 977.3C625.5 976.9 617 973.2 613.7 972.6C610.5 971.9 598.8 970.8 595 970.7C591.3 970.6 582.4 971.5 576.3 971.6C570.2 971.8 534.2 972.1 534.2 972.1L534.2 924.9Z" fill="none" stroke="#d9560f" stroke-width="0.8"/>
<path d="M542.6 927.3C545.9 923 570.6 925.7 575.6 925.7C580.5 925.7 589.2 927.7 592.1 927.3C594.9 926.9 602.2 922.6 604.4 921.6C606.7 920.5 612.5 916.9 614.3 916.6C616.1 916.4 621.1 918.1 622.6 919.1C624.1 920.1 627.9 924.8 629.2 926.5C630.4 928.2 634.2 934.2 635 936.4C635.7 938.6 636.6 946.3 636.6 948.8C636.6 951.3 635.4 958.8 635 961.2C634.5 963.5 633.5 971.5 632.5 972.7C631.5 973.9 627 973.9 625.1 973.5C623.1 973.2 615.6 970 612.7 969.4C609.8 968.8 599.5 967.8 596.2 967.8C592.9 967.7 585 968.5 579.7 968.6C574.3 968.7 546.3 973.1 542.6 969C538.8 964.9 539.3 931.7 542.6 927.3Z" fill="none" stroke="#fdd8b3" stroke-width="1.1"/>
<path d="M528.9 942.4C528.9 942.4 567.6 940.7 574.2 940.4C580.7 940.1 591.3 940 594.3 939.4C597.3 938.8 602.4 935.7 604.4 934.4C606.4 933.1 612.6 927.3 614.4 926.3C616.2 925.3 620.7 923.9 622.5 924.3C624.3 924.7 630.8 928.8 632.5 930.3C634.2 931.8 638.8 937 639.6 939.4C640.4 941.8 641.1 951.7 640.6 954.5C640.1 957.3 636.4 965.9 634.5 967.6C632.7 969.3 625 971.9 622.5 971.6C620 971.3 612.7 965.8 609.4 964.5C606.1 963.3 593.8 960.2 589.3 959.5C584.7 958.8 570.2 958 564.1 957.5C558.1 957 528.9 954.5 528.9 954.5L528.9 942.4Z" fill="#aaa6d9" fill-opacity="0.75" stroke="#6a51a3" stroke-width="1.1"/>
<path d="M533.9 942.7C533.9 942.7 569.9 941.2 576 940.9C582.1 940.6 591.9 940.5 594.7 939.9C597.5 939.4 602.2 936.5 604.1 935.3C605.9 934 611.7 928.7 613.4 927.8C615.1 926.8 619.2 925.5 620.9 925.9C622.6 926.3 628.7 930.1 630.3 931.5C631.8 932.9 636.1 937.7 636.8 939.9C637.6 942.2 638.2 951.3 637.7 954C637.3 956.6 633.8 964.5 632.1 966.1C630.4 967.7 623.2 970.2 620.9 969.9C618.6 969.6 611.8 964.4 608.7 963.3C605.6 962.2 594.2 959.3 590 958.6C585.8 958 572.2 957.2 566.6 956.8C561 956.3 533.9 954 533.9 954L533.9 942.7Z" fill="none" stroke="#d9560f" stroke-width="0.8"/>
<path d="M541.7 943.3C541.7 943.3 573.5 941.9 578.8 941.6C584.2 941.4 592.9 941.3 595.3 940.8C597.8 940.3 601.9 937.7 603.6 936.7C605.2 935.6 610.3 930.9 611.8 930.1C613.3 929.2 616.9 928.1 618.4 928.4C619.9 928.7 625.3 932.1 626.7 933.4C628.1 934.6 631.8 938.8 632.5 940.8C633.1 942.8 633.7 950.8 633.3 953.2C632.9 955.5 629.8 962.5 628.3 963.9C626.8 965.3 620.5 967.4 618.4 967.2C616.4 966.9 610.4 962.4 607.7 961.4C605 960.4 594.9 957.9 591.2 957.3C587.5 956.7 575.5 956 570.6 955.6C565.6 955.2 541.7 953.2 541.7 953.2L541.7 943.3Z" fill="none" stroke="#fdd8b3" stroke-width="1.1"/>
<path d="M564.1 938.4C564.1 938.4 578.2 938.1 584.2 937.4C590.3 936.7 596.3 936.5 600.3 934.4C604.4 932.2 608.4 924.3 608.4 924.3" fill="none" stroke="#d9560f" stroke-width="1.19"/>
<path d="M528.9 952.5C528.9 952.5 552.9 954.5 559.1 955.5C565.3 956.5 568.3 958.5 574.2 959.5C580.1 960.5 594.3 961.5 594.3 961.5" fill="none" stroke="#d9560f" stroke-width="1.19"/>
<path d="M582.2 947.9C582.2 947.9 592.8 948.8 594.3 948.4C595.8 948.1 603.4 941.3 604.4 942.4C605.3 943.5 608.9 964.1 608.4 964.5C607.9 964.9 596.3 948.4 596.3 948.4" fill="none" stroke="#fdd8b3" stroke-width="1.6"/>
<path d="M634.6 948.9C635.1 951.8 635.3 955.3 635 958C634.7 960.7 633.8 963.4 632.8 965.1C631.7 966.8 630.2 968 628.6 968.3C627.1 968.6 625.2 968 623.7 966.7C622.1 965.5 620.4 963.2 619.2 960.8C618 958.3 616.9 955 616.4 952.1C615.9 949.1 615.7 945.6 616 942.9C616.3 940.2 617.2 937.5 618.2 935.8C619.3 934.1 620.8 932.9 622.3 932.6C623.9 932.4 625.7 933 627.3 934.2C628.9 935.5 630.6 937.7 631.8 940.2C633 942.6 634.1 945.9 634.6 948.9Z" fill="#3f007d" fill-opacity="0.07" stroke="#3f007d" stroke-width="1.36"/>
<path d="M633.1 949.4C633.6 952.1 633.7 955.2 633.4 957.6C633.1 960.1 632.4 962.5 631.4 964C630.5 965.6 629.1 966.7 627.7 966.9C626.4 967.2 624.7 966.6 623.2 965.5C621.8 964.4 620.3 962.3 619.2 960.1C618.1 957.9 617.2 955 616.7 952.3C616.2 949.6 616.1 946.5 616.4 944.1C616.6 941.7 617.4 939.2 618.3 937.7C619.3 936.1 620.7 935.1 622.1 934.8C623.4 934.6 625.1 935.1 626.5 936.2C628 937.4 629.5 939.4 630.6 941.6C631.7 943.8 632.6 946.7 633.1 949.4Z" fill="none" stroke="#96482a" stroke-width="0.9"/>
<path d="M635.5 948.7C636.1 952 636.2 955.8 635.9 958.7C635.6 961.7 634.7 964.7 633.5 966.6C632.3 968.5 630.6 969.8 629 970.1C627.3 970.4 625.2 969.7 623.5 968.3C621.7 967 619.9 964.5 618.5 961.8C617.2 959.1 616 955.5 615.5 952.2C614.9 949 614.7 945.2 615.1 942.2C615.4 939.2 616.3 936.2 617.5 934.4C618.6 932.5 620.4 931.1 622 930.8C623.7 930.5 625.8 931.2 627.5 932.6C629.2 934 631.1 936.4 632.4 939.1C633.8 941.8 634.9 945.4 635.5 948.7Z" fill="none" stroke="#6a51a3" stroke-width="0.9"/>
<path d="M631.9 949.3C632.3 951.5 632.4 954 632.2 955.9C632 957.9 631.4 959.8 630.7 961C629.9 962.3 628.8 963.2 627.8 963.3C626.7 963.5 625.4 963.1 624.2 962.2C623.1 961.3 621.9 959.6 621.1 957.9C620.2 956.1 619.4 953.7 619.1 951.6C618.7 949.5 618.6 947 618.8 945C619 943.1 619.6 941.1 620.3 939.9C621 938.6 622.1 937.8 623.2 937.6C624.3 937.4 625.6 937.8 626.7 938.7C627.9 939.6 629.1 941.3 629.9 943C630.8 944.8 631.6 947.2 631.9 949.3Z" fill="#3f007d" fill-opacity="0.07" stroke="#3f007d" stroke-width="1.36"/>
<path d="M630.7 949.8C631 951.8 631.1 954 630.9 955.8C630.7 957.5 630.2 959.3 629.6 960.4C628.9 961.5 627.9 962.3 626.9 962.5C626 962.6 624.8 962.2 623.8 961.4C622.8 960.6 621.7 959.1 620.9 957.5C620.1 956 619.4 953.8 619.1 951.9C618.8 950 618.7 947.7 618.8 946C619 944.2 619.6 942.4 620.2 941.3C620.9 940.2 621.9 939.4 622.8 939.3C623.8 939.1 625 939.5 626 940.3C627 941.1 628.1 942.6 628.9 944.2C629.7 945.8 630.3 947.9 630.7 949.8Z" fill="none" stroke="#96482a" stroke-width="0.9"/>
<path d="M632.6 949.2C633 951.6 633.1 954.3 632.9 956.5C632.6 958.6 632 960.7 631.2 962.1C630.4 963.5 629.2 964.4 628 964.6C626.8 964.8 625.3 964.4 624.1 963.4C622.9 962.4 621.6 960.6 620.6 958.6C619.7 956.7 618.8 954.1 618.4 951.7C618 949.3 617.9 946.6 618.1 944.5C618.3 942.3 619 940.2 619.8 938.8C620.6 937.5 621.8 936.5 623 936.3C624.2 936.1 625.6 936.6 626.9 937.6C628.1 938.6 629.4 940.4 630.4 942.3C631.3 944.2 632.2 946.9 632.6 949.2Z" fill="none" stroke="#6a51a3" stroke-width="0.9"/>
<path d="M635.4 947.4C636 950.7 636 954.5 635.5 957.5C635 960.6 633.9 963.6 632.5 965.6C631 967.5 629 968.9 627 969.3C625 969.6 622.6 969 620.6 967.7C618.6 966.3 616.4 963.9 614.9 961.2C613.4 958.5 612.2 954.9 611.6 951.6C611 948.2 610.9 944.4 611.4 941.4C611.9 938.3 613.1 935.3 614.5 933.3C615.9 931.4 618 930 620 929.6C622 929.3 624.4 929.9 626.4 931.2C628.4 932.6 630.5 935 632 937.7C633.5 940.4 634.8 944.1 635.4 947.4Z" fill="none" stroke="#d9560f" stroke-width="1.1"/>
<path d="M629.5 949.3C629.7 950.7 629.8 952.3 629.7 953.6C629.6 954.8 629.2 956.1 628.8 956.9C628.3 957.7 627.6 958.3 627 958.4C626.3 958.5 625.5 958.2 624.8 957.6C624.1 957 623.3 955.9 622.8 954.8C622.3 953.6 621.8 952.1 621.5 950.7C621.3 949.3 621.2 947.6 621.3 946.4C621.4 945.1 621.8 943.8 622.2 943C622.7 942.2 623.3 941.7 624 941.5C624.7 941.4 625.5 941.7 626.2 942.3C626.9 942.9 627.6 944 628.2 945.1C628.7 946.3 629.2 947.9 629.5 949.3Z" fill="#3f007d" fill-opacity="0.1" stroke="#3f007d" stroke-width="1.36"/>
<path d="M628.5 949.7C628.7 951 628.7 952.5 628.6 953.6C628.5 954.8 628.2 955.9 627.8 956.6C627.4 957.3 626.8 957.8 626.2 957.9C625.6 958 624.9 957.8 624.3 957.2C623.6 956.7 623 955.7 622.5 954.7C622 953.7 621.5 952.3 621.3 951C621.1 949.7 621 948.3 621.1 947.1C621.2 946 621.5 944.8 621.9 944.1C622.4 943.4 623 942.9 623.6 942.8C624.1 942.7 624.9 942.9 625.5 943.5C626.1 944 626.8 945 627.3 946C627.8 947.1 628.2 948.5 628.5 949.7Z" fill="none" stroke="#96482a" stroke-width="0.9"/>
<path d="M629.9 949.2C630.1 950.7 630.2 952.5 630.1 953.9C630 955.3 629.6 956.7 629.1 957.6C628.6 958.5 627.9 959.1 627.1 959.2C626.4 959.4 625.5 959 624.7 958.4C624 957.7 623.1 956.5 622.5 955.3C621.9 954 621.4 952.3 621.1 950.7C620.9 949.2 620.8 947.4 620.9 946C621 944.6 621.4 943.2 621.9 942.3C622.4 941.4 623.1 940.8 623.9 940.7C624.6 940.6 625.5 940.9 626.3 941.6C627 942.2 627.9 943.4 628.5 944.7C629 945.9 629.6 947.6 629.9 949.2Z" fill="none" stroke="#6a51a3" stroke-width="0.9"/>
<path d="M627.1 948.1C627.2 948.9 627.3 949.7 627.2 950.4C627.2 951.1 627 951.8 626.9 952.2C626.7 952.5 626.4 952.9 626.1 952.9C625.8 953 625.4 952.8 625.1 952.5C624.8 952.2 624.4 951.6 624.1 951C623.9 950.3 623.6 949.5 623.5 948.8C623.4 948 623.3 947.2 623.4 946.5C623.4 945.8 623.5 945.1 623.7 944.7C623.9 944.3 624.2 944 624.5 944C624.8 943.9 625.2 944.1 625.5 944.4C625.8 944.7 626.2 945.3 626.4 945.9C626.7 946.6 626.9 947.4 627.1 948.1Z" fill="#3f007d" fill-opacity="0.9"/></g>
<clipPath id="c75"><rect x="665.5" y="873.7" width="115.7" height="115.7"/></clipPath><g clip-path="url(#c75)"><path d="M650.9 871L703.7 871C703.7 871 707.7 891.2 708.3 894.1C708.8 897 716.1 912.8 712.3 914.2C708.5 915.7 650.9 916.3 650.9 916.3L650.9 871Z" fill="#d9560f" fill-opacity="0.24"/>
<path d="M689.1 927.3C693.8 925.2 704.2 912 706.2 909.2C708.3 906.4 712.1 896 713.3 894.1C714.5 892.2 719.2 886.2 720.3 886.1C721.4 885.9 725.4 890.7 726.4 892.1C727.3 893.5 730.1 901.7 731.4 903.2C732.7 904.7 739.4 909.6 741.5 910.2C743.6 910.8 754 909.7 756.5 910.2C759.1 910.7 768.3 914.9 771.6 916.3C775 917.6 796.8 926.3 796.8 926.3L796.8 957.5C796.8 957.5 770.1 963.4 766.6 964.5C763.1 965.7 755.5 970.6 754.5 971.6C753.5 972.6 756.5 976.2 754.5 976.6C752.6 977 733.2 976.1 730.4 976.6C727.5 977.1 724.9 982.2 720.3 982.7C715.8 983.2 681.8 983.3 676.1 982.7C670.3 982 650.9 974.6 650.9 974.6L650.9 934.4C650.9 934.4 684.5 929.4 689.1 927.3Z" fill="#fbc4a0" fill-opacity="0.5" stroke="#f6ab72" stroke-width="1.25"/>
<path d="M721.3 923.3C722.2 917.9 730.6 922.1 736.4 922.3C742.3 922.5 752 923.1 756.5 924.3C761.1 925.5 764.3 927.7 766.6 930.3C769 933 770.6 936.7 770.6 940.4C770.6 944.1 769 949.3 766.6 952.5C764.3 955.7 759.9 957.8 756.5 959.5C753.2 961.2 750.6 963.4 746.5 962.5C742.4 961.7 735.1 960.2 731.4 954.5C727.7 948.7 720.5 928.7 721.3 923.3Z" fill="#fb9d62" fill-opacity="0.35" stroke="#f3974f" stroke-width="1.25"/>
<path d="M703.7 871C703.7 871 706.8 886.9 708.3 894.1C709.7 901.3 710.6 908.4 712.3 914.2C714 920.1 716 925.1 718.3 929.3C720.7 933.5 723.7 936.2 726.4 939.4C729 942.6 734.4 948.4 734.4 948.4" fill="none" stroke="#d9560f" stroke-width="1.19"/>
<path d="M650.9 917.3C650.9 917.3 687.1 914.7 691.2 914.2C695.2 913.8 697.4 913.6 701.2 912.2C705.1 910.9 710.1 906.9 714.3 906.2C718.5 905.5 722.7 906 726.4 908.2C730.1 910.4 733.1 914.6 736.4 919.3C739.8 924 743.5 930.8 746.5 936.4C749.5 941.9 753.7 947.4 754.5 952.5C755.4 957.5 753.7 962.9 751.5 966.6C749.3 970.2 746.3 972.8 741.5 974.6C736.6 976.4 729.9 977.6 722.3 977.6C714.8 977.6 706.7 975.3 696.2 974.6C685.7 973.9 650.9 972.6 650.9 972.6L650.9 917.3Z" fill="#cdcbe8" fill-opacity="0.8" stroke="#9d9aca" stroke-width="1.3"/>
<path d="M696.2 924.3C696.2 916.4 710.4 921.3 716.3 922.3C722.2 923.3 727.2 926.7 731.4 930.3C735.6 934 738.9 939.6 741.5 944.4C744 949.3 747.3 955.3 746.5 959.5C745.6 963.7 741.5 967.9 736.4 969.6C731.4 971.3 721.7 975.6 716.3 969.6C711 963.6 696.2 932.2 696.2 924.3Z" fill="#cdcbe8" fill-opacity="0.5" stroke="#9d9aca" stroke-width="1.3"/>
<path d="M650.9 915.2C650.9 915.2 676.9 908.6 681.1 908.2C685.3 907.8 687.8 908.9 691.2 911.2C694.5 913.6 698.6 919.7 701.2 922.3C703.8 924.9 708.3 928.3 708.3 928.3" fill="none" stroke="#d9560f" stroke-width="1.27"/>
<path d="M650.9 915.2C650.9 915.2 687 913.2 691.2 913.2C695.4 913.3 697.6 914.2 701.2 916.3C704.9 918.3 715.1 924 714.3 926.3C713.5 928.7 703.6 929.9 696.2 930.3C688.8 930.8 650.9 930.3 650.9 930.3L650.9 915.2Z" fill="#cfcdea" fill-opacity="0.75" stroke="#6a51a3" stroke-width="1.1"/>
<path d="M650.9 975.6C650.9 975.6 677.8 979.8 686.1 979.6C694.4 979.5 700.2 977.1 706.2 974.6C712.3 972.1 722.3 964.5 722.3 964.5" fill="none" stroke="#96482a" stroke-width="0.94"/>
<path d="M730.4 951.5C730.4 951.5 739.4 951.5 739.4 951.5C739.4 951.5 739.4 953.5 739.4 953.5C739.4 953.5 736.4 953.5 736.4 953.5C736.4 953.5 730.4 951.5 730.4 951.5Z" fill="none" stroke="#f3974f" stroke-width="1.3"/>
<path d="M650.9 930.3C650.9 930.3 688.1 930 696.2 930.3C704.3 930.7 710.4 931.3 716.3 933.4C722.2 935.4 728.3 939.3 731.4 942.4C734.5 945.5 736.3 948.8 735.4 952.5C734.6 956.2 731.2 962 726.4 964.5C721.5 967.1 714.4 967.6 706.2 967.6C698.1 967.6 650.9 964.5 650.9 964.5L650.9 930.3Z" fill="#3f007d" fill-opacity="0.07" stroke="#3f007d" stroke-width="1.44"/>
<path d="M655.4 932.5C655.4 932.5 688.8 932.2 696.1 932.5C703.4 932.9 709 933.4 714.2 935.2C719.5 937.1 725.1 940.6 727.8 943.4C730.6 946.2 732.2 949.1 731.4 952.4C730.7 955.8 727.7 961.1 723.3 963.3C718.9 965.6 712.5 966 705.2 966C697.9 966 655.4 963.3 655.4 963.3L655.4 932.5Z" fill="none" stroke="#96482a" stroke-width="0.9"/>
<path d="M645.8 928.6C645.8 928.6 686.7 928.1 695.6 928.6C704.6 929 711.3 929.7 717.8 931.9C724.2 934.1 731 938.5 734.4 941.8C737.7 945.2 739.7 948.8 738.8 952.9C737.9 957 734.2 963.4 728.8 966.2C723.5 968.9 715.6 969.5 706.7 969.5C697.7 969.5 645.8 966.2 645.8 966.2L645.8 928.6Z" fill="none" stroke="#6a51a3" stroke-width="0.9"/>
<path d="M668 949.5C668.9 947.6 675.6 945 681.1 943.4C686.6 941.8 699 938.2 706.2 938.4C713.5 938.6 721.3 942.5 724.4 944.4C727.4 946.4 728.9 949.8 728.4 952.5C727.9 955.2 725.4 959.3 721.3 960.5C717.2 961.7 708.8 961.5 701.2 960.5C693.7 959.5 679.7 955.7 676.1 954.5C672.5 953.3 667.2 951.3 668 949.5Z" fill="#3f007d" fill-opacity="0.1" stroke="#3f007d" stroke-width="1.44"/>
<path d="M670.7 950C671.4 948.3 677.5 946 682.5 944.5C687.4 943.1 698.6 939.8 705.1 940C711.6 940.1 718.7 943.7 721.4 945.4C724.1 947.2 725.5 950.3 725 952.7C724.6 955.1 722.4 958.8 718.7 959.9C715 961 707.4 960.8 700.6 959.9C693.8 959 681.2 955.6 677.9 954.5C674.7 953.4 669.9 951.6 670.7 950Z" fill="none" stroke="#96482a" stroke-width="0.9"/>
<path d="M664.7 949.4C665.7 947.3 673 944.5 679.1 942.7C685.2 941 698.9 937 706.8 937.2C714.7 937.4 723.4 941.7 726.7 943.8C730 945.9 731.7 949.7 731.1 952.7C730.6 955.6 727.9 960.2 723.4 961.5C718.9 962.9 709.6 962.6 701.3 961.5C693 960.4 677.5 956.2 673.6 954.9C669.6 953.6 663.8 951.4 664.7 949.4Z" fill="none" stroke="#6a51a3" stroke-width="0.9"/>
<path d="M650.9 936.4C650.9 936.4 688 935.1 696.2 935.4C704.3 935.6 710.9 936.5 716.3 938.4C721.7 940.2 726.2 943.9 728.4 946.4C730.6 948.9 731.4 951.8 730.4 954.5C729.4 957.2 726.6 961 722.3 962.5C718 964 711.5 963.8 704.2 963.5C697 963.2 650.9 959.5 650.9 959.5L650.9 936.4Z" fill="none" stroke="#d9560f" stroke-width="1.1"/>
<path d="M672 948.4C670.4 946.4 680.4 945.4 686.1 944.4C691.8 943.4 700.5 941.9 706.2 942.4C711.9 942.9 718.2 946 720.3 947.4C722.4 948.9 723.3 951.8 722.3 953.5C721.3 955.2 717.9 957.1 714.3 957.5C710.7 957.9 703.2 958 696.2 956.5C689.1 955 673.7 950.5 672 948.4Z" fill="none" stroke="#d9560f" stroke-width="1.1"/>
<path d="M722.3 949C722.3 950 721.8 951.3 720.9 952.2C720 953.2 718.6 954.1 717.1 954.6C715.5 955.2 713.5 955.5 711.8 955.5C710 955.5 708 955.2 706.5 954.6C705 954.1 703.5 953.2 702.6 952.2C701.7 951.3 701.2 950 701.2 949C701.2 947.9 701.7 946.6 702.6 945.7C703.5 944.7 705 943.8 706.5 943.3C708 942.7 710 942.4 711.8 942.4C713.5 942.4 715.5 942.7 717.1 943.3C718.6 943.8 720 944.7 720.9 945.7C721.8 946.6 722.3 947.9 722.3 949Z" fill="#3f007d" fill-opacity="0.1" stroke="#3f007d" stroke-width="1.36"/>
<path d="M720.7 949.4C720.7 950.3 720.2 951.4 719.4 952.3C718.6 953.1 717.3 954 715.9 954.5C714.6 954.9 712.8 955.2 711.2 955.2C709.6 955.2 707.8 954.9 706.4 954.5C705 954 703.7 953.1 702.9 952.3C702.1 951.4 701.7 950.3 701.7 949.4C701.7 948.4 702.1 947.3 702.9 946.4C703.7 945.6 705 944.7 706.4 944.3C707.8 943.8 709.6 943.5 711.2 943.5C712.8 943.5 714.6 943.8 715.9 944.3C717.3 944.7 718.6 945.6 719.4 946.4C720.2 947.3 720.7 948.4 720.7 949.4Z" fill="none" stroke="#96482a" stroke-width="0.9"/>
<path d="M723.4 949C723.4 950.2 722.8 951.5 721.8 952.5C720.9 953.6 719.3 954.6 717.6 955.2C715.9 955.8 713.7 956.1 711.8 956.1C709.8 956.1 707.6 955.8 706 955.2C704.3 954.6 702.7 953.6 701.7 952.5C700.7 951.5 700.2 950.2 700.2 949C700.2 947.8 700.7 946.4 701.7 945.4C702.7 944.3 704.3 943.3 706 942.7C707.6 942.1 709.8 941.8 711.8 941.8C713.7 941.8 715.9 942.1 717.6 942.7C719.3 943.3 720.9 944.3 721.8 945.4C722.8 946.4 723.4 947.8 723.4 949Z" fill="none" stroke="#6a51a3" stroke-width="0.9"/>
<path d="M716.8 948.7C716.8 949.3 716.5 950 716.1 950.6C715.6 951.1 714.8 951.6 714 952C713.2 952.3 712.2 952.5 711.3 952.5C710.4 952.5 709.3 952.3 708.5 952C707.7 951.6 706.9 951.1 706.5 950.6C706 950 705.7 949.3 705.7 948.7C705.7 948 706 947.3 706.5 946.7C706.9 946.2 707.7 945.7 708.5 945.3C709.3 945 710.4 944.8 711.3 944.8C712.2 944.8 713.2 945 714 945.3C714.8 945.7 715.6 946.2 716.1 946.7C716.5 947.3 716.8 948 716.8 948.7Z" fill="#3f007d" fill-opacity="0.85" stroke="#3f007d" stroke-width="0.85"/>
<path d="M715.6 949.1C715.6 949.6 715.4 950.3 715 950.8C714.6 951.3 713.9 951.7 713.2 952C712.4 952.3 711.5 952.5 710.7 952.5C709.8 952.5 708.9 952.3 708.2 952C707.5 951.7 706.8 951.3 706.4 950.8C705.9 950.3 705.7 949.6 705.7 949.1C705.7 948.5 705.9 947.8 706.4 947.3C706.8 946.8 707.5 946.4 708.2 946.1C708.9 945.8 709.8 945.6 710.7 945.6C711.5 945.6 712.4 945.8 713.2 946.1C713.9 946.4 714.6 946.8 715 947.3C715.4 947.8 715.6 948.5 715.6 949.1Z" fill="none" stroke="#96482a" stroke-width="0.9"/>
<path d="M717.4 948.7C717.4 949.4 717.1 950.1 716.5 950.8C716 951.4 715.2 951.9 714.3 952.3C713.4 952.6 712.3 952.9 711.3 952.9C710.3 952.9 709.1 952.6 708.2 952.3C707.4 951.9 706.5 951.4 706 950.8C705.5 950.1 705.2 949.4 705.2 948.7C705.2 947.9 705.5 947.2 706 946.5C706.5 945.9 707.4 945.4 708.2 945C709.1 944.7 710.3 944.4 711.3 944.4C712.3 944.4 713.4 944.7 714.3 945C715.2 945.4 716 945.9 716.5 946.5C717.1 947.2 717.4 947.9 717.4 948.7Z" fill="none" stroke="#6a51a3" stroke-width="0.9"/>
<path d="M713.3 947.9C713.3 948.6 713.1 949.3 712.9 949.9C712.6 950.4 712.2 950.9 711.8 951.3C711.3 951.6 710.8 951.8 710.3 951.8C709.8 951.8 709.2 951.6 708.8 951.3C708.3 950.9 707.9 950.4 707.7 949.9C707.4 949.3 707.2 948.6 707.2 947.9C707.2 947.3 707.4 946.6 707.7 946C707.9 945.5 708.3 945 708.8 944.6C709.2 944.3 709.8 944.1 710.3 944.1C710.8 944.1 711.3 944.3 711.8 944.6C712.2 945 712.6 945.5 712.9 946C713.1 946.6 713.3 947.3 713.3 947.9Z" fill="none" stroke="#fdd8b3" stroke-width="2.0"/></g>
<clipPath id="c76"><rect x="787.1" y="873.7" width="115.7" height="115.7"/></clipPath><g clip-path="url(#c76)"><path d="M836.3 871C836.3 871 836.8 881.2 837.3 884.1C837.8 886.9 840.5 896.1 841.3 899.2C842.1 902.2 844.5 911.7 845.4 914.2C846.2 916.8 847.9 920.2 849.4 924.3C850.9 928.4 863.7 965.4 865.5 969.6C867.3 973.8 870.8 977.2 872.5 978.6C874.2 980 880.6 983.6 882.6 983.7C884.6 983.8 891.1 981.5 892.6 979.6C894.1 977.7 897.2 967.6 897.7 964.5C898.2 961.5 898.1 952.3 897.7 949.5C897.3 946.6 894.6 938.7 893.6 936.4C892.6 934.1 889.2 928.7 887.6 926.3C886 923.9 879.6 915.2 877.5 912.2C875.5 909.2 869.1 898.7 867.5 896.1C865.9 893.5 862.4 888.6 861.4 886.1C860.5 883.6 858.4 871 858.4 871L836.3 871Z" fill="#d9560f" fill-opacity="0.21" stroke="#d9560f" stroke-width="1.19"/>
<path d="M800.1 919.3C800.4 918.2 803.1 914.1 804.1 913.2C805.1 912.3 808 910.4 810.1 910.2C812.3 910 823.2 911.8 825.2 911.2C827.2 910.6 829.9 905.6 830.3 904.2C830.7 902.8 828.8 897.9 829.3 897.1C829.8 896.3 834.1 895.5 835.3 896.1C836.5 896.7 839.9 900.4 841.3 903.2C842.7 906 847 917 849.4 924.3C851.8 931.6 865.1 971.8 865.5 976.6C865.9 981.5 854.6 976.2 853.4 975.6C852.2 975 854.5 971.4 853.4 970.6C852.3 969.8 844.7 968.5 842.3 967.6C839.9 966.7 831.8 963 829.3 961.5C826.7 960 819.4 954.7 817.2 952.5C815 950.3 808.7 942.2 807.1 939.4C805.5 936.6 801.8 926.2 801.1 924.3C800.4 922.4 799.8 920.4 800.1 919.3Z" fill="#fbc4a0" fill-opacity="0.5" stroke="#f6ab72" stroke-width="1.25"/>
<path d="M817.2 930.3C817.5 928.2 819.2 926.8 821.2 926.3C823.2 925.8 827.6 924.6 829.3 927.3C830.9 930.1 830.3 939.6 832.3 944.4C834.3 949.3 839.3 954.4 841.3 956.5C843.3 958.6 849.7 961.5 847.4 960.5C845 959.5 831.6 953.7 827.2 950.5C822.9 947.2 820.9 942.7 819.2 939.4C817.5 936.1 816.8 932.5 817.2 930.3Z" fill="#fb9d62" fill-opacity="0.4" stroke="#f3974f" stroke-width="1.25"/>
<path d="M850.4 976.6C848 977.1 849.1 981.7 851.4 982.7C853.7 983.6 865.2 984.1 867.5 983.7C869.8 983.2 872.7 979.5 870.5 978.6C868.3 977.7 852.8 976.1 850.4 976.6Z" fill="#fbc4a0" fill-opacity="0.5" stroke="#f6ab72" stroke-width="1.25"/>
<path d="M854.4 899.2C854.9 898.7 860.4 903.2 861.4 904.2C862.5 905.2 867.7 910.4 867.5 911.2C867.3 912.1 860.4 913.6 859.4 914.2C858.5 914.9 856.8 919.7 856.4 919.3C856.1 918.9 855.6 910.9 855.4 909.2C855.2 907.5 853.9 899.6 854.4 899.2Z" fill="#d9560f" fill-opacity="0.3" stroke="#d9560f" stroke-width="1.19"/>
<path d="M824.2 919.3C824.2 916.2 827.7 911.5 829.3 910.2C830.8 908.9 835.3 907.7 837.3 908.2C839.3 908.7 844.2 912.6 846.4 914.2C848.5 915.9 854.1 922.5 855.4 922.3C856.7 922.1 856.3 913.6 857.4 912.2C858.6 910.8 863.1 909.6 865.5 910.2C867.8 910.8 875 914.9 877.5 917.3C880.1 919.6 885.5 927.2 887.6 930.3C889.7 933.5 894.5 941 895.7 944.4C896.8 947.8 897.7 956 897.7 959.5C897.7 963 896.8 971.9 895.7 974.6C894.5 977.3 889.7 982 887.6 982.7C885.5 983.4 879.9 982.2 877.5 980.6C875.2 979.1 870.4 971.5 867.5 969.6C864.6 967.7 855.7 966.5 852.4 964.5C849.1 962.6 842 955.8 839.3 952.5C836.6 949.2 831 940.2 829.3 936.4C827.5 932.5 824.2 922.3 824.2 919.3Z" fill="#cdcbe8" fill-opacity="0.8" stroke="#9d9aca" stroke-width="1.3"/>
<path d="M825.2 926.3C825.2 926.3 833.9 927 837.3 926.3C840.7 925.6 845.4 922.3 845.4 922.3" fill="none" stroke="#f3974f" stroke-width="1.3"/>
<path d="M835.3 940.4C835.3 940.4 841.3 939.4 843.3 938.4C845.4 937.4 847.4 934.4 847.4 934.4" fill="none" stroke="#f3974f" stroke-width="1.3"/>
<path d="M857.4 922.3C856.8 918.2 857.8 914.2 859.4 912.2C861.1 910.2 864.4 909.1 867.5 910.2C870.6 911.3 875.9 915.2 879.6 919.3C883.2 923.3 886.8 929.2 889.6 934.4C892.5 939.6 895.3 945.4 896.7 950.5C898 955.5 898.2 959.9 897.7 964.5C897.2 969.2 895.7 975.5 893.6 978.6C891.6 981.7 888.6 983.2 885.6 983.2C882.6 983.2 878.6 981.1 875.5 978.6C872.5 976.2 869.1 973.5 867.5 968.6C865.9 963.7 858 926.4 857.4 922.3Z" fill="#cfcdea" fill-opacity="0.35" stroke="#6a51a3" stroke-width="1.19"/>
<path d="M858.9 924.1C858.4 920.3 859.3 916.6 860.8 914.7C862.4 912.8 865.4 911.8 868.3 912.8C871.2 913.8 876.1 917.5 879.5 921.2C883 925 886.2 930.4 888.9 935.3C891.5 940.1 894.2 945.6 895.4 950.3C896.7 954.9 896.8 959 896.4 963.4C895.9 967.7 894.5 973.6 892.6 976.5C890.8 979.3 887.9 980.7 885.1 980.7C882.3 980.7 878.6 978.7 875.8 976.5C873 974.2 869.8 971.7 868.3 967.1C866.8 962.5 859.5 927.8 858.9 924.1Z" fill="none" stroke="#d9560f" stroke-width="0.8"/>
<path d="M861.3 926.8C860.9 923.5 861.6 920.2 863 918.6C864.4 916.9 867 916 869.6 916.9C872.1 917.8 876.5 921.1 879.5 924.4C882.5 927.7 885.4 932.5 887.7 936.7C890.1 941 892.4 945.8 893.5 949.9C894.6 954.1 894.7 957.6 894.3 961.5C893.9 965.3 892.7 970.5 891 973C889.4 975.6 886.9 976.7 884.4 976.7C882 976.7 878.7 975 876.2 973C873.7 971 870.9 968.8 869.6 964.8C868.3 960.8 861.8 930.2 861.3 926.8Z" fill="none" stroke="#fdd8b3" stroke-width="1.1"/>
<path d="M865.5 934.4C866.1 931.6 868.5 929.8 870.5 929.3C872.5 928.8 875.1 929.7 877.5 931.3C880 933 883.6 935.9 885.6 939.4C887.6 942.9 889.3 948.3 889.6 952.5C890 956.7 888.7 961.6 887.6 964.5C886.5 967.5 884.6 969.7 882.6 970.6C880.6 971.4 877.7 971.4 875.5 969.6C873.4 967.7 871 963.4 869.5 959.5C868 955.7 867.2 950.6 866.5 946.4C865.8 942.2 864.8 937.1 865.5 934.4Z" fill="#aaa6d9" fill-opacity="0.75" stroke="#6a51a3" stroke-width="1.1"/>
<path d="M866.3 935.4C866.9 932.9 869.1 931.2 871 930.8C872.8 930.3 875.2 931.1 877.5 932.6C879.8 934.1 883.1 936.8 885 940.1C886.9 943.4 888.4 948.4 888.7 952.3C889.1 956.2 887.9 960.8 886.9 963.5C885.8 966.2 884.1 968.3 882.2 969.1C880.3 969.9 877.7 969.9 875.6 968.2C873.6 966.5 871.4 962.4 870 958.8C868.6 955.2 867.8 950.6 867.2 946.7C866.6 942.8 865.7 938 866.3 935.4Z" fill="none" stroke="#d9560f" stroke-width="0.8"/>
<path d="M867.6 937.1C868.1 934.9 870 933.4 871.7 933C873.3 932.6 875.5 933.3 877.5 934.7C879.5 936 882.4 938.4 884.1 941.3C885.7 944.1 887.1 948.5 887.4 952C887.6 955.4 886.6 959.5 885.7 961.9C884.8 964.3 883.2 966.1 881.6 966.8C879.9 967.5 877.6 967.5 875.8 966C874 964.5 872.1 960.9 870.9 957.8C869.6 954.6 868.9 950.5 868.4 947C867.8 943.6 867 939.4 867.6 937.1Z" fill="none" stroke="#fdd8b3" stroke-width="1.1"/>
<path d="M866.3 935.2C866.9 932.4 869.3 930.6 871.3 930.1C873.3 929.6 875.9 930.5 878.4 932.2C880.8 933.8 884.4 936.7 886.4 940.2C888.4 943.7 890.1 949.1 890.4 953.3C890.8 957.5 889.6 962.4 888.4 965.4C887.3 968.3 885.4 970.5 883.4 971.4C881.4 972.2 878.5 972.2 876.3 970.4C874.2 968.5 871.8 964.2 870.3 960.3C868.8 956.5 868 951.4 867.3 947.2C866.6 943.1 865.6 937.9 866.3 935.2Z" fill="none" stroke="#d9560f" stroke-width="1.02"/>
<path d="M873.5 940.4C874.5 939.1 877.9 940.7 879.6 942.4C881.2 944.1 883.2 947.6 883.6 950.5C883.9 953.3 882.7 958.2 881.6 959.5C880.4 960.9 877.9 960 876.5 958.5C875.2 957 874 953.5 873.5 950.5C873 947.4 872.5 941.7 873.5 940.4Z" fill="#7f78c4" fill-opacity="0.85" stroke="#6a51a3" stroke-width="0.85"/>
<path d="M874.5 942.4C874.5 942.4 876.9 946.1 877.5 948.4C878.2 950.8 878.6 956.5 878.6 956.5" fill="none" stroke="#fdd8b3" stroke-width="1.6"/>
<path d="M874.5 946.7C875.3 949.5 875.4 952.9 874.9 955.7C874.4 958.5 873.1 961.3 871.4 963.3C869.8 965.3 867.3 966.8 865 967.5C862.7 968.1 859.8 967.9 857.3 967.1C854.9 966.2 852.4 964.4 850.5 962.2C848.7 960.1 847.1 957.1 846.4 954.2C845.6 951.4 845.4 948 846 945.2C846.5 942.5 847.8 939.6 849.5 937.6C851.1 935.7 853.5 934.1 855.9 933.5C858.2 932.8 861.1 933 863.5 933.8C866 934.7 868.5 936.5 870.4 938.7C872.2 940.8 873.8 943.9 874.5 946.7Z" fill="#3f007d" fill-opacity="0.06" stroke="#3f007d" stroke-width="1.36"/>
<path d="M872.5 947.5C873.2 950 873.3 953.1 872.9 955.6C872.4 958.1 871.2 960.7 869.7 962.4C868.2 964.2 866.1 965.6 863.9 966.2C861.8 966.7 859.2 966.6 857.1 965.8C854.9 965 852.6 963.4 850.9 961.5C849.3 959.5 847.8 956.8 847.2 954.3C846.5 951.7 846.3 948.6 846.8 946.2C847.3 943.7 848.5 941.1 849.9 939.3C851.4 937.5 853.6 936.1 855.7 935.6C857.9 935 860.5 935.1 862.6 935.9C864.8 936.7 867.1 938.3 868.8 940.3C870.4 942.2 871.8 944.9 872.5 947.5Z" fill="none" stroke="#96482a" stroke-width="0.9"/>
<path d="M875.9 946.3C876.8 949.4 876.9 953.2 876.4 956.2C875.8 959.3 874.4 962.4 872.5 964.6C870.7 966.7 868 968.5 865.5 969.2C862.9 969.9 859.7 969.7 857 968.7C854.4 967.8 851.5 965.8 849.5 963.4C847.5 961.1 845.8 957.7 844.9 954.6C844.1 951.5 843.9 947.8 844.5 944.7C845.1 941.7 846.5 938.5 848.4 936.3C850.2 934.2 852.8 932.4 855.4 931.8C858 931.1 861.2 931.2 863.9 932.2C866.5 933.1 869.3 935.2 871.4 937.5C873.4 939.9 875.1 943.2 875.9 946.3Z" fill="none" stroke="#6a51a3" stroke-width="0.9"/>
<path d="M870.6 947.7C871.2 949.8 871.3 952.4 871 954.4C870.6 956.5 869.7 958.6 868.5 960C867.3 961.5 865.5 962.6 863.8 963.1C862.1 963.6 860 963.4 858.3 962.8C856.5 962.1 854.6 960.7 853.3 959.1C852 957.6 850.8 955.3 850.2 953.2C849.7 951.1 849.6 948.6 849.9 946.5C850.3 944.5 851.2 942.3 852.4 940.9C853.6 939.4 855.4 938.3 857.1 937.8C858.8 937.4 860.9 937.5 862.6 938.2C864.4 938.8 866.2 940.2 867.6 941.8C868.9 943.4 870.1 945.6 870.6 947.7Z" fill="#3f007d" fill-opacity="0.06" stroke="#3f007d" stroke-width="1.36"/>
<path d="M869 948.4C869.5 950.3 869.6 952.6 869.3 954.4C869 956.3 868.1 958.2 867.1 959.5C866 960.8 864.4 961.8 862.9 962.2C861.4 962.6 859.5 962.5 857.9 961.9C856.3 961.3 854.6 960.1 853.4 958.7C852.2 957.2 851.2 955.2 850.7 953.3C850.1 951.4 850 949.2 850.4 947.3C850.7 945.5 851.5 943.6 852.6 942.2C853.7 940.9 855.3 939.9 856.8 939.5C858.3 939.1 860.2 939.2 861.8 939.8C863.4 940.4 865.1 941.6 866.3 943C867.5 944.5 868.5 946.5 869 948.4Z" fill="none" stroke="#96482a" stroke-width="0.9"/>
<path d="M871.7 947.5C872.3 949.8 872.4 952.5 872 954.8C871.6 957.1 870.6 959.4 869.3 961C868 962.6 866 963.9 864.2 964.4C862.3 964.9 860 964.7 858.1 964C856.1 963.3 854.1 961.8 852.6 960C851.1 958.3 849.8 955.8 849.2 953.5C848.6 951.2 848.5 948.4 848.9 946.1C849.3 943.9 850.3 941.5 851.6 939.9C852.9 938.3 854.8 937.1 856.7 936.6C858.6 936.1 860.9 936.2 862.8 936.9C864.8 937.6 866.8 939.2 868.3 940.9C869.8 942.7 871 945.1 871.7 947.5Z" fill="none" stroke="#6a51a3" stroke-width="0.9"/>
<path d="M873 942.8C874 946.4 874.4 950.6 874.1 954C873.8 957.4 872.7 960.8 871.2 963.1C869.7 965.4 867.4 967.2 865.2 967.8C862.9 968.4 860 968 857.6 966.8C855.2 965.5 852.5 963.1 850.5 960.3C848.6 957.5 846.8 953.6 845.8 950.1C844.9 946.5 844.5 942.3 844.8 938.9C845.1 935.5 846.2 932.1 847.7 929.7C849.2 927.4 851.4 925.7 853.7 925.1C856 924.5 858.8 924.8 861.3 926.1C863.7 927.4 866.4 929.8 868.4 932.6C870.3 935.4 872.1 939.2 873 942.8Z" fill="none" stroke="#96482a" stroke-width="0.87"/>
<path d="M866.6 948.3C866.9 949.6 867 951.3 866.8 952.6C866.6 954 866 955.3 865.3 956.3C864.6 957.2 863.5 957.9 862.5 958.2C861.4 958.5 860.1 958.4 859 958C857.9 957.5 856.7 956.6 855.9 955.6C855 954.5 854.3 953 853.9 951.7C853.6 950.3 853.5 948.6 853.7 947.3C853.9 946 854.4 944.6 855.2 943.7C855.9 942.7 857 942 858 941.7C859.1 941.4 860.4 941.5 861.5 942C862.6 942.4 863.8 943.3 864.6 944.4C865.5 945.4 866.2 946.9 866.6 948.3Z" fill="#3f007d" fill-opacity="0.07" stroke="#3f007d" stroke-width="1.36"/>
<path d="M865.3 948.8C865.7 950.1 865.7 951.6 865.6 952.8C865.4 954 864.9 955.2 864.2 956C863.6 956.9 862.6 957.5 861.6 957.8C860.7 958 859.5 958 858.5 957.6C857.5 957.2 856.5 956.3 855.7 955.4C854.9 954.5 854.3 953.1 854 951.9C853.6 950.6 853.5 949.2 853.7 948C853.9 946.8 854.4 945.5 855.1 944.7C855.7 943.8 856.7 943.2 857.6 942.9C858.6 942.7 859.8 942.8 860.8 943.2C861.7 943.6 862.8 944.4 863.6 945.3C864.3 946.3 865 947.6 865.3 948.8Z" fill="none" stroke="#96482a" stroke-width="0.9"/>
<path d="M867.2 948.1C867.6 949.6 867.7 951.4 867.5 952.9C867.2 954.4 866.6 955.9 865.8 956.9C865 957.9 863.8 958.7 862.7 959C861.5 959.4 860.1 959.2 858.9 958.8C857.7 958.3 856.4 957.3 855.4 956.1C854.5 955 853.7 953.3 853.3 951.8C852.9 950.3 852.8 948.5 853 947C853.2 945.6 853.9 944 854.7 943C855.5 942 856.6 941.2 857.8 940.9C859 940.6 860.4 940.7 861.6 941.2C862.8 941.6 864.1 942.6 865 943.8C866 945 866.8 946.6 867.2 948.1Z" fill="none" stroke="#6a51a3" stroke-width="0.9"/>
<path d="M862.8 948.7C862.9 949.4 863 950.2 862.9 950.9C862.9 951.5 862.6 952.2 862.3 952.6C862 953.1 861.6 953.4 861.1 953.5C860.7 953.7 860.1 953.6 859.6 953.4C859.1 953.1 858.6 952.7 858.2 952.1C857.8 951.6 857.5 950.9 857.3 950.2C857.1 949.5 857.1 948.7 857.1 948C857.2 947.4 857.4 946.7 857.7 946.3C858 945.8 858.5 945.5 858.9 945.4C859.4 945.3 860 945.3 860.5 945.6C860.9 945.8 861.5 946.3 861.9 946.8C862.2 947.3 862.6 948 862.8 948.7Z" fill="#3f007d" fill-opacity="0.12" stroke="#3f007d" stroke-width="1.36"/>
<path d="M861.9 949.2C862.1 949.8 862.1 950.5 862.1 951.1C862 951.7 861.8 952.3 861.5 952.7C861.2 953.1 860.8 953.4 860.4 953.5C860 953.6 859.5 953.6 859.1 953.4C858.6 953.2 858.2 952.7 857.8 952.3C857.5 951.8 857.2 951.1 857 950.5C856.8 949.9 856.8 949.2 856.8 948.6C856.9 948 857.1 947.4 857.4 947C857.6 946.6 858 946.3 858.5 946.2C858.9 946.1 859.4 946.1 859.8 946.3C860.2 946.6 860.7 947 861.1 947.5C861.4 947.9 861.7 948.6 861.9 949.2Z" fill="none" stroke="#96482a" stroke-width="0.9"/>
<path d="M863 948.7C863.2 949.4 863.3 950.3 863.2 951C863.2 951.7 862.9 952.5 862.6 952.9C862.2 953.4 861.7 953.8 861.2 953.9C860.7 954.1 860.1 954 859.6 953.7C859.1 953.5 858.5 953 858.1 952.4C857.6 951.8 857.2 951 857 950.3C856.8 949.5 856.8 948.6 856.8 947.9C856.9 947.2 857.2 946.5 857.5 946C857.8 945.5 858.3 945.1 858.8 945C859.3 944.8 860 944.9 860.5 945.2C861 945.4 861.6 945.9 862 946.5C862.5 947.1 862.8 947.9 863 948.7Z" fill="none" stroke="#6a51a3" stroke-width="0.9"/></g>
<clipPath id="c80"><rect x="57.8" y="995.2" width="115.7" height="115.7"/></clipPath><g clip-path="url(#c80)"><path d="M79.1 992C79.1 992 78.9 1010.3 78.1 1015.1C77.3 1020 76 1025 73.1 1028.2C70.1 1031.4 56 1039.3 56 1039.3L56 1063.4C56 1063.4 65.8 1067.5 68.1 1070.5C70.3 1073.4 71.7 1080.9 73.1 1085.5C74.4 1090.2 77 1100.3 78.1 1105.7C79.2 1111 81.1 1125.8 81.1 1125.8L120.4 1125.8C120.4 1125.8 126.3 1102.3 128.4 1095.6C130.6 1088.9 135.1 1080.6 136.5 1075.5C137.8 1070.4 136.9 1061.4 138.5 1057.4C140.1 1053.4 145.6 1048.8 148.5 1045.3C151.5 1041.8 159.3 1035.2 160.6 1031.2C162 1027.2 159.3 1020.4 158.6 1015.1C157.9 1009.9 155.6 992 155.6 992L79.1 992Z" fill="#fbc4a0" fill-opacity="0.55" stroke="#f6ab72" stroke-width="1.25"/>
<path d="M76.1 1059.4C73.3 1062.7 79.5 1069.4 81.1 1075.5C82.8 1081.5 83.3 1091 86.2 1095.6C89 1100.2 94.2 1102.8 98.2 1103.2C102.3 1103.5 107.5 1101.4 110.3 1097.6C113.2 1093.8 114 1086.7 115.3 1080.5C116.7 1074.3 121.2 1064.6 118.4 1060.4C115.5 1056.2 105.3 1055.5 98.2 1055.4C91.2 1055.2 79 1056 76.1 1059.4Z" fill="#fb9d62" fill-opacity="0.3" stroke="#f3974f" stroke-width="1.25"/>
<path d="M70.1 1125.8C70.1 1125.8 72.3 1091.8 72.1 1085.5C71.9 1079.3 70.7 1074.1 68.1 1070.5C65.4 1066.8 56 1063.4 56 1063.4" fill="none" stroke="#f3974f" stroke-width="1.25"/>
<path d="M120.4 1125.8C120.4 1125.8 125.8 1103.9 128.4 1095.6C131.1 1087.4 134.8 1081.9 136.5 1075.5C138.2 1069.1 138.8 1061.7 138.5 1057.4C138.2 1053.1 134.5 1047.3 134.5 1047.3" fill="none" stroke="#f3974f" stroke-width="1.25"/>
<path d="M66 1039.3C66.7 1037.4 69.4 1039.5 71.1 1038.3C72.7 1037 75.3 1033.4 78.1 1030.2C81 1027 86.2 1024.8 88.2 1019.1C90.1 1013.5 91.2 992 91.2 992L154.6 992C154.6 992 157.5 1009.1 158.6 1015.1C159.7 1021.2 162.5 1026 161.6 1030.2C160.8 1034.4 157.4 1037.4 153.6 1040.3C149.7 1043.1 144 1045 138.5 1047.3C133 1049.7 122 1053.5 120.4 1054.4C118.8 1055.2 120.1 1058.1 118.4 1058.4C116.6 1058.7 91.6 1060.5 88.2 1060.4C84.7 1060.3 83.2 1059 80.1 1057.4C77.1 1055.8 69.4 1052.3 67.1 1049.3C64.7 1046.3 65.4 1041.1 66 1039.3Z" fill="#d9560f" fill-opacity="0.19" stroke="#d9560f" stroke-width="1.02"/>
<path d="M91.2 992L123.4 992C123.4 992 124.2 997.7 126.4 1000C128.6 1002.4 134 1002.7 136.5 1006.1C139 1009.4 140 1015.8 141.5 1020.2C143 1024.5 145.2 1029.7 145.5 1032.2C145.8 1034.8 145.7 1036.9 143.5 1038.3C141.4 1039.6 132.4 1042.7 128.4 1043.3C124.4 1043.9 122.2 1043.5 118.4 1042.3C114.5 1041.1 108.3 1038.9 103.3 1035.2C98.2 1031.6 90.2 1027.4 88.2 1020.2C86.2 1012.9 91.2 992 91.2 992Z" fill="#d9560f" fill-opacity="0.26" stroke="#d9560f" stroke-width="1.02"/>
<path d="M86.2 1061.4C89.2 1060.4 105.6 1060.6 108.3 1062.4C111 1064.3 104.1 1070.8 102.3 1072.5C100.5 1074.1 98.2 1074.1 96.2 1073.5C94.2 1072.8 91.9 1070.5 90.2 1068.4C88.5 1066.4 83.2 1062.4 86.2 1061.4Z" fill="#f9964a" fill-opacity="0.9"/>
<path d="M102.3 1014.1C102.6 1012.3 106.6 1011.8 108.3 1013.1C110 1014.5 110.7 1019.5 112.3 1022.2C114 1024.8 116.5 1027 118.4 1029.2C120.2 1031.4 123.1 1033.7 123.4 1035.2C123.7 1036.8 122 1038.9 120.4 1038.3C118.8 1037.6 115.7 1033.6 113.3 1031.2C111 1028.9 108.1 1027 106.3 1024.2C104.4 1021.3 101.9 1016 102.3 1014.1Z" fill="#d9560f" fill-opacity="0.95"/>
<path d="M110.3 992C110.3 992 107.3 1003.2 105.3 1008.1C103.3 1012.9 98.2 1021.2 98.2 1021.2" fill="none" stroke="#fdd8b3" stroke-width="1.3"/>
<path d="M132.4 1005.1C132.4 1005.1 135.5 1019.3 136.5 1025.2C137.5 1031.1 138.8 1037 138.5 1040.3C138.2 1043.5 134.5 1047.3 134.5 1047.3" fill="none" stroke="#fdd8b3" stroke-width="1.3"/>
<path d="M73.1 1031.2C74.4 1029.9 86.4 1022.7 88.2 1021.2C89.9 1019.6 93.2 1013.4 94.2 1013.1C95.2 1012.9 99.1 1017 100.3 1018.1C101.4 1019.3 107 1025.8 108.3 1027.2C109.6 1028.6 114.6 1033.9 115.3 1035.2C116.1 1036.6 117.4 1041.9 117.4 1043.3C117.3 1044.6 115.3 1050.3 114.3 1051.3C113.3 1052.3 106.1 1054.7 105.3 1055.4C104.4 1056 105.7 1059 104.3 1059.4C102.9 1059.8 89.4 1060.5 88.2 1060.4C86.9 1060.2 87.8 1057.8 87.2 1057.4C86.5 1057 81.3 1056.2 80.1 1055.4C79 1054.5 73.8 1048.8 73.1 1047.3C72.4 1045.8 72.1 1038.6 72.1 1037.3C72.1 1035.9 71.7 1032.6 73.1 1031.2Z" fill="#e2d6d3" fill-opacity="0.75" stroke="#7f2704" stroke-width="1.19"/>
<path d="M106.8 1041.3C106.8 1042.9 106.1 1044.7 105 1046.1C103.8 1047.4 102 1048.8 100 1049.6C98 1050.4 95.5 1050.8 93.2 1050.8C90.9 1050.8 88.4 1050.4 86.4 1049.6C84.5 1048.8 82.6 1047.4 81.5 1046.1C80.3 1044.7 79.6 1042.9 79.6 1041.3C79.6 1039.7 80.3 1037.9 81.5 1036.5C82.6 1035.1 84.5 1033.8 86.4 1033C88.4 1032.2 90.9 1031.7 93.2 1031.7C95.5 1031.7 98 1032.2 100 1033C102 1033.8 103.8 1035.1 105 1036.5C106.1 1037.9 106.8 1039.7 106.8 1041.3Z" fill="#7f2704" fill-opacity="0.3" stroke="#7f2704" stroke-width="1.19"/>
<path d="M100.3 1041.3C100.3 1042.1 99.9 1043.1 99.3 1043.8C98.7 1044.5 97.8 1045.2 96.7 1045.6C95.7 1046.1 94.4 1046.3 93.2 1046.3C92 1046.3 90.7 1046.1 89.7 1045.6C88.7 1045.2 87.7 1044.5 87.1 1043.8C86.5 1043.1 86.2 1042.1 86.2 1041.3C86.2 1040.4 86.5 1039.5 87.1 1038.8C87.7 1038 88.7 1037.3 89.7 1036.9C90.7 1036.5 92 1036.2 93.2 1036.2C94.4 1036.2 95.7 1036.5 96.7 1036.9C97.8 1037.3 98.7 1038 99.3 1038.8C99.9 1039.5 100.3 1040.4 100.3 1041.3Z" fill="#7f2704" fill-opacity="0.9" stroke="#7f2704" stroke-width="1.02"/>
<path d="M87.2 1041.3C87.2 1041.3 88.2 1043.6 89.2 1044.3C90.2 1045 93.2 1045.3 93.2 1045.3" fill="none" stroke="#fdd8b3" stroke-width="1.5"/></g>
<clipPath id="c81"><rect x="179.3" y="995.2" width="115.7" height="115.7"/></clipPath><g clip-path="url(#c81)"><path d="M270.6 992C270.6 992 270 1010.1 269.5 1015.1C269.1 1020.2 268.9 1032.1 266.5 1035.2C264.2 1038.4 252.5 1040.5 249.4 1042.3C246.4 1044 241 1048.6 240.4 1050.3C239.8 1052.1 242.2 1056.3 244.4 1057.4C246.6 1058.4 256.9 1058.4 259.5 1059.4C262.1 1060.3 265.4 1062.4 266.5 1065.4C267.7 1068.5 268.6 1080.9 269.5 1085.5C270.5 1090.2 273.8 1101 274.6 1105.7C275.4 1110.4 276.6 1125.8 276.6 1125.8L309.8 1125.8L309.8 992L270.6 992Z" fill="#fbc4a0" fill-opacity="0.5"/>
<path d="M276.6 1025.2C276.6 1025.2 269.7 1034.3 266.5 1036.2C263.4 1038.2 252.5 1040.6 249.4 1042.3C246.4 1043.9 241 1048.6 240.4 1050.3C239.8 1052.1 242.2 1056.3 244.4 1057.4C246.6 1058.4 256.9 1058.4 259.5 1059.4C262.1 1060.3 265.4 1062.4 266.5 1065.4C267.7 1068.5 268.6 1080.9 269.5 1085.5C270.5 1090.2 273.8 1101 274.6 1105.7C275.4 1110.4 276.6 1125.8 276.6 1125.8" fill="none" stroke="#f3974f" stroke-width="1.25"/>
<path d="M281.6 992C281.6 992 281.5 1007.9 280.6 1015.1C279.8 1022.3 277.4 1028.5 276.6 1035.2C275.8 1041.9 275.1 1048.7 275.6 1055.4C276.1 1062.1 278.1 1068.8 279.6 1075.5C281.1 1082.2 279.6 1090.9 284.6 1095.6C289.7 1100.3 309.8 1103.7 309.8 1103.7L309.8 992L281.6 992Z" fill="#fb9d62" fill-opacity="0.3" stroke="#f3974f" stroke-width="1.25"/>
<path d="M287.7 992C287.7 992 286.4 1010.9 286.6 1015.1C286.9 1019.3 286 1023.1 289.7 1025.2C293.3 1027.2 309.8 1028.2 309.8 1028.2L309.8 992L287.7 992Z" fill="#d9560f" fill-opacity="0.3" stroke="#d9560f" stroke-width="1.02"/>
<path d="M284.6 1017.1C283.6 1018 280.3 1026.1 279.6 1028.2C278.9 1030.3 277.6 1036.2 277.6 1038.3C277.6 1040.3 278.6 1046.4 279.6 1048.3C280.6 1050.2 284.6 1056 287.7 1057.4C290.7 1058.8 309.8 1062.4 309.8 1062.4L309.8 1020.2C309.8 1020.2 291.8 1019.4 289.7 1019.1C287.5 1018.9 285.6 1016.2 284.6 1017.1Z" fill="#e2d6d3" fill-opacity="0.75" stroke="#7f2704" stroke-width="1.19"/>
<path d="M297.7 1042.3L296.7 1047.1C296.7 1047.1 295 1049.8 293.9 1050.6C292.9 1051.4 291.4 1051.8 290.2 1051.8C288.9 1051.8 287.5 1051.4 286.4 1050.6C285.3 1049.8 284.3 1048.4 283.6 1047.1C283 1045.7 282.6 1043.9 282.6 1042.3C282.6 1040.7 283 1038.9 283.6 1037.5C284.3 1036.1 285.3 1034.8 286.4 1034C287.5 1033.2 288.9 1032.7 290.2 1032.7C291.4 1032.7 292.9 1033.2 293.9 1034C295 1034.8 296.7 1037.5 296.7 1037.5L297.7 1042.3Z" fill="#7f2704" fill-opacity="0.3" stroke="#7f2704" stroke-width="1.19"/>
<path d="M294.2 1042.3C294.2 1043.1 294 1044.1 293.7 1044.8C293.4 1045.5 292.9 1046.2 292.4 1046.6C291.9 1047.1 291.3 1047.3 290.7 1047.3C290.1 1047.3 289.4 1047.1 288.9 1046.6C288.4 1046.2 287.9 1045.5 287.6 1044.8C287.3 1044.1 287.2 1043.1 287.2 1042.3C287.2 1041.4 287.3 1040.5 287.6 1039.8C287.9 1039 288.4 1038.3 288.9 1037.9C289.4 1037.5 290.1 1037.3 290.7 1037.3C291.3 1037.3 291.9 1037.5 292.4 1037.9C292.9 1038.3 293.4 1039 293.7 1039.8C294 1040.5 294.2 1041.4 294.2 1042.3Z" fill="#7f2704" fill-opacity="0.9" stroke="#7f2704" stroke-width="1.02"/>
<path d="M287.7 1060.4C284.6 1061.6 288.7 1066.2 291.7 1067.4C294.7 1068.7 309.8 1069.4 309.8 1069.4L309.8 1060.4C309.8 1060.4 290.7 1059.2 287.7 1060.4Z" fill="#f9964a" fill-opacity="0.8"/></g>
<clipPath id="c82"><rect x="300.9" y="995.2" width="115.7" height="115.7"/></clipPath><g clip-path="url(#c82)"><path d="M351.3 992C351.3 992 350.4 1019.8 350.3 1025.2C350.2 1030.5 349.9 1042.1 350.3 1045.3C350.7 1048.5 353.2 1055.9 354.3 1057.4C355.4 1058.9 359.9 1060.1 361.4 1060.4C362.9 1060.7 367.9 1059.1 369.4 1060.4C370.9 1061.7 374.7 1071 376.5 1073.5C378.2 1076 384.5 1082.8 386.5 1085.5C388.5 1088.3 395.1 1096.6 396.6 1100.6C398.1 1104.7 401.6 1125.8 401.6 1125.8L431.8 1125.8L431.8 1090.6C431.8 1090.6 414.7 1081.8 411.7 1078.5C408.6 1075.2 403.6 1061.2 401.6 1057.4C399.6 1053.6 393.3 1043 391.5 1040.3C389.8 1037.6 385.2 1032.7 384.5 1030.2C383.8 1027.7 384.6 1018.9 384.5 1015.1C384.4 1011.3 383.5 992 383.5 992L351.3 992Z" fill="#fbc4a0" fill-opacity="0.5" stroke="#f6ab72" stroke-width="1.25"/>
<path d="M373.4 1060.4C372.9 1065.8 378.5 1067.3 381.5 1071.5C384.5 1075.7 388.2 1080.5 391.5 1085.5C394.9 1090.6 399.2 1099.4 401.6 1101.6C404 1103.9 408 1104 409.7 1102.6C411.3 1101.3 412.1 1097.3 411.7 1093.6C411.2 1089.9 409.2 1084 406.6 1078.5C404.1 1073 399.4 1065.9 396.6 1060.4C393.7 1054.9 391.1 1048 389.5 1045.3C388 1042.6 386.8 1037.1 384.5 1039.3C382.2 1041.4 373.9 1055 373.4 1060.4Z" fill="#fb9d62" fill-opacity="0.35" stroke="#f3974f" stroke-width="1.25"/>
<path d="M380.5 1060.4C380.1 1058.2 383.7 1055.5 385.5 1055.4C387.4 1055.2 390.4 1057.4 391.5 1059.4C392.7 1061.4 393.2 1065.9 392.6 1067.4C391.9 1068.9 389.3 1069.5 387.5 1068.4C385.7 1067.4 380.8 1062.6 380.5 1060.4Z" fill="#f9964a" fill-opacity="0.85"/>
<path d="M357.3 992C357.3 992 355.8 1017.1 355.3 1025.2C354.9 1033.2 353.9 1041.7 354.3 1045.3C354.7 1048.9 356.5 1052.2 358.3 1053.4C360.2 1054.5 363.2 1053.7 365.4 1052.3C367.6 1051 370.4 1048.9 371.4 1045.3C372.5 1041.7 373.3 1033.3 373.4 1025.2C373.6 1017.1 372.4 992 372.4 992L357.3 992Z" fill="#d9560f" fill-opacity="0.26" stroke="#d9560f" stroke-width="1.02"/>
<path d="M359.4 1035.2C359.8 1032 362.6 1025 363.4 1023.2C364.2 1021.3 366.1 1017.2 366.4 1019.1C366.7 1021.1 365.9 1031.2 365.4 1035.2C364.9 1039.3 364.1 1044.1 363.4 1045.3C362.6 1046.5 360.9 1044.6 360.4 1043.3C359.8 1041.9 358.9 1038.5 359.4 1035.2Z" fill="#d9560f" fill-opacity="0.9"/>
<path d="M362.4 1041.3C362.4 1041.3 362.4 1035.9 362.9 1033.2C363.4 1030.5 365.4 1025.2 365.4 1025.2" fill="none" stroke="#fdd8b3" stroke-width="1.5"/>
<path d="M372.9 1008.1C372.3 1008.6 371 1022.3 370.4 1025.2C369.9 1028.1 367.7 1034.9 367.4 1037.3C367.1 1039.6 367 1046.5 367.4 1048.3C367.8 1050.1 370.8 1054.2 371.4 1055.4C372 1056.6 372.6 1060 373.4 1060.4C374.2 1060.8 378.7 1060.1 379.5 1059.4C380.3 1058.7 381.1 1054.8 381.5 1053.4C381.9 1051.9 383.5 1047.1 383.5 1045.3C383.5 1043.5 382.2 1037.8 381.5 1035.2C380.8 1032.7 377.3 1022.9 376.5 1020.2C375.6 1017.4 373.5 1007.6 372.9 1008.1Z" fill="#e9d5cc" fill-opacity="0.75" stroke="#7f2704" stroke-width="1.19"/>
<path d="M380 1040.3C380 1041.6 379.7 1043.1 379.2 1044.3C378.8 1045.5 378 1046.6 377.2 1047.2C376.4 1047.9 375.4 1048.3 374.4 1048.3C373.5 1048.3 372.5 1047.9 371.7 1047.2C370.9 1046.6 370.1 1045.5 369.7 1044.3C369.2 1043.1 368.9 1041.6 368.9 1040.3C368.9 1038.9 369.2 1037.4 369.7 1036.2C370.1 1035.1 370.9 1034 371.7 1033.3C372.5 1032.6 373.5 1032.2 374.4 1032.2C375.4 1032.2 376.4 1032.6 377.2 1033.3C378 1034 378.8 1035.1 379.2 1036.2C379.7 1037.4 380 1038.9 380 1040.3Z" fill="#7f2704" fill-opacity="0.35" stroke="#7f2704" stroke-width="1.19"/>
<path d="M377.3 1040.3C377.3 1041 377.1 1041.8 376.9 1042.4C376.6 1043 376.3 1043.6 375.9 1043.9C375.4 1044.3 374.9 1044.5 374.4 1044.5C374 1044.5 373.4 1044.3 373 1043.9C372.6 1043.6 372.2 1043 372 1042.4C371.8 1041.8 371.6 1041 371.6 1040.3C371.6 1039.6 371.8 1038.8 372 1038.2C372.2 1037.6 372.6 1037 373 1036.6C373.4 1036.3 374 1036 374.4 1036C374.9 1036 375.4 1036.3 375.9 1036.6C376.3 1037 376.6 1037.6 376.9 1038.2C377.1 1038.8 377.3 1039.6 377.3 1040.3Z" fill="#7f2704" fill-opacity="0.9" stroke="#7f2704" stroke-width="0.85"/></g>
<clipPath id="c83"><rect x="422.4" y="995.2" width="115.7" height="115.7"/></clipPath><g clip-path="url(#c83)"><path d="M406.9 992L495.4 992C495.4 992 497.8 1015.3 498.5 1020.2C499.2 1025 501.1 1036.8 502.5 1040.3C503.9 1043.8 510.5 1051.8 512.5 1055.4C514.6 1058.9 521.1 1072 522.6 1075.5C524.1 1079 527.4 1087.8 527.6 1090.6C527.8 1093.4 526.1 1101.8 524.6 1103.7C523.1 1105.5 514 1106.5 512.5 1108.7C511.1 1110.9 510.5 1125.8 510.5 1125.8L406.9 1125.8L406.9 992Z" fill="#fbc4a0" fill-opacity="0.6" stroke="#f6ab72" stroke-width="1.25"/>
<path d="M406.9 992L465.3 992C465.3 992 470.3 1000 472.3 1003C474.3 1006.1 479 1012.2 480.4 1015.1C481.7 1018.1 480.4 1021.6 482.4 1025.2C484.4 1028.8 496.1 1044.1 498.5 1047.3C500.8 1050.6 503.6 1051.9 504.5 1055.4C505.4 1058.9 506 1069.4 505.5 1073.5C505 1077.5 503.6 1082.9 500.5 1085.5C497.4 1088.2 488.1 1092 482.4 1093.6C476.6 1095.2 462.6 1097.4 457.2 1097.6C451.8 1097.9 448.2 1096.3 442.1 1095.6C436.1 1094.9 406.9 1091.6 406.9 1091.6L406.9 992Z" fill="#fb9d62" fill-opacity="0.42" stroke="#f3974f" stroke-width="1.25"/>
<path d="M406.9 1003L434.1 992L465.3 992C465.3 992 469.8 999.2 472.3 1003C474.8 1006.9 478.7 1011.4 480.4 1015.1C482 1018.8 485.4 1024.5 482.4 1025.2C479.3 1025.9 470.6 1019.5 462.2 1019.1C453.8 1018.8 406.9 1022.2 406.9 1022.2L406.9 1003Z" fill="#d9560f" fill-opacity="0.17"/>
<path d="M465.3 992C465.3 992 469.8 999.2 472.3 1003C474.8 1006.9 478.7 1011.4 480.4 1015.1C482 1018.8 482.4 1025.2 482.4 1025.2" fill="none" stroke="#d9560f" stroke-width="1.02"/>
<path d="M450.2 992C450.2 992 453.4 999.4 456.2 1001C459.1 1002.7 464.1 1000.9 467.3 1002C470.5 1003.2 473.5 1005.1 475.3 1008.1C477.2 1011.1 478.3 1020.2 478.3 1020.2" fill="none" stroke="#fdd8b3" stroke-width="1.5"/>
<path d="M406.9 1010.1C406.9 1010.1 423.6 1005.9 428 1003C432.5 1000.2 435.1 992 435.1 992" fill="none" stroke="#fdd8b3" stroke-width="1.5"/>
<path d="M424 1057.4C426.2 1057.2 483.6 1056.1 486.4 1056.4C489.2 1056.6 487.7 1061.8 485.4 1063.4C483.1 1065.1 477.7 1066.2 472.3 1066.4C466.9 1066.7 448.6 1066 442.1 1065.4C435.6 1064.9 428 1063.3 426 1062.4C424 1061.5 421.9 1057.6 424 1057.4Z" fill="#f9964a" fill-opacity="0.9"/>
<path d="M406.9 1023.2C406.9 1023.2 438.4 1019.4 442.1 1019.1C445.8 1018.9 459.9 1019.3 462.2 1019.6C464.6 1020 475.3 1023.7 477.3 1024.7C479.3 1025.7 490.8 1033.1 492.4 1034.2C494 1035.3 500.7 1040.6 501.5 1041.3C502.2 1041.9 503.5 1044 503.5 1044.3C503.5 1044.6 502.2 1045.8 501.5 1046.3C500.7 1046.8 493.6 1051.7 492.4 1052.3C491.3 1052.9 485.8 1055.1 484.4 1055.4C483 1055.6 472.2 1056.1 471.3 1056.4C470.4 1056.6 472.5 1059.2 471.3 1059.4C470.1 1059.6 454.4 1059.7 453.2 1059.4C452 1059.1 454.7 1055.6 453.2 1055.4C451.6 1055.2 431.2 1056.2 430 1056.4C428.9 1056.6 431.2 1059.2 430 1059.4C428.9 1059.5 406.9 1059.4 406.9 1059.4L406.9 1023.2Z" fill="#e6d8d3" fill-opacity="0.75" stroke="#7f2704" stroke-width="1.27"/>
<path d="M406.9 1028.2C406.9 1028.2 438.9 1024.2 447.2 1024.2C455.4 1024.2 461.4 1026.4 467.3 1028.2C473.1 1030 478.7 1033 482.4 1035.2C486 1037.5 490.4 1039.9 490.4 1042.3C490.4 1044.6 486.6 1048.9 482.4 1049.3C478.1 1049.8 406.9 1051.3 406.9 1051.3L406.9 1028.2Z" fill="#d9560f" fill-opacity="0.13" stroke="#d9560f" stroke-width="1.1"/>
<path d="M486.4 1041.8C486.4 1043.2 483.7 1045.1 481.1 1046.1C478.6 1047 472.4 1048.5 466.8 1049.2C461.1 1049.9 453.7 1050.3 447.2 1050.3C440.6 1050.3 433.2 1049.9 427.5 1049.2C421.9 1048.5 413.2 1046.1 413.2 1046.1L407.9 1041.8L413.2 1037.5C413.2 1037.5 421.9 1035.1 427.5 1034.4C433.2 1033.7 440.6 1033.2 447.2 1033.2C453.7 1033.2 461.1 1033.7 466.8 1034.4C472.4 1035.1 478.6 1036.5 481.1 1037.5C483.7 1038.5 486.4 1040.4 486.4 1041.8Z" fill="#7f2704" fill-opacity="0.3" stroke="#7f2704" stroke-width="1.27"/>
<path d="M481.4 1042.3C481.4 1043.3 478.9 1044.7 476.8 1045.3C474.7 1045.9 469.2 1047 464.3 1047.5C459.3 1048 452.9 1048.3 447.2 1048.3C441.5 1048.3 435 1048 430 1047.5C425.1 1047 417.5 1045.3 417.5 1045.3L412.9 1042.3L417.5 1039.3C417.5 1039.3 425.1 1037.6 430 1037.1C435 1036.6 441.5 1036.2 447.2 1036.2C452.9 1036.2 459.3 1036.6 464.3 1037.1C469.2 1037.6 474.7 1038.6 476.8 1039.3C478.9 1039.9 481.4 1041.3 481.4 1042.3Z" fill="#d9560f" fill-opacity="0.17" stroke="#d9560f" stroke-width="1.02"/>
<path d="M467.8 1042.1C467.8 1042.5 466 1043.2 464.7 1043.4C463.4 1043.7 459.7 1044.2 456.5 1044.4C453.2 1044.7 448.9 1044.8 445.1 1044.8C441.4 1044.8 437.1 1044.7 433.8 1044.4C430.6 1044.2 426.8 1043.7 425.5 1043.4C424.2 1043.2 422.5 1042.5 422.5 1042.1C422.5 1041.6 424.2 1041 425.5 1040.7C426.8 1040.5 430.6 1040 433.8 1039.7C437.1 1039.5 441.4 1039.4 445.1 1039.4C448.9 1039.4 453.2 1039.5 456.5 1039.7C459.7 1040 463.4 1040.5 464.7 1040.7C466 1041 467.8 1041.6 467.8 1042.1Z" fill="none"/>
<path d="M406.9 1039.3C406.9 1039.3 465 1039.7 466.3 1039.8C467.6 1039.8 468.3 1041.9 468.3 1042.3C468.3 1042.6 467.6 1044.7 466.3 1044.8C465 1044.9 406.9 1045.3 406.9 1045.3L406.9 1039.3Z" fill="#b8440a" fill-opacity="0.95"/></g>
<clipPath id="c84"><rect x="544" y="995.2" width="115.7" height="115.7"/></clipPath><g clip-path="url(#c84)"><path d="M528.9 992L642.6 992C642.6 992 643.4 1020.4 643.6 1025.2C643.8 1030 643.7 1037.3 644.6 1040.3C645.5 1043.3 649.6 1052.6 652.7 1055.4C655.7 1058.1 674.8 1067.4 674.8 1067.4L674.8 1125.8L644.6 1125.8C644.6 1125.8 634.7 1095.8 632.5 1090.6C630.3 1085.3 624.5 1076.8 622.5 1073.5C620.5 1070.2 614.4 1060 612.4 1057.4C610.4 1054.8 605.2 1048.5 602.4 1047.3C599.5 1046.1 591.5 1045.2 584.2 1045.3C577 1045.4 528.9 1048.3 528.9 1048.3L528.9 992Z" fill="#fbc4a0" fill-opacity="0.6" stroke="#f6ab72" stroke-width="1.25"/>
<path d="M614.4 1060.4C613.4 1062.8 622 1072 624.5 1075.5C627 1079 636.6 1092.9 639.6 1095.6C642.6 1098.3 651.1 1101.8 654.7 1102.6C658.2 1103.5 674.8 1104.2 674.8 1104.2L674.8 1065.4C674.8 1065.4 655.7 1057.9 652.7 1055.4C649.6 1052.8 646.4 1040.7 644.6 1040.3C642.8 1039.9 637.6 1049.3 634.5 1051.3C631.5 1053.4 615.4 1058 614.4 1060.4Z" fill="#fb9d62" fill-opacity="0.35" stroke="#f3974f" stroke-width="1.25"/>
<path d="M528.9 1030.2C528.9 1030.2 552.9 1027.8 559.1 1027.2C565.3 1026.6 588.2 1024.9 591.3 1024.2C594.3 1023.4 595.4 1020.1 596.3 1018.1C597.2 1016.2 599.6 1007.7 600.3 1005.1C601 1002.4 603.4 992 603.4 992L634.5 992C634.5 992 639.7 1000.7 640.6 1005.1C641.5 1009.4 643.4 1031.2 643.6 1035.2C643.8 1039.3 643.5 1043.8 642.6 1045.3C641.7 1046.8 635.7 1048.9 634.5 1050.3C633.4 1051.7 633.5 1058.4 631.5 1059.4C629.5 1060.4 616.9 1061.2 614.4 1060.4C611.9 1059.6 607.8 1053.1 606.4 1051.3C605 1049.6 603.6 1044.4 600.3 1043.3C597.1 1042.2 581.3 1040.9 574.2 1040.3C567 1039.7 528.9 1037.3 528.9 1037.3L528.9 1030.2Z" fill="#d9560f" fill-opacity="0.3" stroke="#d9560f" stroke-width="1.19"/>
<path d="M528.9 992L560.1 992C560.1 992 559.7 996.1 559.1 997C558.5 997.9 556.6 1000.9 554.1 1001C551.5 1001.2 528.9 999 528.9 999L528.9 992Z" fill="#ffffff" fill-opacity="1"/>
<path d="M528.9 999C528.9 999 551.5 1001.2 554.1 1001C556.6 1000.9 558.1 998.5 559.1 997C560.1 995.5 560.1 992 560.1 992" fill="none" stroke="#d9560f" stroke-width="1.1"/>
<path d="M528.9 1042.3C528.9 1042.3 563.7 1043.7 574.2 1044.3C584.7 1044.9 595.2 1044.7 600.3 1046.3C605.5 1047.9 608.6 1053.5 610.4 1055.4C612.2 1057.2 614.4 1060.4 614.4 1060.4" fill="none" stroke="#d9560f" stroke-width="1.1"/>
<path d="M611.4 992C611.4 992 611 1009 610.4 1015.1C609.8 1021.2 608.4 1027.1 607.4 1030.2C606.4 1033.3 603.4 1037.3 603.4 1037.3" fill="none" stroke="#fdd8b3" stroke-width="1.5"/>
<path d="M634.5 992C634.5 992 636.1 1009.9 636.6 1015.1C637 1020.4 637.6 1028.2 637.6 1028.2" fill="none" stroke="#fdd8b3" stroke-width="1.5"/>
<path d="M630.5 1062.4C631.9 1061.4 638.6 1059.9 640.6 1060.4C642.6 1060.9 643.1 1063.9 642.6 1065.4C642.1 1066.9 639.2 1069.3 637.6 1069.4C635.9 1069.6 633.7 1067.6 632.5 1066.4C631.4 1065.3 629.2 1063.4 630.5 1062.4Z" fill="#f9964a" fill-opacity="0.9"/>
<path d="M621 1012.1C621 1012.1 619.5 1021.7 618.4 1025.2C617.4 1028.6 615.3 1030.7 614.4 1033.2C613.6 1035.7 613.1 1037.9 613.4 1040.3C613.8 1042.6 616.4 1047.3 616.4 1047.3" fill="none" stroke="#d9560f" stroke-width="5.1"/>
<path d="M625.5 1009.1C624.7 1008.9 623.2 1020.4 622.5 1023.2C621.8 1026 618.8 1034.6 618.4 1037.3C618.1 1039.9 619 1047.3 619.5 1049.3C620 1051.3 623 1056.3 623.5 1057.4C624 1058.5 623.9 1060.1 624.5 1060.4C625.1 1060.7 628.6 1061.3 629.5 1060.4C630.4 1059.5 633.1 1053.4 633.5 1051.3C633.9 1049.3 633.8 1042.9 633.5 1040.3C633.2 1037.7 631.3 1028.3 630.5 1025.2C629.7 1022.1 626.3 1009.3 625.5 1009.1Z" fill="#e9d9d3" fill-opacity="0.75" stroke="#7f2704" stroke-width="1.19"/>
<path d="M631.2 1041.3C631.2 1043 631 1044.9 630.5 1046.3C630.1 1047.8 629.4 1049.2 628.6 1050C627.9 1050.8 626.9 1051.3 626 1051.3C625.1 1051.3 624.1 1050.8 623.4 1050C622.6 1049.2 621.9 1047.8 621.5 1046.3C621 1044.9 620.8 1043 620.8 1041.3C620.8 1039.6 621 1037.7 621.5 1036.2C621.9 1034.8 622.6 1033.4 623.4 1032.6C624.1 1031.7 625.1 1031.2 626 1031.2C626.9 1031.2 627.9 1031.7 628.6 1032.6C629.4 1033.4 630.1 1034.8 630.5 1036.2C631 1037.7 631.2 1039.6 631.2 1041.3Z" fill="#7f2704" fill-opacity="0.35" stroke="#7f2704" stroke-width="1.27"/>
<path d="M628.8 1042.3C628.8 1043 628.7 1043.9 628.4 1044.5C628.2 1045.2 627.8 1045.8 627.4 1046.2C627 1046.6 626.5 1046.8 626 1046.8C625.5 1046.8 625 1046.6 624.6 1046.2C624.2 1045.8 623.8 1045.2 623.6 1044.5C623.3 1043.9 623.2 1043 623.2 1042.3C623.2 1041.5 623.3 1040.7 623.6 1040C623.8 1039.4 624.2 1038.7 624.6 1038.4C625 1038 625.5 1037.8 626 1037.8C626.5 1037.8 627 1038 627.4 1038.4C627.8 1038.7 628.2 1039.4 628.4 1040C628.7 1040.7 628.8 1041.5 628.8 1042.3Z" fill="#7f2704" fill-opacity="0.9" stroke="#7f2704" stroke-width="0.85"/></g>
<clipPath id="c85"><rect x="665.5" y="995.2" width="115.7" height="115.7"/></clipPath><g clip-path="url(#c85)"><path d="M650.9 992L728.4 992C728.4 992 729.6 1012.3 730.4 1015.1C731.2 1017.9 734.3 1018.1 736.4 1020.2C738.5 1022.2 748.5 1031.7 751.5 1035.2C754.5 1038.8 764.1 1051.5 766.6 1055.4C769.1 1059.2 773.6 1070.9 776.7 1073.5C779.7 1076.1 796.8 1081.5 796.8 1081.5L796.8 1125.8L738.4 1125.8C738.4 1125.8 729.1 1099.9 726.4 1095.6C723.6 1091.3 714.8 1085.3 711.3 1082.5C707.8 1079.7 694.7 1069.7 691.2 1067.4C687.6 1065.2 680.1 1061.2 676.1 1060.4C672 1059.6 650.9 1059.4 650.9 1059.4L650.9 992Z" fill="#fbc4a0" fill-opacity="0.6" stroke="#f6ab72" stroke-width="1.25"/>
<path d="M716.3 1055.4C718 1054.5 731.9 1060.4 736.4 1060.4C740.9 1060.4 743.1 1053.7 746.5 1055.4C749.8 1057 753.2 1065.4 756.5 1070.5C759.9 1075.5 764.5 1081.8 766.6 1085.5C768.7 1089.3 771.5 1092.6 770.6 1095.6C769.8 1098.6 764.8 1103.3 761.6 1103.7C758.4 1104 755 1100.8 751.5 1097.6C748.1 1094.4 740.6 1085.9 736.4 1080.5C732.2 1075.2 729.7 1069.6 726.4 1065.4C723 1061.2 714.6 1056.2 716.3 1055.4Z" fill="#fb9d62" fill-opacity="0.4" stroke="#f3974f" stroke-width="1.25"/>
<path d="M726.4 1060.4C727 1058.4 735.1 1055.4 738.4 1055.4C741.8 1055.4 745 1058 746.5 1060.4C748 1062.7 748.2 1067.6 747.5 1069.4C746.8 1071.3 744.6 1071.8 742.5 1071.5C740.3 1071.1 737.1 1069.3 734.4 1067.4C731.7 1065.6 725.7 1062.4 726.4 1060.4Z" fill="#f9964a" fill-opacity="0.9"/>
<path d="M650.9 992L697.2 992C697.2 992 702.3 1002.7 703.2 1005.1C704.1 1007.4 706.9 1013.3 706.2 1015.1C705.5 1016.9 699.2 1022 696.2 1023.2C693.2 1024.4 680.6 1026.7 676.1 1027.2C671.5 1027.7 650.9 1028.2 650.9 1028.2L650.9 992Z" fill="#d9560f" fill-opacity="0.38" stroke="#d9560f" stroke-width="1.1"/>
<path d="M670 1020.2C670 1020.2 668 1012.9 669 1010.1C670 1007.2 673.4 1006 676.1 1003C678.7 1000.1 685.1 992 685.1 992" fill="none" stroke="#fdd8b3" stroke-width="1.6"/>
<path d="M697.2 992C697.2 992 702.4 1004.6 704.2 1010.1C706.1 1015.6 707.1 1021.1 708.3 1025.2C709.4 1029.2 711.3 1035.2 711.3 1035.2" fill="none" stroke="#d9560f" stroke-width="1.1"/>
<path d="M718.3 992C718.3 992 719.8 1008.7 720.3 1015.1C720.8 1021.6 721.3 1031.2 721.3 1031.2" fill="none" stroke="#d9560f" stroke-width="1.1"/>
<path d="M650.9 1055.4C650.9 1055.4 680.4 1055.1 686.1 1055.4C691.8 1055.6 700.2 1057.4 700.2 1057.4" fill="none" stroke="#d9560f" stroke-width="1.1"/>
<path d="M650.9 1028.2C650.9 1028.2 682.1 1024.8 686.1 1024.2C690.1 1023.6 697.3 1022 699.2 1021.2C701.1 1020.3 707.3 1014 709.3 1014.1C711.2 1014.2 720.1 1020.2 722.3 1022.2C724.6 1024.1 734.8 1035.8 736.4 1037.3C738 1038.7 741 1038.4 741.5 1039.3C741.9 1040.1 741.9 1046.3 741.5 1047.3C741 1048.3 737.5 1050.5 736.4 1051.3C735.3 1052.2 729.2 1056.6 728.4 1057.4C727.5 1058.1 727.8 1060.2 726.4 1060.4C724.9 1060.6 707.7 1060.6 706.2 1060.4C704.8 1060.2 705.1 1057.8 704.2 1057.4C703.4 1057 699.5 1055.7 696.2 1055.4C692.9 1055.1 650.9 1052.3 650.9 1052.3L650.9 1028.2Z" fill="#e6d8d3" fill-opacity="0.75" stroke="#7f2704" stroke-width="1.27"/>
<path d="M672 1041.3C673.4 1040.7 689.1 1035.9 696.2 1034.2C703.2 1032.6 709.3 1031.1 714.3 1031.2C719.3 1031.4 723.7 1033.2 726.4 1035.2C729 1037.3 730.7 1040.8 730.4 1043.3C730.1 1045.8 727.9 1049.2 724.4 1050.3C720.8 1051.5 712.6 1051.8 706.2 1051.3C699.9 1050.8 691 1048.4 686.1 1047.3C681.3 1046.3 675.4 1044.9 674 1044.3C672.7 1043.7 670.7 1041.9 672 1041.3Z" fill="#7f2704" fill-opacity="0.3" stroke="#7f2704" stroke-width="1.27"/>
<path d="M650.9 1045.3C650.9 1045.3 679.8 1045.6 686.1 1046.3C692.4 1047.1 698.2 1050.1 701.2 1051.3C704.2 1052.6 708.3 1055.4 708.3 1055.4" fill="none" stroke="#d9560f" stroke-width="1.02"/>
<path d="M722.3 1041.8C722.3 1042.6 721.9 1043.6 721.2 1044.3C720.5 1045 719.3 1045.7 718.1 1046.1C716.8 1046.6 715.2 1046.8 713.8 1046.8C712.4 1046.8 710.7 1046.6 709.5 1046.1C708.3 1045.7 707.1 1045 706.4 1044.3C705.7 1043.6 705.2 1042.6 705.2 1041.8C705.2 1040.9 705.7 1040 706.4 1039.3C707.1 1038.5 708.3 1037.8 709.5 1037.4C710.7 1037 712.4 1036.8 713.8 1036.8C715.2 1036.8 716.8 1037 718.1 1037.4C719.3 1037.8 720.5 1038.5 721.2 1039.3C721.9 1040 722.3 1040.9 722.3 1041.8Z" fill="#8a3208" fill-opacity="0.9" stroke="#7f2704" stroke-width="0.85"/>
<path d="M710.3 1043.3C710.3 1043.3 711.3 1040.9 712.3 1040.3C713.3 1039.7 715.3 1039.4 716.3 1039.8C717.3 1040.1 718.3 1042.3 718.3 1042.3" fill="none" stroke="#fdd8b3" stroke-width="2.0"/></g>
<clipPath id="c86"><rect x="787.1" y="995.2" width="115.7" height="115.7"/></clipPath><g clip-path="url(#c86)"><path d="M835.3 992C835.3 992 833.8 1029.6 832.3 1035.2C830.8 1040.9 821.3 1046.1 820.2 1048.3C819.1 1050.5 822 1054.7 821.2 1057.4C820.4 1060.1 814.1 1071.7 812.2 1075.5C810.2 1079.3 803.2 1090.6 802.1 1095.6C801 1100.6 801.1 1125.8 801.1 1125.8L839.3 1125.8C839.3 1125.8 845.1 1107.7 847.4 1103.7C849.7 1099.6 859.4 1089.4 862.5 1085.5C865.5 1081.7 875.3 1068.8 877.5 1065.4C879.8 1062 883.1 1053.6 884.6 1051.3C886.1 1049.1 891.4 1045.9 892.6 1043.3C893.8 1040.7 896.6 1030.3 896.7 1025.2C896.8 1020.1 893.6 992 893.6 992L835.3 992Z" fill="#fbc4a0" fill-opacity="0.55" stroke="#f6ab72" stroke-width="1.25"/>
<path d="M832.3 1035.2C832.3 1035.2 821.8 1045.1 820.2 1048.3C818.6 1051.6 822.2 1053.9 821.2 1057.4C820.2 1060.9 815.3 1069.1 812.2 1075.5C809 1081.9 803.9 1087.2 802.1 1095.6C800.2 1104 801.1 1125.8 801.1 1125.8" fill="none" stroke="#f3974f" stroke-width="1.25"/>
<path d="M839.3 1125.8C839.3 1125.8 843.5 1110.4 847.4 1103.7C851.2 1096.9 857.4 1091.9 862.5 1085.5C867.5 1079.2 874.1 1070.7 877.5 1065.4C881 1060.1 884.6 1051.3 884.6 1051.3" fill="none" stroke="#f3974f" stroke-width="1.25"/>
<path d="M830.3 1065.4C832.4 1062.7 834.1 1060.7 837.3 1060.4C840.5 1060.1 845.7 1062.9 849.4 1063.4C853.1 1063.9 859.1 1060.9 859.4 1063.4C859.8 1065.9 854.7 1073.5 851.4 1078.5C848 1083.5 843.3 1090.1 839.3 1093.6C835.3 1097.1 830.8 1099.3 827.2 1099.6C823.7 1100 819.5 1098.3 818.2 1095.6C816.8 1092.9 817.4 1088 819.2 1083.5C821 1079 828.1 1068.2 830.3 1065.4Z" fill="#fb9d62" fill-opacity="0.4" stroke="#f3974f" stroke-width="1.25"/>
<path d="M840.3 1061.4C842.3 1060.9 855.9 1061.1 857.4 1062.4C858.9 1063.7 851.5 1068.2 849.4 1069.4C847.3 1070.7 844.8 1071 843.3 1070.5C841.8 1070 840.8 1067.9 840.3 1066.4C839.8 1064.9 838.4 1061.9 840.3 1061.4Z" fill="#f9964a" fill-opacity="0.9"/>
<path d="M861.4 992C861.4 992 859.8 1006.8 859.4 1010.1C859 1013.4 858.1 1022.4 857.4 1025.2C856.7 1028 852.4 1035.6 852.4 1038.3C852.4 1040.9 855.4 1050.3 857.4 1051.3C859.4 1052.3 870 1049.1 872.5 1048.3C875 1047.5 880.9 1044.6 882.6 1043.3C884.3 1042 888.8 1038.1 889.6 1035.2C890.4 1032.4 890.8 1019.4 890.6 1015.1C890.4 1010.8 887.6 992 887.6 992L861.4 992Z" fill="#d9560f" fill-opacity="0.3" stroke="#d9560f" stroke-width="1.1"/>
<path d="M893.6 992C893.6 992 896.3 1018.2 896.2 1025.2C896 1032.2 894.7 1038.1 892.6 1042.3C890.5 1046.5 886.9 1048.3 883.6 1050.3C880.2 1052.3 872.5 1054.4 872.5 1054.4" fill="none" stroke="#d9560f" stroke-width="1.1"/>
<path d="M869.5 992C869.5 992 867.3 1009 867.5 1015.1C867.6 1021.3 870.5 1030.2 870.5 1030.2" fill="none" stroke="#d9560f" stroke-width="1.1"/>
<path d="M875.5 1011.1C876.1 1009.4 879.9 1011.7 880.6 1013.1C881.3 1014.5 882.1 1023 882.6 1025.2C883.1 1027.4 886.1 1033.6 885.6 1035.2C885.1 1036.9 878.7 1041.8 877.5 1041.3C876.4 1040.8 874.7 1033.2 874.5 1030.2C874.3 1027.2 874.9 1012.8 875.5 1011.1Z" fill="#d9560f" fill-opacity="0.9"/>
<path d="M876.5 1023.2L880.6 1037.3" fill="none" stroke="#fdd8b3" stroke-width="1.6"/>
<path d="M879.6 1021.2L883.6 1035.2" fill="none" stroke="#fdd8b3" stroke-width="1.6"/>
<path d="M861.4 1009.1C861.9 1009.1 864 1013.5 864.5 1015.1C865 1016.7 865.7 1023.4 866.5 1025.2C867.3 1027 871.7 1031.4 872.5 1033.2C873.3 1035 874.7 1041.4 874.5 1043.3C874.3 1045.2 871.6 1051 870.5 1052.3C869.4 1053.7 864.3 1055.6 863.5 1056.4C862.7 1057.2 863.7 1060.1 862.5 1060.4C861.2 1060.7 852.3 1059.6 851.4 1059.4C850.5 1059.2 850.9 1058.1 850.4 1057.4C849.8 1056.7 846 1052.8 845.4 1051.3C844.7 1049.8 843.9 1044.1 844.3 1042.3C844.7 1040.5 848.1 1035.1 849.4 1033.2C850.7 1031.3 856.3 1025 857.4 1023.2C858.5 1021.4 860 1016.5 860.4 1015.1C860.8 1013.7 861 1009.1 861.4 1009.1Z" fill="#e9d9d3" fill-opacity="0.75" stroke="#7f2704" stroke-width="1.27"/>
<path d="M838.3 1051.3C838.3 1051.3 837.3 1056 839.3 1057.4C841.3 1058.8 851.4 1060.4 851.4 1060.4" fill="none" stroke="#d9560f" stroke-width="1.1"/>
<path d="M868.2 1041.8C868.2 1043.3 867.7 1045.1 866.9 1046.4C866.2 1047.7 864.9 1049 863.6 1049.8C862.2 1050.6 860.5 1051 858.9 1051C857.4 1051 855.6 1050.6 854.3 1049.8C853 1049 851.7 1047.7 850.9 1046.4C850.1 1045.1 849.7 1043.3 849.7 1041.8C849.7 1040.2 850.1 1038.5 850.9 1037.2C851.7 1035.8 853 1034.5 854.3 1033.8C855.6 1033 857.4 1032.5 858.9 1032.5C860.5 1032.5 862.2 1033 863.6 1033.8C864.9 1034.5 866.2 1035.8 866.9 1037.2C867.7 1038.5 868.2 1040.2 868.2 1041.8Z" fill="#7f2704" fill-opacity="0.3" stroke="#7f2704" stroke-width="1.27"/>
<path d="M869.5 1042.3C869.5 1044 868.9 1045.9 867.9 1047.3C866.9 1048.8 865.2 1050.2 863.5 1051C861.7 1051.8 859.4 1052.3 857.4 1052.3C855.4 1052.3 853.1 1051.8 851.4 1051C849.6 1050.2 848 1048.8 847 1047.3C846 1045.9 845.4 1044 845.4 1042.3C845.4 1040.6 846 1038.7 847 1037.3C848 1035.8 849.6 1034.4 851.4 1033.6C853.1 1032.7 855.4 1032.2 857.4 1032.2C859.4 1032.2 861.7 1032.7 863.5 1033.6C865.2 1034.4 866.9 1035.8 867.9 1037.3C868.9 1038.7 869.5 1040.6 869.5 1042.3Z" fill="none" stroke="#d9560f" stroke-width="1.02"/>
<path d="M863 1041.8C863 1042.4 862.7 1043.1 862.4 1043.7C862 1044.2 861.3 1044.8 860.7 1045.1C860 1045.4 859.2 1045.6 858.4 1045.6C857.7 1045.6 856.8 1045.4 856.2 1045.1C855.5 1044.8 854.9 1044.2 854.5 1043.7C854.1 1043.1 853.9 1042.4 853.9 1041.8C853.9 1041.1 854.1 1040.4 854.5 1039.9C854.9 1039.3 855.5 1038.8 856.2 1038.5C856.8 1038.2 857.7 1038 858.4 1038C859.2 1038 860 1038.2 860.7 1038.5C861.3 1038.8 862 1039.3 862.4 1039.9C862.7 1040.4 863 1041.1 863 1041.8Z" fill="#8a3208" fill-opacity="0.9" stroke="#7f2704" stroke-width="0.85"/></g>
<clipPath id="c87"><rect x="908.6" y="995.2" width="115.7" height="115.7"/></clipPath><g clip-path="url(#c87)"><path d="M919.1 992C919.1 992 919.6 1020.9 919.1 1025.2C918.6 1029.5 914.4 1033.2 914 1035.2C913.6 1037.3 914.3 1044.1 915 1045.3C915.7 1046.5 920.4 1045.3 921.1 1047.3C921.8 1049.3 921.3 1061.6 922.1 1065.4C922.9 1069.2 926.9 1081.7 929.1 1085.5C931.3 1089.4 942.2 1099.6 944.2 1103.7C946.2 1107.7 949.2 1125.8 949.2 1125.8L987.5 1125.8C987.5 1125.8 987.9 1100.1 987.5 1095.6C987.1 1091.1 983.7 1083 983.4 1080.5C983.2 1078 984.6 1072.4 985.5 1070.5C986.4 1068.5 988 1062.2 992.5 1061.4C997 1060.6 1039.8 1061.4 1039.8 1061.4L1039.8 1041.3C1039.8 1041.3 1014.1 1038.4 1009.6 1037.3C1005.1 1036.1 997.3 1031.9 994.5 1030.2C991.7 1028.5 983.1 1022.7 981.4 1020.2C979.7 1017.6 978 1007.9 977.4 1005.1C976.8 1002.2 975.4 992 975.4 992L919.1 992Z" fill="#fbc4a0" fill-opacity="0.55" stroke="#f6ab72" stroke-width="1.25"/>
<path d="M934.2 1057.4C928.5 1060.4 936.7 1069.4 939.2 1075.5C941.7 1081.5 945.1 1089.2 949.2 1093.6C953.4 1098 960.5 1101.3 964.3 1101.6C968.2 1102 971.3 1099.5 972.4 1095.6C973.4 1091.7 971.2 1081.9 971.4 1075.5C971.5 1069.1 979.6 1060.4 973.4 1057.4C967.2 1054.4 939.9 1054.4 934.2 1057.4Z" fill="#fb9d62" fill-opacity="0.4" stroke="#f3974f" stroke-width="1.25"/>
<path d="M943.2 1062.4C945.6 1061.1 958.6 1060.2 961.3 1061.4C964 1062.6 960.8 1067.4 959.3 1069.4C957.8 1071.5 954.3 1073.5 952.3 1073.5C950.2 1073.5 948.7 1071.3 947.2 1069.4C945.7 1067.6 940.9 1063.7 943.2 1062.4Z" fill="#f9964a" fill-opacity="0.9"/>
<path d="M979.4 1055.4C979.4 1055.4 977.8 1059.2 979.4 1059.4C981 1059.5 1039.8 1060.9 1039.8 1060.9" fill="none" stroke="#f3974f" stroke-width="1.25"/>
<path d="M931.1 992C931.1 992 928.8 1020.4 929.1 1025.2C929.4 1030 933.1 1038.1 934.2 1040.3C935.2 1042.5 935.8 1046.5 939.2 1047.3C942.5 1048.1 969.4 1050.9 979.4 1051.3C989.5 1051.7 1039.8 1051.3 1039.8 1051.3L1039.8 1049.3C1039.8 1049.3 1015.1 1048.2 1009.6 1047.3C1004.1 1046.4 988.3 1042 984.5 1040.3C980.6 1038.6 973.3 1032.7 971.4 1030.2C969.5 1027.7 966.1 1018.9 965.3 1015.1C964.5 1011.3 963.3 992 963.3 992L931.1 992Z" fill="#d9560f" fill-opacity="0.34" stroke="#d9560f" stroke-width="1.1"/>
<path d="M919.1 992C919.1 992 918.9 1019.9 919.1 1025.2C919.2 1030.4 918.4 1034.9 920.1 1038.3C921.7 1041.6 929.1 1045.3 929.1 1045.3" fill="none" stroke="#d9560f" stroke-width="1.1"/>
<path d="M975.4 992C975.4 992 976.4 1000.4 977.4 1005.1C978.4 1009.8 978.6 1016 981.4 1020.2C984.3 1024.3 989.8 1027.4 994.5 1030.2C999.2 1033.1 1003.1 1035.7 1009.6 1037.3C1016.1 1038.8 1039.8 1041.3 1039.8 1041.3" fill="none" stroke="#d9560f" stroke-width="1.19"/>
<path d="M934.2 992C934.2 992 933 1009.8 933.1 1015.1C933.3 1020.4 935.2 1028.2 935.2 1028.2" fill="none" stroke="#fdd8b3" stroke-width="1.6"/>
<path d="M999.5 1048.3C999.5 1048.3 1005.4 1045.6 1009.6 1045.3C1013.8 1045 1039.8 1045.3 1039.8 1045.3" fill="none" stroke="#fdd8b3" stroke-width="1.6"/>
<path d="M949.2 1007.6C949.9 1008 952.6 1013.6 953.3 1015.1C954 1016.7 955.1 1021.6 956.3 1023.2C957.5 1024.8 963.4 1029.5 965.3 1031.2C967.3 1032.9 974.1 1038.7 975.4 1040.3C976.7 1041.9 978.6 1046 978.4 1047.3C978.2 1048.6 975.1 1052.4 973.4 1053.4C971.7 1054.3 962.6 1055.7 961.3 1056.4C960 1057.1 961.9 1060 960.3 1060.4C958.7 1060.8 944.8 1060.8 943.2 1060.4C941.6 1060 943.1 1057.2 942.2 1056.4C941.3 1055.6 935.5 1053.7 934.2 1052.3C932.8 1051 928.8 1045.2 928.6 1043.3C928.4 1041.4 930.8 1035.3 932.1 1033.2C933.5 1031.1 940.8 1024.4 942.2 1022.2C943.6 1020 945.5 1012.6 946.2 1011.1C946.9 1009.6 948.5 1007.2 949.2 1007.6Z" fill="#e9d9d3" fill-opacity="0.75" stroke="#7f2704" stroke-width="1.36"/>
<path d="M938.2 1037.3C938.2 1037.3 938.2 1031.1 939.2 1028.2C940.2 1025.3 944.2 1020.2 944.2 1020.2" fill="none" stroke="#d9560f" stroke-width="1.1"/>
<path d="M964.8 1041.8C964.8 1043.5 964.1 1045.5 962.9 1047.1C961.8 1048.6 959.8 1050.1 957.8 1050.9C955.8 1051.8 953.1 1052.3 950.8 1052.3C948.4 1052.3 945.7 1051.8 943.7 1050.9C941.7 1050.1 939.7 1048.6 938.6 1047.1C937.4 1045.5 936.7 1043.5 936.7 1041.8C936.7 1040 937.4 1038 938.6 1036.5C939.7 1035 941.7 1033.5 943.7 1032.6C945.7 1031.8 948.4 1031.2 950.8 1031.2C953.1 1031.2 955.8 1031.8 957.8 1032.6C959.8 1033.5 961.8 1035 962.9 1036.5C964.1 1038 964.8 1040 964.8 1041.8Z" fill="#7f2704" fill-opacity="0.35" stroke="#7f2704" stroke-width="1.36"/>
<path d="M929.1 1042.3C929.1 1042.3 941.7 1046.3 949.2 1047.3C956.8 1048.3 974.4 1048.3 974.4 1048.3" fill="none" stroke="#d9560f" stroke-width="1.02"/>
<path d="M957.8 1041.8C957.8 1042.5 957.5 1043.2 956.9 1043.8C956.4 1044.4 955.5 1044.9 954.5 1045.3C953.6 1045.6 952.3 1045.8 951.3 1045.8C950.2 1045.8 948.9 1045.6 948 1045.3C947 1044.9 946.1 1044.4 945.6 1043.8C945 1043.2 944.7 1042.5 944.7 1041.8C944.7 1041.1 945 1040.4 945.6 1039.8C946.1 1039.2 947 1038.6 948 1038.3C948.9 1038 950.2 1037.8 951.3 1037.8C952.3 1037.8 953.6 1038 954.5 1038.3C955.5 1038.6 956.4 1039.2 956.9 1039.8C957.5 1040.4 957.8 1041.1 957.8 1041.8Z" fill="#8a3208" fill-opacity="0.9" stroke="#7f2704" stroke-width="0.85"/></g>
<g><path d="M151.6 138V124.6H156.1V88.4H160.6V33.1H164.6V70.3H169.2V101.5H173.2V138Z" fill="#e3e2ef" fill-opacity="0.62"/><path d="M62 138V133.7H65.5V114.6H70.1V108.5H77.1V99.5H79.6V91.4H82.1V138H82.2V138Z" fill="#a9a6d0" fill-opacity="0.55"/><path d="M88.2 138V113.5H104.3V86.9H113.3V100.5H117.9V123.6H128.4V132.7H138.5V138Z" fill="#fdd8b3" fill-opacity="0.75"/><path d="M79.6 138V113.5H82.1V83.4H85.7V53.2H90.2V64.2H91.7V85.4H95.2V100.5H101.3V103.5H104.3V112.5H107.8V117.6H110.3V120.1H112.8V123.6H127.4V126.1H132.4V131.2H136.5V134.7H141.5V136.7H145.5V138Z" fill="#c98a5f" fill-opacity="0.95"/><path d="M101.3 138V103.5H104.3V106.5H105.8V112.5H107.8V117.6H110.3V122.6H127.4V125.6H132.4V131.2H136.5V134.7H141.5V136.7H145.5V138Z" fill="#b27a8e" fill-opacity="0.95"/><path d="M76.6 138V133.7H78.1V113.5H80.1V91.4H82.1V66.3H84.4V60.2H88.2V80.3H91.7V97.4H94.2V103.5H96.7V113.5H98.2V121.6H100.3V128.6H102.3V133.7H106.3V136.7H108.3V138Z" fill="#8a4a85" fill-opacity="0.92"/><path d="M76.1 138V133.7H78.1V119.6H80.1V110.5H88.2V108.5H96.7V115.6H98.2V121.6H100.3V128.6H102.3V133.7H106.3V136.7H108.3V138Z" fill="#6a3391" fill-opacity="0.95"/></g>
<g><path d="M271.1 259V214.4H275.6V173.2H279.6V212.4H282.6V259Z" fill="#e3e2ef" fill-opacity="0.6"/><path d="M239.4 259V258.2H249.4V256.7H259.5V253.7H269.5V250.6H275.6V244.6H280.1V259Z" fill="#a9a6d0" fill-opacity="0.55"/><path d="M293.5 259V172.2H295V259Z" fill="#b9a3c6" fill-opacity="0.9"/><path d="M282.4 259V212.4H283.6V180.7H286.1V190.3H287.9V259Z" fill="#a27cb8" fill-opacity="0.95"/><path d="M287.7 259V187.3H289.7V200.3H291.1V259Z" fill="#e39a5e" fill-opacity="0.95"/><path d="M291 259V155.1H293.7V259Z" fill="#b07585" fill-opacity="0.95"/><path d="M279.6 259V231.5H281.6V222.5H283.6V208.4H287.2V204.4H290.9V200.3H292.2V226.5H293.7V259Z" fill="#8a55a6" fill-opacity="0.95"/><path d="M279.6 259V234.5H282.6V230.5H285.6V216.4H287.2V210.4H290.9V234.5H293.7V259Z" fill="#6a3391" fill-opacity="0.95"/></g>
<g><path d="M381.5 381V354.5H386.5V361.6H389V366.6H391.5V369.6H396.6V371.6H403.6V374.7H407.6V377.7H411.7V380.2H414.7V381Z" fill="#fcc9a0" fill-opacity="0.95"/><path d="M376.5 381V326.4H378V309.3H379.5V333.4H381.5V351.5H383V366.6H384.5V381Z" fill="#d6d2e8" fill-opacity="0.95"/><path d="M355.8 381V371.6H358.3V361.6H360.4V344.5H362.9V332.4H367.9V381Z" fill="#f0a478" fill-opacity="0.95"/><path d="M358.3 381V361.6H360.4V346.5H362.9V336.4H367.9V338.4H369.9V351.5H371.4V381Z" fill="#c08389" fill-opacity="0.95"/><path d="M368.4 381V376.7H370.4V351.5H371.4V326.4H372.6V295.2H373.2V276.1H374.9V306.2H376V351.5H377.5V376.7H379.5V381Z" fill="#7c479d" fill-opacity="0.95"/><path d="M368.6 381V377.7H370.4V369.6H377.5V377.7H379.3V381Z" fill="#6a3391" fill-opacity="0.95"/></g>
<g><path d="M423 503V426.2H426V417.2H430V412.1H470.3V423.2H476.3V431.3H479.8V438.3H485.9V452.4H491.4V464.5H497V476.5H503V487.6H508.5V494.1H514.6V499.2H520.6V501.7H526.6V503Z" fill="#fcc9a0" fill-opacity="0.95"/><path d="M479.8 503V442.3H482.4V458.4H487.9V472.5H492.9V487.6H497.5V497.7H501.5V503Z" fill="#e8935a" fill-opacity="0.9"/><path d="M423 503V431.3H426V422.2H430V413.2H433.1V403.1H437.1V399.1H440.6V402.1H445.1V398.1H452.2V403.1H455.2V406.1H462.2V408.1H466.3V419.2H470.3V428.2H473.8V432.3H477.8V440.3H481.4V450.4H484.9V458.4H487.9V473.5H491.4V484.6H494.4V494.6H498.5V500.7H502.5V503Z" fill="#a58dc6" fill-opacity="0.95"/><path d="M426 503V422.2H430V410.6H434.1V404.1H437.1V403.1H445.1V400.6H452.2V404.1H455.2V406.6H462.2V417.2H466.3V503Z" fill="#8a4d88" fill-opacity="0.95"/><path d="M423 503V431.3H426V422.2H430V413.7H435.1V408.1H445.1V405.6H452.2V409.6H462.2V413.7H466.3V419.2H470.3V430.3H473.8V442.3H477.8V458.4H481.4V476.5H484.9V488.6H487.9V497.7H491.4V501.7H494.4V503Z" fill="#693796" fill-opacity="0.97"/></g>
<g><path d="M544 624V622.2H600.3V621.5H609.4V619.2H613.9V624Z" fill="#c6aec6" fill-opacity="0.9"/><path d="M630.5 624V596H635.6V603.6H639.6V611.6H647.6V613.6H654.7V620.7H659.7V624Z" fill="#fcc9a0" fill-opacity="0.95"/><path d="M628.5 624V582.4H633.5V624H633.6V624Z" fill="#d0cce6" fill-opacity="0.95"/><path d="M630.7 624V596H633.5V624Z" fill="#e7c3b4" fill-opacity="0.9"/><path d="M613.9 624V611.1H619V624Z" fill="#d9a393" fill-opacity="0.95"/><path d="M619 624V591H622.3V624Z" fill="#ee915f" fill-opacity="0.95"/><path d="M619.3 624V619.7H621V599.5H622V561.3H624V520.1H627.5V545.2H628.5V579.4H629.3V599.5H630.3V619.7H631.5V624Z" fill="#7b4192" fill-opacity="0.95"/><path d="M619.5 624V620.7H621.3V605.6H629.5V620.7H631.3V624Z" fill="#6a3391" fill-opacity="0.95"/></g>
<g><path d="M729.4 746V678.3H740.4V693.9H746V702.9H751.5V712H757.6V723.1H763.6V736.1H769.1V743.7H775.2V746Z" fill="#fcc9a0" fill-opacity="0.95"/><path d="M720.8 746V666.2H723.3V644.1H726.9V650.1H731.4V697.4H731.5V746Z" fill="#cfcde6" fill-opacity="0.95"/><path d="M720.8 746V685.3H723.8V698.4H729.4V686.3H735.4V722.6H740.4V740.7H745.5V746Z" fill="#d8b9b8" fill-opacity="0.95"/><path d="M666 746V701.9H669.5V696.9H673V690.9H677.1V688.3H681.1V685.3H684.1V689.4H695.7V694.4H699.7V701.4H702.2V746Z" fill="#c88a82" fill-opacity="0.95"/><path d="M666 746V707.5H672V703.4H681.1V700.4H692.2V697.4H699.2V692.4H706.2V746Z" fill="#a886aa" fill-opacity="0.95"/><path d="M713.3 746V641.1H716.8V651.6H720V746Z" fill="#c48a6a" fill-opacity="0.95"/><path d="M706.2 746V678.3H710.3V655.1H714.3V653.1H717.3V675.3H720.8V708.5H723.8V746Z" fill="#8a4d88" fill-opacity="0.95"/><path d="M702.2 746V692.4H706.2V701.4H710.3V721.5H714.3V727.6H717.3V731.6H720.3V732.6H727.4V743.7H731.4V746Z" fill="#8456a5" fill-opacity="0.95"/><path d="M666 746V735.6H670V732.6H674V730.1H679.1V727.6H684.1V724.6H688.1V721.5H692.2V719.5H695.2V715.5H699.2V707.5H702.2V711.5H706.2V719.5H710.3V727.6H713.3V735.6H716.3V740.7H720.3V744.2H726.4V746Z" fill="#693796" fill-opacity="0.97"/></g>
<g><path d="M812.2 867V865.7H817.2V863.7H822.2V860.7H827.2V856.6H832.3V853.1H837.3V849.6H843.3V844.6H847.4V840H853.4V867Z" fill="#fbc096" fill-opacity="0.95"/><path d="M849.4 867V817.4H853.4V867Z" fill="#fde6d0" fill-opacity="0.9"/><path d="M862.7 867V762.1H865.5V867Z" fill="#e8e6f2" fill-opacity="0.95"/><path d="M865.3 867V820.4H867.5V836.5H871V867Z" fill="#cfcde6" fill-opacity="0.95"/><path d="M874.3 867V817.4H876V813.4H879.1V817.4H882.1V832.5H885.1V849.1H887.6V858.6H890.6V867Z" fill="#b0a2d0" fill-opacity="0.95"/><path d="M871 867V828.5H874.5V822.4H876V818.9H879.1V822.4H882.1V835.5H885.1V852.6H887.6V860.7H890.6V864.7H893.6V867Z" fill="#b27c8c" fill-opacity="0.95"/><path d="M851.4 867V845.6H853.4V828.5H855.4V804.3H857.4V867Z" fill="#e0935f" fill-opacity="0.95"/><path d="M853.9 867V832.5H855.4V804.3H857.4V792.2H859.4V785.7H861.4V791.2H863V807.3H864.5V822.4H866.5V837.5H868.5V852.6H870.5V862.7H872.5V867Z" fill="#7f4a9b" fill-opacity="0.95"/><path d="M849.4 867V862.7H852.4V852.6H855.4V842.5H866.5V855.6H869.5V863.7H872.5V867Z" fill="#693796" fill-opacity="0.97"/></g>
<g><path d="M958.8 989V978.6H973.4V982.2H979.4V984.7H989.5V986.2H1004.6V987.7H1023.7V989Z" fill="#f3a566" fill-opacity="0.95"/><path d="M958.8 989V952H963.8V966.6H968.9V989Z" fill="#fbc096" fill-opacity="0.95"/><path d="M959.8 989V973.6H966.3V978.6H969.4V989Z" fill="#e27a33" fill-opacity="0.9"/><path d="M920.1 989V987.7H925.1V985.2H930.1V975.6H935.2V959.5H939.2V989Z" fill="#d3a3ab" fill-opacity="0.9"/><path d="M952.3 989V884.1H955.5V924.8H958.8V989Z" fill="#c28c72" fill-opacity="0.95"/><path d="M930.1 989V980.6H935.2V962.5H937.7V960.5H939.7V946.4H942.2V924.8H945.2V897.6H947.2V886.6H949.2V892.1H952.5V912.2H955.5V939.4H957.3V980.6H969.4V989Z" fill="#8f63b2" fill-opacity="0.95"/><path d="M932.1 989V984.7H935.2V968.6H937.7V966.6H939.7V946.4H942.2V931.3H945.2V930.3H949.2V925.3H953.3V939.4H957.3V952.5H959.3V980.6H961.3V989Z" fill="#6e3d9c" fill-opacity="0.97"/></g>
<g><path d="M1036 1110V1108.7H1042.1V1105.2H1047.6V1101.1H1053.1V1099.6H1065.2V1097.6H1070.7V1095.1H1076.8V1083H1082.3V1066.9H1087.8V1084.5H1092.4V1110Z" fill="#fcc9a0" fill-opacity="0.95"/><path d="M1105 1110V1081H1109V1086H1112V1091.1H1115V1094.1H1120.5V1095.6H1126.6V1097.1H1136.6V1099.1H1142.7V1101.6H1145.3V1110Z" fill="#f0a474" fill-opacity="0.95"/><path d="M1092.4 1110V1065.4H1095.9V1006.1H1101.9V1062.4H1105V1110Z" fill="#c28c72" fill-opacity="0.95"/><path d="M1088.4 1110V1104.7H1090.4V1099.6H1092.9V1094.6H1095.9V1088.1H1099.4V1082.5H1102.4V1076.5H1105V1097.1H1108.5V1107.2H1111.5V1110Z" fill="#c9642f" fill-opacity="0.95"/></g>
<path d="M57.8 138.6H173.5" class="ax"/>
<path d="M70.9 138.6v3M96.7 138.6v3M122.5 138.6v3M148.2 138.6v3" class="tk"/>
<rect x="57.8" y="144.4" width="115.7" height="115.7" class="ax"/>
<path d="M70.9 260.1v3M96.7 260.1v3M122.5 260.1v3M148.2 260.1v3M57.8 169.1h-3M57.8 198.3h-3M57.8 227.4h-3M57.8 256.4h-3" class="tk"/>
<path d="M179.3 260.1H295.1" class="ax"/>
<path d="M182.8 260.1v3M211.9 260.1v3M241 260.1v3M270 260.1v3" class="tk"/>
<rect x="57.8" y="265.9" width="115.7" height="115.7" class="ax"/>
<path d="M70.9 381.6v3M96.7 381.6v3M122.5 381.6v3M148.2 381.6v3M57.8 284.6h-3M57.8 309.6h-3M57.8 334.5h-3M57.8 359.4h-3" class="tk"/>
<rect x="179.3" y="265.9" width="115.7" height="115.7" class="ax"/>
<path d="M182.8 381.6v3M211.9 381.6v3M241 381.6v3M270 381.6v3M179.3 284.6h-3M179.3 309.6h-3M179.3 334.5h-3M179.3 359.4h-3" class="tk"/>
<path d="M300.9 381.6H416.6" class="ax"/>
<path d="M322.5 381.6v3M347.4 381.6v3M372.3 381.6v3M397.2 381.6v3" class="tk"/>
<rect x="57.8" y="387.5" width="115.7" height="115.7" class="ax"/>
<path d="M70.9 503.2v3M96.7 503.2v3M122.5 503.2v3M148.2 503.2v3M57.8 388.9h-3M57.8 417.5h-3M57.8 446.1h-3M57.8 474.7h-3" class="tk"/>
<rect x="179.3" y="387.5" width="115.7" height="115.7" class="ax"/>
<path d="M182.8 503.2v3M211.9 503.2v3M241 503.2v3M270 503.2v3M179.3 388.9h-3M179.3 417.5h-3M179.3 446.1h-3M179.3 474.7h-3" class="tk"/>
<rect x="300.9" y="387.5" width="115.7" height="115.7" class="ax"/>
<path d="M322.5 503.2v3M347.4 503.2v3M372.3 503.2v3M397.2 503.2v3M300.9 388.9h-3M300.9 417.5h-3M300.9 446.1h-3M300.9 474.7h-3" class="tk"/>
<path d="M422.4 503.2H538.1" class="ax"/>
<path d="M451.4 503.2v3M479.8 503.2v3M508.3 503.2v3M536.7 503.2v3" class="tk"/>
<rect x="57.8" y="509.1" width="115.7" height="115.7" class="ax"/>
<path d="M70.9 624.8v3M96.7 624.8v3M122.5 624.8v3M148.2 624.8v3M57.8 519.8h-3M57.8 547.5h-3M57.8 575.3h-3M57.8 603h-3" class="tk"/>
<rect x="179.3" y="509.1" width="115.7" height="115.7" class="ax"/>
<path d="M182.8 624.8v3M211.9 624.8v3M241 624.8v3M270 624.8v3M179.3 519.8h-3M179.3 547.5h-3M179.3 575.3h-3M179.3 603h-3" class="tk"/>
<rect x="300.9" y="509.1" width="115.7" height="115.7" class="ax"/>
<path d="M322.5 624.8v3M347.4 624.8v3M372.3 624.8v3M397.2 624.8v3M300.9 519.8h-3M300.9 547.5h-3M300.9 575.3h-3M300.9 603h-3" class="tk"/>
<rect x="422.4" y="509.1" width="115.7" height="115.7" class="ax"/>
<path d="M451.4 624.8v3M479.8 624.8v3M508.3 624.8v3M536.7 624.8v3M422.4 519.8h-3M422.4 547.5h-3M422.4 575.3h-3M422.4 603h-3" class="tk"/>
<path d="M544 624.8H659.7" class="ax"/>
<path d="M565.8 624.8v3M593.5 624.8v3M621.2 624.8v3M649 624.8v3" class="tk"/>
<rect x="57.8" y="630.6" width="115.7" height="115.7" class="ax"/>
<path d="M70.9 746.3v3M96.7 746.3v3M122.5 746.3v3M148.2 746.3v3M57.8 643h-3M57.8 668.8h-3M57.8 694.7h-3M57.8 720.5h-3" class="tk"/>
<rect x="179.3" y="630.6" width="115.7" height="115.7" class="ax"/>
<path d="M182.8 746.3v3M211.9 746.3v3M241 746.3v3M270 746.3v3M179.3 643h-3M179.3 668.8h-3M179.3 694.7h-3M179.3 720.5h-3" class="tk"/>
<rect x="300.9" y="630.6" width="115.7" height="115.7" class="ax"/>
<path d="M322.5 746.3v3M347.4 746.3v3M372.3 746.3v3M397.2 746.3v3M300.9 643h-3M300.9 668.8h-3M300.9 694.7h-3M300.9 720.5h-3" class="tk"/>
<rect x="422.4" y="630.6" width="115.7" height="115.7" class="ax"/>
<path d="M451.4 746.3v3M479.8 746.3v3M508.3 746.3v3M536.7 746.3v3M422.4 643h-3M422.4 668.8h-3M422.4 694.7h-3M422.4 720.5h-3" class="tk"/>
<rect x="544" y="630.6" width="115.7" height="115.7" class="ax"/>
<path d="M565.8 746.3v3M593.5 746.3v3M621.2 746.3v3M649 746.3v3M544 643h-3M544 668.8h-3M544 694.7h-3M544 720.5h-3" class="tk"/>
<path d="M665.5 746.3H781.2" class="ax"/>
<path d="M691.6 746.3v3M717.6 746.3v3M743.5 746.3v3M769.4 746.3v3" class="tk"/>
<rect x="57.8" y="752.1" width="115.7" height="115.7" class="ax"/>
<path d="M70.9 867.9v3M96.7 867.9v3M122.5 867.9v3M148.2 867.9v3M57.8 756.2h-3M57.8 782.3h-3M57.8 808.4h-3M57.8 834.5h-3M57.8 860.6h-3" class="tk"/>
<rect x="179.3" y="752.1" width="115.7" height="115.7" class="ax"/>
<path d="M182.8 867.9v3M211.9 867.9v3M241 867.9v3M270 867.9v3M179.3 756.2h-3M179.3 782.3h-3M179.3 808.4h-3M179.3 834.5h-3M179.3 860.6h-3" class="tk"/>
<rect x="300.9" y="752.1" width="115.7" height="115.7" class="ax"/>
<path d="M322.5 867.9v3M347.4 867.9v3M372.3 867.9v3M397.2 867.9v3M300.9 756.2h-3M300.9 782.3h-3M300.9 808.4h-3M300.9 834.5h-3M300.9 860.6h-3" class="tk"/>
<rect x="422.4" y="752.1" width="115.7" height="115.7" class="ax"/>
<path d="M451.4 867.9v3M479.8 867.9v3M508.3 867.9v3M536.7 867.9v3M422.4 756.2h-3M422.4 782.3h-3M422.4 808.4h-3M422.4 834.5h-3M422.4 860.6h-3" class="tk"/>
<rect x="544" y="752.1" width="115.7" height="115.7" class="ax"/>
<path d="M565.8 867.9v3M593.5 867.9v3M621.2 867.9v3M649 867.9v3M544 756.2h-3M544 782.3h-3M544 808.4h-3M544 834.5h-3M544 860.6h-3" class="tk"/>
<rect x="665.5" y="752.1" width="115.7" height="115.7" class="ax"/>
<path d="M691.6 867.9v3M717.6 867.9v3M743.5 867.9v3M769.4 867.9v3M665.5 756.2h-3M665.5 782.3h-3M665.5 808.4h-3M665.5 834.5h-3M665.5 860.6h-3" class="tk"/>
<path d="M787.1 867.9H902.8" class="ax"/>
<path d="M794.5 867.9v3M820.7 867.9v3M846.9 867.9v3M873.1 867.9v3M899.3 867.9v3" class="tk"/>
<rect x="57.8" y="873.7" width="115.7" height="115.7" class="ax"/>
<path d="M70.9 989.4v3M96.7 989.4v3M122.5 989.4v3M148.2 989.4v3M57.8 899.6h-3M57.8 925.9h-3M57.8 952.2h-3M57.8 978.4h-3" class="tk"/>
<rect x="179.3" y="873.7" width="115.7" height="115.7" class="ax"/>
<path d="M182.8 989.4v3M211.9 989.4v3M241 989.4v3M270 989.4v3M179.3 899.6h-3M179.3 925.9h-3M179.3 952.2h-3M179.3 978.4h-3" class="tk"/>
<rect x="300.9" y="873.7" width="115.7" height="115.7" class="ax"/>
<path d="M322.5 989.4v3M347.4 989.4v3M372.3 989.4v3M397.2 989.4v3M300.9 899.6h-3M300.9 925.9h-3M300.9 952.2h-3M300.9 978.4h-3" class="tk"/>
<rect x="422.4" y="873.7" width="115.7" height="115.7" class="ax"/>
<path d="M451.4 989.4v3M479.8 989.4v3M508.3 989.4v3M536.7 989.4v3M422.4 899.6h-3M422.4 925.9h-3M422.4 952.2h-3M422.4 978.4h-3" class="tk"/>
<rect x="544" y="873.7" width="115.7" height="115.7" class="ax"/>
<path d="M565.8 989.4v3M593.5 989.4v3M621.2 989.4v3M649 989.4v3M544 899.6h-3M544 925.9h-3M544 952.2h-3M544 978.4h-3" class="tk"/>
<rect x="665.5" y="873.7" width="115.7" height="115.7" class="ax"/>
<path d="M691.6 989.4v3M717.6 989.4v3M743.5 989.4v3M769.4 989.4v3M665.5 899.6h-3M665.5 925.9h-3M665.5 952.2h-3M665.5 978.4h-3" class="tk"/>
<rect x="787.1" y="873.7" width="115.7" height="115.7" class="ax"/>
<path d="M794.5 989.4v3M820.7 989.4v3M846.9 989.4v3M873.1 989.4v3M899.3 989.4v3M787.1 899.6h-3M787.1 925.9h-3M787.1 952.2h-3M787.1 978.4h-3" class="tk"/>
<path d="M908.6 989.4H1024.3" class="ax"/>
<path d="M920.3 989.4v3M946.4 989.4v3M972.6 989.4v3M998.8 989.4v3" class="tk"/>
<rect x="57.8" y="995.2" width="115.7" height="115.7" class="ax"/>
<path d="M73.2 1111v3M102.9 1111v3M132.5 1111v3M162.2 1111v3M57.8 1005.8h-3M57.8 1038.5h-3M57.8 1071.2h-3M57.8 1103.8h-3" class="tk"/>
<rect x="179.3" y="995.2" width="115.7" height="115.7" class="ax"/>
<path d="M182.8 1111v3M211.9 1111v3M241 1111v3M270 1111v3M179.3 1005.8h-3M179.3 1038.5h-3M179.3 1071.2h-3M179.3 1103.8h-3" class="tk"/>
<rect x="300.9" y="995.2" width="115.7" height="115.7" class="ax"/>
<path d="M322.5 1111v3M347.4 1111v3M372.3 1111v3M397.2 1111v3M300.9 1005.8h-3M300.9 1038.5h-3M300.9 1071.2h-3M300.9 1103.8h-3" class="tk"/>
<rect x="422.4" y="995.2" width="115.7" height="115.7" class="ax"/>
<path d="M451.4 1111v3M479.8 1111v3M508.3 1111v3M536.7 1111v3M422.4 1005.8h-3M422.4 1038.5h-3M422.4 1071.2h-3M422.4 1103.8h-3" class="tk"/>
<rect x="544" y="995.2" width="115.7" height="115.7" class="ax"/>
<path d="M565.8 1111v3M593.5 1111v3M621.2 1111v3M649 1111v3M544 1005.8h-3M544 1038.5h-3M544 1071.2h-3M544 1103.8h-3" class="tk"/>
<rect x="665.5" y="995.2" width="115.7" height="115.7" class="ax"/>
<path d="M691.6 1111v3M717.6 1111v3M743.5 1111v3M769.4 1111v3M665.5 1005.8h-3M665.5 1038.5h-3M665.5 1071.2h-3M665.5 1103.8h-3" class="tk"/>
<rect x="787.1" y="995.2" width="115.7" height="115.7" class="ax"/>
<path d="M794.5 1111v3M820.7 1111v3M846.9 1111v3M873.1 1111v3M899.3 1111v3M787.1 1005.8h-3M787.1 1038.5h-3M787.1 1071.2h-3M787.1 1103.8h-3" class="tk"/>
<rect x="908.6" y="995.2" width="115.7" height="115.7" class="ax"/>
<path d="M920.3 1111v3M946.4 1111v3M972.6 1111v3M998.8 1111v3M908.6 1005.8h-3M908.6 1038.5h-3M908.6 1071.2h-3M908.6 1103.8h-3" class="tk"/>
<path d="M1030.2 1111H1145.9" class="ax"/>
<path d="M1037.4 1111v3M1070.1 1111v3M1102.8 1111v3M1135.5 1111v3" class="tk"/>
<text x="64.5" y="1131.5" transform="rotate(-45 73.2 1127.5)" class="tl">0.2</text>
<text x="94.2" y="1131.5" transform="rotate(-45 102.9 1127.5)" class="tl">0.4</text>
<text x="123.8" y="1131.5" transform="rotate(-45 132.5 1127.5)" class="tl">0.6</text>
<text x="153.5" y="1131.5" transform="rotate(-45 162.2 1127.5)" class="tl">0.8</text>
<text x="168.8" y="1135.2" transform="rotate(-45 182.8 1131.2)" class="tl">2850</text>
<text x="197.9" y="1135.2" transform="rotate(-45 211.9 1131.2)" class="tl">3000</text>
<text x="227" y="1135.2" transform="rotate(-45 241 1131.2)" class="tl">3150</text>
<text x="256" y="1135.2" transform="rotate(-45 270 1131.2)" class="tl">3300</text>
<text x="310.9" y="1133.5" transform="rotate(-45 322.5 1129.5)" class="tl">−10</text>
<text x="339.3" y="1131" transform="rotate(-45 347.4 1127)" class="tl">−8</text>
<text x="364.2" y="1131" transform="rotate(-45 372.3 1127)" class="tl">−6</text>
<text x="389.1" y="1131" transform="rotate(-45 397.2 1127)" class="tl">−4</text>
<text x="439.8" y="1133.5" transform="rotate(-45 451.4 1129.5)" class="tl">−10</text>
<text x="471.7" y="1131" transform="rotate(-45 479.8 1127)" class="tl">−8</text>
<text x="500.2" y="1131" transform="rotate(-45 508.3 1127)" class="tl">−6</text>
<text x="528.6" y="1131" transform="rotate(-45 536.7 1127)" class="tl">−4</text>
<text x="548.9" y="1137.2" transform="rotate(-45 565.8 1133.2)" class="tl">−10.0</text>
<text x="580.1" y="1134.7" transform="rotate(-45 593.5 1130.7)" class="tl">−7.5</text>
<text x="607.8" y="1134.7" transform="rotate(-45 621.2 1130.7)" class="tl">−5.0</text>
<text x="635.6" y="1134.7" transform="rotate(-45 649 1130.7)" class="tl">−2.5</text>
<text x="680" y="1133.5" transform="rotate(-45 691.6 1129.5)" class="tl">−10</text>
<text x="709.5" y="1131" transform="rotate(-45 717.6 1127)" class="tl">−8</text>
<text x="735.4" y="1131" transform="rotate(-45 743.5 1127)" class="tl">−6</text>
<text x="761.3" y="1131" transform="rotate(-45 769.4 1127)" class="tl">−4</text>
<text x="778.8" y="1136.4" transform="rotate(-45 794.5 1132.4)" class="tl">0.920</text>
<text x="805" y="1136.4" transform="rotate(-45 820.7 1132.4)" class="tl">0.925</text>
<text x="831.2" y="1136.4" transform="rotate(-45 846.9 1132.4)" class="tl">0.930</text>
<text x="857.4" y="1136.4" transform="rotate(-45 873.1 1132.4)" class="tl">0.935</text>
<text x="883.6" y="1136.4" transform="rotate(-45 899.3 1132.4)" class="tl">0.940</text>
<text x="909.8" y="1132.7" transform="rotate(-45 920.3 1128.7)" class="tl">500</text>
<text x="935.9" y="1132.7" transform="rotate(-45 946.4 1128.7)" class="tl">750</text>
<text x="958.6" y="1135.2" transform="rotate(-45 972.6 1131.2)" class="tl">1000</text>
<text x="984.8" y="1135.2" transform="rotate(-45 998.8 1131.2)" class="tl">1250</text>
<text x="1024" y="1134.7" transform="rotate(-45 1037.4 1130.7)" class="tl">−3.0</text>
<text x="1056.7" y="1134.7" transform="rotate(-45 1070.1 1130.7)" class="tl">−1.5</text>
<text x="1094.1" y="1131.5" transform="rotate(-45 1102.8 1127.5)" class="tl">0.0</text>
<text x="1126.8" y="1131.5" transform="rotate(-45 1135.5 1127.5)" class="tl">1.5</text>
<text x="23.6" y="183.5" transform="rotate(-45 37.6 179.5)" class="tl">3300</text>
<text x="23.6" y="212.7" transform="rotate(-45 37.6 208.7)" class="tl">3150</text>
<text x="23.6" y="241.8" transform="rotate(-45 37.6 237.8)" class="tl">3000</text>
<text x="23.6" y="270.8" transform="rotate(-45 37.6 266.8)" class="tl">2850</text>
<text x="33.6" y="294.9" transform="rotate(-45 41.7 290.9)" class="tl">−4</text>
<text x="33.6" y="319.9" transform="rotate(-45 41.7 315.9)" class="tl">−6</text>
<text x="33.6" y="344.8" transform="rotate(-45 41.7 340.8)" class="tl">−8</text>
<text x="27.7" y="372.2" transform="rotate(-45 39.3 368.1)" class="tl">−10</text>
<text x="33.6" y="399.2" transform="rotate(-45 41.7 395.2)" class="tl">−4</text>
<text x="33.6" y="427.8" transform="rotate(-45 41.7 423.8)" class="tl">−6</text>
<text x="33.6" y="456.4" transform="rotate(-45 41.7 452.4)" class="tl">−8</text>
<text x="27.7" y="487.5" transform="rotate(-45 39.3 483.4)" class="tl">−10</text>
<text x="24.7" y="533.8" transform="rotate(-45 38 529.8)" class="tl">−2.5</text>
<text x="24.7" y="561.5" transform="rotate(-45 38 557.5)" class="tl">−5.0</text>
<text x="24.7" y="589.3" transform="rotate(-45 38 585.3)" class="tl">−7.5</text>
<text x="18.7" y="619.5" transform="rotate(-45 35.5 615.5)" class="tl">−10.0</text>
<text x="33.6" y="653.3" transform="rotate(-45 41.7 649.3)" class="tl">−4</text>
<text x="33.6" y="679.1" transform="rotate(-45 41.7 675.1)" class="tl">−6</text>
<text x="33.6" y="705" transform="rotate(-45 41.7 701)" class="tl">−8</text>
<text x="27.7" y="733.3" transform="rotate(-45 39.3 729.2)" class="tl">−10</text>
<text x="20.6" y="771.9" transform="rotate(-45 36.3 767.9)" class="tl">0.940</text>
<text x="20.6" y="798" transform="rotate(-45 36.3 794)" class="tl">0.935</text>
<text x="20.6" y="824.1" transform="rotate(-45 36.3 820.1)" class="tl">0.930</text>
<text x="20.6" y="850.2" transform="rotate(-45 36.3 846.2)" class="tl">0.925</text>
<text x="20.6" y="876.3" transform="rotate(-45 36.3 872.3)" class="tl">0.920</text>
<text x="23.6" y="914" transform="rotate(-45 37.6 910)" class="tl">1250</text>
<text x="23.6" y="940.3" transform="rotate(-45 37.6 936.3)" class="tl">1000</text>
<text x="29.5" y="964.2" transform="rotate(-45 40 960.2)" class="tl">750</text>
<text x="29.5" y="990.4" transform="rotate(-45 40 986.4)" class="tl">500</text>
<text x="32.5" y="1016.5" transform="rotate(-45 41.3 1012.5)" class="tl">1.5</text>
<text x="32.5" y="1049.2" transform="rotate(-45 41.3 1045.2)" class="tl">0.0</text>
<text x="24.7" y="1085.2" transform="rotate(-45 38 1081.2)" class="tl">−1.5</text>
<text x="24.7" y="1117.8" transform="rotate(-45 38 1113.8)" class="tl">−3.0</text>
<text x="102.4" y="1157.5" font-size="14.2" fill="#1a1a1a" xml:space="preserve"><tspan>f</tspan><tspan font-size="9.9" dy="3.1">spot</tspan></text>
<text x="102.4" y="17.9" font-size="14.2" fill="#1a1a1a" xml:space="preserve"><tspan>f</tspan><tspan font-size="9.9" dy="3.1">spot</tspan></text>
<text x="222.1" y="1157.5" font-size="14.2" fill="#1a1a1a" xml:space="preserve"><tspan>T</tspan><tspan font-size="9.9" dy="3.1">spot</tspan></text>
<text x="222.1" y="139.4" font-size="14.2" fill="#1a1a1a" xml:space="preserve"><tspan>T</tspan><tspan font-size="9.9" dy="3.1">spot</tspan></text>
<text x="332.2" y="1157.5" font-size="14.2" fill="#1a1a1a" xml:space="preserve"><tspan>log CH</tspan><tspan font-size="9.9" dy="3.1">4</tspan></text>
<text x="332.2" y="260.9" font-size="14.2" fill="#1a1a1a" xml:space="preserve"><tspan>log CH</tspan><tspan font-size="9.9" dy="3.1">4</tspan></text>
<text x="453.1" y="1157.5" font-size="14.2" fill="#1a1a1a" xml:space="preserve"><tspan>log H</tspan><tspan font-size="9.9" dy="3.1">2</tspan><tspan dy="-3.1">O</tspan></text>
<text x="453.1" y="382.5" font-size="14.2" fill="#1a1a1a" xml:space="preserve"><tspan>log H</tspan><tspan font-size="9.9" dy="3.1">2</tspan><tspan dy="-3.1">O</tspan></text>
<text x="575.8" y="1157.5" font-size="14.2" fill="#1a1a1a" xml:space="preserve"><tspan>log H</tspan><tspan font-size="9.9" dy="3.1">2</tspan><tspan dy="-3.1">S</tspan></text>
<text x="575.8" y="504.1" font-size="14.2" fill="#1a1a1a" xml:space="preserve"><tspan>log H</tspan><tspan font-size="9.9" dy="3.1">2</tspan><tspan dy="-3.1">S</tspan></text>
<text x="696.6" y="1157.5" font-size="14.2" fill="#1a1a1a" xml:space="preserve"><tspan>log CO</tspan><tspan font-size="9.9" dy="3.1">2</tspan></text>
<text x="696.6" y="625.6" font-size="14.2" fill="#1a1a1a" xml:space="preserve"><tspan>log CO</tspan><tspan font-size="9.9" dy="3.1">2</tspan></text>
<text x="827" y="1157.5" font-size="14.2" fill="#1a1a1a" xml:space="preserve"><tspan>R</tspan><tspan font-size="9.9" dy="3.1">p, ref</tspan></text>
<text x="827" y="747.1" font-size="14.2" fill="#1a1a1a" xml:space="preserve"><tspan>R</tspan><tspan font-size="9.9" dy="3.1">p, ref</tspan></text>
<text x="962.2" y="1157.5" font-size="14.2" fill="#1a1a1a" xml:space="preserve"><tspan>T</tspan></text>
<text x="962.2" y="868.7" font-size="14.2" fill="#1a1a1a" xml:space="preserve"><tspan>T</tspan></text>
<text x="1057.2" y="1157.5" font-size="14.2" fill="#1a1a1a" xml:space="preserve"><tspan>log P</tspan><tspan font-size="9.9" dy="3.1">cloud</tspan></text>
<text x="1057.2" y="990.2" font-size="14.2" fill="#1a1a1a" xml:space="preserve"><tspan>log P</tspan><tspan font-size="9.9" dy="3.1">cloud</tspan></text>
<text x="3.1" y="202.2" font-size="14.2" fill="#1a1a1a" transform="rotate(-90 18.2 202.2)" xml:space="preserve"><tspan>T</tspan><tspan font-size="9.9" dy="3.1">spot</tspan></text>
<text x="-7.3" y="323.8" font-size="14.2" fill="#1a1a1a" transform="rotate(-90 19.2 323.8)" xml:space="preserve"><tspan>log CH</tspan><tspan font-size="9.9" dy="3.1">4</tspan></text>
<text x="-8" y="445.4" font-size="14.2" fill="#1a1a1a" transform="rotate(-90 19.2 445.4)" xml:space="preserve"><tspan>log H</tspan><tspan font-size="9.9" dy="3.1">2</tspan><tspan dy="-3.1">O</tspan></text>
<text x="-6.9" y="566.9" font-size="14.2" fill="#1a1a1a" transform="rotate(-90 19.2 566.9)" xml:space="preserve"><tspan>log H</tspan><tspan font-size="9.9" dy="3.1">2</tspan><tspan dy="-3.1">S</tspan></text>
<text x="-7.6" y="688.5" font-size="14.2" fill="#1a1a1a" transform="rotate(-90 19.2 688.5)" xml:space="preserve"><tspan>log CO</tspan><tspan font-size="9.9" dy="3.1">2</tspan></text>
<text x="-0.1" y="810" font-size="14.2" fill="#1a1a1a" transform="rotate(-90 17.9 810)" xml:space="preserve"><tspan>R</tspan><tspan font-size="9.9" dy="3.1">p, ref</tspan></text>
<text x="14.9" y="931.6" font-size="14.2" fill="#1a1a1a" transform="rotate(-90 19.2 931.6)" xml:space="preserve"><tspan>T</tspan></text>
<text x="-11.6" y="1053.1" font-size="14.2" fill="#1a1a1a" transform="rotate(-90 19.2 1053.1)" xml:space="preserve"><tspan>log P</tspan><tspan font-size="9.9" dy="3.1">cloud</tspan></text>
<text x="350.5" y="29.1" font-size="23.9" fill="#fdd8b3">Visit 1 (clouds)</text>
<text x="350.5" y="56.2" font-size="23.9" fill="#f9a25b">Visit 2 (clouds)</text>
<text x="350.5" y="83.2" font-size="23.9" fill="#d9560f">Visit 3 (clouds)</text>
<text x="350.5" y="110.2" font-size="23.9" fill="#7f2704">Coadd (clouds)</text>
<text x="350.5" y="137.3" font-size="23.9" fill="#e3e2ef">Visit 1 (no clouds)</text>
<text x="350.5" y="164.3" font-size="23.9" fill="#a9a6d0">Visit 2 (no clouds)</text>
<text x="350.5" y="191.4" font-size="23.9" fill="#6a51a3">Visit 3 (no clouds)</text>
<text x="350.5" y="218.4" font-size="23.9" fill="#3f007d">Coadd (no clouds)</text>
</svg>
</body></html>
